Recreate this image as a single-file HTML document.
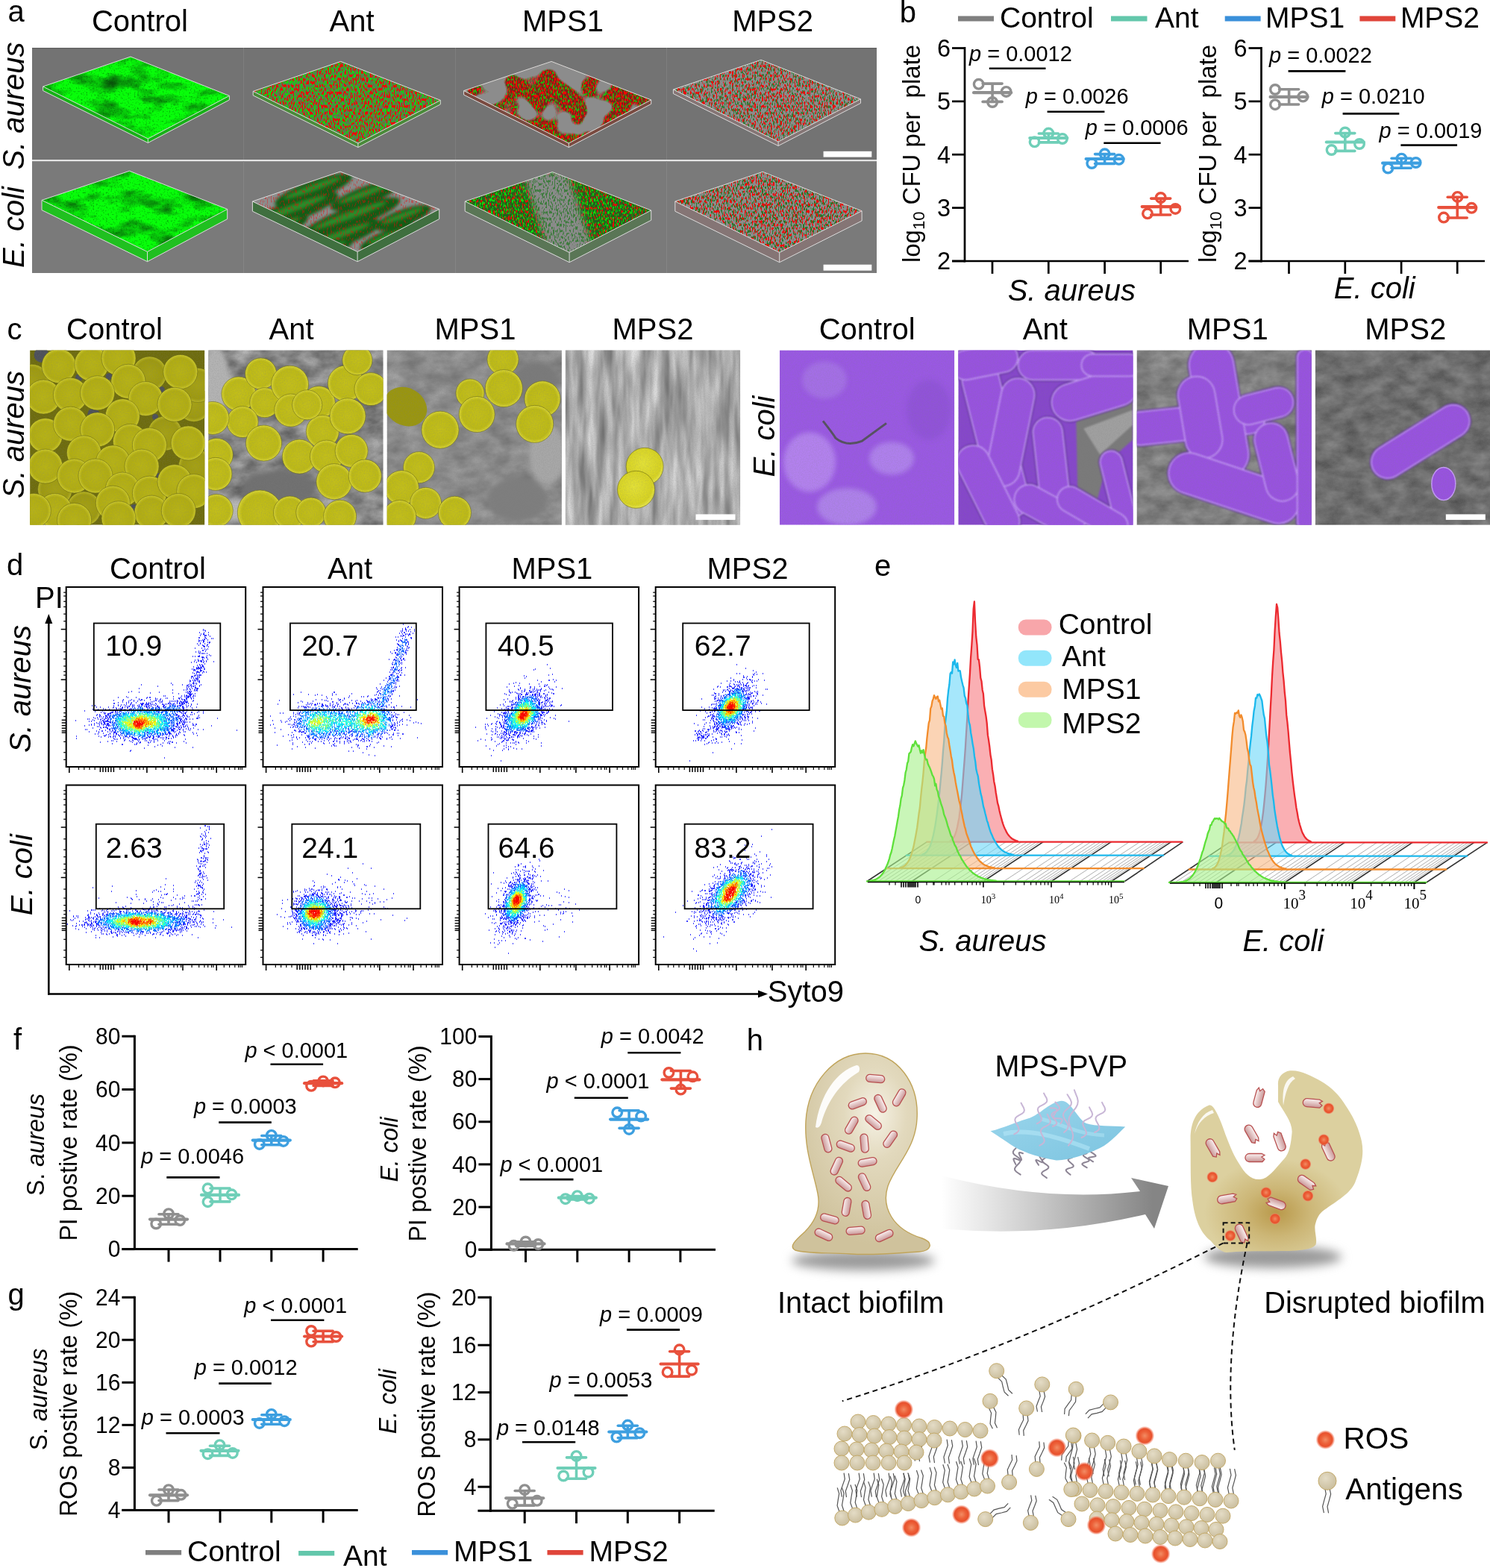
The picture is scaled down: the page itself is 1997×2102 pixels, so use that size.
<!DOCTYPE html><html><head><meta charset="utf-8"><title>Figure</title><style>html,body{margin:0;padding:0;background:#fff;width:1997px;height:2102px;overflow:hidden}</style></head><body><svg width="1997" height="2102" viewBox="0 0 1997 2102" style="display:block;font-family:'Liberation Sans', Arial, sans-serif"><defs>
<filter id="fGreen" color-interpolation-filters="sRGB" filterUnits="userSpaceOnUse" x="40" y="60" width="1140" height="310">
 <feTurbulence type="fractalNoise" baseFrequency="0.025 0.05" numOctaves="5" seed="3"/>
 <feColorMatrix type="matrix" values="0 0 0 0 0.03  1.5 0 0 0 0.17  0 0 0 0 0.04  0 0 0 0 1"/>
</filter>
<filter id="fGreen2" color-interpolation-filters="sRGB" filterUnits="userSpaceOnUse" x="40" y="60" width="1140" height="310">
 <feTurbulence type="fractalNoise" baseFrequency="0.025 0.05" numOctaves="5" seed="11"/>
 <feColorMatrix type="matrix" values="0 0 0 0 0.03  1.5 0 0 0 0.19  0 0 0 0 0.04  0 0 0 0 1"/>
</filter>
<filter id="fRed" color-interpolation-filters="sRGB" filterUnits="userSpaceOnUse" x="40" y="60" width="1140" height="310">
 <feTurbulence type="fractalNoise" baseFrequency="0.6 0.22" numOctaves="1" seed="5"/>
 <feColorMatrix type="matrix" values="0 0 0 0 0.95  0 0 0 0 0.02  0 0 0 0 0.02  14 0 0 0 -7.4"/>
</filter>
<filter id="fRedS" color-interpolation-filters="sRGB" filterUnits="userSpaceOnUse" x="40" y="60" width="1140" height="310">
 <feTurbulence type="fractalNoise" baseFrequency="0.6 0.22" numOctaves="1" seed="8"/>
 <feColorMatrix type="matrix" values="0 0 0 0 0.95  0 0 0 0 0.02  0 0 0 0 0.02  14 0 0 0 -7.75"/>
</filter>
<filter id="fGrnS" color-interpolation-filters="sRGB" filterUnits="userSpaceOnUse" x="40" y="60" width="1140" height="310">
 <feTurbulence type="fractalNoise" baseFrequency="0.6 0.24" numOctaves="1" seed="21"/>
 <feColorMatrix type="matrix" values="0 0 0 0 0.05  0 0 0 0 0.85  0 0 0 0 0.05  14 0 0 0 -7.0"/>
</filter>
<filter id="fGrnSd" color-interpolation-filters="sRGB" filterUnits="userSpaceOnUse" x="40" y="60" width="1140" height="310">
 <feTurbulence type="fractalNoise" baseFrequency="0.6 0.24" numOctaves="1" seed="31"/>
 <feColorMatrix type="matrix" values="0 0 0 0 0.05  0 0 0 0 0.45  0 0 0 0 0.05  14 0 0 0 -7.3"/>
</filter>
<filter id="fHoles" color-interpolation-filters="sRGB" filterUnits="userSpaceOnUse" x="40" y="60" width="1140" height="310">
 <feTurbulence type="fractalNoise" baseFrequency="0.028" numOctaves="2" seed="7"/>
 <feColorMatrix type="matrix" values="0 0 0 0 0.55  0 0 0 0 0.55  0 0 0 0 0.55  14 0 0 0 -6.75"/>
</filter>
<filter id="fGGrain" color-interpolation-filters="sRGB" filterUnits="userSpaceOnUse" x="40" y="60" width="1140" height="310">
 <feTurbulence type="fractalNoise" baseFrequency="0.45" numOctaves="2" seed="17"/>
 <feColorMatrix type="matrix" values="0 0 0 0 0  0 0 0 0 0.3  0 0 0 0 0  1.5 0 0 0 -0.8"/>
</filter>
<filter id="fBlur2" color-interpolation-filters="sRGB"><feGaussianBlur stdDeviation="2"/></filter>
<filter id="fBlur4" color-interpolation-filters="sRGB"><feGaussianBlur stdDeviation="4"/></filter>

<radialGradient id="gCoc" cx="0.5" cy="0.5" r="0.5">
 <stop offset="0" stop-color="#b8b414"/><stop offset="0.8" stop-color="#b2ae10"/><stop offset="0.92" stop-color="#c2be1c"/><stop offset="1" stop-color="#d8d634"/>
</radialGradient>
<radialGradient id="gCocA" cx="0.5" cy="0.5" r="0.5">
 <stop offset="0" stop-color="#c4c018"/><stop offset="0.8" stop-color="#bebb14"/><stop offset="0.92" stop-color="#cfcb24"/><stop offset="1" stop-color="#e0de3c"/>
</radialGradient>
<radialGradient id="gCocD" cx="0.5" cy="0.5" r="0.5">
 <stop offset="0" stop-color="#a6a212"/><stop offset="0.8" stop-color="#9e9a0e"/><stop offset="0.93" stop-color="#b0ac1a"/><stop offset="1" stop-color="#c8c62e"/>
</radialGradient>
<radialGradient id="gCocB" cx="0.45" cy="0.42" r="0.6">
 <stop offset="0" stop-color="#e4e236"/><stop offset="0.8" stop-color="#d8d420"/><stop offset="1" stop-color="#eceb50"/>
</radialGradient>
<filter id="fGrain" color-interpolation-filters="sRGB" filterUnits="userSpaceOnUse" x="0" y="460" width="1997" height="250">
 <feTurbulence type="fractalNoise" baseFrequency="0.7" numOctaves="2" seed="4"/>
 <feColorMatrix type="matrix" values="0 0 0 0 0.5  0 0 0 0 0.5  0 0 0 0 0.5  1.6 0 0 0 -0.6"/>
</filter>
<filter id="fSemBg" color-interpolation-filters="sRGB" filterUnits="userSpaceOnUse" x="0" y="460" width="1997" height="250">
 <feTurbulence type="fractalNoise" baseFrequency="0.035 0.06" numOctaves="4" seed="9"/>
 <feColorMatrix type="matrix" values="0.9 0 0 0 0.08  0.9 0 0 0 0.08  0.9 0 0 0 0.08  0 0 0 0 1"/>
</filter>
<filter id="fFib" color-interpolation-filters="sRGB" filterUnits="userSpaceOnUse" x="0" y="460" width="1997" height="250">
 <feTurbulence type="fractalNoise" baseFrequency="0.07 0.01" numOctaves="3" seed="12"/>
 <feColorMatrix type="matrix" values="0.8 0 0 0 0.28  0.8 0 0 0 0.28  0.8 0 0 0 0.28  0 0 0 0 1"/>
</filter>
<filter id="fSoft" color-interpolation-filters="sRGB" x="-50%" y="-50%" width="200%" height="200%"><feGaussianBlur stdDeviation="1.2"/></filter>
<filter id="fSoft3" color-interpolation-filters="sRGB"><feGaussianBlur stdDeviation="3"/></filter>

<radialGradient id="gBio" cx="0.6" cy="0.3" r="0.65">
 <stop offset="0" stop-color="#f6f2e6"/><stop offset="0.35" stop-color="#e2d9bd"/><stop offset="1" stop-color="#cfc29c"/>
</radialGradient>
<radialGradient id="gBio2" cx="0.5" cy="0.78" r="0.42" gradientTransform="translate(0.5 0.78) scale(1 0.7) translate(-0.5 -0.78)">
 <stop offset="0" stop-color="#b9994a"/><stop offset="0.45" stop-color="#ccb676"/><stop offset="1" stop-color="#dcd09f"/>
</radialGradient>
<linearGradient id="gRod" x1="0" y1="0" x2="0" y2="1">
 <stop offset="0" stop-color="#fbf2f2"/><stop offset="1" stop-color="#c99696"/>
</linearGradient>
<linearGradient id="gArrow" gradientUnits="userSpaceOnUse" x1="1262" y1="0" x2="1545" y2="0">
 <stop offset="0" stop-color="#ffffff"/><stop offset="0.35" stop-color="#d6d6d6"/><stop offset="1" stop-color="#858585"/>
</linearGradient>
<radialGradient id="gROS">
 <stop offset="0" stop-color="#f28c64"/><stop offset="0.45" stop-color="#ec6038"/><stop offset="0.72" stop-color="#e8502c"/><stop offset="0.86" stop-color="#f07050" stop-opacity="0.6"/><stop offset="1" stop-color="#f8a090" stop-opacity="0"/>
</radialGradient>
<radialGradient id="gHead" cx="0.4" cy="0.35" r="0.65">
 <stop offset="0" stop-color="#e4dcc6"/><stop offset="1" stop-color="#cbbf9f"/>
</radialGradient>
<linearGradient id="gSheet" x1="0" y1="0" x2="1" y2="1">
 <stop offset="0" stop-color="#9ad6ec"/><stop offset="0.5" stop-color="#8ccde6"/><stop offset="1" stop-color="#7cc4e0"/>
</linearGradient>
<filter id="fShadow" color-interpolation-filters="sRGB" x="-30%" y="-100%" width="160%" height="300%"><feGaussianBlur stdDeviation="7"/></filter>
</defs><rect width="1997" height="2102" fill="#fff"/><text x="10.5" y="29.4" style="font-size:40px" transform="translate(10.5 29.4) scale(1 1.015) translate(-10.5 -29.4)">a</text><text x="187.4" y="41.6" text-anchor="middle" style="font-size:40px" transform="translate(187.4 41.6) scale(1 1.015) translate(-187.4 -41.6)">Control</text><text x="471.6" y="41.6" text-anchor="middle" style="font-size:40px" transform="translate(471.6 41.6) scale(1 1.015) translate(-471.6 -41.6)">Ant</text><text x="754.5" y="41.6" text-anchor="middle" style="font-size:40px" transform="translate(754.5 41.6) scale(1 1.015) translate(-754.5 -41.6)">MPS1</text><text x="1035.6" y="41.6" text-anchor="middle" style="font-size:40px" transform="translate(1035.6 41.6) scale(1 1.015) translate(-1035.6 -41.6)">MPS2</text><text x="32.0" y="142.0" text-anchor="middle" style="font-size:40px;font-style:italic" transform="rotate(-90 32.0 142.0) translate(32.0 142.0) scale(1 1.015) translate(-32.0 -142.0)">S. aureus</text><text x="32.0" y="304.5" text-anchor="middle" style="font-size:40px;font-style:italic" transform="rotate(-90 32.0 304.5) translate(32.0 304.5) scale(1 1.015) translate(-32.0 -304.5)">E. coli</text><rect x="43.0" y="64.0" width="1132.0" height="150.5" fill="#737373"/><rect x="43.0" y="216.0" width="1132.0" height="150.0" fill="#7a7a7a"/><rect x="43.0" y="64.0" width="1132.0" height="1.5" fill="#646464"/><rect x="43.0" y="214.0" width="1132.0" height="2.2" fill="#e4e4e4"/><rect x="326.0" y="64.0" width="1.0" height="150.0" fill="#7e7e7e"/><rect x="326.0" y="216.0" width="1.0" height="150.0" fill="#858585"/><rect x="610.0" y="64.0" width="1.0" height="150.0" fill="#7e7e7e"/><rect x="610.0" y="216.0" width="1.0" height="150.0" fill="#858585"/><rect x="893.0" y="64.0" width="1.0" height="150.0" fill="#7e7e7e"/><rect x="893.0" y="216.0" width="1.0" height="150.0" fill="#858585"/><clipPath id="clipA1"><polygon points="175.0,76.0 307.4,128.4 198.3,186.0 57.6,116.0" fill="none"/></clipPath><polygon points="57.6,116.0 198.3,186.0 198.3,191.5 57.6,121.5" fill="#18b018"/><polygon points="198.3,186.0 307.4,128.4 307.4,133.9 198.3,191.5" fill="#18b018"/><g clip-path="url(#clipA1)"><rect x="40.0" y="60.0" width="300.0" height="160.0" fill="#0a8a0a"/><rect x="40" y="60" width="1140" height="310" filter="url(#fGreen)"/><rect x="40" y="60" width="1140" height="310" filter="url(#fGGrain)"/></g><polygon points="175.0,76.0 307.4,128.4 198.3,186.0 57.6,116.0" fill="none" stroke="#dcdcdc" stroke-width="1"/><line x1="57.6" y1="116.0" x2="57.6" y2="121.5" stroke="#dcdcdc" stroke-width="1"/><line x1="198.3" y1="186.0" x2="198.3" y2="191.5" stroke="#dcdcdc" stroke-width="1"/><line x1="307.4" y1="128.4" x2="307.4" y2="133.9" stroke="#dcdcdc" stroke-width="1"/><polyline points="57.6,121.5 198.3,191.5 307.4,133.9" fill="none" stroke="#dcdcdc" stroke-width="1"/><clipPath id="clipA2"><polygon points="456.7,82.4 590.3,134.4 479.9,192.0 339.2,122.4" fill="none"/></clipPath><polygon points="339.2,122.4 479.9,192.0 479.9,197.5 339.2,127.9" fill="#4a8a3a"/><polygon points="479.9,192.0 590.3,134.4 590.3,139.9 479.9,197.5" fill="#4a8a3a"/><g clip-path="url(#clipA2)"><rect x="320.0" y="60.0" width="300.0" height="160.0" fill="#5a7a50"/><rect x="40" y="60" width="1140" height="310" filter="url(#fGrnS)"/><rect x="40" y="60" width="1140" height="310" filter="url(#fRed)"/></g><polygon points="456.7,82.4 590.3,134.4 479.9,192.0 339.2,122.4" fill="none" stroke="#dcdcdc" stroke-width="1"/><line x1="339.2" y1="122.4" x2="339.2" y2="127.9" stroke="#dcdcdc" stroke-width="1"/><line x1="479.9" y1="192.0" x2="479.9" y2="197.5" stroke="#dcdcdc" stroke-width="1"/><line x1="590.3" y1="134.4" x2="590.3" y2="139.9" stroke="#dcdcdc" stroke-width="1"/><polyline points="339.2,127.9 479.9,197.5 590.3,139.9" fill="none" stroke="#dcdcdc" stroke-width="1"/><clipPath id="clipA3"><polygon points="739.1,82.4 872.7,133.9 762.3,192.0 621.6,121.6" fill="none"/></clipPath><polygon points="621.6,121.6 762.3,192.0 762.3,197.5 621.6,127.1" fill="#7a4a40"/><polygon points="762.3,192.0 872.7,133.9 872.7,139.4 762.3,197.5" fill="#7a4a40"/><g clip-path="url(#clipA3)"><rect x="600.0" y="60.0" width="300.0" height="160.0" fill="#7a2418"/><rect x="40" y="60" width="1140" height="310" filter="url(#fGrnS)" opacity="0.8"/><rect x="40" y="60" width="1140" height="310" filter="url(#fRed)"/><rect x="40" y="60" width="1140" height="310" filter="url(#fHoles)"/></g><polygon points="739.1,82.4 872.7,133.9 762.3,192.0 621.6,121.6" fill="none" stroke="#dcdcdc" stroke-width="1"/><line x1="621.6" y1="121.6" x2="621.6" y2="127.1" stroke="#dcdcdc" stroke-width="1"/><line x1="762.3" y1="192.0" x2="762.3" y2="197.5" stroke="#dcdcdc" stroke-width="1"/><line x1="872.7" y1="133.9" x2="872.7" y2="139.4" stroke="#dcdcdc" stroke-width="1"/><polyline points="621.6,127.1 762.3,197.5 872.7,139.4" fill="none" stroke="#dcdcdc" stroke-width="1"/><clipPath id="clipA4"><polygon points="1019.9,80.3 1153.5,132.8 1043.1,190.0 902.4,120.0" fill="none"/></clipPath><polygon points="902.4,120.0 1043.1,190.0 1043.1,195.5 902.4,125.5" fill="#857575"/><polygon points="1043.1,190.0 1153.5,132.8 1153.5,138.3 1043.1,195.5" fill="#857575"/><g clip-path="url(#clipA4)"><rect x="880.0" y="60.0" width="300.0" height="160.0" fill="#8c8c8c"/><rect x="40" y="60" width="1140" height="310" filter="url(#fGrnSd)" opacity="0.7"/><rect x="40" y="60" width="1140" height="310" filter="url(#fRedS)"/></g><polygon points="1019.9,80.3 1153.5,132.8 1043.1,190.0 902.4,120.0" fill="none" stroke="#dcdcdc" stroke-width="1"/><line x1="902.4" y1="120.0" x2="902.4" y2="125.5" stroke="#dcdcdc" stroke-width="1"/><line x1="1043.1" y1="190.0" x2="1043.1" y2="195.5" stroke="#dcdcdc" stroke-width="1"/><line x1="1153.5" y1="132.8" x2="1153.5" y2="138.3" stroke="#dcdcdc" stroke-width="1"/><polyline points="902.4,125.5 1043.1,195.5 1153.5,138.3" fill="none" stroke="#dcdcdc" stroke-width="1"/><clipPath id="clipA5"><polygon points="173.5,229.2 304.7,280.4 197.5,337.5 56.0,268.4" fill="none"/></clipPath><polygon points="56.0,268.4 197.5,337.5 197.5,350.7 56.0,281.6" fill="#20c020"/><polygon points="197.5,337.5 304.7,280.4 304.7,293.6 197.5,350.7" fill="#20c020"/><g clip-path="url(#clipA5)"><rect x="40.0" y="210.0" width="300.0" height="160.0" fill="#0a8a0a"/><rect x="40" y="60" width="1140" height="310" filter="url(#fGreen2)"/><rect x="40" y="60" width="1140" height="310" filter="url(#fGGrain)"/></g><polygon points="173.5,229.2 304.7,280.4 197.5,337.5 56.0,268.4" fill="none" stroke="#dcdcdc" stroke-width="1"/><line x1="56.0" y1="268.4" x2="56.0" y2="281.6" stroke="#dcdcdc" stroke-width="1"/><line x1="197.5" y1="337.5" x2="197.5" y2="350.7" stroke="#dcdcdc" stroke-width="1"/><line x1="304.7" y1="280.4" x2="304.7" y2="293.6" stroke="#dcdcdc" stroke-width="1"/><polyline points="56.0,281.6 197.5,350.7 304.7,293.6" fill="none" stroke="#dcdcdc" stroke-width="1"/><clipPath id="clipA6"><polygon points="455.9,230.0 588.7,280.4 479.1,337.5 338.4,270.0" fill="none"/></clipPath><polygon points="338.4,270.0 479.1,337.5 479.1,350.7 338.4,283.2" fill="#3f6f3f"/><polygon points="479.1,337.5 588.7,280.4 588.7,293.6 479.1,350.7" fill="#3f6f3f"/><g clip-path="url(#clipA6)"><rect x="320.0" y="210.0" width="300.0" height="160.0" fill="#8c8c8c"/><g filter="url(#fBlur2)"><ellipse cx="420" cy="255" rx="55" ry="13" fill="#135c15" transform="rotate(-20 420 255)"/><ellipse cx="420" cy="251.8" rx="41.2" ry="4.5" fill="#2a8c2a" transform="rotate(-20 420 255)"/><ellipse cx="490" cy="262" rx="50" ry="12" fill="#135c15" transform="rotate(-20 490 262)"/><ellipse cx="490" cy="259.0" rx="37.5" ry="4.2" fill="#2a8c2a" transform="rotate(-20 490 262)"/><ellipse cx="395" cy="282" rx="62" ry="14" fill="#135c15" transform="rotate(-20 395 282)"/><ellipse cx="395" cy="278.5" rx="46.5" ry="4.9" fill="#2a8c2a" transform="rotate(-20 395 282)"/><ellipse cx="470" cy="292" rx="70" ry="14" fill="#135c15" transform="rotate(-20 470 292)"/><ellipse cx="470" cy="288.5" rx="52.5" ry="4.9" fill="#2a8c2a" transform="rotate(-20 470 292)"/><ellipse cx="540" cy="292" rx="40" ry="11" fill="#135c15" transform="rotate(-20 540 292)"/><ellipse cx="540" cy="289.2" rx="30.0" ry="3.8" fill="#2a8c2a" transform="rotate(-20 540 292)"/><ellipse cx="375" cy="305" rx="40" ry="11" fill="#135c15" transform="rotate(-20 375 305)"/><ellipse cx="375" cy="302.2" rx="30.0" ry="3.8" fill="#2a8c2a" transform="rotate(-20 375 305)"/><ellipse cx="455" cy="318" rx="60" ry="13" fill="#135c15" transform="rotate(-20 455 318)"/><ellipse cx="455" cy="314.8" rx="45.0" ry="4.5" fill="#2a8c2a" transform="rotate(-20 455 318)"/><ellipse cx="525" cy="318" rx="45" ry="11" fill="#135c15" transform="rotate(-20 525 318)"/><ellipse cx="525" cy="315.2" rx="33.8" ry="3.8" fill="#2a8c2a" transform="rotate(-20 525 318)"/><ellipse cx="440" cy="335" rx="35" ry="9" fill="#135c15" transform="rotate(-20 440 335)"/><ellipse cx="440" cy="332.8" rx="26.2" ry="3.1" fill="#2a8c2a" transform="rotate(-20 440 335)"/><ellipse cx="560" cy="310" rx="25" ry="8" fill="#135c15" transform="rotate(-20 560 310)"/><ellipse cx="560" cy="308.0" rx="18.8" ry="2.8" fill="#2a8c2a" transform="rotate(-20 560 310)"/></g><rect x="40" y="60" width="1140" height="310" filter="url(#fRedS)" opacity="0.4"/></g><polygon points="455.9,230.0 588.7,280.4 479.1,337.5 338.4,270.0" fill="none" stroke="#dcdcdc" stroke-width="1"/><line x1="338.4" y1="270.0" x2="338.4" y2="283.2" stroke="#dcdcdc" stroke-width="1"/><line x1="479.1" y1="337.5" x2="479.1" y2="350.7" stroke="#dcdcdc" stroke-width="1"/><line x1="588.7" y1="280.4" x2="588.7" y2="293.6" stroke="#dcdcdc" stroke-width="1"/><polyline points="338.4,283.2 479.1,350.7 588.7,293.6" fill="none" stroke="#dcdcdc" stroke-width="1"/><clipPath id="clipA7"><polygon points="740.4,230.5 872.7,282.0 763.1,338.5 623.2,270.0" fill="none"/></clipPath><polygon points="623.2,270.0 763.1,338.5 763.1,351.7 623.2,283.2" fill="#5a7656"/><polygon points="763.1,338.5 872.7,282.0 872.7,295.2 763.1,351.7" fill="#5a7656"/><g clip-path="url(#clipA7)"><rect x="600.0" y="210.0" width="300.0" height="160.0" fill="#2a5a22"/><rect x="40" y="60" width="1140" height="310" filter="url(#fGrnS)"/><rect x="40" y="60" width="1140" height="310" filter="url(#fRedS)"/><g filter="url(#fBlur4)"><polygon points="700.0,230.0 760.0,230.0 800.0,350.0 740.0,350.0" fill="#8a8a8a"/></g><rect x="40" y="60" width="1140" height="310" filter="url(#fGrnSd)" opacity="0.6"/></g><polygon points="740.4,230.5 872.7,282.0 763.1,338.5 623.2,270.0" fill="none" stroke="#dcdcdc" stroke-width="1"/><line x1="623.2" y1="270.0" x2="623.2" y2="283.2" stroke="#dcdcdc" stroke-width="1"/><line x1="763.1" y1="338.5" x2="763.1" y2="351.7" stroke="#dcdcdc" stroke-width="1"/><line x1="872.7" y1="282.0" x2="872.7" y2="295.2" stroke="#dcdcdc" stroke-width="1"/><polyline points="623.2,283.2 763.1,351.7 872.7,295.2" fill="none" stroke="#dcdcdc" stroke-width="1"/><clipPath id="clipA8"><polygon points="1022.3,230.3 1155.1,282.8 1044.7,338.5 904.8,270.0" fill="none"/></clipPath><polygon points="904.8,270.0 1044.7,338.5 1044.7,351.7 904.8,283.2" fill="#857575"/><polygon points="1044.7,338.5 1155.1,282.8 1155.1,296.0 1044.7,351.7" fill="#857575"/><g clip-path="url(#clipA8)"><rect x="880.0" y="210.0" width="300.0" height="160.0" fill="#8c8c8c"/><rect x="40" y="60" width="1140" height="310" filter="url(#fGrnSd)" opacity="0.8"/><rect x="40" y="60" width="1140" height="310" filter="url(#fRedS)"/></g><polygon points="1022.3,230.3 1155.1,282.8 1044.7,338.5 904.8,270.0" fill="none" stroke="#dcdcdc" stroke-width="1"/><line x1="904.8" y1="270.0" x2="904.8" y2="283.2" stroke="#dcdcdc" stroke-width="1"/><line x1="1044.7" y1="338.5" x2="1044.7" y2="351.7" stroke="#dcdcdc" stroke-width="1"/><line x1="1155.1" y1="282.8" x2="1155.1" y2="296.0" stroke="#dcdcdc" stroke-width="1"/><polyline points="904.8,283.2 1044.7,351.7 1155.1,296.0" fill="none" stroke="#dcdcdc" stroke-width="1"/><rect x="1103.6" y="202.8" width="64.7" height="7.8" fill="#ffffff"/><rect x="1103.6" y="354.7" width="64.7" height="8.0" fill="#ffffff"/><rect x="1284.0" y="21.5" width="48.0" height="7.0" fill="#7f7f7f"/><text x="1340.0" y="37.0" style="font-size:39px" transform="translate(1340.0 37.0) scale(1 1.015) translate(-1340.0 -37.0)">Control</text><rect x="1489.0" y="21.5" width="48.5" height="7.0" fill="#63c7ab"/><text x="1548.0" y="37.0" style="font-size:39px" transform="translate(1548.0 37.0) scale(1 1.015) translate(-1548.0 -37.0)">Ant</text><rect x="1641.7" y="21.5" width="47.9" height="7.0" fill="#3a90da"/><text x="1696.0" y="37.0" style="font-size:39px" transform="translate(1696.0 37.0) scale(1 1.015) translate(-1696.0 -37.0)">MPS1</text><rect x="1822.4" y="21.5" width="47.9" height="7.0" fill="#e0453a"/><text x="1876.9" y="37.0" style="font-size:39px" transform="translate(1876.9 37.0) scale(1 1.015) translate(-1876.9 -37.0)">MPS2</text><text x="1205.7" y="30.2" style="font-size:40px" transform="translate(1205.7 30.2) scale(1 1.015) translate(-1205.7 -30.2)">b</text><line x1="1293.0" y1="63.0" x2="1293.0" y2="351.5" stroke="#000" stroke-width="2.7"/><line x1="1276.0" y1="350.0" x2="1593.0" y2="350.0" stroke="#000" stroke-width="2.7"/><line x1="1276.0" y1="64.5" x2="1293.0" y2="64.5" stroke="#000" stroke-width="2.7"/><text x="1274.0" y="76.0" text-anchor="end" style="font-size:32.5px" transform="translate(1274.0 76.0) scale(1 1.015) translate(-1274.0 -76.0)">6</text><line x1="1276.0" y1="135.9" x2="1293.0" y2="135.9" stroke="#000" stroke-width="2.7"/><text x="1274.0" y="147.4" text-anchor="end" style="font-size:32.5px" transform="translate(1274.0 147.4) scale(1 1.015) translate(-1274.0 -147.4)">5</text><line x1="1276.0" y1="207.2" x2="1293.0" y2="207.2" stroke="#000" stroke-width="2.7"/><text x="1274.0" y="218.8" text-anchor="end" style="font-size:32.5px" transform="translate(1274.0 218.8) scale(1 1.015) translate(-1274.0 -218.8)">4</text><line x1="1276.0" y1="278.6" x2="1293.0" y2="278.6" stroke="#000" stroke-width="2.7"/><text x="1274.0" y="290.2" text-anchor="end" style="font-size:32.5px" transform="translate(1274.0 290.2) scale(1 1.015) translate(-1274.0 -290.2)">3</text><line x1="1276.0" y1="350.0" x2="1293.0" y2="350.0" stroke="#000" stroke-width="2.7"/><text x="1274.0" y="361.5" text-anchor="end" style="font-size:32.5px" transform="translate(1274.0 361.5) scale(1 1.015) translate(-1274.0 -361.5)">2</text><line x1="1330.0" y1="350.0" x2="1330.0" y2="367.0" stroke="#000" stroke-width="2.7"/><line x1="1405.3" y1="350.0" x2="1405.3" y2="367.0" stroke="#000" stroke-width="2.7"/><line x1="1480.6" y1="350.0" x2="1480.6" y2="367.0" stroke="#000" stroke-width="2.7"/><line x1="1555.7" y1="350.0" x2="1555.7" y2="367.0" stroke="#000" stroke-width="2.7"/><line x1="1330.1" y1="112.1" x2="1330.1" y2="136.4" stroke="#8f8f8f" stroke-width="3.6"/><line x1="1317.1" y1="112.1" x2="1343.1" y2="112.1" stroke="#8f8f8f" stroke-width="3.6" stroke-linecap="round"/><line x1="1317.1" y1="136.4" x2="1343.1" y2="136.4" stroke="#8f8f8f" stroke-width="3.6" stroke-linecap="round"/><line x1="1305.1" y1="124.2" x2="1355.1" y2="124.2" stroke="#8f8f8f" stroke-width="4.2" stroke-linecap="round"/><circle cx="1311.7" cy="112.8" r="6.3" fill="none" stroke="#8f8f8f" stroke-width="3.4"/><circle cx="1348.6" cy="122.9" r="6.3" fill="none" stroke="#8f8f8f" stroke-width="3.4"/><circle cx="1330.1" cy="137.0" r="6.3" fill="none" stroke="#8f8f8f" stroke-width="3.4"/><line x1="1405.3" y1="179.0" x2="1405.3" y2="190.9" stroke="#6fcfb8" stroke-width="3.6"/><line x1="1392.3" y1="179.0" x2="1418.3" y2="179.0" stroke="#6fcfb8" stroke-width="3.6" stroke-linecap="round"/><line x1="1392.3" y1="190.9" x2="1418.3" y2="190.9" stroke="#6fcfb8" stroke-width="3.6" stroke-linecap="round"/><line x1="1380.3" y1="185.0" x2="1430.3" y2="185.0" stroke="#6fcfb8" stroke-width="4.2" stroke-linecap="round"/><circle cx="1386.6" cy="190.3" r="6.3" fill="none" stroke="#6fcfb8" stroke-width="3.4"/><circle cx="1405.3" cy="178.6" r="6.3" fill="none" stroke="#6fcfb8" stroke-width="3.4"/><circle cx="1423.9" cy="186.0" r="6.3" fill="none" stroke="#6fcfb8" stroke-width="3.4"/><line x1="1480.6" y1="206.6" x2="1480.6" y2="219.4" stroke="#3d9fe0" stroke-width="3.6"/><line x1="1467.6" y1="206.6" x2="1493.6" y2="206.6" stroke="#3d9fe0" stroke-width="3.6" stroke-linecap="round"/><line x1="1467.6" y1="219.4" x2="1493.6" y2="219.4" stroke="#3d9fe0" stroke-width="3.6" stroke-linecap="round"/><line x1="1455.6" y1="213.0" x2="1505.6" y2="213.0" stroke="#3d9fe0" stroke-width="4.2" stroke-linecap="round"/><circle cx="1463.3" cy="219.0" r="6.3" fill="none" stroke="#3d9fe0" stroke-width="3.4"/><circle cx="1480.6" cy="206.3" r="6.3" fill="none" stroke="#3d9fe0" stroke-width="3.4"/><circle cx="1499.6" cy="213.8" r="6.3" fill="none" stroke="#3d9fe0" stroke-width="3.4"/><line x1="1555.7" y1="266.1" x2="1555.7" y2="288.0" stroke="#e8503c" stroke-width="3.6"/><line x1="1542.7" y1="266.1" x2="1568.7" y2="266.1" stroke="#e8503c" stroke-width="3.6" stroke-linecap="round"/><line x1="1542.7" y1="288.0" x2="1568.7" y2="288.0" stroke="#e8503c" stroke-width="3.6" stroke-linecap="round"/><line x1="1530.7" y1="277.1" x2="1580.7" y2="277.1" stroke="#e8503c" stroke-width="4.2" stroke-linecap="round"/><circle cx="1538.0" cy="286.3" r="6.3" fill="none" stroke="#e8503c" stroke-width="3.4"/><circle cx="1555.7" cy="265.0" r="6.3" fill="none" stroke="#e8503c" stroke-width="3.4"/><circle cx="1575.3" cy="279.9" r="6.3" fill="none" stroke="#e8503c" stroke-width="3.4"/><line x1="1325.8" y1="91.8" x2="1401.5" y2="91.8" stroke="#000" stroke-width="2.6"/><text x="1299.0" y="81.6" style="font-size:29px" transform="translate(1299.0 81.6) scale(1 1.015) translate(-1299.0 -81.6)"><tspan style="font-style:italic">p</tspan> = 0.0012</text><line x1="1403.6" y1="149.8" x2="1480.4" y2="149.8" stroke="#000" stroke-width="2.6"/><text x="1374.8" y="139.0" style="font-size:29px" transform="translate(1374.8 139.0) scale(1 1.015) translate(-1374.8 -139.0)"><tspan style="font-style:italic">p</tspan> = 0.0026</text><line x1="1479.3" y1="191.8" x2="1555.6" y2="191.8" stroke="#000" stroke-width="2.6"/><text x="1454.8" y="181.2" style="font-size:29px" transform="translate(1454.8 181.2) scale(1 1.015) translate(-1454.8 -181.2)"><tspan style="font-style:italic">p</tspan> = 0.0006</text><line x1="1690.5" y1="63.0" x2="1690.5" y2="351.5" stroke="#000" stroke-width="2.7"/><line x1="1673.5" y1="350.0" x2="1990.0" y2="350.0" stroke="#000" stroke-width="2.7"/><line x1="1673.5" y1="64.5" x2="1690.5" y2="64.5" stroke="#000" stroke-width="2.7"/><text x="1671.5" y="76.0" text-anchor="end" style="font-size:32.5px" transform="translate(1671.5 76.0) scale(1 1.015) translate(-1671.5 -76.0)">6</text><line x1="1673.5" y1="135.9" x2="1690.5" y2="135.9" stroke="#000" stroke-width="2.7"/><text x="1671.5" y="147.4" text-anchor="end" style="font-size:32.5px" transform="translate(1671.5 147.4) scale(1 1.015) translate(-1671.5 -147.4)">5</text><line x1="1673.5" y1="207.2" x2="1690.5" y2="207.2" stroke="#000" stroke-width="2.7"/><text x="1671.5" y="218.8" text-anchor="end" style="font-size:32.5px" transform="translate(1671.5 218.8) scale(1 1.015) translate(-1671.5 -218.8)">4</text><line x1="1673.5" y1="278.6" x2="1690.5" y2="278.6" stroke="#000" stroke-width="2.7"/><text x="1671.5" y="290.2" text-anchor="end" style="font-size:32.5px" transform="translate(1671.5 290.2) scale(1 1.015) translate(-1671.5 -290.2)">3</text><line x1="1673.5" y1="350.0" x2="1690.5" y2="350.0" stroke="#000" stroke-width="2.7"/><text x="1671.5" y="361.5" text-anchor="end" style="font-size:32.5px" transform="translate(1671.5 361.5) scale(1 1.015) translate(-1671.5 -361.5)">2</text><line x1="1727.5" y1="350.0" x2="1727.5" y2="367.0" stroke="#000" stroke-width="2.7"/><line x1="1802.8" y1="350.0" x2="1802.8" y2="367.0" stroke="#000" stroke-width="2.7"/><line x1="1878.1" y1="350.0" x2="1878.1" y2="367.0" stroke="#000" stroke-width="2.7"/><line x1="1953.2" y1="350.0" x2="1953.2" y2="367.0" stroke="#000" stroke-width="2.7"/><line x1="1727.6" y1="119.8" x2="1727.6" y2="140.0" stroke="#8f8f8f" stroke-width="3.6"/><line x1="1714.6" y1="119.8" x2="1740.6" y2="119.8" stroke="#8f8f8f" stroke-width="3.6" stroke-linecap="round"/><line x1="1714.6" y1="140.0" x2="1740.6" y2="140.0" stroke="#8f8f8f" stroke-width="3.6" stroke-linecap="round"/><line x1="1702.6" y1="129.9" x2="1752.6" y2="129.9" stroke="#8f8f8f" stroke-width="4.2" stroke-linecap="round"/><circle cx="1709.0" cy="120.0" r="6.3" fill="none" stroke="#8f8f8f" stroke-width="3.4"/><circle cx="1746.3" cy="129.6" r="6.3" fill="none" stroke="#8f8f8f" stroke-width="3.4"/><circle cx="1709.0" cy="140.2" r="6.3" fill="none" stroke="#8f8f8f" stroke-width="3.4"/><line x1="1802.8" y1="178.6" x2="1802.8" y2="202.4" stroke="#6fcfb8" stroke-width="3.6"/><line x1="1789.8" y1="178.6" x2="1815.8" y2="178.6" stroke="#6fcfb8" stroke-width="3.6" stroke-linecap="round"/><line x1="1789.8" y1="202.4" x2="1815.8" y2="202.4" stroke="#6fcfb8" stroke-width="3.6" stroke-linecap="round"/><line x1="1777.8" y1="190.5" x2="1827.8" y2="190.5" stroke="#6fcfb8" stroke-width="4.2" stroke-linecap="round"/><circle cx="1784.6" cy="201.0" r="6.3" fill="none" stroke="#6fcfb8" stroke-width="3.4"/><circle cx="1802.8" cy="177.5" r="6.3" fill="none" stroke="#6fcfb8" stroke-width="3.4"/><circle cx="1822.0" cy="193.0" r="6.3" fill="none" stroke="#6fcfb8" stroke-width="3.4"/><line x1="1878.1" y1="212.3" x2="1878.1" y2="225.2" stroke="#3d9fe0" stroke-width="3.6"/><line x1="1865.1" y1="212.3" x2="1891.1" y2="212.3" stroke="#3d9fe0" stroke-width="3.6" stroke-linecap="round"/><line x1="1865.1" y1="225.2" x2="1891.1" y2="225.2" stroke="#3d9fe0" stroke-width="3.6" stroke-linecap="round"/><line x1="1853.1" y1="218.7" x2="1903.1" y2="218.7" stroke="#3d9fe0" stroke-width="4.2" stroke-linecap="round"/><circle cx="1860.3" cy="225.5" r="6.3" fill="none" stroke="#3d9fe0" stroke-width="3.4"/><circle cx="1878.4" cy="212.7" r="6.3" fill="none" stroke="#3d9fe0" stroke-width="3.4"/><circle cx="1897.6" cy="218.0" r="6.3" fill="none" stroke="#3d9fe0" stroke-width="3.4"/><line x1="1953.2" y1="264.2" x2="1953.2" y2="292.0" stroke="#e8503c" stroke-width="3.6"/><line x1="1940.2" y1="264.2" x2="1966.2" y2="264.2" stroke="#e8503c" stroke-width="3.6" stroke-linecap="round"/><line x1="1940.2" y1="292.0" x2="1966.2" y2="292.0" stroke="#e8503c" stroke-width="3.6" stroke-linecap="round"/><line x1="1928.2" y1="278.1" x2="1978.2" y2="278.1" stroke="#e8503c" stroke-width="4.2" stroke-linecap="round"/><circle cx="1935.0" cy="291.6" r="6.3" fill="none" stroke="#e8503c" stroke-width="3.4"/><circle cx="1953.5" cy="263.9" r="6.3" fill="none" stroke="#e8503c" stroke-width="3.4"/><circle cx="1972.3" cy="278.8" r="6.3" fill="none" stroke="#e8503c" stroke-width="3.4"/><line x1="1726.6" y1="95.4" x2="1803.4" y2="95.4" stroke="#000" stroke-width="2.6"/><text x="1701.0" y="83.7" style="font-size:29px" transform="translate(1701.0 83.7) scale(1 1.015) translate(-1701.0 -83.7)"><tspan style="font-style:italic">p</tspan> = 0.0022</text><line x1="1799.6" y1="152.4" x2="1875.3" y2="152.4" stroke="#000" stroke-width="2.6"/><text x="1771.8" y="139.1" style="font-size:29px" transform="translate(1771.8 139.1) scale(1 1.015) translate(-1771.8 -139.1)"><tspan style="font-style:italic">p</tspan> = 0.0210</text><line x1="1877.4" y1="194.6" x2="1953.0" y2="194.6" stroke="#000" stroke-width="2.6"/><text x="1848.6" y="185.0" style="font-size:29px" transform="translate(1848.6 185.0) scale(1 1.015) translate(-1848.6 -185.0)"><tspan style="font-style:italic">p</tspan> = 0.0019</text><text x="1350.7" y="403.0" style="font-size:40px;font-style:italic" transform="translate(1350.7 403.0) scale(1 1.015) translate(-1350.7 -403.0)">S. aureus</text><text x="1787.8" y="400.3" style="font-size:40px;font-style:italic" transform="translate(1787.8 400.3) scale(1 1.015) translate(-1787.8 -400.3)">E. coli</text><text x="1233" y="206" text-anchor="middle" transform="rotate(-90 1233 206) translate(1233.0 206.0) scale(1 1.015) translate(-1233.0 -206.0)" style="font-size:33px;white-space:pre" xml:space="preserve">log<tspan style="font-size:22px" dy="6">10</tspan><tspan dy="-6"> CFU per  plate</tspan></text><text x="1630.5" y="206" text-anchor="middle" transform="rotate(-90 1630.5 206) translate(1630.5 206.0) scale(1 1.015) translate(-1630.5 -206.0)" style="font-size:33px;white-space:pre" xml:space="preserve">log<tspan style="font-size:22px" dy="6">10</tspan><tspan dy="-6"> CFU per  plate</tspan></text><text x="9.5" y="455.0" style="font-size:40px" transform="translate(9.5 455.0) scale(1 1.015) translate(-9.5 -455.0)">c</text><text x="153.5" y="455.0" text-anchor="middle" style="font-size:40px" transform="translate(153.5 455.0) scale(1 1.015) translate(-153.5 -455.0)">Control</text><text x="390.5" y="455.0" text-anchor="middle" style="font-size:40px" transform="translate(390.5 455.0) scale(1 1.015) translate(-390.5 -455.0)">Ant</text><text x="637.0" y="455.0" text-anchor="middle" style="font-size:40px" transform="translate(637.0 455.0) scale(1 1.015) translate(-637.0 -455.0)">MPS1</text><text x="875.0" y="455.0" text-anchor="middle" style="font-size:40px" transform="translate(875.0 455.0) scale(1 1.015) translate(-875.0 -455.0)">MPS2</text><text x="1162.2" y="455.0" text-anchor="middle" style="font-size:40px" transform="translate(1162.2 455.0) scale(1 1.015) translate(-1162.2 -455.0)">Control</text><text x="1400.8" y="455.0" text-anchor="middle" style="font-size:40px" transform="translate(1400.8 455.0) scale(1 1.015) translate(-1400.8 -455.0)">Ant</text><text x="1645.2" y="455.0" text-anchor="middle" style="font-size:40px" transform="translate(1645.2 455.0) scale(1 1.015) translate(-1645.2 -455.0)">MPS1</text><text x="1883.7" y="455.0" text-anchor="middle" style="font-size:40px" transform="translate(1883.7 455.0) scale(1 1.015) translate(-1883.7 -455.0)">MPS2</text><text x="32.0" y="582.6" text-anchor="middle" style="font-size:40px;font-style:italic" transform="rotate(-90 32.0 582.6) translate(32.0 582.6) scale(1 1.015) translate(-32.0 -582.6)">S. aureus</text><text x="1038.0" y="585.0" text-anchor="middle" style="font-size:40px;font-style:italic" transform="rotate(-90 1038.0 585.0) translate(1038.0 585.0) scale(1 1.015) translate(-1038.0 -585.0)">E. coli</text><clipPath id="clipC0"><rect x="40.1" y="469.4" width="234.3" height="234.3"/></clipPath><clipPath id="clipC1"><rect x="279.3" y="469.4" width="234.3" height="234.3"/></clipPath><clipPath id="clipC2"><rect x="518.6" y="469.4" width="234.3" height="234.3"/></clipPath><clipPath id="clipC3"><rect x="757.8" y="469.4" width="234.3" height="234.3"/></clipPath><clipPath id="clipC4"><rect x="1045" y="469.4" width="234.3" height="234.3"/></clipPath><clipPath id="clipC5"><rect x="1284.3" y="469.4" width="234.3" height="234.3"/></clipPath><clipPath id="clipC6"><rect x="1523.6" y="469.4" width="234.3" height="234.3"/></clipPath><clipPath id="clipC7"><rect x="1762.8" y="469.4" width="234.3" height="234.3"/></clipPath><g clip-path="url(#clipC0)"><rect x="40.1" y="469.4" width="234.3" height="234.3" fill="#6e6c0c"/><circle cx="106.0" cy="506.1" r="5" fill="#4c505a"/><circle cx="146.1" cy="504.8" r="4.5" fill="#4c505a"/><circle cx="125.4" cy="555.2" r="8" fill="#4c505a"/><circle cx="215.9" cy="522.9" r="5" fill="#4c505a"/><circle cx="208.1" cy="559.1" r="4" fill="#4c505a"/><circle cx="117.7" cy="669.0" r="6" fill="#4c505a"/><circle cx="179.7" cy="681.9" r="6" fill="#4c505a"/><circle cx="213.3" cy="638.0" r="4" fill="#4c505a"/><circle cx="257.3" cy="575.9" r="4" fill="#4c505a"/><circle cx="55.6" cy="475.9" r="10" fill="#4c505a"/><circle cx="45.3" cy="614.2" r="5" fill="#4c505a"/><circle cx="45.3" cy="681.4" r="5" fill="#4c505a"/><circle cx="200.4" cy="500.9" r="23" fill="url(#gCocD)" stroke="#6a6808" stroke-width="0.6"/><circle cx="259.8" cy="542.3" r="23" fill="url(#gCocD)" stroke="#6a6808" stroke-width="0.6"/><circle cx="221.1" cy="581.1" r="23" fill="url(#gCocD)" stroke="#6a6808" stroke-width="0.6"/><circle cx="262.4" cy="625.1" r="23" fill="url(#gCocD)" stroke="#6a6808" stroke-width="0.6"/><circle cx="73.7" cy="656.1" r="23" fill="url(#gCocD)" stroke="#6a6808" stroke-width="0.6"/><circle cx="112.5" cy="681.9" r="23" fill="url(#gCocD)" stroke="#6a6808" stroke-width="0.6"/><circle cx="42.7" cy="511.3" r="23" fill="url(#gCocD)" stroke="#6a6808" stroke-width="0.6"/><circle cx="265.0" cy="516.4" r="23" fill="url(#gCocD)" stroke="#6a6808" stroke-width="0.6"/><circle cx="78.9" cy="490.6" r="23" fill="url(#gCoc)" stroke="#6a6808" stroke-width="0.6"/><circle cx="122.8" cy="488.0" r="23" fill="url(#gCoc)" stroke="#6a6808" stroke-width="0.6"/><circle cx="159.0" cy="480.3" r="23" fill="url(#gCoc)" stroke="#6a6808" stroke-width="0.6"/><circle cx="171.9" cy="511.3" r="23" fill="url(#gCoc)" stroke="#6a6808" stroke-width="0.6"/><circle cx="241.8" cy="498.4" r="23" fill="url(#gCoc)" stroke="#6a6808" stroke-width="0.6"/><circle cx="58.2" cy="532.0" r="23" fill="url(#gCoc)" stroke="#6a6808" stroke-width="0.6"/><circle cx="94.4" cy="529.4" r="23" fill="url(#gCoc)" stroke="#6a6808" stroke-width="0.6"/><circle cx="130.6" cy="526.8" r="23" fill="url(#gCoc)" stroke="#6a6808" stroke-width="0.6"/><circle cx="195.2" cy="534.5" r="23" fill="url(#gCoc)" stroke="#6a6808" stroke-width="0.6"/><circle cx="234.0" cy="542.3" r="23" fill="url(#gCoc)" stroke="#6a6808" stroke-width="0.6"/><circle cx="164.2" cy="557.8" r="23" fill="url(#gCoc)" stroke="#6a6808" stroke-width="0.6"/><circle cx="60.8" cy="583.7" r="23" fill="url(#gCoc)" stroke="#6a6808" stroke-width="0.6"/><circle cx="94.4" cy="568.2" r="23" fill="url(#gCoc)" stroke="#6a6808" stroke-width="0.6"/><circle cx="130.6" cy="575.9" r="23" fill="url(#gCoc)" stroke="#6a6808" stroke-width="0.6"/><circle cx="252.1" cy="594.0" r="23" fill="url(#gCoc)" stroke="#6a6808" stroke-width="0.6"/><circle cx="112.5" cy="606.9" r="23" fill="url(#gCoc)" stroke="#6a6808" stroke-width="0.6"/><circle cx="174.5" cy="591.4" r="23" fill="url(#gCoc)" stroke="#6a6808" stroke-width="0.6"/><circle cx="200.4" cy="596.6" r="23" fill="url(#gCoc)" stroke="#6a6808" stroke-width="0.6"/><circle cx="151.3" cy="619.9" r="23" fill="url(#gCoc)" stroke="#6a6808" stroke-width="0.6"/><circle cx="190.0" cy="625.1" r="23" fill="url(#gCoc)" stroke="#6a6808" stroke-width="0.6"/><circle cx="60.8" cy="625.1" r="23" fill="url(#gCoc)" stroke="#6a6808" stroke-width="0.6"/><circle cx="99.6" cy="638.0" r="23" fill="url(#gCoc)" stroke="#6a6808" stroke-width="0.6"/><circle cx="128.0" cy="638.0" r="23" fill="url(#gCoc)" stroke="#6a6808" stroke-width="0.6"/><circle cx="164.2" cy="656.1" r="23" fill="url(#gCoc)" stroke="#6a6808" stroke-width="0.6"/><circle cx="200.4" cy="661.2" r="23" fill="url(#gCoc)" stroke="#6a6808" stroke-width="0.6"/><circle cx="234.0" cy="645.7" r="23" fill="url(#gCoc)" stroke="#6a6808" stroke-width="0.6"/><circle cx="259.8" cy="658.6" r="23" fill="url(#gCoc)" stroke="#6a6808" stroke-width="0.6"/><circle cx="73.7" cy="684.5" r="23" fill="url(#gCoc)" stroke="#6a6808" stroke-width="0.6"/><circle cx="151.3" cy="674.2" r="23" fill="url(#gCoc)" stroke="#6a6808" stroke-width="0.6"/><circle cx="203.1" cy="687.1" r="23" fill="url(#gCoc)" stroke="#6a6808" stroke-width="0.6"/><circle cx="239.3" cy="684.5" r="23" fill="url(#gCoc)" stroke="#6a6808" stroke-width="0.6"/><circle cx="99.6" cy="697.4" r="23" fill="url(#gCoc)" stroke="#6a6808" stroke-width="0.6"/><circle cx="159.0" cy="694.8" r="23" fill="url(#gCoc)" stroke="#6a6808" stroke-width="0.6"/><circle cx="45.3" cy="684.5" r="23" fill="url(#gCoc)" stroke="#6a6808" stroke-width="0.6"/><rect x="40.1" y="469.4" width="234.3" height="234.3" filter="url(#fGrain)" opacity="0.3"/></g><g clip-path="url(#clipC1)"><rect x="279.3" y="469.4" width="234.3" height="234.3" fill="#858585"/><rect x="279.3" y="469.4" width="234.3" height="234.3" filter="url(#fSemBg)" opacity="0.5"/><g filter="url(#fSoft3)"><ellipse cx="289.3" cy="509.4" rx="18" ry="45" fill="#b4b4b4"/><ellipse cx="324.3" cy="684.4" rx="35" ry="15" fill="#b8b8b8"/><ellipse cx="374.3" cy="654.4" rx="50" ry="25" fill="#707070"/></g><circle cx="319.9" cy="528.1" r="23" fill="url(#gCocA)" stroke="#6a6808" stroke-width="0.6"/><circle cx="349.6" cy="500.9" r="21" fill="url(#gCocA)" stroke="#6a6808" stroke-width="0.6"/><circle cx="354.8" cy="539.7" r="20" fill="url(#gCocA)" stroke="#6a6808" stroke-width="0.6"/><circle cx="325.1" cy="565.6" r="21" fill="url(#gCocA)" stroke="#6a6808" stroke-width="0.6"/><circle cx="388.5" cy="515.2" r="25" fill="url(#gCocA)" stroke="#6a6808" stroke-width="0.6"/><circle cx="389.7" cy="550.1" r="22" fill="url(#gCocA)" stroke="#6a6808" stroke-width="0.6"/><circle cx="427.2" cy="539.7" r="22" fill="url(#gCocA)" stroke="#6a6808" stroke-width="0.6"/><circle cx="463.4" cy="513.9" r="24" fill="url(#gCocA)" stroke="#6a6808" stroke-width="0.6"/><circle cx="497.0" cy="521.6" r="22" fill="url(#gCocA)" stroke="#6a6808" stroke-width="0.6"/><circle cx="478.9" cy="482.8" r="20" fill="url(#gCocA)" stroke="#6a6808" stroke-width="0.6"/><circle cx="353.5" cy="594.0" r="24" fill="url(#gCocA)" stroke="#6a6808" stroke-width="0.6"/><circle cx="432.3" cy="578.5" r="22" fill="url(#gCocA)" stroke="#6a6808" stroke-width="0.6"/><circle cx="466.0" cy="557.8" r="24" fill="url(#gCocA)" stroke="#6a6808" stroke-width="0.6"/><circle cx="401.3" cy="612.1" r="23" fill="url(#gCocA)" stroke="#6a6808" stroke-width="0.6"/><circle cx="437.5" cy="612.1" r="22" fill="url(#gCocA)" stroke="#6a6808" stroke-width="0.6"/><circle cx="471.1" cy="604.4" r="22" fill="url(#gCocA)" stroke="#6a6808" stroke-width="0.6"/><circle cx="447.9" cy="645.7" r="24" fill="url(#gCocA)" stroke="#6a6808" stroke-width="0.6"/><circle cx="489.2" cy="638.0" r="22" fill="url(#gCocA)" stroke="#6a6808" stroke-width="0.6"/><circle cx="285.0" cy="560.4" r="22" fill="url(#gCocA)" stroke="#6a6808" stroke-width="0.6"/><circle cx="290.2" cy="609.5" r="22" fill="url(#gCocA)" stroke="#6a6808" stroke-width="0.6"/><circle cx="288.9" cy="635.4" r="22" fill="url(#gCocA)" stroke="#6a6808" stroke-width="0.6"/><circle cx="290.2" cy="684.5" r="22" fill="url(#gCocA)" stroke="#6a6808" stroke-width="0.6"/><circle cx="348.3" cy="687.1" r="30" fill="url(#gCocA)" stroke="#6a6808" stroke-width="0.6"/><circle cx="388.5" cy="687.1" r="22" fill="url(#gCocA)" stroke="#6a6808" stroke-width="0.6"/><circle cx="416.8" cy="687.1" r="20" fill="url(#gCocA)" stroke="#6a6808" stroke-width="0.6"/><circle cx="455.6" cy="692.3" r="22" fill="url(#gCocA)" stroke="#6a6808" stroke-width="0.6"/><circle cx="411.7" cy="542.8" r="20" fill="url(#gCocA)" stroke="#6a6808" stroke-width="0.6"/><rect x="279.3" y="469.4" width="234.3" height="234.3" filter="url(#fGrain)" opacity="0.3"/></g><g clip-path="url(#clipC2)"><rect x="518.6" y="469.4" width="234.3" height="234.3" fill="#8c8c8c"/><rect x="518.6" y="469.4" width="234.3" height="234.3" filter="url(#fSemBg)" opacity="0.25"/><g filter="url(#fSoft3)"><ellipse cx="733.6" cy="609.4" rx="25" ry="40" fill="#a8a8a8"/><ellipse cx="718.6" cy="509.4" rx="30" ry="25" fill="#7a7a7a"/><ellipse cx="693.6" cy="669.4" rx="40" ry="30" fill="#7e7e7e"/></g><ellipse cx="543.4" cy="545.1" rx="30" ry="25" fill="#9a960e" transform="rotate(30 543.4 545.1)"/><circle cx="674.0" cy="481.8" r="21" fill="url(#gCocA)" stroke="#6a6808" stroke-width="0.6"/><circle cx="675.3" cy="520.6" r="25" fill="url(#gCocA)" stroke="#6a6808" stroke-width="0.6"/><circle cx="630.0" cy="527.0" r="19" fill="url(#gCocA)" stroke="#6a6808" stroke-width="0.6"/><circle cx="639.1" cy="555.5" r="24" fill="url(#gCocA)" stroke="#6a6808" stroke-width="0.6"/><circle cx="727.0" cy="534.8" r="24" fill="url(#gCocA)" stroke="#6a6808" stroke-width="0.6"/><circle cx="716.7" cy="568.4" r="25" fill="url(#gCocA)" stroke="#6a6808" stroke-width="0.6"/><circle cx="590.0" cy="576.2" r="25" fill="url(#gCocA)" stroke="#6a6808" stroke-width="0.6"/><circle cx="561.5" cy="626.6" r="21" fill="url(#gCocA)" stroke="#6a6808" stroke-width="0.6"/><circle cx="538.3" cy="653.7" r="23" fill="url(#gCocA)" stroke="#6a6808" stroke-width="0.6"/><circle cx="570.6" cy="674.4" r="21" fill="url(#gCocA)" stroke="#6a6808" stroke-width="0.6"/><circle cx="609.4" cy="687.3" r="22" fill="url(#gCocA)" stroke="#6a6808" stroke-width="0.6"/><circle cx="535.7" cy="692.5" r="22" fill="url(#gCocA)" stroke="#6a6808" stroke-width="0.6"/><rect x="518.6" y="469.4" width="234.3" height="234.3" filter="url(#fGrain)" opacity="0.3"/></g><g clip-path="url(#clipC3)"><rect x="757.8" y="469.4" width="234.3" height="234.3" fill="#a2a2a2"/><rect x="757.8" y="469.4" width="234.3" height="234.3" filter="url(#fFib)" opacity="0.75"/><circle cx="864.1" cy="625.3" r="25" fill="url(#gCocB)" stroke="#6a6808" stroke-width="0.6"/><circle cx="852.5" cy="656.3" r="25" fill="url(#gCocB)" stroke="#6a6808" stroke-width="0.6"/><rect x="757.8" y="469.4" width="234.3" height="234.3" filter="url(#fGrain)" opacity="0.25"/><rect x="932.5" y="689.4" width="53.0" height="7.5" fill="#ffffff"/></g><g clip-path="url(#clipC4)"><rect x="1045.0" y="469.4" width="234.3" height="234.3" fill="#9a58e4"/><g filter="url(#fSoft3)" opacity="0.8"><ellipse cx="1085" cy="619.4" rx="35" ry="40" fill="#b98cf2"/><ellipse cx="1195" cy="614.4" rx="30" ry="22" fill="#b48af0"/><ellipse cx="1135" cy="679.4" rx="40" ry="25" fill="#b38bee"/><ellipse cx="1105" cy="509.4" rx="30" ry="25" fill="#a775e8"/><ellipse cx="1245" cy="549.4" rx="30" ry="40" fill="#8f52d8"/></g><path d="M1103,564.4 Q1115,579.4 1120,587.4 Q1135,599.4 1155,591.4 L1188,567.4" fill="none" stroke="#555060" stroke-width="3"/><rect x="1045" y="469.4" width="234.3" height="234.3" filter="url(#fGrain)" opacity="0.25"/></g><g clip-path="url(#clipC5)"><rect x="1284.3" y="469.4" width="234.3" height="234.3" fill="#8646cc"/><g filter="url(#fSoft)"><polygon points="1442.3,564.4 1518.3,529.4 1518.3,589.4 1484.3,619.4 1469.3,674.4 1444.3,659.4" fill="#7a7a7a"/><polygon points="1452.3,574.4 1518.3,549.4 1518.3,569.4 1474.3,609.4" fill="#a0a0a0"/></g><g filter="url(#fSoft)"><line x1="1314.3" y1="509.4" x2="1354.3" y2="669.4" stroke="#5c2c98" stroke-width="54" stroke-linecap="round"/><line x1="1364.3" y1="529.4" x2="1344.3" y2="629.4" stroke="#5c2c98" stroke-width="49" stroke-linecap="round"/><line x1="1384.3" y1="489.4" x2="1454.3" y2="489.4" stroke="#5c2c98" stroke-width="44" stroke-linecap="round"/><line x1="1434.3" y1="539.4" x2="1499.3" y2="519.4" stroke="#5c2c98" stroke-width="54" stroke-linecap="round"/><line x1="1404.3" y1="579.4" x2="1414.3" y2="669.4" stroke="#5c2c98" stroke-width="44" stroke-linecap="round"/><line x1="1379.3" y1="669.4" x2="1434.3" y2="699.4" stroke="#5c2c98" stroke-width="44" stroke-linecap="round"/><line x1="1304.3" y1="619.4" x2="1344.3" y2="699.4" stroke="#5c2c98" stroke-width="49" stroke-linecap="round"/><line x1="1489.3" y1="619.4" x2="1509.3" y2="699.4" stroke="#5c2c98" stroke-width="34" stroke-linecap="round"/><line x1="1294.3" y1="489.4" x2="1344.3" y2="479.4" stroke="#5c2c98" stroke-width="44" stroke-linecap="round"/><line x1="1464.3" y1="489.4" x2="1514.3" y2="489.4" stroke="#5c2c98" stroke-width="34" stroke-linecap="round"/><line x1="1434.3" y1="669.4" x2="1494.3" y2="704.4" stroke="#5c2c98" stroke-width="39" stroke-linecap="round"/><line x1="1314.3" y1="509.4" x2="1354.3" y2="669.4" stroke="#c49af6" stroke-width="51.5" stroke-linecap="round"/><line x1="1314.3" y1="509.4" x2="1354.3" y2="669.4" stroke="#9852e0" stroke-width="48" stroke-linecap="round"/><line x1="1364.3" y1="529.4" x2="1344.3" y2="629.4" stroke="#c49af6" stroke-width="46.5" stroke-linecap="round"/><line x1="1364.3" y1="529.4" x2="1344.3" y2="629.4" stroke="#9852e0" stroke-width="43" stroke-linecap="round"/><line x1="1384.3" y1="489.4" x2="1454.3" y2="489.4" stroke="#c49af6" stroke-width="41.5" stroke-linecap="round"/><line x1="1384.3" y1="489.4" x2="1454.3" y2="489.4" stroke="#9852e0" stroke-width="38" stroke-linecap="round"/><line x1="1434.3" y1="539.4" x2="1499.3" y2="519.4" stroke="#c49af6" stroke-width="51.5" stroke-linecap="round"/><line x1="1434.3" y1="539.4" x2="1499.3" y2="519.4" stroke="#9852e0" stroke-width="48" stroke-linecap="round"/><line x1="1404.3" y1="579.4" x2="1414.3" y2="669.4" stroke="#c49af6" stroke-width="41.5" stroke-linecap="round"/><line x1="1404.3" y1="579.4" x2="1414.3" y2="669.4" stroke="#9852e0" stroke-width="38" stroke-linecap="round"/><line x1="1379.3" y1="669.4" x2="1434.3" y2="699.4" stroke="#c49af6" stroke-width="41.5" stroke-linecap="round"/><line x1="1379.3" y1="669.4" x2="1434.3" y2="699.4" stroke="#9852e0" stroke-width="38" stroke-linecap="round"/><line x1="1304.3" y1="619.4" x2="1344.3" y2="699.4" stroke="#c49af6" stroke-width="46.5" stroke-linecap="round"/><line x1="1304.3" y1="619.4" x2="1344.3" y2="699.4" stroke="#9852e0" stroke-width="43" stroke-linecap="round"/><line x1="1489.3" y1="619.4" x2="1509.3" y2="699.4" stroke="#c49af6" stroke-width="31.5" stroke-linecap="round"/><line x1="1489.3" y1="619.4" x2="1509.3" y2="699.4" stroke="#9852e0" stroke-width="28" stroke-linecap="round"/><line x1="1294.3" y1="489.4" x2="1344.3" y2="479.4" stroke="#c49af6" stroke-width="41.5" stroke-linecap="round"/><line x1="1294.3" y1="489.4" x2="1344.3" y2="479.4" stroke="#9852e0" stroke-width="38" stroke-linecap="round"/><line x1="1464.3" y1="489.4" x2="1514.3" y2="489.4" stroke="#c49af6" stroke-width="31.5" stroke-linecap="round"/><line x1="1464.3" y1="489.4" x2="1514.3" y2="489.4" stroke="#9852e0" stroke-width="28" stroke-linecap="round"/><line x1="1434.3" y1="669.4" x2="1494.3" y2="704.4" stroke="#c49af6" stroke-width="36.5" stroke-linecap="round"/><line x1="1434.3" y1="669.4" x2="1494.3" y2="704.4" stroke="#9852e0" stroke-width="33" stroke-linecap="round"/></g><rect x="1284.3" y="469.4" width="234.3" height="234.3" filter="url(#fGrain)" opacity="0.25"/></g><g clip-path="url(#clipC6)"><rect x="1523.6" y="469.4" width="234.3" height="234.3" fill="#7c7c7c"/><rect x="1523.6" y="469.4" width="234.3" height="234.3" filter="url(#fSemBg)" opacity="0.3"/><g filter="url(#fSoft)"><line x1="1528.6" y1="574.4" x2="1673.6" y2="559.4" stroke="#5c2c98" stroke-width="49" stroke-linecap="round"/><line x1="1623.6" y1="489.4" x2="1643.6" y2="609.4" stroke="#5c2c98" stroke-width="64" stroke-linecap="round"/><line x1="1603.6" y1="529.4" x2="1613.6" y2="589.4" stroke="#5c2c98" stroke-width="54" stroke-linecap="round"/><line x1="1593.6" y1="634.4" x2="1713.6" y2="674.4" stroke="#5c2c98" stroke-width="59" stroke-linecap="round"/><line x1="1673.6" y1="549.4" x2="1713.6" y2="539.4" stroke="#5c2c98" stroke-width="44" stroke-linecap="round"/><line x1="1703.6" y1="589.4" x2="1718.6" y2="649.4" stroke="#5c2c98" stroke-width="49" stroke-linecap="round"/><line x1="1749.6" y1="479.4" x2="1749.6" y2="699.4" stroke="#5c2c98" stroke-width="26" stroke-linecap="round"/><line x1="1528.6" y1="574.4" x2="1673.6" y2="559.4" stroke="#c49af6" stroke-width="46.5" stroke-linecap="round"/><line x1="1528.6" y1="574.4" x2="1673.6" y2="559.4" stroke="#9852e0" stroke-width="43" stroke-linecap="round"/><line x1="1623.6" y1="489.4" x2="1643.6" y2="609.4" stroke="#c49af6" stroke-width="61.5" stroke-linecap="round"/><line x1="1623.6" y1="489.4" x2="1643.6" y2="609.4" stroke="#9852e0" stroke-width="58" stroke-linecap="round"/><line x1="1603.6" y1="529.4" x2="1613.6" y2="589.4" stroke="#c49af6" stroke-width="51.5" stroke-linecap="round"/><line x1="1603.6" y1="529.4" x2="1613.6" y2="589.4" stroke="#9852e0" stroke-width="48" stroke-linecap="round"/><line x1="1593.6" y1="634.4" x2="1713.6" y2="674.4" stroke="#c49af6" stroke-width="56.5" stroke-linecap="round"/><line x1="1593.6" y1="634.4" x2="1713.6" y2="674.4" stroke="#9852e0" stroke-width="53" stroke-linecap="round"/><line x1="1673.6" y1="549.4" x2="1713.6" y2="539.4" stroke="#c49af6" stroke-width="41.5" stroke-linecap="round"/><line x1="1673.6" y1="549.4" x2="1713.6" y2="539.4" stroke="#9852e0" stroke-width="38" stroke-linecap="round"/><line x1="1703.6" y1="589.4" x2="1718.6" y2="649.4" stroke="#c49af6" stroke-width="46.5" stroke-linecap="round"/><line x1="1703.6" y1="589.4" x2="1718.6" y2="649.4" stroke="#9852e0" stroke-width="43" stroke-linecap="round"/><line x1="1749.6" y1="479.4" x2="1749.6" y2="699.4" stroke="#c49af6" stroke-width="23.5" stroke-linecap="round"/><line x1="1749.6" y1="479.4" x2="1749.6" y2="699.4" stroke="#9852e0" stroke-width="20" stroke-linecap="round"/></g><rect x="1523.6" y="469.4" width="234.3" height="234.3" filter="url(#fGrain)" opacity="0.25"/></g><g clip-path="url(#clipC7)"><rect x="1762.8" y="469.4" width="234.3" height="234.3" fill="#646464"/><rect x="1762.8" y="469.4" width="234.3" height="234.3" filter="url(#fSemBg)" opacity="0.3"/><g filter="url(#fSoft)"><line x1="1859.8" y1="619.4" x2="1947.8" y2="564.4" stroke="#5c2c98" stroke-width="48" stroke-linecap="round"/><line x1="1859.8" y1="619.4" x2="1947.8" y2="564.4" stroke="#c49af6" stroke-width="45.5" stroke-linecap="round"/><line x1="1859.8" y1="619.4" x2="1947.8" y2="564.4" stroke="#9852e0" stroke-width="42" stroke-linecap="round"/></g><ellipse cx="1934.8" cy="648.4" rx="16" ry="22" fill="#9852e0" stroke="#c49af6" stroke-width="1.5"/><rect x="1762.8" y="469.4" width="234.3" height="234.3" filter="url(#fGrain)" opacity="0.25"/><rect x="1937.8" y="689.4" width="53.0" height="7.5" fill="#ffffff"/></g><text x="9.0" y="771.0" style="font-size:40px" transform="translate(9.0 771.0) scale(1 1.015) translate(-9.0 -771.0)">d</text><text x="211.5" y="775.9" text-anchor="middle" style="font-size:40px" transform="translate(211.5 775.9) scale(1 1.015) translate(-211.5 -775.9)">Control</text><text x="469.1" y="775.9" text-anchor="middle" style="font-size:40px" transform="translate(469.1 775.9) scale(1 1.015) translate(-469.1 -775.9)">Ant</text><text x="739.9" y="775.9" text-anchor="middle" style="font-size:40px" transform="translate(739.9 775.9) scale(1 1.015) translate(-739.9 -775.9)">MPS1</text><text x="1002.0" y="775.9" text-anchor="middle" style="font-size:40px" transform="translate(1002.0 775.9) scale(1 1.015) translate(-1002.0 -775.9)">MPS2</text><text x="41.0" y="923.5" text-anchor="middle" style="font-size:40px;font-style:italic" transform="rotate(-90 41.0 923.5) translate(41.0 923.5) scale(1 1.015) translate(-41.0 -923.5)">S. aureus</text><text x="43.0" y="1172.7" text-anchor="middle" style="font-size:40px;font-style:italic" transform="rotate(-90 43.0 1172.7) translate(43.0 1172.7) scale(1 1.015) translate(-43.0 -1172.7)">E. coli</text><text x="47.0" y="815.0" style="font-size:40px" transform="translate(47.0 815.0) scale(1 1.015) translate(-47.0 -815.0)">PI</text><text x="1028.8" y="1342.9" style="font-size:40px" transform="translate(1028.8 1342.9) scale(1 1.015) translate(-1028.8 -1342.9)">Syto9</text><line x1="65.3" y1="834.0" x2="65.3" y2="1333.5" stroke="#000" stroke-width="2.6"/><polygon points="65.3,823.0 60.3,836.0 70.3,836.0" fill="#000"/><line x1="64.0" y1="1332.5" x2="1018.0" y2="1332.5" stroke="#000" stroke-width="2.6"/><polygon points="1029.0,1332.5 1016.0,1327.5 1016.0,1337.5" fill="#000"/><rect x="88.7" y="787" width="240.5" height="241" fill="none" stroke="#000" stroke-width="2"/><line x1="81.7" y1="843.6" x2="88.7" y2="843.6" stroke="#000" stroke-width="1.5"/><line x1="81.7" y1="911.1" x2="88.7" y2="911.1" stroke="#000" stroke-width="1.5"/><line x1="85.2" y1="794.2" x2="88.7" y2="794.2" stroke="#000" stroke-width="1.2"/><line x1="85.2" y1="799.0" x2="88.7" y2="799.0" stroke="#000" stroke-width="1.2"/><line x1="85.2" y1="806.3" x2="88.7" y2="806.3" stroke="#000" stroke-width="1.2"/><line x1="85.2" y1="813.5" x2="88.7" y2="813.5" stroke="#000" stroke-width="1.2"/><line x1="85.2" y1="823.1" x2="88.7" y2="823.1" stroke="#000" stroke-width="1.2"/><line x1="85.2" y1="832.8" x2="88.7" y2="832.8" stroke="#000" stroke-width="1.2"/><line x1="85.2" y1="859.3" x2="88.7" y2="859.3" stroke="#000" stroke-width="1.2"/><line x1="85.2" y1="873.8" x2="88.7" y2="873.8" stroke="#000" stroke-width="1.2"/><line x1="85.2" y1="883.4" x2="88.7" y2="883.4" stroke="#000" stroke-width="1.2"/><line x1="85.2" y1="893.0" x2="88.7" y2="893.0" stroke="#000" stroke-width="1.2"/><line x1="85.2" y1="900.3" x2="88.7" y2="900.3" stroke="#000" stroke-width="1.2"/><line x1="85.2" y1="905.1" x2="88.7" y2="905.1" stroke="#000" stroke-width="1.2"/><line x1="85.2" y1="926.8" x2="88.7" y2="926.8" stroke="#000" stroke-width="1.2"/><line x1="85.2" y1="938.8" x2="88.7" y2="938.8" stroke="#000" stroke-width="1.2"/><line x1="85.2" y1="948.5" x2="88.7" y2="948.5" stroke="#000" stroke-width="1.2"/><line x1="85.2" y1="955.7" x2="88.7" y2="955.7" stroke="#000" stroke-width="1.2"/><line x1="85.2" y1="960.5" x2="88.7" y2="960.5" stroke="#000" stroke-width="1.2"/><line x1="85.2" y1="994.3" x2="88.7" y2="994.3" stroke="#000" stroke-width="1.2"/><line x1="85.2" y1="1008.7" x2="88.7" y2="1008.7" stroke="#000" stroke-width="1.2"/><line x1="85.2" y1="1018.4" x2="88.7" y2="1018.4" stroke="#000" stroke-width="1.2"/><line x1="82.7" y1="965.3" x2="88.7" y2="965.3" stroke="#000" stroke-width="1.4"/><line x1="82.7" y1="969.0" x2="88.7" y2="969.0" stroke="#000" stroke-width="1.4"/><line x1="82.7" y1="972.6" x2="88.7" y2="972.6" stroke="#000" stroke-width="1.4"/><line x1="82.7" y1="976.2" x2="88.7" y2="976.2" stroke="#000" stroke-width="1.4"/><line x1="82.7" y1="979.8" x2="88.7" y2="979.8" stroke="#000" stroke-width="1.4"/><line x1="82.7" y1="982.2" x2="88.7" y2="982.2" stroke="#000" stroke-width="1.4"/><line x1="92.8" y1="1028.0" x2="92.8" y2="1036.0" stroke="#000" stroke-width="1.6"/><line x1="196.9" y1="1028.0" x2="196.9" y2="1036.0" stroke="#000" stroke-width="1.6"/><line x1="245.0" y1="1028.0" x2="245.0" y2="1036.0" stroke="#000" stroke-width="1.6"/><line x1="290.2" y1="1028.0" x2="290.2" y2="1036.0" stroke="#000" stroke-width="1.6"/><line x1="105.5" y1="1028.0" x2="105.5" y2="1032.0" stroke="#000" stroke-width="1.2"/><line x1="112.8" y1="1028.0" x2="112.8" y2="1032.0" stroke="#000" stroke-width="1.2"/><line x1="120.0" y1="1028.0" x2="120.0" y2="1032.0" stroke="#000" stroke-width="1.2"/><line x1="127.2" y1="1028.0" x2="127.2" y2="1032.0" stroke="#000" stroke-width="1.2"/><line x1="160.8" y1="1028.0" x2="160.8" y2="1032.0" stroke="#000" stroke-width="1.2"/><line x1="168.1" y1="1028.0" x2="168.1" y2="1032.0" stroke="#000" stroke-width="1.2"/><line x1="175.3" y1="1028.0" x2="175.3" y2="1032.0" stroke="#000" stroke-width="1.2"/><line x1="182.5" y1="1028.0" x2="182.5" y2="1032.0" stroke="#000" stroke-width="1.2"/><line x1="187.3" y1="1028.0" x2="187.3" y2="1032.0" stroke="#000" stroke-width="1.2"/><line x1="192.1" y1="1028.0" x2="192.1" y2="1032.0" stroke="#000" stroke-width="1.2"/><line x1="208.9" y1="1028.0" x2="208.9" y2="1032.0" stroke="#000" stroke-width="1.2"/><line x1="218.6" y1="1028.0" x2="218.6" y2="1032.0" stroke="#000" stroke-width="1.2"/><line x1="225.8" y1="1028.0" x2="225.8" y2="1032.0" stroke="#000" stroke-width="1.2"/><line x1="233.0" y1="1028.0" x2="233.0" y2="1032.0" stroke="#000" stroke-width="1.2"/><line x1="237.8" y1="1028.0" x2="237.8" y2="1032.0" stroke="#000" stroke-width="1.2"/><line x1="242.6" y1="1028.0" x2="242.6" y2="1032.0" stroke="#000" stroke-width="1.2"/><line x1="257.1" y1="1028.0" x2="257.1" y2="1032.0" stroke="#000" stroke-width="1.2"/><line x1="266.7" y1="1028.0" x2="266.7" y2="1032.0" stroke="#000" stroke-width="1.2"/><line x1="273.9" y1="1028.0" x2="273.9" y2="1032.0" stroke="#000" stroke-width="1.2"/><line x1="278.7" y1="1028.0" x2="278.7" y2="1032.0" stroke="#000" stroke-width="1.2"/><line x1="283.5" y1="1028.0" x2="283.5" y2="1032.0" stroke="#000" stroke-width="1.2"/><line x1="285.9" y1="1028.0" x2="285.9" y2="1032.0" stroke="#000" stroke-width="1.2"/><line x1="300.3" y1="1028.0" x2="300.3" y2="1032.0" stroke="#000" stroke-width="1.2"/><line x1="307.6" y1="1028.0" x2="307.6" y2="1032.0" stroke="#000" stroke-width="1.2"/><line x1="314.8" y1="1028.0" x2="314.8" y2="1032.0" stroke="#000" stroke-width="1.2"/><line x1="319.6" y1="1028.0" x2="319.6" y2="1032.0" stroke="#000" stroke-width="1.2"/><line x1="322.0" y1="1028.0" x2="322.0" y2="1032.0" stroke="#000" stroke-width="1.2"/><line x1="324.4" y1="1028.0" x2="324.4" y2="1032.0" stroke="#000" stroke-width="1.2"/><line x1="134.4" y1="1028.0" x2="134.4" y2="1035.0" stroke="#000" stroke-width="1.5"/><line x1="138.0" y1="1028.0" x2="138.0" y2="1035.0" stroke="#000" stroke-width="1.5"/><line x1="141.6" y1="1028.0" x2="141.6" y2="1035.0" stroke="#000" stroke-width="1.5"/><line x1="145.2" y1="1028.0" x2="145.2" y2="1035.0" stroke="#000" stroke-width="1.5"/><line x1="148.8" y1="1028.0" x2="148.8" y2="1035.0" stroke="#000" stroke-width="1.5"/><line x1="152.4" y1="1028.0" x2="152.4" y2="1035.0" stroke="#000" stroke-width="1.5"/><rect x="352.5" y="787" width="240.5" height="241" fill="none" stroke="#000" stroke-width="2"/><line x1="345.5" y1="843.6" x2="352.5" y2="843.6" stroke="#000" stroke-width="1.5"/><line x1="345.5" y1="911.1" x2="352.5" y2="911.1" stroke="#000" stroke-width="1.5"/><line x1="349.0" y1="794.2" x2="352.5" y2="794.2" stroke="#000" stroke-width="1.2"/><line x1="349.0" y1="799.0" x2="352.5" y2="799.0" stroke="#000" stroke-width="1.2"/><line x1="349.0" y1="806.3" x2="352.5" y2="806.3" stroke="#000" stroke-width="1.2"/><line x1="349.0" y1="813.5" x2="352.5" y2="813.5" stroke="#000" stroke-width="1.2"/><line x1="349.0" y1="823.1" x2="352.5" y2="823.1" stroke="#000" stroke-width="1.2"/><line x1="349.0" y1="832.8" x2="352.5" y2="832.8" stroke="#000" stroke-width="1.2"/><line x1="349.0" y1="859.3" x2="352.5" y2="859.3" stroke="#000" stroke-width="1.2"/><line x1="349.0" y1="873.8" x2="352.5" y2="873.8" stroke="#000" stroke-width="1.2"/><line x1="349.0" y1="883.4" x2="352.5" y2="883.4" stroke="#000" stroke-width="1.2"/><line x1="349.0" y1="893.0" x2="352.5" y2="893.0" stroke="#000" stroke-width="1.2"/><line x1="349.0" y1="900.3" x2="352.5" y2="900.3" stroke="#000" stroke-width="1.2"/><line x1="349.0" y1="905.1" x2="352.5" y2="905.1" stroke="#000" stroke-width="1.2"/><line x1="349.0" y1="926.8" x2="352.5" y2="926.8" stroke="#000" stroke-width="1.2"/><line x1="349.0" y1="938.8" x2="352.5" y2="938.8" stroke="#000" stroke-width="1.2"/><line x1="349.0" y1="948.5" x2="352.5" y2="948.5" stroke="#000" stroke-width="1.2"/><line x1="349.0" y1="955.7" x2="352.5" y2="955.7" stroke="#000" stroke-width="1.2"/><line x1="349.0" y1="960.5" x2="352.5" y2="960.5" stroke="#000" stroke-width="1.2"/><line x1="349.0" y1="994.3" x2="352.5" y2="994.3" stroke="#000" stroke-width="1.2"/><line x1="349.0" y1="1008.7" x2="352.5" y2="1008.7" stroke="#000" stroke-width="1.2"/><line x1="349.0" y1="1018.4" x2="352.5" y2="1018.4" stroke="#000" stroke-width="1.2"/><line x1="346.5" y1="965.3" x2="352.5" y2="965.3" stroke="#000" stroke-width="1.4"/><line x1="346.5" y1="969.0" x2="352.5" y2="969.0" stroke="#000" stroke-width="1.4"/><line x1="346.5" y1="972.6" x2="352.5" y2="972.6" stroke="#000" stroke-width="1.4"/><line x1="346.5" y1="976.2" x2="352.5" y2="976.2" stroke="#000" stroke-width="1.4"/><line x1="346.5" y1="979.8" x2="352.5" y2="979.8" stroke="#000" stroke-width="1.4"/><line x1="346.5" y1="982.2" x2="352.5" y2="982.2" stroke="#000" stroke-width="1.4"/><line x1="356.6" y1="1028.0" x2="356.6" y2="1036.0" stroke="#000" stroke-width="1.6"/><line x1="460.7" y1="1028.0" x2="460.7" y2="1036.0" stroke="#000" stroke-width="1.6"/><line x1="508.8" y1="1028.0" x2="508.8" y2="1036.0" stroke="#000" stroke-width="1.6"/><line x1="554.0" y1="1028.0" x2="554.0" y2="1036.0" stroke="#000" stroke-width="1.6"/><line x1="369.3" y1="1028.0" x2="369.3" y2="1032.0" stroke="#000" stroke-width="1.2"/><line x1="376.6" y1="1028.0" x2="376.6" y2="1032.0" stroke="#000" stroke-width="1.2"/><line x1="383.8" y1="1028.0" x2="383.8" y2="1032.0" stroke="#000" stroke-width="1.2"/><line x1="391.0" y1="1028.0" x2="391.0" y2="1032.0" stroke="#000" stroke-width="1.2"/><line x1="424.6" y1="1028.0" x2="424.6" y2="1032.0" stroke="#000" stroke-width="1.2"/><line x1="431.9" y1="1028.0" x2="431.9" y2="1032.0" stroke="#000" stroke-width="1.2"/><line x1="439.1" y1="1028.0" x2="439.1" y2="1032.0" stroke="#000" stroke-width="1.2"/><line x1="446.3" y1="1028.0" x2="446.3" y2="1032.0" stroke="#000" stroke-width="1.2"/><line x1="451.1" y1="1028.0" x2="451.1" y2="1032.0" stroke="#000" stroke-width="1.2"/><line x1="455.9" y1="1028.0" x2="455.9" y2="1032.0" stroke="#000" stroke-width="1.2"/><line x1="472.8" y1="1028.0" x2="472.8" y2="1032.0" stroke="#000" stroke-width="1.2"/><line x1="482.4" y1="1028.0" x2="482.4" y2="1032.0" stroke="#000" stroke-width="1.2"/><line x1="489.6" y1="1028.0" x2="489.6" y2="1032.0" stroke="#000" stroke-width="1.2"/><line x1="496.8" y1="1028.0" x2="496.8" y2="1032.0" stroke="#000" stroke-width="1.2"/><line x1="501.6" y1="1028.0" x2="501.6" y2="1032.0" stroke="#000" stroke-width="1.2"/><line x1="506.4" y1="1028.0" x2="506.4" y2="1032.0" stroke="#000" stroke-width="1.2"/><line x1="520.9" y1="1028.0" x2="520.9" y2="1032.0" stroke="#000" stroke-width="1.2"/><line x1="530.5" y1="1028.0" x2="530.5" y2="1032.0" stroke="#000" stroke-width="1.2"/><line x1="537.7" y1="1028.0" x2="537.7" y2="1032.0" stroke="#000" stroke-width="1.2"/><line x1="542.5" y1="1028.0" x2="542.5" y2="1032.0" stroke="#000" stroke-width="1.2"/><line x1="547.3" y1="1028.0" x2="547.3" y2="1032.0" stroke="#000" stroke-width="1.2"/><line x1="549.7" y1="1028.0" x2="549.7" y2="1032.0" stroke="#000" stroke-width="1.2"/><line x1="564.1" y1="1028.0" x2="564.1" y2="1032.0" stroke="#000" stroke-width="1.2"/><line x1="571.4" y1="1028.0" x2="571.4" y2="1032.0" stroke="#000" stroke-width="1.2"/><line x1="578.6" y1="1028.0" x2="578.6" y2="1032.0" stroke="#000" stroke-width="1.2"/><line x1="583.4" y1="1028.0" x2="583.4" y2="1032.0" stroke="#000" stroke-width="1.2"/><line x1="585.8" y1="1028.0" x2="585.8" y2="1032.0" stroke="#000" stroke-width="1.2"/><line x1="588.2" y1="1028.0" x2="588.2" y2="1032.0" stroke="#000" stroke-width="1.2"/><line x1="398.2" y1="1028.0" x2="398.2" y2="1035.0" stroke="#000" stroke-width="1.5"/><line x1="401.8" y1="1028.0" x2="401.8" y2="1035.0" stroke="#000" stroke-width="1.5"/><line x1="405.4" y1="1028.0" x2="405.4" y2="1035.0" stroke="#000" stroke-width="1.5"/><line x1="409.0" y1="1028.0" x2="409.0" y2="1035.0" stroke="#000" stroke-width="1.5"/><line x1="412.6" y1="1028.0" x2="412.6" y2="1035.0" stroke="#000" stroke-width="1.5"/><line x1="416.2" y1="1028.0" x2="416.2" y2="1035.0" stroke="#000" stroke-width="1.5"/><rect x="615.6" y="787" width="240.5" height="241" fill="none" stroke="#000" stroke-width="2"/><line x1="608.6" y1="843.6" x2="615.6" y2="843.6" stroke="#000" stroke-width="1.5"/><line x1="608.6" y1="911.1" x2="615.6" y2="911.1" stroke="#000" stroke-width="1.5"/><line x1="612.1" y1="794.2" x2="615.6" y2="794.2" stroke="#000" stroke-width="1.2"/><line x1="612.1" y1="799.0" x2="615.6" y2="799.0" stroke="#000" stroke-width="1.2"/><line x1="612.1" y1="806.3" x2="615.6" y2="806.3" stroke="#000" stroke-width="1.2"/><line x1="612.1" y1="813.5" x2="615.6" y2="813.5" stroke="#000" stroke-width="1.2"/><line x1="612.1" y1="823.1" x2="615.6" y2="823.1" stroke="#000" stroke-width="1.2"/><line x1="612.1" y1="832.8" x2="615.6" y2="832.8" stroke="#000" stroke-width="1.2"/><line x1="612.1" y1="859.3" x2="615.6" y2="859.3" stroke="#000" stroke-width="1.2"/><line x1="612.1" y1="873.8" x2="615.6" y2="873.8" stroke="#000" stroke-width="1.2"/><line x1="612.1" y1="883.4" x2="615.6" y2="883.4" stroke="#000" stroke-width="1.2"/><line x1="612.1" y1="893.0" x2="615.6" y2="893.0" stroke="#000" stroke-width="1.2"/><line x1="612.1" y1="900.3" x2="615.6" y2="900.3" stroke="#000" stroke-width="1.2"/><line x1="612.1" y1="905.1" x2="615.6" y2="905.1" stroke="#000" stroke-width="1.2"/><line x1="612.1" y1="926.8" x2="615.6" y2="926.8" stroke="#000" stroke-width="1.2"/><line x1="612.1" y1="938.8" x2="615.6" y2="938.8" stroke="#000" stroke-width="1.2"/><line x1="612.1" y1="948.5" x2="615.6" y2="948.5" stroke="#000" stroke-width="1.2"/><line x1="612.1" y1="955.7" x2="615.6" y2="955.7" stroke="#000" stroke-width="1.2"/><line x1="612.1" y1="960.5" x2="615.6" y2="960.5" stroke="#000" stroke-width="1.2"/><line x1="612.1" y1="994.3" x2="615.6" y2="994.3" stroke="#000" stroke-width="1.2"/><line x1="612.1" y1="1008.7" x2="615.6" y2="1008.7" stroke="#000" stroke-width="1.2"/><line x1="612.1" y1="1018.4" x2="615.6" y2="1018.4" stroke="#000" stroke-width="1.2"/><line x1="609.6" y1="965.3" x2="615.6" y2="965.3" stroke="#000" stroke-width="1.4"/><line x1="609.6" y1="969.0" x2="615.6" y2="969.0" stroke="#000" stroke-width="1.4"/><line x1="609.6" y1="972.6" x2="615.6" y2="972.6" stroke="#000" stroke-width="1.4"/><line x1="609.6" y1="976.2" x2="615.6" y2="976.2" stroke="#000" stroke-width="1.4"/><line x1="609.6" y1="979.8" x2="615.6" y2="979.8" stroke="#000" stroke-width="1.4"/><line x1="609.6" y1="982.2" x2="615.6" y2="982.2" stroke="#000" stroke-width="1.4"/><line x1="619.7" y1="1028.0" x2="619.7" y2="1036.0" stroke="#000" stroke-width="1.6"/><line x1="723.8" y1="1028.0" x2="723.8" y2="1036.0" stroke="#000" stroke-width="1.6"/><line x1="771.9" y1="1028.0" x2="771.9" y2="1036.0" stroke="#000" stroke-width="1.6"/><line x1="817.1" y1="1028.0" x2="817.1" y2="1036.0" stroke="#000" stroke-width="1.6"/><line x1="632.4" y1="1028.0" x2="632.4" y2="1032.0" stroke="#000" stroke-width="1.2"/><line x1="639.6" y1="1028.0" x2="639.6" y2="1032.0" stroke="#000" stroke-width="1.2"/><line x1="646.9" y1="1028.0" x2="646.9" y2="1032.0" stroke="#000" stroke-width="1.2"/><line x1="654.1" y1="1028.0" x2="654.1" y2="1032.0" stroke="#000" stroke-width="1.2"/><line x1="687.8" y1="1028.0" x2="687.8" y2="1032.0" stroke="#000" stroke-width="1.2"/><line x1="695.0" y1="1028.0" x2="695.0" y2="1032.0" stroke="#000" stroke-width="1.2"/><line x1="702.2" y1="1028.0" x2="702.2" y2="1032.0" stroke="#000" stroke-width="1.2"/><line x1="709.4" y1="1028.0" x2="709.4" y2="1032.0" stroke="#000" stroke-width="1.2"/><line x1="714.2" y1="1028.0" x2="714.2" y2="1032.0" stroke="#000" stroke-width="1.2"/><line x1="719.0" y1="1028.0" x2="719.0" y2="1032.0" stroke="#000" stroke-width="1.2"/><line x1="735.9" y1="1028.0" x2="735.9" y2="1032.0" stroke="#000" stroke-width="1.2"/><line x1="745.5" y1="1028.0" x2="745.5" y2="1032.0" stroke="#000" stroke-width="1.2"/><line x1="752.7" y1="1028.0" x2="752.7" y2="1032.0" stroke="#000" stroke-width="1.2"/><line x1="759.9" y1="1028.0" x2="759.9" y2="1032.0" stroke="#000" stroke-width="1.2"/><line x1="764.7" y1="1028.0" x2="764.7" y2="1032.0" stroke="#000" stroke-width="1.2"/><line x1="769.5" y1="1028.0" x2="769.5" y2="1032.0" stroke="#000" stroke-width="1.2"/><line x1="784.0" y1="1028.0" x2="784.0" y2="1032.0" stroke="#000" stroke-width="1.2"/><line x1="793.6" y1="1028.0" x2="793.6" y2="1032.0" stroke="#000" stroke-width="1.2"/><line x1="800.8" y1="1028.0" x2="800.8" y2="1032.0" stroke="#000" stroke-width="1.2"/><line x1="805.6" y1="1028.0" x2="805.6" y2="1032.0" stroke="#000" stroke-width="1.2"/><line x1="810.4" y1="1028.0" x2="810.4" y2="1032.0" stroke="#000" stroke-width="1.2"/><line x1="812.8" y1="1028.0" x2="812.8" y2="1032.0" stroke="#000" stroke-width="1.2"/><line x1="827.2" y1="1028.0" x2="827.2" y2="1032.0" stroke="#000" stroke-width="1.2"/><line x1="834.5" y1="1028.0" x2="834.5" y2="1032.0" stroke="#000" stroke-width="1.2"/><line x1="841.7" y1="1028.0" x2="841.7" y2="1032.0" stroke="#000" stroke-width="1.2"/><line x1="846.5" y1="1028.0" x2="846.5" y2="1032.0" stroke="#000" stroke-width="1.2"/><line x1="848.9" y1="1028.0" x2="848.9" y2="1032.0" stroke="#000" stroke-width="1.2"/><line x1="851.3" y1="1028.0" x2="851.3" y2="1032.0" stroke="#000" stroke-width="1.2"/><line x1="661.3" y1="1028.0" x2="661.3" y2="1035.0" stroke="#000" stroke-width="1.5"/><line x1="664.9" y1="1028.0" x2="664.9" y2="1035.0" stroke="#000" stroke-width="1.5"/><line x1="668.5" y1="1028.0" x2="668.5" y2="1035.0" stroke="#000" stroke-width="1.5"/><line x1="672.1" y1="1028.0" x2="672.1" y2="1035.0" stroke="#000" stroke-width="1.5"/><line x1="675.7" y1="1028.0" x2="675.7" y2="1035.0" stroke="#000" stroke-width="1.5"/><line x1="679.3" y1="1028.0" x2="679.3" y2="1035.0" stroke="#000" stroke-width="1.5"/><rect x="878.7" y="787" width="240.5" height="241" fill="none" stroke="#000" stroke-width="2"/><line x1="871.7" y1="843.6" x2="878.7" y2="843.6" stroke="#000" stroke-width="1.5"/><line x1="871.7" y1="911.1" x2="878.7" y2="911.1" stroke="#000" stroke-width="1.5"/><line x1="875.2" y1="794.2" x2="878.7" y2="794.2" stroke="#000" stroke-width="1.2"/><line x1="875.2" y1="799.0" x2="878.7" y2="799.0" stroke="#000" stroke-width="1.2"/><line x1="875.2" y1="806.3" x2="878.7" y2="806.3" stroke="#000" stroke-width="1.2"/><line x1="875.2" y1="813.5" x2="878.7" y2="813.5" stroke="#000" stroke-width="1.2"/><line x1="875.2" y1="823.1" x2="878.7" y2="823.1" stroke="#000" stroke-width="1.2"/><line x1="875.2" y1="832.8" x2="878.7" y2="832.8" stroke="#000" stroke-width="1.2"/><line x1="875.2" y1="859.3" x2="878.7" y2="859.3" stroke="#000" stroke-width="1.2"/><line x1="875.2" y1="873.8" x2="878.7" y2="873.8" stroke="#000" stroke-width="1.2"/><line x1="875.2" y1="883.4" x2="878.7" y2="883.4" stroke="#000" stroke-width="1.2"/><line x1="875.2" y1="893.0" x2="878.7" y2="893.0" stroke="#000" stroke-width="1.2"/><line x1="875.2" y1="900.3" x2="878.7" y2="900.3" stroke="#000" stroke-width="1.2"/><line x1="875.2" y1="905.1" x2="878.7" y2="905.1" stroke="#000" stroke-width="1.2"/><line x1="875.2" y1="926.8" x2="878.7" y2="926.8" stroke="#000" stroke-width="1.2"/><line x1="875.2" y1="938.8" x2="878.7" y2="938.8" stroke="#000" stroke-width="1.2"/><line x1="875.2" y1="948.5" x2="878.7" y2="948.5" stroke="#000" stroke-width="1.2"/><line x1="875.2" y1="955.7" x2="878.7" y2="955.7" stroke="#000" stroke-width="1.2"/><line x1="875.2" y1="960.5" x2="878.7" y2="960.5" stroke="#000" stroke-width="1.2"/><line x1="875.2" y1="994.3" x2="878.7" y2="994.3" stroke="#000" stroke-width="1.2"/><line x1="875.2" y1="1008.7" x2="878.7" y2="1008.7" stroke="#000" stroke-width="1.2"/><line x1="875.2" y1="1018.4" x2="878.7" y2="1018.4" stroke="#000" stroke-width="1.2"/><line x1="872.7" y1="965.3" x2="878.7" y2="965.3" stroke="#000" stroke-width="1.4"/><line x1="872.7" y1="969.0" x2="878.7" y2="969.0" stroke="#000" stroke-width="1.4"/><line x1="872.7" y1="972.6" x2="878.7" y2="972.6" stroke="#000" stroke-width="1.4"/><line x1="872.7" y1="976.2" x2="878.7" y2="976.2" stroke="#000" stroke-width="1.4"/><line x1="872.7" y1="979.8" x2="878.7" y2="979.8" stroke="#000" stroke-width="1.4"/><line x1="872.7" y1="982.2" x2="878.7" y2="982.2" stroke="#000" stroke-width="1.4"/><line x1="882.8" y1="1028.0" x2="882.8" y2="1036.0" stroke="#000" stroke-width="1.6"/><line x1="986.9" y1="1028.0" x2="986.9" y2="1036.0" stroke="#000" stroke-width="1.6"/><line x1="1035.0" y1="1028.0" x2="1035.0" y2="1036.0" stroke="#000" stroke-width="1.6"/><line x1="1080.2" y1="1028.0" x2="1080.2" y2="1036.0" stroke="#000" stroke-width="1.6"/><line x1="895.5" y1="1028.0" x2="895.5" y2="1032.0" stroke="#000" stroke-width="1.2"/><line x1="902.8" y1="1028.0" x2="902.8" y2="1032.0" stroke="#000" stroke-width="1.2"/><line x1="910.0" y1="1028.0" x2="910.0" y2="1032.0" stroke="#000" stroke-width="1.2"/><line x1="917.2" y1="1028.0" x2="917.2" y2="1032.0" stroke="#000" stroke-width="1.2"/><line x1="950.9" y1="1028.0" x2="950.9" y2="1032.0" stroke="#000" stroke-width="1.2"/><line x1="958.1" y1="1028.0" x2="958.1" y2="1032.0" stroke="#000" stroke-width="1.2"/><line x1="965.3" y1="1028.0" x2="965.3" y2="1032.0" stroke="#000" stroke-width="1.2"/><line x1="972.5" y1="1028.0" x2="972.5" y2="1032.0" stroke="#000" stroke-width="1.2"/><line x1="977.3" y1="1028.0" x2="977.3" y2="1032.0" stroke="#000" stroke-width="1.2"/><line x1="982.1" y1="1028.0" x2="982.1" y2="1032.0" stroke="#000" stroke-width="1.2"/><line x1="999.0" y1="1028.0" x2="999.0" y2="1032.0" stroke="#000" stroke-width="1.2"/><line x1="1008.6" y1="1028.0" x2="1008.6" y2="1032.0" stroke="#000" stroke-width="1.2"/><line x1="1015.8" y1="1028.0" x2="1015.8" y2="1032.0" stroke="#000" stroke-width="1.2"/><line x1="1023.0" y1="1028.0" x2="1023.0" y2="1032.0" stroke="#000" stroke-width="1.2"/><line x1="1027.8" y1="1028.0" x2="1027.8" y2="1032.0" stroke="#000" stroke-width="1.2"/><line x1="1032.6" y1="1028.0" x2="1032.6" y2="1032.0" stroke="#000" stroke-width="1.2"/><line x1="1047.0" y1="1028.0" x2="1047.0" y2="1032.0" stroke="#000" stroke-width="1.2"/><line x1="1056.7" y1="1028.0" x2="1056.7" y2="1032.0" stroke="#000" stroke-width="1.2"/><line x1="1063.9" y1="1028.0" x2="1063.9" y2="1032.0" stroke="#000" stroke-width="1.2"/><line x1="1068.7" y1="1028.0" x2="1068.7" y2="1032.0" stroke="#000" stroke-width="1.2"/><line x1="1073.5" y1="1028.0" x2="1073.5" y2="1032.0" stroke="#000" stroke-width="1.2"/><line x1="1075.9" y1="1028.0" x2="1075.9" y2="1032.0" stroke="#000" stroke-width="1.2"/><line x1="1090.3" y1="1028.0" x2="1090.3" y2="1032.0" stroke="#000" stroke-width="1.2"/><line x1="1097.6" y1="1028.0" x2="1097.6" y2="1032.0" stroke="#000" stroke-width="1.2"/><line x1="1104.8" y1="1028.0" x2="1104.8" y2="1032.0" stroke="#000" stroke-width="1.2"/><line x1="1109.6" y1="1028.0" x2="1109.6" y2="1032.0" stroke="#000" stroke-width="1.2"/><line x1="1112.0" y1="1028.0" x2="1112.0" y2="1032.0" stroke="#000" stroke-width="1.2"/><line x1="1114.4" y1="1028.0" x2="1114.4" y2="1032.0" stroke="#000" stroke-width="1.2"/><line x1="924.4" y1="1028.0" x2="924.4" y2="1035.0" stroke="#000" stroke-width="1.5"/><line x1="928.0" y1="1028.0" x2="928.0" y2="1035.0" stroke="#000" stroke-width="1.5"/><line x1="931.6" y1="1028.0" x2="931.6" y2="1035.0" stroke="#000" stroke-width="1.5"/><line x1="935.2" y1="1028.0" x2="935.2" y2="1035.0" stroke="#000" stroke-width="1.5"/><line x1="938.8" y1="1028.0" x2="938.8" y2="1035.0" stroke="#000" stroke-width="1.5"/><line x1="942.4" y1="1028.0" x2="942.4" y2="1035.0" stroke="#000" stroke-width="1.5"/><rect x="88.7" y="1052.5" width="240.5" height="240.5" fill="none" stroke="#000" stroke-width="2"/><line x1="81.7" y1="1109.0" x2="88.7" y2="1109.0" stroke="#000" stroke-width="1.5"/><line x1="81.7" y1="1176.4" x2="88.7" y2="1176.4" stroke="#000" stroke-width="1.5"/><line x1="85.2" y1="1059.7" x2="88.7" y2="1059.7" stroke="#000" stroke-width="1.2"/><line x1="85.2" y1="1064.5" x2="88.7" y2="1064.5" stroke="#000" stroke-width="1.2"/><line x1="85.2" y1="1071.7" x2="88.7" y2="1071.7" stroke="#000" stroke-width="1.2"/><line x1="85.2" y1="1079.0" x2="88.7" y2="1079.0" stroke="#000" stroke-width="1.2"/><line x1="85.2" y1="1088.6" x2="88.7" y2="1088.6" stroke="#000" stroke-width="1.2"/><line x1="85.2" y1="1098.2" x2="88.7" y2="1098.2" stroke="#000" stroke-width="1.2"/><line x1="85.2" y1="1124.7" x2="88.7" y2="1124.7" stroke="#000" stroke-width="1.2"/><line x1="85.2" y1="1139.1" x2="88.7" y2="1139.1" stroke="#000" stroke-width="1.2"/><line x1="85.2" y1="1148.7" x2="88.7" y2="1148.7" stroke="#000" stroke-width="1.2"/><line x1="85.2" y1="1158.3" x2="88.7" y2="1158.3" stroke="#000" stroke-width="1.2"/><line x1="85.2" y1="1165.5" x2="88.7" y2="1165.5" stroke="#000" stroke-width="1.2"/><line x1="85.2" y1="1170.3" x2="88.7" y2="1170.3" stroke="#000" stroke-width="1.2"/><line x1="85.2" y1="1192.0" x2="88.7" y2="1192.0" stroke="#000" stroke-width="1.2"/><line x1="85.2" y1="1204.0" x2="88.7" y2="1204.0" stroke="#000" stroke-width="1.2"/><line x1="85.2" y1="1213.6" x2="88.7" y2="1213.6" stroke="#000" stroke-width="1.2"/><line x1="85.2" y1="1220.8" x2="88.7" y2="1220.8" stroke="#000" stroke-width="1.2"/><line x1="85.2" y1="1225.7" x2="88.7" y2="1225.7" stroke="#000" stroke-width="1.2"/><line x1="85.2" y1="1259.3" x2="88.7" y2="1259.3" stroke="#000" stroke-width="1.2"/><line x1="85.2" y1="1273.8" x2="88.7" y2="1273.8" stroke="#000" stroke-width="1.2"/><line x1="85.2" y1="1283.4" x2="88.7" y2="1283.4" stroke="#000" stroke-width="1.2"/><line x1="82.7" y1="1230.5" x2="88.7" y2="1230.5" stroke="#000" stroke-width="1.4"/><line x1="82.7" y1="1234.1" x2="88.7" y2="1234.1" stroke="#000" stroke-width="1.4"/><line x1="82.7" y1="1237.7" x2="88.7" y2="1237.7" stroke="#000" stroke-width="1.4"/><line x1="82.7" y1="1241.3" x2="88.7" y2="1241.3" stroke="#000" stroke-width="1.4"/><line x1="82.7" y1="1244.9" x2="88.7" y2="1244.9" stroke="#000" stroke-width="1.4"/><line x1="82.7" y1="1247.3" x2="88.7" y2="1247.3" stroke="#000" stroke-width="1.4"/><line x1="92.8" y1="1293.0" x2="92.8" y2="1301.0" stroke="#000" stroke-width="1.6"/><line x1="196.9" y1="1293.0" x2="196.9" y2="1301.0" stroke="#000" stroke-width="1.6"/><line x1="245.0" y1="1293.0" x2="245.0" y2="1301.0" stroke="#000" stroke-width="1.6"/><line x1="290.2" y1="1293.0" x2="290.2" y2="1301.0" stroke="#000" stroke-width="1.6"/><line x1="105.5" y1="1293.0" x2="105.5" y2="1297.0" stroke="#000" stroke-width="1.2"/><line x1="112.8" y1="1293.0" x2="112.8" y2="1297.0" stroke="#000" stroke-width="1.2"/><line x1="120.0" y1="1293.0" x2="120.0" y2="1297.0" stroke="#000" stroke-width="1.2"/><line x1="127.2" y1="1293.0" x2="127.2" y2="1297.0" stroke="#000" stroke-width="1.2"/><line x1="160.8" y1="1293.0" x2="160.8" y2="1297.0" stroke="#000" stroke-width="1.2"/><line x1="168.1" y1="1293.0" x2="168.1" y2="1297.0" stroke="#000" stroke-width="1.2"/><line x1="175.3" y1="1293.0" x2="175.3" y2="1297.0" stroke="#000" stroke-width="1.2"/><line x1="182.5" y1="1293.0" x2="182.5" y2="1297.0" stroke="#000" stroke-width="1.2"/><line x1="187.3" y1="1293.0" x2="187.3" y2="1297.0" stroke="#000" stroke-width="1.2"/><line x1="192.1" y1="1293.0" x2="192.1" y2="1297.0" stroke="#000" stroke-width="1.2"/><line x1="208.9" y1="1293.0" x2="208.9" y2="1297.0" stroke="#000" stroke-width="1.2"/><line x1="218.6" y1="1293.0" x2="218.6" y2="1297.0" stroke="#000" stroke-width="1.2"/><line x1="225.8" y1="1293.0" x2="225.8" y2="1297.0" stroke="#000" stroke-width="1.2"/><line x1="233.0" y1="1293.0" x2="233.0" y2="1297.0" stroke="#000" stroke-width="1.2"/><line x1="237.8" y1="1293.0" x2="237.8" y2="1297.0" stroke="#000" stroke-width="1.2"/><line x1="242.6" y1="1293.0" x2="242.6" y2="1297.0" stroke="#000" stroke-width="1.2"/><line x1="257.1" y1="1293.0" x2="257.1" y2="1297.0" stroke="#000" stroke-width="1.2"/><line x1="266.7" y1="1293.0" x2="266.7" y2="1297.0" stroke="#000" stroke-width="1.2"/><line x1="273.9" y1="1293.0" x2="273.9" y2="1297.0" stroke="#000" stroke-width="1.2"/><line x1="278.7" y1="1293.0" x2="278.7" y2="1297.0" stroke="#000" stroke-width="1.2"/><line x1="283.5" y1="1293.0" x2="283.5" y2="1297.0" stroke="#000" stroke-width="1.2"/><line x1="285.9" y1="1293.0" x2="285.9" y2="1297.0" stroke="#000" stroke-width="1.2"/><line x1="300.3" y1="1293.0" x2="300.3" y2="1297.0" stroke="#000" stroke-width="1.2"/><line x1="307.6" y1="1293.0" x2="307.6" y2="1297.0" stroke="#000" stroke-width="1.2"/><line x1="314.8" y1="1293.0" x2="314.8" y2="1297.0" stroke="#000" stroke-width="1.2"/><line x1="319.6" y1="1293.0" x2="319.6" y2="1297.0" stroke="#000" stroke-width="1.2"/><line x1="322.0" y1="1293.0" x2="322.0" y2="1297.0" stroke="#000" stroke-width="1.2"/><line x1="324.4" y1="1293.0" x2="324.4" y2="1297.0" stroke="#000" stroke-width="1.2"/><line x1="134.4" y1="1293.0" x2="134.4" y2="1300.0" stroke="#000" stroke-width="1.5"/><line x1="138.0" y1="1293.0" x2="138.0" y2="1300.0" stroke="#000" stroke-width="1.5"/><line x1="141.6" y1="1293.0" x2="141.6" y2="1300.0" stroke="#000" stroke-width="1.5"/><line x1="145.2" y1="1293.0" x2="145.2" y2="1300.0" stroke="#000" stroke-width="1.5"/><line x1="148.8" y1="1293.0" x2="148.8" y2="1300.0" stroke="#000" stroke-width="1.5"/><line x1="152.4" y1="1293.0" x2="152.4" y2="1300.0" stroke="#000" stroke-width="1.5"/><rect x="352.5" y="1052.5" width="240.5" height="240.5" fill="none" stroke="#000" stroke-width="2"/><line x1="345.5" y1="1109.0" x2="352.5" y2="1109.0" stroke="#000" stroke-width="1.5"/><line x1="345.5" y1="1176.4" x2="352.5" y2="1176.4" stroke="#000" stroke-width="1.5"/><line x1="349.0" y1="1059.7" x2="352.5" y2="1059.7" stroke="#000" stroke-width="1.2"/><line x1="349.0" y1="1064.5" x2="352.5" y2="1064.5" stroke="#000" stroke-width="1.2"/><line x1="349.0" y1="1071.7" x2="352.5" y2="1071.7" stroke="#000" stroke-width="1.2"/><line x1="349.0" y1="1079.0" x2="352.5" y2="1079.0" stroke="#000" stroke-width="1.2"/><line x1="349.0" y1="1088.6" x2="352.5" y2="1088.6" stroke="#000" stroke-width="1.2"/><line x1="349.0" y1="1098.2" x2="352.5" y2="1098.2" stroke="#000" stroke-width="1.2"/><line x1="349.0" y1="1124.7" x2="352.5" y2="1124.7" stroke="#000" stroke-width="1.2"/><line x1="349.0" y1="1139.1" x2="352.5" y2="1139.1" stroke="#000" stroke-width="1.2"/><line x1="349.0" y1="1148.7" x2="352.5" y2="1148.7" stroke="#000" stroke-width="1.2"/><line x1="349.0" y1="1158.3" x2="352.5" y2="1158.3" stroke="#000" stroke-width="1.2"/><line x1="349.0" y1="1165.5" x2="352.5" y2="1165.5" stroke="#000" stroke-width="1.2"/><line x1="349.0" y1="1170.3" x2="352.5" y2="1170.3" stroke="#000" stroke-width="1.2"/><line x1="349.0" y1="1192.0" x2="352.5" y2="1192.0" stroke="#000" stroke-width="1.2"/><line x1="349.0" y1="1204.0" x2="352.5" y2="1204.0" stroke="#000" stroke-width="1.2"/><line x1="349.0" y1="1213.6" x2="352.5" y2="1213.6" stroke="#000" stroke-width="1.2"/><line x1="349.0" y1="1220.8" x2="352.5" y2="1220.8" stroke="#000" stroke-width="1.2"/><line x1="349.0" y1="1225.7" x2="352.5" y2="1225.7" stroke="#000" stroke-width="1.2"/><line x1="349.0" y1="1259.3" x2="352.5" y2="1259.3" stroke="#000" stroke-width="1.2"/><line x1="349.0" y1="1273.8" x2="352.5" y2="1273.8" stroke="#000" stroke-width="1.2"/><line x1="349.0" y1="1283.4" x2="352.5" y2="1283.4" stroke="#000" stroke-width="1.2"/><line x1="346.5" y1="1230.5" x2="352.5" y2="1230.5" stroke="#000" stroke-width="1.4"/><line x1="346.5" y1="1234.1" x2="352.5" y2="1234.1" stroke="#000" stroke-width="1.4"/><line x1="346.5" y1="1237.7" x2="352.5" y2="1237.7" stroke="#000" stroke-width="1.4"/><line x1="346.5" y1="1241.3" x2="352.5" y2="1241.3" stroke="#000" stroke-width="1.4"/><line x1="346.5" y1="1244.9" x2="352.5" y2="1244.9" stroke="#000" stroke-width="1.4"/><line x1="346.5" y1="1247.3" x2="352.5" y2="1247.3" stroke="#000" stroke-width="1.4"/><line x1="356.6" y1="1293.0" x2="356.6" y2="1301.0" stroke="#000" stroke-width="1.6"/><line x1="460.7" y1="1293.0" x2="460.7" y2="1301.0" stroke="#000" stroke-width="1.6"/><line x1="508.8" y1="1293.0" x2="508.8" y2="1301.0" stroke="#000" stroke-width="1.6"/><line x1="554.0" y1="1293.0" x2="554.0" y2="1301.0" stroke="#000" stroke-width="1.6"/><line x1="369.3" y1="1293.0" x2="369.3" y2="1297.0" stroke="#000" stroke-width="1.2"/><line x1="376.6" y1="1293.0" x2="376.6" y2="1297.0" stroke="#000" stroke-width="1.2"/><line x1="383.8" y1="1293.0" x2="383.8" y2="1297.0" stroke="#000" stroke-width="1.2"/><line x1="391.0" y1="1293.0" x2="391.0" y2="1297.0" stroke="#000" stroke-width="1.2"/><line x1="424.6" y1="1293.0" x2="424.6" y2="1297.0" stroke="#000" stroke-width="1.2"/><line x1="431.9" y1="1293.0" x2="431.9" y2="1297.0" stroke="#000" stroke-width="1.2"/><line x1="439.1" y1="1293.0" x2="439.1" y2="1297.0" stroke="#000" stroke-width="1.2"/><line x1="446.3" y1="1293.0" x2="446.3" y2="1297.0" stroke="#000" stroke-width="1.2"/><line x1="451.1" y1="1293.0" x2="451.1" y2="1297.0" stroke="#000" stroke-width="1.2"/><line x1="455.9" y1="1293.0" x2="455.9" y2="1297.0" stroke="#000" stroke-width="1.2"/><line x1="472.8" y1="1293.0" x2="472.8" y2="1297.0" stroke="#000" stroke-width="1.2"/><line x1="482.4" y1="1293.0" x2="482.4" y2="1297.0" stroke="#000" stroke-width="1.2"/><line x1="489.6" y1="1293.0" x2="489.6" y2="1297.0" stroke="#000" stroke-width="1.2"/><line x1="496.8" y1="1293.0" x2="496.8" y2="1297.0" stroke="#000" stroke-width="1.2"/><line x1="501.6" y1="1293.0" x2="501.6" y2="1297.0" stroke="#000" stroke-width="1.2"/><line x1="506.4" y1="1293.0" x2="506.4" y2="1297.0" stroke="#000" stroke-width="1.2"/><line x1="520.9" y1="1293.0" x2="520.9" y2="1297.0" stroke="#000" stroke-width="1.2"/><line x1="530.5" y1="1293.0" x2="530.5" y2="1297.0" stroke="#000" stroke-width="1.2"/><line x1="537.7" y1="1293.0" x2="537.7" y2="1297.0" stroke="#000" stroke-width="1.2"/><line x1="542.5" y1="1293.0" x2="542.5" y2="1297.0" stroke="#000" stroke-width="1.2"/><line x1="547.3" y1="1293.0" x2="547.3" y2="1297.0" stroke="#000" stroke-width="1.2"/><line x1="549.7" y1="1293.0" x2="549.7" y2="1297.0" stroke="#000" stroke-width="1.2"/><line x1="564.1" y1="1293.0" x2="564.1" y2="1297.0" stroke="#000" stroke-width="1.2"/><line x1="571.4" y1="1293.0" x2="571.4" y2="1297.0" stroke="#000" stroke-width="1.2"/><line x1="578.6" y1="1293.0" x2="578.6" y2="1297.0" stroke="#000" stroke-width="1.2"/><line x1="583.4" y1="1293.0" x2="583.4" y2="1297.0" stroke="#000" stroke-width="1.2"/><line x1="585.8" y1="1293.0" x2="585.8" y2="1297.0" stroke="#000" stroke-width="1.2"/><line x1="588.2" y1="1293.0" x2="588.2" y2="1297.0" stroke="#000" stroke-width="1.2"/><line x1="398.2" y1="1293.0" x2="398.2" y2="1300.0" stroke="#000" stroke-width="1.5"/><line x1="401.8" y1="1293.0" x2="401.8" y2="1300.0" stroke="#000" stroke-width="1.5"/><line x1="405.4" y1="1293.0" x2="405.4" y2="1300.0" stroke="#000" stroke-width="1.5"/><line x1="409.0" y1="1293.0" x2="409.0" y2="1300.0" stroke="#000" stroke-width="1.5"/><line x1="412.6" y1="1293.0" x2="412.6" y2="1300.0" stroke="#000" stroke-width="1.5"/><line x1="416.2" y1="1293.0" x2="416.2" y2="1300.0" stroke="#000" stroke-width="1.5"/><rect x="615.6" y="1052.5" width="240.5" height="240.5" fill="none" stroke="#000" stroke-width="2"/><line x1="608.6" y1="1109.0" x2="615.6" y2="1109.0" stroke="#000" stroke-width="1.5"/><line x1="608.6" y1="1176.4" x2="615.6" y2="1176.4" stroke="#000" stroke-width="1.5"/><line x1="612.1" y1="1059.7" x2="615.6" y2="1059.7" stroke="#000" stroke-width="1.2"/><line x1="612.1" y1="1064.5" x2="615.6" y2="1064.5" stroke="#000" stroke-width="1.2"/><line x1="612.1" y1="1071.7" x2="615.6" y2="1071.7" stroke="#000" stroke-width="1.2"/><line x1="612.1" y1="1079.0" x2="615.6" y2="1079.0" stroke="#000" stroke-width="1.2"/><line x1="612.1" y1="1088.6" x2="615.6" y2="1088.6" stroke="#000" stroke-width="1.2"/><line x1="612.1" y1="1098.2" x2="615.6" y2="1098.2" stroke="#000" stroke-width="1.2"/><line x1="612.1" y1="1124.7" x2="615.6" y2="1124.7" stroke="#000" stroke-width="1.2"/><line x1="612.1" y1="1139.1" x2="615.6" y2="1139.1" stroke="#000" stroke-width="1.2"/><line x1="612.1" y1="1148.7" x2="615.6" y2="1148.7" stroke="#000" stroke-width="1.2"/><line x1="612.1" y1="1158.3" x2="615.6" y2="1158.3" stroke="#000" stroke-width="1.2"/><line x1="612.1" y1="1165.5" x2="615.6" y2="1165.5" stroke="#000" stroke-width="1.2"/><line x1="612.1" y1="1170.3" x2="615.6" y2="1170.3" stroke="#000" stroke-width="1.2"/><line x1="612.1" y1="1192.0" x2="615.6" y2="1192.0" stroke="#000" stroke-width="1.2"/><line x1="612.1" y1="1204.0" x2="615.6" y2="1204.0" stroke="#000" stroke-width="1.2"/><line x1="612.1" y1="1213.6" x2="615.6" y2="1213.6" stroke="#000" stroke-width="1.2"/><line x1="612.1" y1="1220.8" x2="615.6" y2="1220.8" stroke="#000" stroke-width="1.2"/><line x1="612.1" y1="1225.7" x2="615.6" y2="1225.7" stroke="#000" stroke-width="1.2"/><line x1="612.1" y1="1259.3" x2="615.6" y2="1259.3" stroke="#000" stroke-width="1.2"/><line x1="612.1" y1="1273.8" x2="615.6" y2="1273.8" stroke="#000" stroke-width="1.2"/><line x1="612.1" y1="1283.4" x2="615.6" y2="1283.4" stroke="#000" stroke-width="1.2"/><line x1="609.6" y1="1230.5" x2="615.6" y2="1230.5" stroke="#000" stroke-width="1.4"/><line x1="609.6" y1="1234.1" x2="615.6" y2="1234.1" stroke="#000" stroke-width="1.4"/><line x1="609.6" y1="1237.7" x2="615.6" y2="1237.7" stroke="#000" stroke-width="1.4"/><line x1="609.6" y1="1241.3" x2="615.6" y2="1241.3" stroke="#000" stroke-width="1.4"/><line x1="609.6" y1="1244.9" x2="615.6" y2="1244.9" stroke="#000" stroke-width="1.4"/><line x1="609.6" y1="1247.3" x2="615.6" y2="1247.3" stroke="#000" stroke-width="1.4"/><line x1="619.7" y1="1293.0" x2="619.7" y2="1301.0" stroke="#000" stroke-width="1.6"/><line x1="723.8" y1="1293.0" x2="723.8" y2="1301.0" stroke="#000" stroke-width="1.6"/><line x1="771.9" y1="1293.0" x2="771.9" y2="1301.0" stroke="#000" stroke-width="1.6"/><line x1="817.1" y1="1293.0" x2="817.1" y2="1301.0" stroke="#000" stroke-width="1.6"/><line x1="632.4" y1="1293.0" x2="632.4" y2="1297.0" stroke="#000" stroke-width="1.2"/><line x1="639.6" y1="1293.0" x2="639.6" y2="1297.0" stroke="#000" stroke-width="1.2"/><line x1="646.9" y1="1293.0" x2="646.9" y2="1297.0" stroke="#000" stroke-width="1.2"/><line x1="654.1" y1="1293.0" x2="654.1" y2="1297.0" stroke="#000" stroke-width="1.2"/><line x1="687.8" y1="1293.0" x2="687.8" y2="1297.0" stroke="#000" stroke-width="1.2"/><line x1="695.0" y1="1293.0" x2="695.0" y2="1297.0" stroke="#000" stroke-width="1.2"/><line x1="702.2" y1="1293.0" x2="702.2" y2="1297.0" stroke="#000" stroke-width="1.2"/><line x1="709.4" y1="1293.0" x2="709.4" y2="1297.0" stroke="#000" stroke-width="1.2"/><line x1="714.2" y1="1293.0" x2="714.2" y2="1297.0" stroke="#000" stroke-width="1.2"/><line x1="719.0" y1="1293.0" x2="719.0" y2="1297.0" stroke="#000" stroke-width="1.2"/><line x1="735.9" y1="1293.0" x2="735.9" y2="1297.0" stroke="#000" stroke-width="1.2"/><line x1="745.5" y1="1293.0" x2="745.5" y2="1297.0" stroke="#000" stroke-width="1.2"/><line x1="752.7" y1="1293.0" x2="752.7" y2="1297.0" stroke="#000" stroke-width="1.2"/><line x1="759.9" y1="1293.0" x2="759.9" y2="1297.0" stroke="#000" stroke-width="1.2"/><line x1="764.7" y1="1293.0" x2="764.7" y2="1297.0" stroke="#000" stroke-width="1.2"/><line x1="769.5" y1="1293.0" x2="769.5" y2="1297.0" stroke="#000" stroke-width="1.2"/><line x1="784.0" y1="1293.0" x2="784.0" y2="1297.0" stroke="#000" stroke-width="1.2"/><line x1="793.6" y1="1293.0" x2="793.6" y2="1297.0" stroke="#000" stroke-width="1.2"/><line x1="800.8" y1="1293.0" x2="800.8" y2="1297.0" stroke="#000" stroke-width="1.2"/><line x1="805.6" y1="1293.0" x2="805.6" y2="1297.0" stroke="#000" stroke-width="1.2"/><line x1="810.4" y1="1293.0" x2="810.4" y2="1297.0" stroke="#000" stroke-width="1.2"/><line x1="812.8" y1="1293.0" x2="812.8" y2="1297.0" stroke="#000" stroke-width="1.2"/><line x1="827.2" y1="1293.0" x2="827.2" y2="1297.0" stroke="#000" stroke-width="1.2"/><line x1="834.5" y1="1293.0" x2="834.5" y2="1297.0" stroke="#000" stroke-width="1.2"/><line x1="841.7" y1="1293.0" x2="841.7" y2="1297.0" stroke="#000" stroke-width="1.2"/><line x1="846.5" y1="1293.0" x2="846.5" y2="1297.0" stroke="#000" stroke-width="1.2"/><line x1="848.9" y1="1293.0" x2="848.9" y2="1297.0" stroke="#000" stroke-width="1.2"/><line x1="851.3" y1="1293.0" x2="851.3" y2="1297.0" stroke="#000" stroke-width="1.2"/><line x1="661.3" y1="1293.0" x2="661.3" y2="1300.0" stroke="#000" stroke-width="1.5"/><line x1="664.9" y1="1293.0" x2="664.9" y2="1300.0" stroke="#000" stroke-width="1.5"/><line x1="668.5" y1="1293.0" x2="668.5" y2="1300.0" stroke="#000" stroke-width="1.5"/><line x1="672.1" y1="1293.0" x2="672.1" y2="1300.0" stroke="#000" stroke-width="1.5"/><line x1="675.7" y1="1293.0" x2="675.7" y2="1300.0" stroke="#000" stroke-width="1.5"/><line x1="679.3" y1="1293.0" x2="679.3" y2="1300.0" stroke="#000" stroke-width="1.5"/><rect x="878.7" y="1052.5" width="240.5" height="240.5" fill="none" stroke="#000" stroke-width="2"/><line x1="871.7" y1="1109.0" x2="878.7" y2="1109.0" stroke="#000" stroke-width="1.5"/><line x1="871.7" y1="1176.4" x2="878.7" y2="1176.4" stroke="#000" stroke-width="1.5"/><line x1="875.2" y1="1059.7" x2="878.7" y2="1059.7" stroke="#000" stroke-width="1.2"/><line x1="875.2" y1="1064.5" x2="878.7" y2="1064.5" stroke="#000" stroke-width="1.2"/><line x1="875.2" y1="1071.7" x2="878.7" y2="1071.7" stroke="#000" stroke-width="1.2"/><line x1="875.2" y1="1079.0" x2="878.7" y2="1079.0" stroke="#000" stroke-width="1.2"/><line x1="875.2" y1="1088.6" x2="878.7" y2="1088.6" stroke="#000" stroke-width="1.2"/><line x1="875.2" y1="1098.2" x2="878.7" y2="1098.2" stroke="#000" stroke-width="1.2"/><line x1="875.2" y1="1124.7" x2="878.7" y2="1124.7" stroke="#000" stroke-width="1.2"/><line x1="875.2" y1="1139.1" x2="878.7" y2="1139.1" stroke="#000" stroke-width="1.2"/><line x1="875.2" y1="1148.7" x2="878.7" y2="1148.7" stroke="#000" stroke-width="1.2"/><line x1="875.2" y1="1158.3" x2="878.7" y2="1158.3" stroke="#000" stroke-width="1.2"/><line x1="875.2" y1="1165.5" x2="878.7" y2="1165.5" stroke="#000" stroke-width="1.2"/><line x1="875.2" y1="1170.3" x2="878.7" y2="1170.3" stroke="#000" stroke-width="1.2"/><line x1="875.2" y1="1192.0" x2="878.7" y2="1192.0" stroke="#000" stroke-width="1.2"/><line x1="875.2" y1="1204.0" x2="878.7" y2="1204.0" stroke="#000" stroke-width="1.2"/><line x1="875.2" y1="1213.6" x2="878.7" y2="1213.6" stroke="#000" stroke-width="1.2"/><line x1="875.2" y1="1220.8" x2="878.7" y2="1220.8" stroke="#000" stroke-width="1.2"/><line x1="875.2" y1="1225.7" x2="878.7" y2="1225.7" stroke="#000" stroke-width="1.2"/><line x1="875.2" y1="1259.3" x2="878.7" y2="1259.3" stroke="#000" stroke-width="1.2"/><line x1="875.2" y1="1273.8" x2="878.7" y2="1273.8" stroke="#000" stroke-width="1.2"/><line x1="875.2" y1="1283.4" x2="878.7" y2="1283.4" stroke="#000" stroke-width="1.2"/><line x1="872.7" y1="1230.5" x2="878.7" y2="1230.5" stroke="#000" stroke-width="1.4"/><line x1="872.7" y1="1234.1" x2="878.7" y2="1234.1" stroke="#000" stroke-width="1.4"/><line x1="872.7" y1="1237.7" x2="878.7" y2="1237.7" stroke="#000" stroke-width="1.4"/><line x1="872.7" y1="1241.3" x2="878.7" y2="1241.3" stroke="#000" stroke-width="1.4"/><line x1="872.7" y1="1244.9" x2="878.7" y2="1244.9" stroke="#000" stroke-width="1.4"/><line x1="872.7" y1="1247.3" x2="878.7" y2="1247.3" stroke="#000" stroke-width="1.4"/><line x1="882.8" y1="1293.0" x2="882.8" y2="1301.0" stroke="#000" stroke-width="1.6"/><line x1="986.9" y1="1293.0" x2="986.9" y2="1301.0" stroke="#000" stroke-width="1.6"/><line x1="1035.0" y1="1293.0" x2="1035.0" y2="1301.0" stroke="#000" stroke-width="1.6"/><line x1="1080.2" y1="1293.0" x2="1080.2" y2="1301.0" stroke="#000" stroke-width="1.6"/><line x1="895.5" y1="1293.0" x2="895.5" y2="1297.0" stroke="#000" stroke-width="1.2"/><line x1="902.8" y1="1293.0" x2="902.8" y2="1297.0" stroke="#000" stroke-width="1.2"/><line x1="910.0" y1="1293.0" x2="910.0" y2="1297.0" stroke="#000" stroke-width="1.2"/><line x1="917.2" y1="1293.0" x2="917.2" y2="1297.0" stroke="#000" stroke-width="1.2"/><line x1="950.9" y1="1293.0" x2="950.9" y2="1297.0" stroke="#000" stroke-width="1.2"/><line x1="958.1" y1="1293.0" x2="958.1" y2="1297.0" stroke="#000" stroke-width="1.2"/><line x1="965.3" y1="1293.0" x2="965.3" y2="1297.0" stroke="#000" stroke-width="1.2"/><line x1="972.5" y1="1293.0" x2="972.5" y2="1297.0" stroke="#000" stroke-width="1.2"/><line x1="977.3" y1="1293.0" x2="977.3" y2="1297.0" stroke="#000" stroke-width="1.2"/><line x1="982.1" y1="1293.0" x2="982.1" y2="1297.0" stroke="#000" stroke-width="1.2"/><line x1="999.0" y1="1293.0" x2="999.0" y2="1297.0" stroke="#000" stroke-width="1.2"/><line x1="1008.6" y1="1293.0" x2="1008.6" y2="1297.0" stroke="#000" stroke-width="1.2"/><line x1="1015.8" y1="1293.0" x2="1015.8" y2="1297.0" stroke="#000" stroke-width="1.2"/><line x1="1023.0" y1="1293.0" x2="1023.0" y2="1297.0" stroke="#000" stroke-width="1.2"/><line x1="1027.8" y1="1293.0" x2="1027.8" y2="1297.0" stroke="#000" stroke-width="1.2"/><line x1="1032.6" y1="1293.0" x2="1032.6" y2="1297.0" stroke="#000" stroke-width="1.2"/><line x1="1047.0" y1="1293.0" x2="1047.0" y2="1297.0" stroke="#000" stroke-width="1.2"/><line x1="1056.7" y1="1293.0" x2="1056.7" y2="1297.0" stroke="#000" stroke-width="1.2"/><line x1="1063.9" y1="1293.0" x2="1063.9" y2="1297.0" stroke="#000" stroke-width="1.2"/><line x1="1068.7" y1="1293.0" x2="1068.7" y2="1297.0" stroke="#000" stroke-width="1.2"/><line x1="1073.5" y1="1293.0" x2="1073.5" y2="1297.0" stroke="#000" stroke-width="1.2"/><line x1="1075.9" y1="1293.0" x2="1075.9" y2="1297.0" stroke="#000" stroke-width="1.2"/><line x1="1090.3" y1="1293.0" x2="1090.3" y2="1297.0" stroke="#000" stroke-width="1.2"/><line x1="1097.6" y1="1293.0" x2="1097.6" y2="1297.0" stroke="#000" stroke-width="1.2"/><line x1="1104.8" y1="1293.0" x2="1104.8" y2="1297.0" stroke="#000" stroke-width="1.2"/><line x1="1109.6" y1="1293.0" x2="1109.6" y2="1297.0" stroke="#000" stroke-width="1.2"/><line x1="1112.0" y1="1293.0" x2="1112.0" y2="1297.0" stroke="#000" stroke-width="1.2"/><line x1="1114.4" y1="1293.0" x2="1114.4" y2="1297.0" stroke="#000" stroke-width="1.2"/><line x1="924.4" y1="1293.0" x2="924.4" y2="1300.0" stroke="#000" stroke-width="1.5"/><line x1="928.0" y1="1293.0" x2="928.0" y2="1300.0" stroke="#000" stroke-width="1.5"/><line x1="931.6" y1="1293.0" x2="931.6" y2="1300.0" stroke="#000" stroke-width="1.5"/><line x1="935.2" y1="1293.0" x2="935.2" y2="1300.0" stroke="#000" stroke-width="1.5"/><line x1="938.8" y1="1293.0" x2="938.8" y2="1300.0" stroke="#000" stroke-width="1.5"/><line x1="942.4" y1="1293.0" x2="942.4" y2="1300.0" stroke="#000" stroke-width="1.5"/><clipPath id="clipD00"><rect x="89.7" y="788" width="238.5" height="239"/></clipPath><clipPath id="clipD01"><rect x="353.5" y="788" width="238.5" height="239"/></clipPath><clipPath id="clipD02"><rect x="616.6" y="788" width="238.5" height="239"/></clipPath><clipPath id="clipD03"><rect x="879.7" y="788" width="238.5" height="239"/></clipPath><clipPath id="clipD10"><rect x="89.7" y="1053.5" width="238.5" height="238.5"/></clipPath><clipPath id="clipD11"><rect x="353.5" y="1053.5" width="238.5" height="238.5"/></clipPath><clipPath id="clipD12"><rect x="616.6" y="1053.5" width="238.5" height="238.5"/></clipPath><clipPath id="clipD13"><rect x="879.7" y="1053.5" width="238.5" height="238.5"/></clipPath><g clip-path="url(#clipD00)"><path d="M272 844h1m-1 1h1m1 0h1m0 1h1m-9 2h1m5 0h1m5 0h1m-11 2h1m2 0h1m0 0h1m-1 1h1m5 0h1m-12 1h1m5 0h1m0 0h1m0 0h1m4 1h1m-8 1h1m-9 1h1m0 0h1m7 0h1m0 1h1m6 0h1m1 0h1m-13 1h1m0 0h1m-9 1h1m4 0h1m6 0h1m-12 1h1m1 0h1m2 0h1m0 0h1m-8 1h1m5 0h1m0 0h1m-2 1h1m5 0h1m1 0h1m0 0h1m-14 1h1m11 0h1m-17 1h1m3 0h1m5 0h1m3 1h1m-13 1h1m4 0h1m5 0h1m-6 1h1m0 0h1m3 0h1m-5 1h1m0 0h1m4 0h1m-19 2h1m8 0h1m3 1h1m3 0h1m-3 1h1m-6 1h1m0 0h1m-7 1h1m8 0h1m-14 1h1m5 0h1m-3 1h1m0 1h1m1 0h1m1 0h1m0 0h1m1 0h1m2 0h1m2 2h1m-14 1h1m9 0h1m4 0h1m-25 1h1m2 0h1m3 0h1m0 0h1m0 0h1m2 1h1m0 0h1m0 0h1m3 0h1m-6 1h1m1 0h1m3 0h1m-13 2h1m5 0h1m6 0h1m-18 1h1m10 0h1m-8 1h1m0 0h1m1 0h1m0 0h1m0 0h1m5 0h1m-17 1h1m8 0h1m0 0h1m2 0h1m2 0h1m9 0h1m-31 1h1m6 0h1m8 0h1m1 2h1m-8 1h1m2 0h1m-7 1h1m3 0h1m2 0h1m-1 1h1m0 0h1m-14 1h1m5 0h1m2 0h1m1 0h1m1 0h1m-10 1h1m1 0h1m0 0h1m2 0h1m3 0h1m-11 1h1m0 0h1m1 0h1m0 0h1m0 0h1m1 0h1m-14 1h1m1 0h1m3 0h1m1 0h1m2 0h1m4 0h1m0 0h1m-15 1h1m0 0h1m6 0h1m-10 1h1m1 0h1m6 0h1m0 0h1m0 0h1m-7 1h1m3 0h1m3 0h1m-10 1h1m0 0h1m0 0h1m0 0h1m6 0h1m2 0h1m-19 1h1m8 0h1m3 0h1m-12 1h1m2 0h1m-2 2h1m1 0h1m1 0h1m0 0h1m0 0h1m0 0h1m-10 1h1m0 0h1m2 0h1m-9 1h1m0 0h1m0 0h1m5 0h1m1 0h1m0 1h1m-12 1h1m2 0h1m2 0h1m1 0h1m0 0h1m-4 1h1m0 0h1m-4 1h1m3 0h1m0 0h1m-12 1h1m3 0h1m1 0h1m1 0h1m-8 1h1m5 0h1m2 0h1m1 0h1m0 0h1m-14 1h1m4 0h1m6 0h1m-8 1h1m7 0h1m-39 1h1m28 0h1m0 0h1m1 0h1m1 0h1m-10 1h1m4 0h1m3 0h1m-75 1h1m41 0h1m12 0h1m7 0h1m3 0h1m12 0h1m-20 1h1m0 0h1m3 0h1m5 0h1m5 0h1m-57 1h1m41 0h1m2 0h1m1 0h1m0 0h1m7 0h1m-18 1h1m1 0h1m3 0h1m4 0h1m-1 1h1m0 0h1m-77 1h1m63 0h1m3 0h1m2 0h1m5 0h1m0 0h1m0 0h1m-15 1h1m2 0h1m6 0h1m2 0h1m-34 1h1m14 0h1m2 0h1m5 0h1m4 0h1m2 0h1m-4 1h1m1 0h1m1 0h1m-89 1h1m74 0h1m1 0h1m0 0h1m1 0h1m-85 1h1m13 0h1m26 0h1m35 0h1m4 0h1m0 0h1m-55 1h1m29 0h1m19 0h1m0 0h1m-14 1h1m13 0h1m0 0h1m0 0h1m1 0h1m3 0h1m-9 1h1m1 0h1m0 0h1m-10 1h1m2 0h1m3 0h1m0 0h1m3 0h1m-41 1h1m1 0h1m21 0h1m5 0h1m0 0h1m1 0h1m1 0h1m0 0h1m3 0h1m1 0h1m-93 1h1m62 0h1m14 0h1m3 0h1m0 0h1m0 0h1m4 0h1m-101 1h1m12 0h1m10 0h1m14 0h1m2 0h1m0 0h1m40 0h1m6 0h1m1 0h1m0 0h1m2 0h1m-60 1h1m11 0h1m13 0h1m1 0h1m14 0h1m0 0h1m8 0h1m0 0h1m5 0h1m2 0h1m-74 1h1m21 0h1m1 0h1m4 0h1m16 0h1m7 0h1m2 0h1m5 0h1m6 0h1m-92 1h1m10 0h1m9 0h1m2 0h1m0 0h1m10 0h1m12 0h1m29 0h1m1 0h1m0 0h1m2 0h1m-99 1h1m11 0h1m9 0h1m4 0h1m8 0h1m4 0h1m14 0h1m0 0h1m4 0h1m2 0h1m19 0h1m9 0h1m0 0h1m10 0h1m-88 1h1m6 0h1m4 0h1m21 0h1m5 0h1m1 0h1m12 0h1m1 0h1m1 0h1m1 0h1m1 0h1m2 0h1m2 0h1m5 0h1m2 0h1m7 0h1m-95 1h1m37 0h1m1 0h1m11 0h1m0 0h1m19 0h1m4 0h1m0 0h1m1 0h1m0 0h1m1 0h1m0 0h1m1 0h1m-94 1h1m10 0h1m2 0h1m3 0h1m5 0h1m13 0h1m2 0h1m14 0h1m12 0h1m9 0h1m2 0h1m3 0h1m1 0h1m2 0h1m0 0h1m-99 1h1m0 0h1m21 0h1m12 0h1m1 0h1m0 0h1m0 0h1m3 0h1m2 0h1m1 0h1m6 0h1m16 0h1m0 0h1m1 0h1m4 0h1m3 0h1m2 0h1m0 0h1m1 0h1m0 0h1m1 0h1m0 0h1m4 0h1m-84 1h1m5 0h1m13 0h1m0 0h1m4 0h1m1 0h1m0 0h1m0 0h1m2 0h1m1 0h1m4 0h1m7 0h1m0 0h1m2 0h1m1 0h1m5 0h1m2 0h1m10 0h1m0 0h1m0 0h1m10 0h1m7 0h1m-107 1h1m3 0h1m3 0h1m7 0h1m2 0h1m1 0h1m6 0h1m2 0h1m0 0h1m0 0h1m2 0h1m1 0h1m5 0h1m3 0h1m12 0h1m7 0h1m6 0h1m6 0h1m1 0h1m5 0h1m6 0h1m-134 1h1m3 0h1m24 0h1m5 0h1m9 0h1m8 0h1m1 0h1m4 0h1m1 0h1m9 0h1m1 0h1m1 0h1m7 0h1m2 0h1m7 0h1m0 0h1m7 0h1m3 0h1m1 0h1m3 0h1m1 0h1m0 0h1m0 0h1m9 0h1m-92 1h1m8 0h1m1 0h1m0 0h1m3 0h1m1 0h1m6 0h1m6 0h1m1 0h1m0 0h1m2 0h1m2 0h1m7 0h1m0 0h1m6 0h1m0 0h1m18 0h1m5 0h1m0 0h1m4 0h1m4 0h1m-127 1h1m4 0h1m10 0h1m6 0h1m11 0h1m2 0h1m9 0h1m7 0h1m10 0h1m0 0h1m6 0h1m7 0h1m0 0h1m5 0h1m1 0h1m23 0h1m4 0h1m12 0h1m-113 1h1m3 0h1m7 0h1m0 0h1m5 0h1m0 0h1m8 0h1m16 0h1m1 0h1m0 0h1m4 0h1m2 0h1m0 0h1m3 0h1m6 0h1m23 0h1m1 0h1m10 0h1m-120 1h1m17 0h1m2 0h1m1 0h1m1 0h1m11 0h1m11 0h1m3 0h1m53 0h1m0 0h1m-123 1h1m6 0h1m9 0h1m4 0h1m9 0h1m4 0h1m0 0h1m4 0h1m5 0h1m0 0h1m1 0h1m14 0h1m58 0h1m7 0h1m-118 1h1m6 0h1m2 0h1m1 0h1m0 0h1m8 0h1m18 0h1m0 0h1m58 0h1m2 0h1m1 0h1m2 0h1m14 0h1m-153 1h1m23 0h1m13 0h1m2 0h1m5 0h1m0 0h1m18 0h1m3 0h1m2 0h1m9 0h1m5 0h1m2 0h1m3 0h1m8 0h1m3 0h1m15 0h1m0 0h1m3 0h1m1 0h1m3 0h1m-124 1h1m27 0h1m1 0h1m4 0h1m42 0h1m3 0h1m3 0h1m7 0h1m0 0h1m0 0h1m16 0h1m0 0h1m3 0h1m20 0h1m5 0h1m-138 1h1m3 0h1m9 0h1m0 0h1m0 0h1m2 0h1m17 0h1m30 0h1m2 0h1m9 0h1m20 0h1m4 0h1m6 0h1m6 0h1m0 0h1m6 0h1m-126 1h1m1 0h1m5 0h1m0 0h1m7 0h1m9 0h1m10 0h1m35 0h1m2 0h1m26 0h1m1 0h1m1 0h1m0 0h1m23 0h1m-133 1h1m3 0h1m0 0h1m0 0h1m1 0h1m12 0h1m7 0h1m2 0h1m62 0h1m9 0h1m2 0h1m11 0h1m-131 1h1m2 0h1m10 0h1m66 0h1m4 0h1m1 0h1m7 0h1m9 0h1m0 0h1m7 0h1m9 0h1m1 0h1m-129 1h1m4 0h1m6 0h1m1 0h1m1 0h1m2 0h1m11 0h1m57 0h1m4 0h1m0 0h1m11 0h1m1 0h1m6 0h1m0 0h1m3 0h1m15 0h1m-134 1h1m7 0h1m0 0h1m3 0h1m13 0h1m54 0h1m6 0h1m16 0h1m0 0h1m3 0h1m2 0h1m2 0h1m-118 1h1m1 0h1m2 0h1m4 0h1m14 0h1m61 0h1m17 0h1m3 0h1m8 0h1m1 0h1m11 0h1m-141 1h1m4 0h1m10 0h1m2 0h1m1 0h1m0 0h1m73 0h1m2 0h1m20 0h1m21 0h1m-141 1h1m9 0h1m3 0h1m0 0h1m84 0h1m12 0h1m0 0h1m6 0h1m0 0h1m13 0h1m0 0h1m0 0h1m25 0h1m-175 1h1m1 0h1m11 0h1m3 0h1m3 0h1m4 0h1m0 0h1m79 0h1m0 0h1m15 0h1m0 0h1m6 0h1m3 0h1m3 0h1m-135 1h1m9 0h1m5 0h1m86 0h1m13 0h1m5 0h1m1 0h1m-149 1h1m24 0h1m10 0h1m0 0h1m4 0h1m0 0h1m9 0h1m1 0h1m84 0h1m0 0h1m1 0h1m1 0h1m-128 1h1m2 0h1m12 0h1m3 0h1m1 0h1m0 0h1m0 0h1m0 0h1m0 0h1m74 0h1m8 0h1m12 0h1m-154 1h1m43 0h1m4 0h1m1 0h1m5 0h1m0 0h1m0 0h1m80 0h1m10 0h1m2 0h1m1 0h1m0 0h1m0 0h1m0 0h1m1 0h1m3 0h1m-126 1h1m5 0h1m3 0h1m0 0h1m7 0h1m4 0h1m73 0h1m1 0h1m10 0h1m0 0h1m-116 1h1m4 0h1m1 0h1m2 0h1m2 0h1m0 0h1m2 0h1m0 0h1m0 0h1m6 0h1m69 0h1m13 0h1m0 0h1m0 0h1m1 0h1m3 0h1m2 0h1m10 0h1m-137 1h1m13 0h1m2 0h1m1 0h1m1 0h1m1 0h1m10 0h1m66 0h1m5 0h1m7 0h1m0 0h1m5 0h1m0 0h1m0 0h1m15 0h1m0 0h1m-145 1h1m2 0h1m3 0h1m6 0h1m4 0h1m4 0h1m0 0h1m1 0h1m8 0h1m68 0h1m7 0h1m4 0h1m12 0h1m7 0h1m0 0h1m-147 1h1m28 0h1m2 0h1m0 0h1m1 0h1m84 0h1m4 0h1m3 0h1m2 0h1m2 0h1m12 0h1m21 0h1m-154 1h1m1 0h1m24 0h1m64 0h1m12 0h1m0 0h1m9 0h1m1 0h1m2 0h1m-118 1h1m3 0h1m0 0h1m1 0h1m0 0h1m82 0h1m11 0h1m1 0h1m0 0h1m2 0h1m2 0h1m-123 1h1m10 0h1m7 0h1m0 0h1m9 0h1m4 0h1m63 0h1m8 0h1m9 0h1m9 0h1m6 0h1m-116 1h1m2 0h1m2 0h1m66 0h1m6 0h1m0 0h1m1 0h1m1 0h1m2 0h1m0 0h1m0 0h1m4 0h1m9 0h1m5 0h1m-142 1h1m1 0h1m16 0h1m12 0h1m0 0h1m13 0h1m3 0h1m45 0h1m2 0h1m1 0h1m8 0h1m3 0h1m0 0h1m0 0h1m8 0h1m0 0h1m3 0h1m6 0h1m12 0h1m6 0h1m-132 1h1m8 0h1m3 0h1m68 0h1m0 0h1m5 0h1m0 0h1m0 0h1m4 0h1m7 0h1m8 0h1m62 0h1m-189 1h1m6 0h1m0 0h1m9 0h1m3 0h1m59 0h1m19 0h1m0 0h1m0 0h1m-115 1h1m12 0h1m11 0h1m4 0h1m3 0h1m0 0h1m66 0h1m13 0h1m4 0h1m5 0h1m1 0h1m-117 1h1m19 0h1m0 0h1m0 0h1m6 0h1m3 0h1m5 0h1m25 0h1m0 0h1m0 0h1m4 0h1m6 0h1m13 0h1m0 0h1m0 0h1m5 0h1m7 0h1m16 0h1m-121 1h1m8 0h1m4 0h1m2 0h1m0 0h1m37 0h1m12 0h1m2 0h1m3 0h1m11 0h1m0 0h1m0 0h1m10 0h1m23 0h1m-137 1h1m3 0h1m15 0h1m8 0h1m13 0h1m0 0h1m15 0h1m14 0h1m7 0h1m10 0h1m0 0h1m1 0h1m2 0h1m1 0h1m6 0h1m2 0h1m19 0h1m-118 1h1m2 0h1m6 0h1m2 0h1m2 0h1m2 0h1m32 0h1m22 0h1m1 0h1m3 0h1m3 0h1m8 0h1m9 0h1m-108 1h1m1 0h1m17 0h1m3 0h1m24 0h1m2 0h1m1 0h1m23 0h1m13 0h1m3 0h1m1 0h1m9 0h1m16 0h1m-163 1h1m29 0h1m7 0h1m6 0h1m4 0h1m1 0h1m5 0h1m7 0h1m0 0h1m3 0h1m0 0h1m23 0h1m2 0h1m3 0h1m3 0h1m3 0h1m12 0h1m4 0h1m-97 1h1m9 0h1m2 0h1m2 0h1m2 0h1m10 0h1m1 0h1m2 0h1m5 0h1m0 0h1m21 0h1m0 0h1m0 0h1m3 0h1m0 0h1m4 0h1m0 0h1m0 0h1m8 0h1m9 0h1m2 0h1m-75 1h1m10 0h1m4 0h1m0 0h1m17 0h1m0 0h1m2 0h1m4 0h1m9 0h1m1 0h1m1 0h1m2 0h1m0 0h1m8 0h1m-131 1h1m49 0h1m8 0h1m3 0h1m12 0h1m0 0h1m0 0h1m0 0h1m0 0h1m8 0h1m1 0h1m1 0h1m8 0h1m0 0h1m19 0h1m0 0h1m2 0h1m-77 1h1m1 0h1m1 0h1m9 0h1m12 0h1m0 0h1m0 0h1m0 0h1m2 0h1m4 0h1m2 0h1m11 0h1m1 0h1m1 0h1m7 0h1m3 0h1m25 0h1m-82 1h1m9 0h1m6 0h1m1 0h1m13 0h1m5 0h1m-58 1h1m1 0h1m14 0h1m6 0h1m4 0h1m15 0h1m1 0h1m5 0h1m8 0h1m8 0h1m-77 1h1m11 0h1m18 0h1m9 0h1m20 0h1m19 0h1m1 0h1m17 0h1m-113 1h1m42 0h1m9 0h1m0 0h1m9 0h1m2 0h1m4 0h1m23 0h1m0 0h1m-49 1h1m3 0h1m11 0h1m18 0h1m5 0h1m1 0h1m9 0h1m12 0h1m-100 1h1m32 0h1m43 0h1m-65 1h1m0 0h1m15 0h1m1 0h1m32 0h1m-18 1h1m12 0h1m5 1h1m-11 1h1m26 1h1m23 0h1m-66 1h1m-19 3h1m-2 1h1m45 9h1" stroke="#0005ff" stroke-width="1.3" fill="none"/><path d="M231 944h1m-1 1h1m-2 1h1m1 0h1m-44 1h1m32 0h1m4 0h1m0 0h1m2 0h1m1 0h1m0 0h1m0 0h1m1 0h1m3 0h1m-55 1h1m0 0h1m1 0h1m35 0h1m0 0h1m1 0h1m1 0h1m1 0h1m-57 1h1m10 0h1m16 0h1m5 0h1m7 0h1m2 0h1m1 0h1m0 0h1m0 0h1m4 0h1m1 0h1m3 0h1m1 0h1m0 0h1m-62 1h1m1 0h1m2 0h1m0 0h1m4 0h1m11 0h1m0 0h1m0 0h1m3 0h1m0 0h1m1 0h1m1 0h1m0 0h1m1 0h1m7 0h1m2 0h1m1 0h1m1 0h1m0 0h1m0 0h1m1 0h1m1 0h1m1 0h1m1 0h1m-64 1h1m9 0h1m4 0h1m3 0h1m0 0h1m3 0h1m1 0h1m0 0h1m2 0h1m0 0h1m1 0h1m0 0h1m0 0h1m0 0h1m6 0h1m0 0h1m0 0h1m0 0h1m0 0h1m0 0h1m1 0h1m4 0h1m2 0h1m-72 1h1m10 0h1m10 0h1m3 0h1m9 0h1m4 0h1m1 0h1m3 0h1m1 0h1m1 0h1m3 0h1m3 0h1m2 0h1m1 0h1m0 0h1m0 0h1m0 0h1m0 0h1m0 0h1m4 0h1m0 0h1m-74 1h1m2 0h1m0 0h1m1 0h1m1 0h1m0 0h1m1 0h1m2 0h1m5 0h1m0 0h1m10 0h1m5 0h1m7 0h1m4 0h1m1 0h1m1 0h1m0 0h1m1 0h1m3 0h1m0 0h1m2 0h1m0 0h1m1 0h1m1 0h1m-79 1h1m18 0h1m4 0h1m3 0h1m1 0h1m1 0h1m1 0h1m0 0h1m3 0h1m1 0h1m9 0h1m0 0h1m4 0h1m10 0h1m2 0h1m1 0h1m0 0h1m2 0h1m-79 1h1m18 0h1m11 0h1m2 0h1m3 0h1m0 0h1m0 0h1m11 0h1m0 0h1m3 0h1m0 0h1m0 0h1m2 0h1m1 0h1m0 0h1m6 0h1m2 0h1m-78 1h1m4 0h1m2 0h1m2 0h1m2 0h1m2 0h1m1 0h1m2 0h1m7 0h1m9 0h1m2 0h1m2 0h1m17 0h1m0 0h1m0 0h1m7 0h1m2 0h1m-81 1h1m5 0h1m5 0h1m0 0h1m8 0h1m29 0h1m3 0h1m5 0h1m5 0h1m0 0h1m3 0h1m2 0h1m1 0h1m-82 1h1m3 0h1m0 0h1m0 0h1m0 0h1m0 0h1m2 0h1m2 0h1m0 0h1m2 0h1m6 0h1m0 0h1m37 0h1m0 0h1m1 0h1m0 0h1m1 0h1m4 0h1m1 0h1m3 0h1m0 0h1m-86 1h1m3 0h1m0 0h1m0 0h1m13 0h1m7 0h1m1 0h1m1 0h1m0 0h1m29 0h1m2 0h1m5 0h1m2 0h1m0 0h1m2 0h1m0 0h1m4 0h1m1 0h1m-89 1h1m0 0h1m1 0h1m0 0h1m0 0h1m0 0h1m2 0h1m4 0h1m0 0h1m2 0h1m5 0h1m50 0h1m2 0h1m2 0h1m0 0h1m1 0h1m-82 1h1m6 0h1m0 0h1m4 0h1m1 0h1m41 0h1m11 0h1m0 0h1m9 0h1m1 0h1m-83 1h1m0 0h1m0 0h1m8 0h1m55 0h1m9 0h1m1 0h1m1 0h1m3 0h1m0 0h1m0 0h1m1 0h1m-92 1h1m3 0h1m1 0h1m0 0h1m2 0h1m61 0h1m1 0h1m1 0h1m7 0h1m0 0h1m1 0h1m0 0h1m0 0h1m1 0h1m-92 1h1m0 0h1m7 0h1m57 0h1m2 0h1m4 0h1m2 0h1m4 0h1m1 0h1m2 0h1m0 0h1m-91 1h1m7 0h1m70 0h1m3 0h1m1 0h1m2 0h1m1 0h1m0 0h1m-91 1h1m2 0h1m2 0h1m0 0h1m0 0h1m62 0h1m3 0h1m4 0h1m0 0h1m0 0h1m1 0h1m0 0h1m2 0h1m-86 1h1m4 0h1m64 0h1m9 0h1m6 0h1m-89 1h1m3 0h1m65 0h1m2 0h1m2 0h1m2 0h1m1 0h1m1 0h1m3 0h1m-88 1h1m0 0h1m2 0h1m1 0h1m68 0h1m1 0h1m2 0h1m1 0h1m-79 1h1m65 0h1m3 0h1m0 0h1m5 0h1m1 0h1m-84 1h1m1 0h1m7 0h1m57 0h1m14 0h1m-84 1h1m0 0h1m0 0h1m0 0h1m5 0h1m56 0h1m3 0h1m8 0h1m1 0h1m-76 1h1m68 0h1m0 0h1m0 0h1m1 0h1m1 0h1m-81 1h1m0 0h1m5 0h1m68 0h1m2 0h1m1 0h1m-79 1h1m2 0h1m63 0h1m2 0h1m5 0h1m-82 1h1m1 0h1m0 0h1m0 0h1m0 0h1m1 0h1m0 0h1m3 0h1m0 0h1m44 0h1m6 0h1m8 0h1m0 0h1m3 0h1m0 0h1m-78 1h1m0 0h1m1 0h1m9 0h1m39 0h1m9 0h1m0 0h1m0 0h1m0 0h1m2 0h1m3 0h1m-73 1h1m1 0h1m2 0h1m2 0h1m1 0h1m5 0h1m0 0h1m26 0h1m0 0h1m6 0h1m6 0h1m2 0h1m0 0h1m3 0h1m2 0h1m-64 1h1m2 0h1m0 0h1m1 0h1m28 0h1m1 0h1m12 0h1m0 0h1m0 0h1m6 0h1m0 0h1m0 0h1m1 0h1m2 0h1m2 0h1m-75 1h1m4 0h1m1 0h1m1 0h1m2 0h1m3 0h1m23 0h1m1 0h1m3 0h1m8 0h1m5 0h1m3 0h1m0 0h1m3 0h1m3 0h1m-73 1h1m0 0h1m6 0h1m8 0h1m1 0h1m23 0h1m2 0h1m0 0h1m0 0h1m0 0h1m0 0h1m1 0h1m0 0h1m15 0h1m0 0h1m-60 1h1m0 0h1m1 0h1m0 0h1m0 0h1m3 0h1m5 0h1m2 0h1m5 0h1m0 0h1m2 0h1m8 0h1m1 0h1m2 0h1m9 0h1m0 0h1m0 0h1m-61 1h1m0 0h1m0 0h1m0 0h1m0 0h1m2 0h1m0 0h1m2 0h1m2 0h1m0 0h1m1 0h1m0 0h1m0 0h1m18 0h1m0 0h1m5 0h1m7 0h1m1 0h1m0 0h1m-56 1h1m6 0h1m1 0h1m1 0h1m0 0h1m4 0h1m5 0h1m0 0h1m5 0h1m0 0h1m3 0h1m4 0h1m3 0h1m0 0h1m5 0h1m3 0h1m0 0h1m1 0h1m-56 1h1m2 0h1m0 0h1m2 0h1m1 0h1m1 0h1m1 0h1m0 0h1m6 0h1m9 0h1m2 0h1m5 0h1m4 0h1m2 0h1m0 0h1m-49 1h1m1 0h1m17 0h1m6 0h1m2 0h1m0 0h1m3 0h1m1 0h1m0 0h1m5 0h1m0 0h1m1 0h1m-47 1h1m11 0h1m5 0h1m0 0h1m3 0h1m0 0h1m0 0h1m-9 1h1m4 0h1m0 0h1m2 0h1m-10 1h1m3 0h1m1 0h1" stroke="#005aff" stroke-width="1.3" fill="none"/><path d="M189 950h1m-3 1h1m2 0h1m-12 1h1m5 0h1m4 0h1m0 0h1m1 0h1m7 0h1m0 0h1m17 0h1m-43 1h1m1 0h1m0 0h1m3 0h1m0 0h1m2 0h1m2 0h1m0 0h1m28 0h1m-47 1h1m3 0h1m4 0h1m10 0h1m3 0h1m2 0h1m2 0h1m0 0h1m-44 1h1m3 0h1m0 0h1m18 0h1m3 0h1m0 0h1m2 0h1m2 0h1m2 0h1m4 0h1m7 0h1m5 0h1m-58 1h1m3 0h1m8 0h1m2 0h1m3 0h1m1 0h1m0 0h1m2 0h1m3 0h1m3 0h1m1 0h1m0 0h1m1 0h1m4 0h1m0 0h1m11 0h1m2 0h1m-61 1h1m0 0h1m1 0h1m0 0h1m0 0h1m1 0h1m3 0h1m0 0h1m1 0h1m0 0h1m6 0h1m10 0h1m0 0h1m5 0h1m0 0h1m1 0h1m2 0h1m0 0h1m10 0h1m3 0h1m-63 1h1m1 0h1m0 0h1m3 0h1m6 0h1m0 0h1m1 0h1m10 0h1m0 0h1m3 0h1m6 0h1m0 0h1m2 0h1m0 0h1m0 0h1m8 0h1m0 0h1m-66 1h1m3 0h1m6 0h1m3 0h1m0 0h1m3 0h1m0 0h1m0 0h1m4 0h1m5 0h1m1 0h1m3 0h1m3 0h1m3 0h1m0 0h1m4 0h1m9 0h1m1 0h1m-63 1h1m2 0h1m1 0h1m6 0h1m5 0h1m0 0h1m11 0h1m10 0h1m5 0h1m4 0h1m1 0h1m11 0h1m-63 1h1m4 0h1m2 0h1m0 0h1m0 0h1m0 0h1m29 0h1m2 0h1m2 0h1m0 0h1m1 0h1m1 0h1m0 0h1m3 0h1m1 0h1m-67 1h1m1 0h1m5 0h1m2 0h1m2 0h1m3 0h1m39 0h1m2 0h1m-63 1h1m3 0h1m1 0h1m4 0h1m0 0h1m0 0h1m33 0h1m4 0h1m6 0h1m1 0h1m1 0h1m0 0h1m1 0h1m2 0h1m-70 1h1m0 0h1m0 0h1m0 0h1m0 0h1m1 0h1m0 0h1m3 0h1m0 0h1m39 0h1m6 0h1m0 0h1m0 0h1m1 0h1m3 0h1m4 0h1m-72 1h1m3 0h1m1 0h1m53 0h1m1 0h1m1 0h1m0 0h1m-67 1h1m1 0h1m1 0h1m54 0h1m2 0h1m3 0h1m0 0h1m2 0h1m0 0h1m-69 1h1m0 0h1m0 0h1m0 0h1m54 0h1m0 0h1m1 0h1m2 0h1m-62 1h1m52 0h1m2 0h1m0 0h1m4 0h1m3 0h1m-72 1h1m1 0h1m1 0h1m52 0h1m0 0h1m1 0h1m3 0h1m0 0h1m0 0h1m0 0h1m-65 1h1m2 0h1m0 0h1m48 0h1m8 0h1m4 0h1m-70 1h1m0 0h1m0 0h1m2 0h1m52 0h1m0 0h1m5 0h1m0 0h1m-69 1h1m9 0h1m54 0h1m2 0h1m0 0h1m-67 1h1m3 0h1m3 0h1m47 0h1m1 0h1m2 0h1m0 0h1m0 0h1m0 0h1m0 0h1m-70 1h1m5 0h1m52 0h1m7 0h1m1 0h1m1 0h1m-71 1h1m47 0h1m8 0h1m0 0h1m0 0h1m0 0h1m1 0h1m0 0h1m0 0h1m1 0h1m3 0h1m-67 1h1m3 0h1m0 0h1m1 0h1m45 0h1m7 0h1m3 0h1m-65 1h1m4 0h1m3 0h1m26 0h1m0 0h1m3 0h1m3 0h1m0 0h1m0 0h1m3 0h1m7 0h1m0 0h1m1 0h1m0 0h1m-64 1h1m7 0h1m0 0h1m0 0h1m2 0h1m26 0h1m0 0h1m0 0h1m0 0h1m6 0h1m5 0h1m0 0h1m-58 1h1m0 0h1m4 0h1m0 0h1m0 0h1m0 0h1m1 0h1m3 0h1m4 0h1m13 0h1m1 0h1m1 0h1m0 0h1m1 0h1m0 0h1m2 0h1m1 0h1m3 0h1m4 0h1m1 0h1m2 0h1m2 0h1m-60 1h1m2 0h1m0 0h1m1 0h1m11 0h1m2 0h1m0 0h1m6 0h1m1 0h1m2 0h1m2 0h1m1 0h1m4 0h1m1 0h1m4 0h1m1 0h1m-53 1h1m2 0h1m2 0h1m0 0h1m0 0h1m5 0h1m5 0h1m3 0h1m3 0h1m5 0h1m3 0h1m-41 1h1m1 0h1m1 0h1m7 0h1m0 0h1m2 0h1m4 0h1m5 0h1m11 0h1m0 0h1m5 0h1m0 0h1m1 0h1m7 0h1m-51 1h1m2 0h1m8 0h1m1 0h1m0 0h1m0 0h1m2 0h1m8 0h1m0 0h1m3 0h1m6 0h1m0 0h1m-37 1h1m10 0h1m5 0h1m2 0h1m14 0h1m-32 1h1m4 0h1m2 0h1m1 0h1m-13 1h1m3 0h1m1 0h1m3 0h1m0 0h1m1 0h1" stroke="#00afff" stroke-width="1.3" fill="none"/><path d="M208 953h1m-24 1h1m8 0h1m7 0h1m2 0h1m-24 1h1m19 0h1m-21 1h1m4 0h1m7 0h1m0 0h1m4 0h1m2 0h1m-43 1h1m9 0h1m1 0h1m1 0h1m1 0h1m9 0h1m2 0h1m4 0h1m0 0h1m14 0h1m0 0h1m-45 1h1m0 0h1m0 0h1m4 0h1m1 0h1m2 0h1m0 0h1m4 0h1m6 0h1m0 0h1m0 0h1m0 0h1m0 0h1m0 0h1m0 0h1m1 0h1m1 0h1m5 0h1m4 0h1m0 0h1m7 0h1m-61 1h1m9 0h1m2 0h1m0 0h1m2 0h1m3 0h1m1 0h1m5 0h1m2 0h1m1 0h1m1 0h1m13 0h1m0 0h1m-51 1h1m1 0h1m0 0h1m1 0h1m1 0h1m0 0h1m0 0h1m3 0h1m2 0h1m0 0h1m5 0h1m5 0h1m2 0h1m0 0h1m3 0h1m0 0h1m0 0h1m0 0h1m4 0h1m0 0h1m0 0h1m0 0h1m3 0h1m-59 1h1m1 0h1m2 0h1m1 0h1m5 0h1m0 0h1m4 0h1m4 0h1m0 0h1m7 0h1m2 0h1m3 0h1m0 0h1m3 0h1m2 0h1m1 0h1m0 0h1m0 0h1m2 0h1m0 0h1m1 0h1m0 0h1m-60 1h1m1 0h1m7 0h1m0 0h1m0 0h1m27 0h1m4 0h1m3 0h1m5 0h1m2 0h1m2 0h1m-61 1h1m1 0h1m2 0h1m1 0h1m0 0h1m4 0h1m1 0h1m1 0h1m32 0h1m1 0h1m0 0h1m1 0h1m-59 1h1m2 0h1m1 0h1m1 0h1m2 0h1m0 0h1m5 0h1m3 0h1m24 0h1m2 0h1m3 0h1m3 0h1m3 0h1m0 0h1m-61 1h1m1 0h1m1 0h1m0 0h1m2 0h1m1 0h1m1 0h1m0 0h1m34 0h1m9 0h1m-53 1h1m0 0h1m0 0h1m0 0h1m6 0h1m26 0h1m5 0h1m2 0h1m0 0h1m1 0h1m0 0h1m1 0h1m-59 1h1m1 0h1m9 0h1m2 0h1m36 0h1m0 0h1m1 0h1m11 0h1m-70 1h1m1 0h1m0 0h1m1 0h1m42 0h1m1 0h1m4 0h1m0 0h1m0 0h1m2 0h1m2 0h1m-60 1h1m0 0h1m0 0h1m0 0h1m6 0h1m36 0h1m1 0h1m0 0h1m0 0h1m4 0h1m2 0h1m0 0h1m0 0h1m1 0h1m-66 1h1m1 0h1m0 0h1m0 0h1m0 0h1m42 0h1m6 0h1m1 0h1m0 0h1m1 0h1m-65 1h1m2 0h1m3 0h1m0 0h1m0 0h1m3 0h1m41 0h1m1 0h1m0 0h1m0 0h1m1 0h1m0 0h1m-60 1h1m0 0h1m1 0h1m0 0h1m2 0h1m0 0h1m1 0h1m0 0h1m30 0h1m2 0h1m0 0h1m2 0h1m1 0h1m0 0h1m1 0h1m0 0h1m4 0h1m2 0h1m1 0h1m-63 1h1m1 0h1m0 0h1m6 0h1m31 0h1m3 0h1m1 0h1m2 0h1m2 0h1m0 0h1m2 0h1m1 0h1m2 0h1m0 0h1m-65 1h1m0 0h1m0 0h1m1 0h1m0 0h1m0 0h1m1 0h1m0 0h1m3 0h1m24 0h1m2 0h1m1 0h1m3 0h1m2 0h1m-50 1h1m3 0h1m0 0h1m0 0h1m0 0h1m2 0h1m20 0h1m0 0h1m1 0h1m4 0h1m2 0h1m1 0h1m5 0h1m0 0h1m1 0h1m1 0h1m-45 1h1m18 0h1m2 0h1m7 0h1m4 0h1m1 0h1m2 0h1m1 0h1m0 0h1m-53 1h1m0 0h1m4 0h1m2 0h1m0 0h1m1 0h1m3 0h1m2 0h1m5 0h1m9 0h1m1 0h1m3 0h1m4 0h1m0 0h1m-43 1h1m0 0h1m1 0h1m2 0h1m0 0h1m1 0h1m2 0h1m10 0h1m0 0h1m1 0h1m4 0h1m7 0h1m-45 1h1m3 0h1m5 0h1m1 0h1m0 0h1m1 0h1m0 0h1m0 0h1m1 0h1m1 0h1m1 0h1m0 0h1m0 0h1m1 0h1m0 0h1m3 0h1m2 0h1m0 0h1m3 0h1m10 0h1m-46 1h1m3 0h1m5 0h1m1 0h1m2 0h1m1 0h1m1 0h1m1 0h1m0 0h1m8 0h1m0 0h1m15 0h1m-45 1h1m5 0h1m0 0h1m2 0h1m2 0h1m0 0h1m2 0h1m8 0h1m0 0h1m3 0h1m5 0h1m-27 1h1m6 0h1m6 0h1m9 0h1m-36 1h1m2 0h1m3 0h1m1 0h1m1 0h1m1 0h1m24 0h1m-45 1h1m23 1h1" stroke="#05fff9" stroke-width="1.3" fill="none"/><path d="M206 952h1m-22 3h1m-4 1h1m13 0h1m-11 1h1m1 0h1m0 0h1m0 0h1m0 0h1m2 0h1m0 0h1m-10 1h1m0 0h1m4 0h1m3 0h1m0 0h1m9 0h1m6 0h1m-32 1h1m1 0h1m2 0h1m1 0h1m2 0h1m5 0h1m1 0h1m0 0h1m9 0h1m-42 1h1m3 0h1m0 0h1m3 0h1m9 0h1m2 0h1m2 0h1m3 0h1m1 0h1m1 0h1m3 0h1m-35 1h1m6 0h1m1 0h1m0 0h1m0 0h1m1 0h1m5 0h1m2 0h1m0 0h1m4 0h1m0 0h1m0 0h1m7 0h1m-48 1h1m0 0h1m0 0h1m2 0h1m6 0h1m1 0h1m0 0h1m1 0h1m1 0h1m1 0h1m7 0h1m1 0h1m2 0h1m1 0h1m0 0h1m0 0h1m2 0h1m0 0h1m3 0h1m-49 1h1m1 0h1m0 0h1m2 0h1m2 0h1m3 0h1m0 0h1m1 0h1m0 0h1m0 0h1m14 0h1m1 0h1m1 0h1m0 0h1m0 0h1m0 0h1m0 0h1m0 0h1m0 0h1m1 0h1m0 0h1m2 0h1m-51 1h1m5 0h1m1 0h1m0 0h1m3 0h1m0 0h1m0 0h1m11 0h1m9 0h1m1 0h1m0 0h1m2 0h1m0 0h1m1 0h1m2 0h1m8 0h1m-65 1h1m8 0h1m6 0h1m2 0h1m3 0h1m17 0h1m8 0h1m1 0h1m4 0h1m4 0h1m2 0h1m-59 1h1m1 0h1m3 0h1m0 0h1m0 0h1m0 0h1m2 0h1m2 0h1m0 0h1m20 0h1m4 0h1m0 0h1m0 0h1m0 0h1m5 0h1m-52 1h1m0 0h1m0 0h1m2 0h1m2 0h1m1 0h1m0 0h1m1 0h1m21 0h1m3 0h1m3 0h1m0 0h1m4 0h1m1 0h1m-55 1h1m0 0h1m4 0h1m0 0h1m2 0h1m0 0h1m0 0h1m2 0h1m0 0h1m33 0h1m0 0h1m2 0h1m-55 1h1m1 0h1m1 0h1m0 0h1m1 0h1m1 0h1m1 0h1m2 0h1m1 0h1m26 0h1m3 0h1m0 0h1m0 0h1m0 0h1m1 0h1m3 0h1m-52 1h1m2 0h1m0 0h1m32 0h1m0 0h1m0 0h1m1 0h1m2 0h1m0 0h1m0 0h1m0 0h1m5 0h1m-61 1h1m4 0h1m0 0h1m0 0h1m2 0h1m3 0h1m2 0h1m21 0h1m6 0h1m4 0h1m0 0h1m0 0h1m-45 1h1m3 0h1m1 0h1m4 0h1m15 0h1m10 0h1m0 0h1m0 0h1m1 0h1m8 0h1m-60 1h1m4 0h1m0 0h1m1 0h1m0 0h1m1 0h1m0 0h1m22 0h1m8 0h1m1 0h1m0 0h1m2 0h1m1 0h1m0 0h1m2 0h1m-49 1h1m1 0h1m4 0h1m0 0h1m0 0h1m15 0h1m2 0h1m2 0h1m2 0h1m1 0h1m0 0h1m5 0h1m-48 1h1m4 0h1m0 0h1m0 0h1m1 0h1m1 0h1m1 0h1m2 0h1m14 0h1m0 0h1m0 0h1m3 0h1m2 0h1m3 0h1m1 0h1m0 0h1m-48 1h1m0 0h1m2 0h1m0 0h1m2 0h1m0 0h1m1 0h1m18 0h1m4 0h1m0 0h1m1 0h1m3 0h1m6 0h1m3 0h1m-48 1h1m3 0h1m1 0h1m1 0h1m2 0h1m1 0h1m2 0h1m1 0h1m0 0h1m0 0h1m3 0h1m0 0h1m14 0h1m7 0h1m-51 1h1m2 0h1m2 0h1m4 0h1m5 0h1m4 0h1m1 0h1m4 0h1m-23 1h1m0 0h1m4 0h1m0 0h1m0 0h1m0 0h1m0 0h1m1 0h1m2 0h1m1 0h1m1 0h1m1 0h1m1 0h1m16 0h1m-34 1h1m0 0h1m3 0h1m4 0h1m-13 1h1m1 0h1m0 0h1m0 0h1m3 0h1m8 0h1m-18 1h1m4 2h1" stroke="#5affa4" stroke-width="1.3" fill="none"/><path d="M196 958h1m-12 1h1m2 0h1m1 0h1m2 0h1m0 0h1m-26 1h1m16 0h1m0 0h1m0 0h1m1 0h1m0 0h1m0 0h1m0 0h1m2 0h1m9 0h1m-25 1h1m1 0h1m1 0h1m0 0h1m0 0h1m0 0h1m1 0h1m1 0h1m1 0h1m0 0h1m2 0h1m0 0h1m0 0h1m-32 1h1m0 0h1m3 0h1m1 0h1m0 0h1m1 0h1m2 0h1m0 0h1m0 0h1m1 0h1m0 0h1m0 0h1m3 0h1m1 0h1m0 0h1m5 0h1m1 0h1m2 0h1m-35 1h1m8 0h1m0 0h1m0 0h1m0 0h1m1 0h1m2 0h1m2 0h1m1 0h1m0 0h1m1 0h1m0 0h1m1 0h1m0 0h1m1 0h1m1 0h1m2 0h1m-41 1h1m8 0h1m1 0h1m1 0h1m1 0h1m1 0h1m9 0h1m5 0h1m5 0h1m2 0h1m-42 1h1m0 0h1m1 0h1m1 0h1m0 0h1m1 0h1m18 0h1m3 0h1m3 0h1m1 0h1m0 0h1m2 0h1m-45 1h1m3 0h1m1 0h1m0 0h1m1 0h1m0 0h1m7 0h1m7 0h1m1 0h1m4 0h1m0 0h1m2 0h1m1 0h1m1 0h1m1 0h1m-52 1h1m3 0h1m7 0h1m0 0h1m0 0h1m0 0h1m23 0h1m0 0h1m1 0h1m1 0h1m1 0h1m1 0h1m0 0h1m-41 1h1m2 0h1m1 0h1m0 0h1m23 0h1m2 0h1m0 0h1m0 0h1m1 0h1m1 0h1m0 0h1m5 0h1m-55 1h1m4 0h1m2 0h1m0 0h1m0 0h1m0 0h1m3 0h1m0 0h1m0 0h1m21 0h1m1 0h1m0 0h1m2 0h1m1 0h1m0 0h1m1 0h1m-44 1h1m0 0h1m0 0h1m0 0h1m2 0h1m0 0h1m1 0h1m18 0h1m2 0h1m0 0h1m0 0h1m0 0h1m2 0h1m1 0h1m0 0h1m3 0h1m1 0h1m-51 1h1m0 0h1m3 0h1m1 0h1m0 0h1m2 0h1m0 0h1m1 0h1m0 0h1m18 0h1m3 0h1m2 0h1m1 0h1m2 0h1m-44 1h1m2 0h1m1 0h1m1 0h1m4 0h1m14 0h1m0 0h1m4 0h1m0 0h1m1 0h1m1 0h1m3 0h1m0 0h1m2 0h1m-43 1h1m0 0h1m0 0h1m3 0h1m0 0h1m0 0h1m0 0h1m14 0h1m2 0h1m0 0h1m5 0h1m0 0h1m1 0h1m1 0h1m3 0h1m-47 1h1m4 0h1m0 0h1m0 0h1m0 0h1m0 0h1m0 0h1m3 0h1m5 0h1m7 0h1m5 0h1m0 0h1m0 0h1m8 0h1m-40 1h1m2 0h1m0 0h1m0 0h1m0 0h1m7 0h1m1 0h1m0 0h1m0 0h1m1 0h1m7 0h1m1 0h1m-42 1h1m9 0h1m4 0h1m0 0h1m1 0h1m0 0h1m5 0h1m3 0h1m0 0h1m0 0h1m11 0h1m-31 1h1m2 0h1m3 0h1m0 0h1m2 0h1m0 0h1m1 0h1m0 0h1m-16 1h1m8 0h1m0 0h1m4 0h1m0 0h1m0 0h1m-18 1h1m1 0h1m7 0h1m0 0h1m-7 1h1m5 0h1m0 1h1" stroke="#afff4f" stroke-width="1.3" fill="none"/><path d="M194 959h1m-6 1h1m-2 1h1m1 0h1m0 0h1m4 0h1m-30 1h1m8 0h1m2 0h1m0 0h1m3 0h1m2 0h1m1 0h1m4 0h1m10 0h1m-22 1h1m0 0h1m0 0h1m0 0h1m0 0h1m0 0h1m0 0h1m1 0h1m1 0h1m0 0h1m0 0h1m0 0h1m1 0h1m-19 1h1m1 0h1m1 0h1m0 0h1m1 0h1m2 0h1m1 0h1m0 0h1m0 0h1m10 0h1m0 0h1m-36 1h1m4 0h1m0 0h1m1 0h1m9 0h1m1 0h1m1 0h1m1 0h1m1 0h1m4 0h1m-25 1h1m1 0h1m3 0h1m2 0h1m0 0h1m0 0h1m2 0h1m0 0h1m0 0h1m7 0h1m0 0h1m-29 1h1m0 0h1m1 0h1m11 0h1m0 0h1m0 0h1m1 0h1m1 0h1m2 0h1m1 0h1m5 0h1m-45 1h1m1 0h1m0 0h1m1 0h1m3 0h1m3 0h1m19 0h1m0 0h1m2 0h1m1 0h1m1 0h1m0 0h1m0 0h1m0 0h1m-41 1h1m1 0h1m0 0h1m0 0h1m19 0h1m1 0h1m0 0h1m0 0h1m0 0h1m1 0h1m0 0h1m0 0h1m4 0h1m1 0h1m-39 1h1m2 0h1m5 0h1m12 0h1m1 0h1m2 0h1m0 0h1m1 0h1m0 0h1m1 0h1m2 0h1m-36 1h1m1 0h1m0 0h1m1 0h1m13 0h1m2 0h1m1 0h1m2 0h1m0 0h1m0 0h1m1 0h1m1 0h1m1 0h1m0 0h1m0 0h1m-37 1h1m0 0h1m0 0h1m0 0h1m0 0h1m1 0h1m9 0h1m3 0h1m0 0h1m0 0h1m0 0h1m6 0h1m-32 1h1m0 0h1m2 0h1m5 0h1m8 0h1m1 0h1m2 0h1m0 0h1m1 0h1m0 0h1m3 0h1m-26 1h1m0 0h1m8 0h1m0 0h1m0 0h1m1 0h1m3 0h1m0 0h1m4 0h1m0 0h1m0 0h1m-30 1h1m1 0h1m1 0h1m3 0h1m1 0h1m3 0h1m4 0h1m-16 1h1m1 0h1m1 0h1m3 0h1m0 0h1m1 0h1m0 0h1m1 0h1m-23 1h1m6 0h1m4 0h1m-3 1h1m2 0h1m2 0h1m-1 1h1" stroke="#fff900" stroke-width="1.3" fill="none"/><path d="M186 962h1m3 0h1m2 0h1m-11 1h1m2 0h1m0 0h1m7 0h1m-14 1h1m1 0h1m2 0h1m1 0h1m1 0h1m1 0h1m0 0h1m2 0h1m-17 1h1m0 0h1m1 0h1m1 0h1m2 0h1m1 0h1m0 0h1m3 0h1m-20 1h1m3 0h1m0 0h1m0 0h1m0 0h1m1 0h1m1 0h1m0 0h1m2 0h1m1 0h1m1 0h1m0 0h1m-19 1h1m0 0h1m0 0h1m0 0h1m0 0h1m0 0h1m0 0h1m2 0h1m1 0h1m2 0h1m0 0h1m1 0h1m0 0h1m1 0h1m7 0h1m-29 1h1m0 0h1m7 0h1m0 0h1m2 0h1m0 0h1m0 0h1m0 0h1m1 0h1m0 0h1m0 0h1m2 0h1m-24 1h1m0 0h1m2 0h1m2 0h1m3 0h1m0 0h1m0 0h1m0 0h1m1 0h1m0 0h1m1 0h1m5 0h1m-30 1h1m2 0h1m2 0h1m1 0h1m2 0h1m1 0h1m1 0h1m2 0h1m2 0h1m1 0h1m0 0h1m1 0h1m-29 1h1m4 0h1m0 0h1m4 0h1m5 0h1m2 0h1m1 0h1m0 0h1m6 0h1m-25 1h1m1 0h1m0 0h1m1 0h1m1 0h1m1 0h1m-11 1h1m0 0h1m1 0h1m1 0h1m4 0h1m0 0h1m0 0h1m4 0h1m-16 1h1m0 0h1m1 0h1m0 0h1m2 0h1m2 0h1m4 0h1m0 0h1m-22 1h1m5 0h1m0 0h1m2 0h1m1 0h1m0 0h1m-7 1h1m0 0h1m0 0h1m0 0h1m0 0h1m0 0h1m0 0h1" stroke="#ffa400" stroke-width="1.3" fill="none"/><path d="M183 963h1m6 0h1m-1 1h1m-9 1h1m3 0h1m0 0h1m0 0h1m4 0h1m0 0h1m-10 1h1m2 0h1m0 0h1m0 0h1m2 0h1m1 0h1m-17 1h1m0 0h1m0 0h1m0 0h1m0 0h1m0 0h1m0 0h1m1 0h1m1 0h1m0 0h1m0 0h1m-12 1h1m0 0h1m0 0h1m0 0h1m0 0h1m2 0h1m1 0h1m2 0h1m2 0h1m-17 1h1m0 0h1m0 0h1m0 0h1m8 0h1m1 0h1m-16 1h1m1 0h1m0 0h1m4 0h1m1 0h1m0 0h1m0 0h1m0 0h1m0 0h1m5 0h1m-19 1h1m0 0h1m1 0h1m0 0h1m0 0h1m0 0h1m0 0h1m1 0h1m0 0h1m4 0h1m0 0h1m1 0h1m2 0h1m-22 1h1m0 0h1m1 0h1m1 0h1m0 0h1m0 0h1m-8 1h1m0 0h1m2 0h1m0 0h1m0 0h1m0 0h1m0 0h1m0 0h1m4 0h1m-14 1h1m1 0h1m1 0h1m0 0h1m0 0h1m2 0h1m-10 1h1m4 0h1m0 0h1m1 0h1m-6 1h1m0 0h1m0 0h1m1 0h1m0 1h1" stroke="#ff4f00" stroke-width="1.3" fill="none"/><path d="M185 964h1m-6 3h1m1 0h1m0 0h1m2 0h1m0 0h1m4 0h1m-14 1h1m0 0h1m2 0h1m0 0h1m2 0h1m1 0h1m-11 1h1m1 0h1m1 0h1m0 0h1m0 0h1m0 0h1m0 0h1m2 0h1m0 0h1m1 0h1m-13 1h1m1 0h1m0 0h1m0 0h1m0 0h1m0 0h1m0 0h1m2 0h1m-13 1h1m1 0h1m1 0h1m0 0h1m0 0h1m1 0h1m0 0h1m0 0h1m0 0h1m0 0h1m-10 1h1m0 0h1m1 0h1m0 0h1m0 0h1m1 0h1m-8 1h1m0 0h1m0 0h1m1 0h1m4 0h1m-10 1h1m1 0h1m1 0h1" stroke="#f90000" stroke-width="1.3" fill="none"/></g><g clip-path="url(#clipD01)"><path d="M540 837h1m6 3h1m-2 1h1m4 0h1m-9 1h1m-5 1h1m3 0h1m-1 1h1m0 0h1m4 0h1m5 0h1m-17 1h1m-3 1h1m1 0h1m4 0h1m2 0h1m7 0h1m-6 1h1m-13 1h1m2 0h1m0 0h1m-8 1h1m17 0h1m-15 1h1m3 0h1m1 0h1m2 0h1m0 0h1m-7 1h1m3 0h1m1 0h1m-13 1h1m2 0h1m0 0h1m5 0h1m-11 1h1m1 0h1m-10 1h1m2 0h1m9 0h1m6 1h1m0 0h1m-13 1h1m11 0h1m-21 2h1m4 0h1m8 0h1m-12 1h1m2 0h1m0 0h1m-5 1h1m11 0h1m-2 1h1m1 0h1m-16 2h1m14 0h1m-15 1h1m0 0h1m12 0h1m-14 1h1m8 0h1m1 1h1m0 1h1m-15 1h1m15 0h1m-4 1h1m1 0h1m-17 2h1m0 0h1m11 0h1m-17 1h1m3 0h1m11 0h1m1 0h1m-4 1h1m-21 1h1m5 1h1m0 0h1m12 0h1m0 0h1m-20 1h1m4 0h1m1 0h1m6 1h1m4 0h1m-14 1h1m0 0h1m7 0h1m-3 2h1m-9 1h1m0 1h1m5 0h1m-2 1h1m3 0h1m0 0h1m-21 1h1m6 0h1m0 0h1m10 0h1m-14 1h1m1 0h1m7 0h1m0 0h1m3 0h1m-13 1h1m4 1h1m-10 1h1m11 0h1m-3 1h1m-12 1h1m12 0h1m-13 1h1m0 3h1m-4 1h1m1 0h1m0 0h1m10 0h1m4 0h1m-7 1h1m-13 1h1m-3 1h1m1 0h1m9 0h1m2 0h1m-6 1h1m0 0h1m2 0h1m-16 2h1m4 0h1m7 0h1m-10 1h1m11 0h1m-8 1h1m1 0h1m-10 1h1m1 0h1m-4 1h1m0 0h1m11 0h1m0 0h1m4 0h1m-11 1h1m-12 1h1m0 0h1m10 0h1m-1 1h1m0 0h1m-18 1h1m4 0h1m-2 1h1m0 1h1m9 0h1m0 0h1m-20 1h1m5 0h1m10 0h1m0 1h1m1 0h1m-16 1h1m10 1h1m-3 1h1m-20 1h1m20 0h1m-14 2h1m11 1h1m5 0h1m-25 1h1m19 0h1m-28 1h1m14 0h1m8 0h1m1 0h1m-21 1h1m-6 1h1m6 0h1m2 1h1m3 0h1m9 0h1m-23 1h1m1 0h1m16 0h1m0 0h1m-22 1h1m12 0h1m5 0h1m1 0h1m-125 1h1m43 0h1m0 0h1m56 0h1m2 1h1m-64 1h1m25 0h1m37 0h1m15 0h1m-133 1h1m19 0h1m11 0h1m24 0h1m53 0h1m9 0h1m10 0h1m-104 1h1m8 0h1m13 0h1m56 0h1m4 0h1m-40 1h1m24 0h1m26 0h1m2 0h1m11 0h1m-99 1h1m46 0h1m2 0h1m4 0h1m29 0h1m-56 1h1m38 0h1m7 0h1m-77 1h1m22 0h1m44 0h1m0 0h1m6 0h1m1 0h1m-73 1h1m8 0h1m7 0h1m35 0h1m4 0h1m0 0h1m16 0h1m3 0h1m-102 1h1m7 0h1m23 0h1m0 0h1m40 0h1m1 0h1m3 0h1m0 0h1m8 0h1m2 0h1m3 0h1m38 0h1m-186 1h1m60 0h1m1 0h1m16 0h1m4 0h1m11 0h1m6 0h1m12 0h1m6 0h1m3 0h1m17 0h1m-118 1h1m15 0h1m19 0h1m36 0h1m6 0h1m8 0h1m19 0h1m1 0h1m-110 1h1m39 0h1m0 0h1m9 0h1m35 0h1m0 0h1m0 0h1m12 0h1m0 0h1m-110 1h1m12 0h1m38 0h1m16 0h1m8 0h1m7 0h1m25 0h1m12 0h1m-109 1h1m1 0h1m6 0h1m2 0h1m13 0h1m8 0h1m10 0h1m9 0h1m4 0h1m0 0h1m1 0h1m15 0h1m1 0h1m-127 1h1m39 0h1m1 0h1m7 0h1m2 0h1m5 0h1m0 0h1m13 0h1m6 0h1m7 0h1m1 0h1m1 0h1m15 0h1m2 0h1m-75 1h1m6 0h1m3 0h1m0 0h1m0 0h1m7 0h1m0 0h1m3 0h1m5 0h1m9 0h1m7 0h1m5 0h1m30 0h1m3 0h1m6 0h1m4 0h1m7 0h1m-171 1h1m80 0h1m0 0h1m2 0h1m1 0h1m3 0h1m2 0h1m3 0h1m25 0h1m25 0h1m15 0h1m13 0h1m-132 1h1m3 0h1m1 0h1m5 0h1m17 0h1m6 0h1m1 0h1m7 0h1m4 0h1m2 0h1m20 0h1m2 0h1m4 0h1m17 0h1m3 0h1m3 0h1m0 0h1m5 0h1m20 0h1m-132 1h1m0 0h1m0 0h1m0 0h1m2 0h1m1 0h1m23 0h1m5 0h1m1 0h1m0 0h1m14 0h1m21 0h1m21 0h1m10 0h1m5 0h1m2 0h1m0 0h1m21 0h1m-152 1h1m10 0h1m8 0h1m37 0h1m0 0h1m4 0h1m2 0h1m7 0h1m12 0h1m7 0h1m-73 1h1m30 0h1m3 0h1m12 0h1m5 0h1m15 0h1m20 0h1m13 0h1m-108 1h1m1 0h1m3 0h1m6 0h1m24 0h1m4 0h1m1 0h1m0 0h1m0 0h1m15 0h1m25 0h1m3 0h1m-100 1h1m12 0h1m1 0h1m29 0h1m18 0h1m43 0h1m3 0h1m4 0h1m-134 1h1m27 0h1m5 0h1m13 0h1m26 0h1m39 0h1m5 0h1m1 0h1m-121 1h1m13 0h1m2 0h1m15 0h1m12 0h1m66 0h1m-176 1h1m52 0h1m75 0h1m5 0h1m48 0h1m3 0h1m12 0h1m-167 1h1m3 0h1m18 0h1m1 0h1m0 0h1m49 0h1m2 0h1m0 0h1m-63 1h1m18 0h1m27 0h1m2 0h1m22 0h1m63 0h1m-135 1h1m2 0h1m1 0h1m113 0h1m3 0h1m5 0h1m6 0h1m1 0h1m-73 1h1m3 0h1m48 0h1m13 0h1m18 0h1m-187 1h1m30 0h1m67 0h1m64 0h1m0 0h1m-139 1h1m6 0h1m70 0h1m59 0h1m2 0h1m-10 1h1m3 0h1m5 0h1m0 0h1m17 0h1m-163 1h1m11 0h1m2 0h1m109 0h1m-128 1h1m3 0h1m7 0h1m120 0h1m19 0h1m-146 1h1m0 0h1m78 0h1m47 0h1m3 0h1m4 0h1m6 0h1m6 0h1m-181 1h1m10 0h1m11 0h1m133 0h1m3 0h1m9 0h1m12 0h1m-166 1h1m12 0h1m5 0h1m135 0h1m-163 1h1m4 0h1m11 0h1m137 0h1m2 0h1m21 0h1m-163 1h1m132 0h1m25 0h1m5 0h1m-154 1h1m121 0h1m2 0h1m31 0h1m-199 1h1m19 0h1m1 0h1m4 0h1m0 0h1m69 0h1m61 0h1m12 0h1m-178 1h1m28 0h1m5 0h1m128 0h1m1 0h1m0 0h1m5 0h1m9 0h1m-151 1h1m16 0h1m110 0h1m1 0h1m0 0h1m5 0h1m-140 1h1m13 0h1m116 0h1m0 0h1m-137 1h1m2 0h1m3 0h1m1 0h1m46 0h1m15 0h1m61 0h1m0 0h1m2 0h1m1 0h1m-162 1h1m161 0h1m-131 1h1m9 0h1m55 0h1m57 0h1m1 0h1m-151 1h1m90 0h1m45 0h1m11 0h1m3 0h1m-136 1h1m0 0h1m5 0h1m46 0h1m9 0h1m4 0h1m37 0h1m20 0h1m5 0h1m0 0h1m3 0h1m-138 1h1m5 0h1m11 0h1m2 0h1m30 0h1m0 0h1m2 0h1m7 0h1m9 0h1m0 0h1m9 0h1m5 0h1m-88 1h1m0 0h1m1 0h1m1 0h1m0 0h1m0 0h1m35 0h1m20 0h1m4 0h1m4 0h1m1 0h1m3 0h1m30 0h1m-164 1h1m19 0h1m22 0h1m12 0h1m23 0h1m9 0h1m3 0h1m4 0h1m9 0h1m29 0h1m27 0h1m1 0h1m-110 1h1m0 0h1m9 0h1m14 0h1m7 0h1m8 0h1m9 0h1m30 0h1m7 0h1m11 0h1m2 0h1m3 0h1m7 0h1m4 0h1m1 0h1m-115 1h1m12 0h1m16 0h1m3 0h1m6 0h1m23 0h1m20 0h1m32 0h1m0 0h1m-155 1h1m6 0h1m10 0h1m65 0h1m1 0h1m20 0h1m11 0h1m1 0h1m2 0h1m10 0h1m4 0h1m0 0h1m-138 1h1m20 0h1m56 0h1m3 0h1m60 0h1m-155 1h1m32 0h1m1 0h1m32 0h1m15 0h1m7 0h1m10 0h1m2 0h1m16 0h1m3 0h1m3 0h1m-118 1h1m3 0h1m14 0h1m1 0h1m25 0h1m19 0h1m4 0h1m12 0h1m2 0h1m20 0h1m9 0h1m11 0h1m-134 1h1m5 0h1m3 0h1m7 0h1m3 0h1m15 0h1m10 0h1m8 0h1m6 0h1m1 0h1m4 0h1m3 0h1m37 0h1m2 0h1m13 0h1m36 0h1m-145 1h1m3 0h1m3 0h1m10 0h1m8 0h1m4 0h1m2 0h1m2 0h1m0 0h1m6 0h1m0 0h1m3 0h1m0 0h1m8 0h1m7 0h1m5 0h1m17 0h1m0 0h1m7 0h1m17 0h1m-139 1h1m15 0h1m6 0h1m0 0h1m5 0h1m2 0h1m6 0h1m2 0h1m13 0h1m9 0h1m9 0h1m1 0h1m0 0h1m0 0h1m6 0h1m0 0h1m5 0h1m4 0h1m11 0h1m7 0h1m6 0h1m-135 1h1m18 0h1m11 0h1m0 0h1m24 0h1m16 0h1m7 0h1m10 0h1m3 0h1m-101 1h1m45 0h1m5 0h1m10 0h1m15 0h1m1 0h1m10 0h1m2 0h1m7 0h1m2 0h1m0 0h1m-84 1h1m2 0h1m2 0h1m7 0h1m3 0h1m15 0h1m0 0h1m3 0h1m3 0h1m5 0h1m3 0h1m3 0h1m16 0h1m1 0h1m9 0h1m-94 1h1m55 0h1m8 0h1m36 0h1m-116 1h1m24 0h1m15 0h1m7 0h1m13 0h1m11 0h1m37 0h1m-92 1h1m19 0h1m13 0h1m12 0h1m-70 1h1m15 0h1m5 0h1m31 0h1m30 0h1m18 0h1m-126 1h1m75 0h1m31 0h1m0 0h1m-37 1h1m3 0h1m1 0h1m44 0h1m18 0h1m-117 1h1m80 0h1m11 0h1m0 0h1m31 0h1m-116 1h1m61 0h1m29 0h1m-80 1h1m58 0h1m-91 1h1m99 0h1m-25 3h1m5 0h1m12 2h1m7 3h1m7 1h1" stroke="#0005ff" stroke-width="1.3" fill="none"/><path d="M542 857h1m1 0h1m-2 1h1m0 0h1m-3 1h1m-5 1h1m0 0h1m2 0h1m-3 1h1m0 0h1m0 0h1m0 0h1m-5 1h1m4 0h1m-2 1h1m0 0h1m-2 1h1m-8 1h1m1 0h1m0 0h1m-5 1h1m4 0h1m-5 1h1m0 0h1m1 1h1m-2 1h1m0 0h1m-7 1h1m1 0h1m0 0h1m2 0h1m1 0h1m-6 1h1m0 0h1m-3 1h1m3 0h1m0 0h1m-7 1h1m3 0h1m0 0h1m0 0h1m0 0h1m-8 1h1m2 0h1m2 0h1m-6 1h1m6 0h1m-6 1h1m-5 1h1m0 0h1m0 0h1m3 0h1m-7 1h1m3 0h1m-5 1h1m2 1h1m-2 1h1m-3 2h1m-3 2h1m0 0h1m1 0h1m-1 1h1m-5 1h1m1 0h1m1 0h1m-1 1h1m-6 1h1m0 0h1m0 0h1m-2 1h1m0 0h1m2 0h1m-7 1h1m0 0h1m1 0h1m3 0h1m-5 2h1m2 0h1m-3 1h1m-3 1h1m1 0h1m-3 1h1m-3 1h1m0 0h1m0 0h1m1 0h1m-4 1h1m0 0h1m0 0h1m-5 1h1m0 0h1m-1 1h1m0 1h1m-5 4h1m-1 1h1m1 0h1m0 0h1m-7 1h1m2 0h1m5 1h1m0 0h1m-10 1h1m1 0h1m4 0h1m1 0h1m-11 1h1m0 0h1m3 0h1m1 0h1m-3 1h1m-4 1h1m1 0h1m0 0h1m1 0h1m-3 1h1m0 0h1m-1 1h1m-6 1h1m0 0h1m0 0h1m0 0h1m-6 1h1m5 0h1m-10 1h1m3 0h1m0 0h1m0 0h1m-6 1h1m0 0h1m-2 1h1m1 0h1m0 0h1m1 0h1m-9 1h1m8 0h1m-6 1h1m0 0h1m2 0h1m-10 1h1m0 0h1m3 0h1m3 0h1m-11 1h1m6 0h1m0 0h1m3 0h1m-13 1h1m2 0h1m0 0h1m-3 1h1m7 0h1m-9 1h1m2 0h1m4 0h1m-5 1h1m0 0h1m1 0h1m-11 1h1m1 0h1m0 0h1m2 0h1m1 0h1m2 0h1m-9 1h1m4 0h1m1 0h1m-14 1h1m3 0h1m-3 1h1m3 0h1m0 0h1m-8 1h1m10 0h1m-9 1h1m2 1h1m1 0h1m-10 1h1m1 0h1m1 0h1m0 0h1m-6 1h1m3 0h1m5 0h1m-7 1h1m4 0h1m-14 1h1m8 0h1m-7 1h1m8 0h1m0 0h1m-24 1h1m1 0h1m2 0h1m4 0h1m6 0h1m5 0h1m-20 1h1m3 0h1m6 0h1m2 0h1m3 0h1m1 0h1m-32 1h1m6 0h1m0 0h1m1 0h1m16 0h1m-30 1h1m2 0h1m3 0h1m6 0h1m0 0h1m3 0h1m0 0h1m6 0h1m1 0h1m-29 1h1m1 0h1m3 0h1m0 0h1m11 0h1m1 0h1m0 0h1m-26 1h1m6 0h1m0 0h1m0 0h1m11 0h1m2 0h1m3 0h1m1 0h1m-28 1h1m9 0h1m3 0h1m6 0h1m4 0h1m3 0h1m-91 1h1m3 0h1m48 0h1m3 0h1m13 0h1m13 0h1m0 0h1m1 0h1m-94 1h1m9 0h1m45 0h1m1 0h1m1 0h1m2 0h1m4 0h1m3 0h1m-71 1h1m53 0h1m0 0h1m2 0h1m15 0h1m3 0h1m3 0h1m1 0h1m-101 1h1m18 0h1m0 0h1m4 0h1m4 0h1m2 0h1m4 0h1m3 0h1m45 0h1m14 0h1m0 0h1m-104 1h1m1 0h1m1 0h1m3 0h1m0 0h1m0 0h1m1 0h1m0 0h1m6 0h1m1 0h1m2 0h1m7 0h1m3 0h1m2 0h1m45 0h1m11 0h1m2 0h1m4 0h1m1 0h1m-99 1h1m1 0h1m2 0h1m2 0h1m5 0h1m2 0h1m7 0h1m1 0h1m0 0h1m0 0h1m9 0h1m7 0h1m10 0h1m1 0h1m2 0h1m2 0h1m8 0h1m10 0h1m0 0h1m-102 1h1m3 0h1m2 0h1m0 0h1m1 0h1m1 0h1m7 0h1m7 0h1m1 0h1m15 0h1m3 0h1m0 0h1m3 0h1m3 0h1m1 0h1m1 0h1m0 0h1m2 0h1m46 0h1m-111 1h1m6 0h1m2 0h1m5 0h1m5 0h1m7 0h1m4 0h1m8 0h1m0 0h1m3 0h1m6 0h1m3 0h1m3 0h1m9 0h1m27 0h1m0 0h1m0 0h1m4 0h1m1 0h1m-119 1h1m7 0h1m0 0h1m0 0h1m0 0h1m1 0h1m7 0h1m3 0h1m0 0h1m15 0h1m3 0h1m5 0h1m3 0h1m5 0h1m0 0h1m1 0h1m14 0h1m30 0h1m0 0h1m5 0h1m0 0h1m-118 1h1m0 0h1m3 0h1m0 0h1m11 0h1m0 0h1m0 0h1m4 0h1m12 0h1m0 0h1m0 0h1m4 0h1m7 0h1m0 0h1m0 0h1m16 0h1m35 0h1m2 0h1m0 0h1m3 0h1m-109 1h1m6 0h1m30 0h1m2 0h1m0 0h1m2 0h1m0 0h1m2 0h1m7 0h1m5 0h1m33 0h1m5 0h1m2 0h1m3 0h1m-113 1h1m2 0h1m1 0h1m0 0h1m9 0h1m48 0h1m46 0h1m-121 1h1m5 0h1m1 0h1m5 0h1m0 0h1m16 0h1m1 0h1m6 0h1m5 0h1m0 0h1m4 0h1m0 0h1m3 0h1m4 0h1m0 0h1m1 0h1m2 0h1m0 0h1m0 0h1m40 0h1m9 0h1m-122 1h1m0 0h1m0 0h1m0 0h1m36 0h1m6 0h1m6 0h1m2 0h1m2 0h1m4 0h1m6 0h1m40 0h1m-111 1h1m2 0h1m1 0h1m30 0h1m25 0h1m0 0h1m4 0h1m40 0h1m8 0h1m-119 1h1m7 0h1m13 0h1m35 0h1m51 0h1m1 0h1m3 0h1m-123 1h1m1 0h1m8 0h1m55 0h1m47 0h1m6 0h1m0 0h1m-123 1h1m0 0h1m1 0h1m12 0h1m50 0h1m0 0h1m1 0h1m0 0h1m47 0h1m0 0h1m1 0h1m-124 1h1m0 0h1m10 0h1m43 0h1m15 0h1m40 0h1m3 0h1m1 0h1m0 0h1m0 0h1m-123 1h1m2 0h1m2 0h1m3 0h1m113 0h1m-122 1h1m38 0h1m13 0h1m15 0h1m7 0h1m43 0h1m-123 1h1m2 0h1m58 0h1m50 0h1m-118 1h1m2 0h1m123 0h1m-127 1h1m0 0h1m0 0h1m0 0h1m0 0h1m0 0h1m43 0h1m62 0h1m-110 1h1m5 0h1m31 0h1m3 0h1m4 0h1m9 0h1m15 0h1m41 0h1m4 0h1m2 0h1m-126 1h1m2 0h1m1 0h1m46 0h1m55 0h1m1 0h1m3 0h1m7 0h1m-124 1h1m6 0h1m3 0h1m4 0h1m36 0h1m16 0h1m0 0h1m0 0h1m45 0h1m4 0h1m-124 1h1m0 0h1m2 0h1m5 0h1m39 0h1m4 0h1m1 0h1m11 0h1m-67 1h1m1 0h1m0 0h1m0 0h1m1 0h1m2 0h1m5 0h1m36 0h1m9 0h1m52 0h1m-106 1h1m2 0h1m33 0h1m0 0h1m1 0h1m12 0h1m6 0h1m-65 1h1m3 0h1m0 0h1m10 0h1m26 0h1m8 0h1m0 0h1m2 0h1m3 0h1m14 0h1m12 0h1m10 0h1m0 0h1m3 0h1m-109 1h1m3 0h1m3 0h1m1 0h1m29 0h1m1 0h1m3 0h1m0 0h1m21 0h1m1 0h1m18 0h1m19 0h1m1 0h1m-108 1h1m20 0h1m15 0h1m12 0h1m28 0h1m2 0h1m21 0h1m0 0h1m4 0h1m0 0h1m-110 1h1m10 0h1m6 0h1m16 0h1m1 0h1m3 0h1m6 0h1m4 0h1m3 0h1m4 0h1m4 0h1m0 0h1m6 0h1m0 0h1m25 0h1m2 0h1m-106 1h1m7 0h1m4 0h1m1 0h1m5 0h1m18 0h1m6 0h1m0 0h1m2 0h1m6 0h1m4 0h1m0 0h1m3 0h1m3 0h1m2 0h1m1 0h1m2 0h1m5 0h1m3 0h1m1 0h1m2 0h1m7 0h1m-95 1h1m24 0h1m2 0h1m2 0h1m15 0h1m0 0h1m0 0h1m6 0h1m1 0h1m12 0h1m3 0h1m0 0h1m7 0h1m-89 1h1m10 0h1m0 0h1m2 0h1m1 0h1m1 0h1m3 0h1m12 0h1m2 0h1m0 0h1m4 0h1m6 0h1m4 0h1m7 0h1m10 0h1m0 0h1m6 0h1m7 0h1m0 0h1m3 0h1m-96 1h1m0 0h1m0 0h1m0 0h1m3 0h1m3 0h1m4 0h1m2 0h1m0 0h1m2 0h1m0 0h1m14 0h1m2 0h1m4 0h1m6 0h1m6 0h1m0 0h1m4 0h1m25 0h1m0 0h1m-98 1h1m1 0h1m0 0h1m1 0h1m4 0h1m3 0h1m0 0h1m11 0h1m0 0h1m2 0h1m0 0h1m2 0h1m0 0h1m3 0h1m1 0h1m5 0h1m0 0h1m15 0h1m3 0h1m2 0h1m1 0h1m7 0h1m3 0h1m-88 1h1m7 0h1m0 0h1m0 0h1m7 0h1m1 0h1m2 0h1m1 0h1m1 0h1m5 0h1m1 0h1m3 0h1m2 0h1m21 0h1m0 0h1m0 0h1m3 0h1m10 0h1m3 0h1m-86 1h1m6 0h1m2 0h1m0 0h1m6 0h1m3 0h1m0 0h1m20 0h1m18 0h1m6 0h1m4 0h1m2 0h1m1 0h1m1 0h1m-77 1h1m5 0h1m2 0h1m0 0h1m0 0h1m0 0h1m1 0h1m5 0h1m49 0h1m3 0h1m0 0h1m5 0h1m-83 1h1m1 0h1m5 0h1m3 0h1m1 0h1m2 0h1m2 0h1m49 0h1m8 0h1m0 0h1" stroke="#005aff" stroke-width="1.3" fill="none"/><path d="M519 921h1m1 0h1m-4 2h1m1 1h1m-2 1h1m-6 1h1m2 0h1m-3 3h1m3 0h1m-6 1h1m0 0h1m-3 2h1m1 2h1m-4 3h1m0 1h1m-2 2h1m0 0h1m-16 2h1m-6 2h1m-9 1h1m15 0h1m1 0h1m10 0h1m-16 1h1m-6 1h1m8 0h1m-19 1h1m3 0h1m0 0h1m0 0h1m6 0h1m3 0h1m1 0h1m-25 1h1m3 0h1m1 0h1m6 0h1m5 0h1m5 0h1m3 0h1m-24 1h1m6 0h1m4 0h1m2 0h1m-18 1h1m1 0h1m4 0h1m0 0h1m3 0h1m1 0h1m0 0h1m1 0h1m-75 1h1m0 0h1m2 0h1m13 0h1m35 0h1m0 0h1m2 0h1m1 0h1m0 0h1m6 0h1m1 0h1m5 0h1m0 0h1m6 0h1m-104 1h1m0 0h1m2 0h1m13 0h1m4 0h1m53 0h1m0 0h1m3 0h1m-84 1h1m8 0h1m10 0h1m9 0h1m2 0h1m0 0h1m37 0h1m2 0h1m1 0h1m0 0h1m4 0h1m12 0h1m3 0h1m1 0h1m-104 1h1m0 0h1m24 0h1m0 0h1m0 0h1m0 0h1m0 0h1m0 0h1m2 0h1m2 0h1m2 0h1m20 0h1m4 0h1m5 0h1m7 0h1m1 0h1m0 0h1m25 0h1m-107 1h1m18 0h1m5 0h1m13 0h1m1 0h1m0 0h1m17 0h1m8 0h1m0 0h1m24 0h1m0 0h1m2 0h1m-97 1h1m0 0h1m2 0h1m1 0h1m2 0h1m1 0h1m4 0h1m1 0h1m1 0h1m1 0h1m0 0h1m2 0h1m1 0h1m1 0h1m2 0h1m0 0h1m6 0h1m2 0h1m21 0h1m0 0h1m32 0h1m2 0h1m-107 1h1m2 0h1m7 0h1m0 0h1m7 0h1m3 0h1m14 0h1m1 0h1m2 0h1m1 0h1m2 0h1m1 0h1m9 0h1m4 0h1m4 0h1m25 0h1m1 0h1m0 0h1m3 0h1m4 0h1m-113 1h1m2 0h1m5 0h1m3 0h1m0 0h1m10 0h1m16 0h1m1 0h1m3 0h1m0 0h1m4 0h1m0 0h1m0 0h1m13 0h1m32 0h1m6 0h1m-102 1h1m4 0h1m2 0h1m20 0h1m0 0h1m1 0h1m13 0h1m0 0h1m8 0h1m0 0h1m1 0h1m2 0h1m38 0h1m-111 1h1m11 0h1m0 0h1m1 0h1m10 0h1m7 0h1m0 0h1m12 0h1m0 0h1m0 0h1m8 0h1m2 0h1m0 0h1m0 0h1m2 0h1m39 0h1m2 0h1m-105 1h1m0 0h1m6 0h1m19 0h1m11 0h1m9 0h1m16 0h1m31 0h1m1 0h1m0 0h1m2 0h1m-109 1h1m8 0h1m24 0h1m7 0h1m2 0h1m2 0h1m3 0h1m2 0h1m6 0h1m42 0h1m0 0h1m4 0h1m-114 1h1m3 0h1m0 0h1m3 0h1m0 0h1m19 0h1m3 0h1m8 0h1m0 0h1m2 0h1m3 0h1m4 0h1m0 0h1m1 0h1m0 0h1m0 0h1m0 0h1m4 0h1m0 0h1m1 0h1m1 0h1m34 0h1m4 0h1m-111 1h1m25 0h1m10 0h1m2 0h1m4 0h1m0 0h1m7 0h1m50 0h1m-108 1h1m0 0h1m1 0h1m24 0h1m7 0h1m6 0h1m2 0h1m1 0h1m3 0h1m5 0h1m4 0h1m41 0h1m-103 1h1m24 0h1m1 0h1m3 0h1m14 0h1m12 0h1m3 0h1m5 0h1m30 0h1m0 0h1m0 0h1m1 0h1m-109 1h1m1 0h1m5 0h1m25 0h1m3 0h1m0 0h1m1 0h1m3 0h1m2 0h1m8 0h1m6 0h1m45 0h1m0 0h1m-111 1h1m36 0h1m3 0h1m0 0h1m0 0h1m3 0h1m9 0h1m6 0h1m44 0h1m1 0h1m-116 1h1m6 0h1m40 0h1m5 0h1m10 0h1m1 0h1m1 0h1m0 0h1m1 0h1m39 0h1m-106 1h1m1 0h1m40 0h1m1 0h1m1 0h1m2 0h1m0 0h1m1 0h1m5 0h1m1 0h1m45 0h1m-111 1h1m3 0h1m20 0h1m7 0h1m4 0h1m5 0h1m2 0h1m0 0h1m2 0h1m0 0h1m10 0h1m3 0h1m2 0h1m2 0h1m23 0h1m11 0h1m1 0h1m-91 1h1m11 0h1m2 0h1m0 0h1m3 0h1m9 0h1m3 0h1m2 0h1m11 0h1m0 0h1m0 0h1m29 0h1m4 0h1m-104 1h1m34 0h1m5 0h1m1 0h1m7 0h1m3 0h1m4 0h1m5 0h1m4 0h1m3 0h1m0 0h1m8 0h1m18 0h1m-100 1h1m13 0h1m8 0h1m18 0h1m4 0h1m7 0h1m2 0h1m2 0h1m0 0h1m2 0h1m18 0h1m13 0h1m2 0h1m-92 1h1m9 0h1m2 0h1m1 0h1m7 0h1m3 0h1m3 0h1m4 0h1m4 0h1m3 0h1m2 0h1m10 0h1m0 0h1m0 0h1m3 0h1m0 0h1m16 0h1m0 0h1m1 0h1m-101 1h1m1 0h1m5 0h1m7 0h1m2 0h1m5 0h1m4 0h1m0 0h1m7 0h1m0 0h1m1 0h1m16 0h1m2 0h1m3 0h1m0 0h1m0 0h1m3 0h1m7 0h1m2 0h1m3 0h1m4 0h1m10 0h1m0 0h1m0 0h1m-105 1h1m1 0h1m4 0h1m0 0h1m5 0h1m1 0h1m9 0h1m13 0h1m2 0h1m1 0h1m4 0h1m9 0h1m2 0h1m1 0h1m10 0h1m1 0h1m8 0h1m1 0h1m1 0h1m1 0h1m1 0h1m1 0h1m-93 1h1m0 0h1m8 0h1m5 0h1m6 0h1m0 0h1m11 0h1m0 0h1m4 0h1m2 0h1m4 0h1m6 0h1m0 0h1m9 0h1m0 0h1m0 0h1m6 0h1m3 0h1m0 0h1m2 0h1m0 0h1m0 0h1m0 0h1m-94 1h1m5 0h1m0 0h1m8 0h1m3 0h1m1 0h1m0 0h1m0 0h1m4 0h1m11 0h1m26 0h1m5 0h1m9 0h1m0 0h1m4 0h1m5 0h1m-96 1h1m9 0h1m1 0h1m4 0h1m4 0h1m1 0h1m1 0h1m13 0h1m1 0h1m3 0h1m0 0h1m13 0h1m7 0h1m13 0h1m3 0h1m-85 1h1m10 0h1m15 0h1m39 0h1m5 0h1m3 0h1m0 0h1m3 0h1m2 0h1m-83 1h1m5 0h1m4 0h1m5 0h1m9 0h1m-30 1h1m1 0h1m0 0h1m0 0h1m14 0h1m55 0h1m2 0h1m1 0h1m-71 1h1m5 0h1m59 0h1m0 0h1m-2 1h1" stroke="#00afff" stroke-width="1.3" fill="none"/><path d="M516 929h1m-2 9h1m-4 5h1m-3 1h1m-25 1h1m4 1h1m7 1h1m-11 1h1m4 0h1m3 0h1m-9 1h1m6 1h1m1 0h1m-4 1h1m0 0h1m9 0h1m-80 1h1m49 0h1m2 0h1m6 0h1m6 0h1m4 0h1m1 0h1m1 0h1m1 0h1m1 0h1m-73 1h1m37 0h1m11 0h1m3 0h1m0 0h1m1 0h1m1 0h1m0 0h1m2 0h1m0 0h1m3 0h1m1 0h1m-92 1h1m56 0h1m12 0h1m3 0h1m5 0h1m3 0h1m0 0h1m0 0h1m1 0h1m3 0h1m-87 1h1m0 0h1m3 0h1m4 0h1m15 0h1m31 0h1m4 0h1m0 0h1m4 0h1m14 0h1m4 0h1m-92 1h1m5 0h1m6 0h1m9 0h1m33 0h1m9 0h1m2 0h1m0 0h1m2 0h1m3 0h1m0 0h1m9 0h1m-88 1h1m7 0h1m5 0h1m14 0h1m0 0h1m25 0h1m8 0h1m3 0h1m15 0h1m0 0h1m0 0h1m1 0h1m-102 1h1m5 0h1m2 0h1m6 0h1m6 0h1m3 0h1m0 0h1m34 0h1m3 0h1m2 0h1m28 0h1m2 0h1m2 0h1m-99 1h1m0 0h1m3 0h1m0 0h1m5 0h1m6 0h1m0 0h1m0 0h1m4 0h1m0 0h1m14 0h1m1 0h1m17 0h1m0 0h1m0 0h1m0 0h1m3 0h1m3 0h1m14 0h1m2 0h1m5 0h1m-85 1h1m1 0h1m0 0h1m3 0h1m1 0h1m1 0h1m9 0h1m7 0h1m19 0h1m5 0h1m26 0h1m0 0h1m4 0h1m-100 1h1m0 0h1m8 0h1m6 0h1m1 0h1m0 0h1m5 0h1m8 0h1m1 0h1m5 0h1m18 0h1m27 0h1m0 0h1m2 0h1m2 0h1m-112 1h1m15 0h1m2 0h1m4 0h1m0 0h1m9 0h1m0 0h1m0 0h1m4 0h1m0 0h1m0 0h1m0 0h1m5 0h1m22 0h1m-66 1h1m1 0h1m14 0h1m5 0h1m4 0h1m0 0h1m0 0h1m5 0h1m2 0h1m3 0h1m4 0h1m0 0h1m9 0h1m5 0h1m-60 1h1m16 0h1m6 0h1m1 0h1m9 0h1m2 0h1m0 0h1m0 0h1m1 0h1m2 0h1m9 0h1m33 0h1m1 0h1m6 0h1m-104 1h1m24 0h1m4 0h1m17 0h1m2 0h1m11 0h1m30 0h1m2 0h1m1 0h1m-109 1h1m7 0h1m4 0h1m5 0h1m11 0h1m3 0h1m3 0h1m13 0h1m3 0h1m0 0h1m4 0h1m3 0h1m1 0h1m5 0h1m31 0h1m1 0h1m-102 1h1m1 0h1m16 0h1m0 0h1m3 0h1m3 0h1m3 0h1m3 0h1m3 0h1m4 0h1m0 0h1m0 0h1m0 0h1m1 0h1m2 0h1m2 0h1m0 0h1m38 0h1m11 0h1m-110 1h1m1 0h1m14 0h1m4 0h1m1 0h1m7 0h1m3 0h1m2 0h1m1 0h1m2 0h1m5 0h1m2 0h1m0 0h1m0 0h1m41 0h1m-97 1h1m19 0h1m5 0h1m2 0h1m0 0h1m1 0h1m10 0h1m5 0h1m1 0h1m4 0h1m1 0h1m1 0h1m1 0h1m4 0h1m25 0h1m0 0h1m-96 1h1m15 0h1m11 0h1m3 0h1m2 0h1m1 0h1m0 0h1m1 0h1m1 0h1m2 0h1m0 0h1m3 0h1m0 0h1m0 0h1m2 0h1m2 0h1m2 0h1m3 0h1m0 0h1m30 0h1m0 0h1m-101 1h1m0 0h1m5 0h1m8 0h1m2 0h1m1 0h1m3 0h1m4 0h1m2 0h1m0 0h1m7 0h1m0 0h1m0 0h1m0 0h1m2 0h1m4 0h1m1 0h1m5 0h1m4 0h1m31 0h1m1 0h1m0 0h1m-107 1h1m13 0h1m7 0h1m4 0h1m1 0h1m2 0h1m3 0h1m0 0h1m1 0h1m5 0h1m1 0h1m0 0h1m1 0h1m11 0h1m0 0h1m5 0h1m0 0h1m0 0h1m3 0h1m0 0h1m0 0h1m2 0h1m7 0h1m17 0h1m-101 1h1m2 0h1m6 0h1m1 0h1m5 0h1m8 0h1m16 0h1m7 0h1m0 0h1m1 0h1m3 0h1m0 0h1m2 0h1m1 0h1m4 0h1m16 0h1m0 0h1m1 0h1m1 0h1m0 0h1m3 0h1m3 0h1m4 0h1m-105 1h1m2 0h1m0 0h1m0 0h1m7 0h1m8 0h1m0 0h1m4 0h1m14 0h1m3 0h1m12 0h1m10 0h1m0 0h1m0 0h1m14 0h1m1 0h1m4 0h1m1 0h1m1 0h1m0 0h1m0 0h1m0 0h1m-100 1h1m1 0h1m1 0h1m1 0h1m0 0h1m0 0h1m1 0h1m5 0h1m3 0h1m0 0h1m1 0h1m1 0h1m1 0h1m6 0h1m2 0h1m6 0h1m0 0h1m1 0h1m10 0h1m8 0h1m6 0h1m1 0h1m6 0h1m0 0h1m0 0h1m8 0h1m-94 1h1m0 0h1m4 0h1m2 0h1m0 0h1m4 0h1m1 0h1m2 0h1m6 0h1m11 0h1m17 0h1m6 0h1m10 0h1m1 0h1m7 0h1m4 0h1m6 0h1m-99 1h1m2 0h1m3 0h1m4 0h1m2 0h1m7 0h1m9 0h1m1 0h1m3 0h1m2 0h1m9 0h1m9 0h1m5 0h1m0 0h1m3 0h1m13 0h1m9 0h1m-97 1h1m7 0h1m0 0h1m2 0h1m1 0h1m2 0h1m0 0h1m2 0h1m43 0h1m13 0h1m-75 1h1m0 0h1m7 0h1m1 0h1m0 0h1m1 0h1m1 0h1m7 0h1m35 0h1m1 0h1m8 0h1m5 0h1m11 0h1m-85 1h1m2 0h1m5 0h1m10 0h1m7 0h1m2 0h1m1 0h1m-35 1h1m0 0h1m0 0h1m9 0h1m13 0h1m24 0h1m4 0h1m3 0h1m6 0h1m0 0h1m0 0h1m2 0h1m-74 1h1m5 0h1m4 0h1m60 0h1m-3 1h1m-52 1h1m7 0h1" stroke="#05fff9" stroke-width="1.3" fill="none"/><path d="M497 949h1m-2 1h1m-9 1h1m11 0h1m-6 2h1m0 0h1m5 0h1m-76 1h1m58 0h1m-58 1h1m59 0h1m4 0h1m5 0h1m3 0h1m-77 1h1m58 0h1m7 0h1m0 0h1m0 0h1m-79 1h1m2 0h1m59 0h1m5 0h1m-66 1h1m4 0h1m50 0h1m1 0h1m1 0h1m2 0h1m1 0h1m0 0h1m13 0h1m-81 1h1m3 0h1m4 0h1m13 0h1m33 0h1m0 0h1m0 0h1m0 0h1m2 0h1m4 0h1m0 0h1m0 0h1m0 0h1m8 0h1m1 0h1m-81 1h1m1 0h1m0 0h1m3 0h1m5 0h1m2 0h1m6 0h1m15 0h1m41 0h1m0 0h1m-87 1h1m3 0h1m2 0h1m0 0h1m0 0h1m0 0h1m26 0h1m23 0h1m2 0h1m5 0h1m13 0h1m-85 1h1m8 0h1m6 0h1m0 0h1m16 0h1m1 0h1m2 0h1m12 0h1m9 0h1m1 0h1m23 0h1m-90 1h1m2 0h1m2 0h1m0 0h1m1 0h1m0 0h1m1 0h1m1 0h1m0 0h1m0 0h1m0 0h1m2 0h1m5 0h1m32 0h1m2 0h1m25 0h1m-88 1h1m3 0h1m2 0h1m11 0h1m18 0h1m18 0h1m0 0h1m28 0h1m-90 1h1m0 0h1m2 0h1m2 0h1m3 0h1m2 0h1m0 0h1m7 0h1m4 0h1m0 0h1m22 0h1m6 0h1m0 0h1m1 0h1m26 0h1m1 0h1m-96 1h1m5 0h1m0 0h1m0 0h1m6 0h1m4 0h1m2 0h1m0 0h1m1 0h1m0 0h1m1 0h1m0 0h1m0 0h1m7 0h1m12 0h1m12 0h1m26 0h1m3 0h1m-98 1h1m2 0h1m0 0h1m3 0h1m1 0h1m0 0h1m4 0h1m1 0h1m1 0h1m0 0h1m0 0h1m1 0h1m2 0h1m0 0h1m3 0h1m2 0h1m5 0h1m5 0h1m1 0h1m10 0h1m1 0h1m0 0h1m2 0h1m0 0h1m0 0h1m23 0h1m-92 1h1m0 0h1m1 0h1m2 0h1m3 0h1m7 0h1m16 0h1m6 0h1m0 0h1m6 0h1m5 0h1m7 0h1m0 0h1m3 0h1m0 0h1m22 0h1m-94 1h1m6 0h1m3 0h1m1 0h1m1 0h1m4 0h1m1 0h1m0 0h1m0 0h1m5 0h1m18 0h1m4 0h1m7 0h1m2 0h1m0 0h1m25 0h1m2 0h1m1 0h1m-96 1h1m11 0h1m4 0h1m39 0h1m7 0h1m3 0h1m3 0h1m4 0h1m5 0h1m-88 1h1m2 0h1m10 0h1m0 0h1m4 0h1m4 0h1m1 0h1m0 0h1m23 0h1m2 0h1m10 0h1m2 0h1m0 0h1m1 0h1m1 0h1m14 0h1m1 0h1m3 0h1m-98 1h1m12 0h1m0 0h1m2 0h1m3 0h1m0 0h1m0 0h1m2 0h1m0 0h1m0 0h1m16 0h1m10 0h1m13 0h1m0 0h1m1 0h1m1 0h1m5 0h1m5 0h1m0 0h1m-84 1h1m0 0h1m0 0h1m0 0h1m3 0h1m10 0h1m0 0h1m1 0h1m0 0h1m3 0h1m27 0h1m2 0h1m0 0h1m2 0h1m4 0h1m0 0h1m0 0h1m8 0h1m0 0h1m6 0h1m1 0h1m5 0h1m1 0h1m-95 1h1m0 0h1m0 0h1m4 0h1m4 0h1m0 0h1m1 0h1m2 0h1m0 0h1m3 0h1m0 0h1m41 0h1m0 0h1m6 0h1m2 0h1m5 0h1m3 0h1m0 0h1m1 0h1m-88 1h1m0 0h1m2 0h1m3 0h1m2 0h1m37 0h1m5 0h1m9 0h1m1 0h1m2 0h1m3 0h1m2 0h1m2 0h1m9 0h1m-99 1h1m5 0h1m1 0h1m0 0h1m0 0h1m13 0h1m0 0h1m35 0h1m16 0h1m7 0h1m1 0h1m1 0h1m-87 1h1m4 0h1m3 0h1m5 0h1m0 0h1m1 0h1m1 0h1m52 0h1m3 0h1m8 0h1m1 0h1m-79 1h1m19 0h1m29 0h1m18 0h1m-58 1h1m39 0h1m17 0h1m-79 1h1m4 0h1m-4 1h1m76 4h1" stroke="#5affa4" stroke-width="1.3" fill="none"/><path d="M495 955h1m0 0h1m2 0h1m5 0h1m-11 1h1m2 0h1m-17 1h1m3 0h1m9 0h1m0 0h1m0 0h1m4 0h1m0 0h1m-22 1h1m2 0h1m0 0h1m1 0h1m6 0h1m3 0h1m2 0h1m0 0h1m-80 1h1m63 0h1m2 0h1m2 0h1m4 0h1m0 0h1m-78 1h1m54 0h1m23 0h1m2 0h1m0 0h1m2 0h1m-83 1h1m4 0h1m50 0h1m1 0h1m0 0h1m0 0h1m3 0h1m19 0h1m-87 1h1m1 0h1m0 0h1m0 0h1m5 0h1m0 0h1m45 0h1m1 0h1m-61 1h1m7 0h1m0 0h1m6 0h1m41 0h1m21 0h1m1 0h1m0 0h1m-93 1h1m4 0h1m0 0h1m5 0h1m0 0h1m22 0h1m30 0h1m21 0h1m0 0h1m-87 1h1m0 0h1m0 0h1m0 0h1m2 0h1m1 0h1m2 0h1m4 0h1m42 0h1m25 0h1m-87 1h1m1 0h1m1 0h1m2 0h1m0 0h1m5 0h1m4 0h1m45 0h1m1 0h1m0 0h1m18 0h1m0 0h1m-93 1h1m0 0h1m1 0h1m1 0h1m0 0h1m0 0h1m2 0h1m0 0h1m0 0h1m0 0h1m53 0h1m0 0h1m2 0h1m19 0h1m-91 1h1m0 0h1m0 0h1m0 0h1m2 0h1m5 0h1m2 0h1m0 0h1m6 0h1m40 0h1m9 0h1m14 0h1m2 0h1m-85 1h1m2 0h1m0 0h1m40 0h1m7 0h1m9 0h1m0 0h1m17 0h1m0 0h1m-87 1h1m6 0h1m49 0h1m6 0h1m2 0h1m1 0h1m3 0h1m9 0h1m-92 1h1m3 0h1m2 0h1m0 0h1m0 0h1m3 0h1m0 0h1m2 0h1m30 0h1m24 0h1m0 0h1m1 0h1m12 0h1m3 0h1m7 0h1m-92 1h1m13 0h1m54 0h1m1 0h1m0 0h1m0 0h1m4 0h1m0 0h1m2 0h1m-91 1h1m5 0h1m4 0h1m10 0h1m49 0h1m3 0h1m0 0h1m2 0h1m1 0h1m7 0h1m-91 1h1m1 0h1m0 0h1m0 0h1m1 0h1m8 0h1m2 0h1m5 0h1m53 0h1m1 0h1m2 0h1m0 0h1m-63 1h1m43 0h1m3 0h1m-51 2h1m-1 1h1m63 0h1" stroke="#afff4f" stroke-width="1.3" fill="none"/><path d="M497 956h1m-3 1h1m0 0h1m1 0h1m0 0h1m1 0h1m-15 1h1m13 0h1m0 0h1m2 0h1m-17 1h1m9 0h1m2 0h1m-17 1h1m1 0h1m0 0h1m4 0h1m1 0h1m5 0h1m0 0h1m1 0h1m-18 1h1m0 0h1m0 0h1m1 0h1m1 0h1m1 0h1m5 0h1m1 0h1m-24 1h1m2 0h1m0 0h1m0 0h1m0 0h1m1 0h1m9 0h1m2 0h1m1 0h1m1 0h1m0 0h1m-69 1h1m43 0h1m3 0h1m3 0h1m11 0h1m-74 1h1m52 0h1m3 0h1m16 0h1m1 0h1m-85 1h1m6 0h1m1 0h1m50 0h1m3 0h1m6 0h1m12 0h1m0 0h1m-82 1h1m0 0h1m55 0h1m1 0h1m0 0h1m0 0h1m0 0h1m1 0h1m15 0h1m-89 1h1m1 0h1m11 0h1m52 0h1m2 0h1m13 0h1m0 0h1m2 0h1m-91 1h1m5 0h1m0 0h1m2 0h1m0 0h1m0 0h1m54 0h1m3 0h1m0 0h1m1 0h1m8 0h1m0 0h1m1 0h1m0 0h1m0 0h1m0 0h1m-89 1h1m1 0h1m5 0h1m1 0h1m1 0h1m0 0h1m57 0h1m4 0h1m1 0h1m5 0h1m0 0h1m3 0h1m1 0h1m-94 1h1m2 0h1m2 0h1m5 0h1m55 0h1m6 0h1m4 0h1m0 0h1m0 0h1m-12 1h1m0 0h1m0 0h1m1 0h1m-70 1h1m1 0h1m64 0h1m6 0h1m1 0h1m0 0h1m6 0h1m-82 1h1m69 0h1m2 0h1m5 0h1m-16 1h1m4 0h1m-3 2h1m15 0h1" stroke="#fff900" stroke-width="1.3" fill="none"/><path d="M496 957h1m-4 1h1m2 0h1m3 0h1m-8 1h1m2 0h1m-2 1h1m5 0h1m3 0h1m-19 1h1m4 0h1m0 0h1m1 0h1m1 0h1m4 0h1m1 0h1m-17 1h1m1 0h1m7 0h1m3 0h1m0 0h1m-17 1h1m16 0h1m0 0h1m-81 1h1m60 0h1m0 0h1m13 0h1m0 0h1m-16 1h1m1 0h1m3 0h1m6 0h1m3 0h1m-19 1h1m0 0h1m2 0h1m0 0h1m2 0h1m5 0h1m0 0h1m-16 1h1m15 0h1m-15 1h1m0 0h1m0 0h1m2 0h1m2 0h1m3 0h1m1 0h1m0 0h1m-15 1h1m0 0h1m0 0h1m3 0h1m3 0h1m0 0h1m5 0h1m0 0h1m-87 1h1m3 0h1m64 0h1m1 0h1m1 0h1m-2 1h1m5 0h1m-10 1h1" stroke="#ffa400" stroke-width="1.3" fill="none"/><path d="M493 959h1m6 0h1m-8 1h1m0 0h1m3 0h1m0 0h1m-7 1h1m2 0h1m-5 1h1m0 0h1m1 0h1m2 0h1m0 0h1m0 0h1m0 0h1m-14 1h1m2 0h1m1 0h1m0 0h1m2 0h1m1 0h1m0 0h1m-14 1h1m2 0h1m0 0h1m0 0h1m-5 1h1m2 0h1m2 0h1m1 0h1m0 0h1m0 0h1m0 0h1m0 0h1m0 0h1m0 0h1m0 0h1m-12 1h1m1 0h1m2 0h1m1 0h1m0 0h1m3 0h1m-13 1h1m4 0h1m4 0h1m0 0h1m1 0h1m-17 1h1m1 0h1m0 0h1m2 0h1m2 0h1m-7 1h1m4 0h1m3 0h1m-9 1h1m-4 1h1" stroke="#ff4f00" stroke-width="1.3" fill="none"/><path d="M500 960h1m-9 2h1m1 0h1m0 0h1m0 0h1m1 0h1m0 0h1m0 0h1m1 0h1m-11 1h1m3 0h1m0 0h1m0 0h1m1 0h1m4 0h1m-14 1h1m2 0h1m1 0h1m0 0h1m0 0h1m-10 1h1m5 0h1m0 0h1m1 0h1m0 0h1m0 0h1m-10 1h1m0 0h1m0 0h1m0 0h1m0 0h1m2 0h1m-5 1h1m-3 1h1m3 0h1m-4 1h1m3 0h1" stroke="#f90000" stroke-width="1.3" fill="none"/></g><g clip-path="url(#clipD02)"><path d="M733 891h1m3 5h1m-21 1h1m-3 1h1m24 6h1m-6 1h1m-34 1h1m2 1h1m-3 2h1m37 2h1m-22 1h1m14 0h1m0 0h1m8 0h1m-21 2h1m17 0h1m-53 1h1m-4 1h1m7 0h1m-15 1h1m26 0h1m12 0h1m7 1h1m2 0h1m-39 1h1m36 0h1m-44 1h1m33 0h1m5 0h1m0 0h1m-52 1h1m30 0h1m0 0h1m4 0h1m18 0h1m9 0h1m-49 1h1m-1 1h1m12 0h1m5 0h1m8 0h1m10 0h1m16 0h1m-60 1h1m8 0h1m10 0h1m1 0h1m2 0h1m5 0h1m12 0h1m1 0h1m-59 1h1m12 0h1m7 0h1m17 0h1m1 0h1m0 0h1m6 0h1m9 0h1m-43 1h1m3 0h1m5 0h1m0 0h1m3 0h1m3 0h1m1 0h1m8 0h1m-48 1h1m19 0h1m9 0h1m3 0h1m3 0h1m3 0h1m-42 1h1m2 0h1m3 0h1m8 0h1m10 0h1m0 0h1m0 0h1m1 0h1m5 0h1m14 0h1m-52 1h1m7 0h1m12 0h1m0 0h1m1 0h1m10 0h1m2 0h1m16 0h1m-64 1h1m16 0h1m1 0h1m1 0h1m19 0h1m5 0h1m4 0h1m0 0h1m11 0h1m0 0h1m-65 1h1m16 0h1m2 0h1m0 0h1m4 0h1m0 0h1m0 0h1m0 0h1m5 0h1m0 0h1m1 0h1m0 0h1m0 0h1m1 0h1m1 0h1m10 0h1m-52 1h1m12 0h1m8 0h1m5 0h1m2 0h1m2 0h1m0 0h1m5 0h1m7 0h1m1 0h1m-40 1h1m2 0h1m19 0h1m2 0h1m1 0h1m2 0h1m5 0h1m-37 1h1m4 0h1m0 0h1m16 0h1m5 0h1m6 0h1m-41 1h1m2 0h1m2 0h1m20 0h1m1 0h1m3 0h1m1 0h1m2 0h1m3 0h1m-40 1h1m0 0h1m16 0h1m0 0h1m0 0h1m15 0h1m5 0h1m0 0h1m-58 1h1m10 0h1m4 0h1m17 0h1m4 0h1m1 0h1m8 0h1m3 0h1m1 0h1m-62 1h1m18 0h1m0 0h1m1 0h1m14 0h1m8 0h1m1 0h1m9 0h1m-47 1h1m14 0h1m3 0h1m2 0h1m6 0h1m2 0h1m0 0h1m2 0h1m7 0h1m0 0h1m0 0h1m1 0h1m-53 1h1m2 0h1m16 0h1m3 0h1m4 0h1m1 0h1m1 0h1m5 0h1m7 0h1m4 0h1m4 0h1m-64 1h1m5 0h1m1 0h1m11 0h1m24 0h1m4 0h1m5 0h1m4 0h1m1 0h1m-54 1h1m2 0h1m0 0h1m30 0h1m0 0h1m1 0h1m0 0h1m3 0h1m5 0h1m-41 1h1m1 0h1m15 0h1m7 0h1m0 0h1m6 0h1m1 0h1m-59 1h1m10 0h1m2 0h1m4 0h1m0 0h1m28 0h1m5 0h1m7 0h1m-68 1h1m15 0h1m0 0h1m30 0h1m0 0h1m2 0h1m0 0h1m2 0h1m4 0h1m7 0h1m12 0h1m-78 1h1m9 0h1m6 0h1m25 0h1m11 0h1m5 0h1m1 0h1m0 0h1m0 0h1m10 0h1m-72 1h1m0 0h1m1 0h1m10 0h1m20 0h1m3 0h1m6 0h1m1 0h1m1 0h1m1 0h1m1 0h1m3 0h1m3 0h1m-65 1h1m7 0h1m3 0h1m29 0h1m4 0h1m2 0h1m-63 1h1m18 0h1m1 0h1m31 0h1m1 0h1m4 0h1m-55 1h1m5 0h1m1 0h1m0 0h1m3 0h1m0 0h1m37 0h1m0 0h1m0 0h1m3 0h1m5 0h1m-61 1h1m3 0h1m1 0h1m7 0h1m37 0h1m1 0h1m2 0h1m6 0h1m-67 1h1m4 0h1m4 0h1m2 0h1m2 0h1m27 0h1m11 0h1m1 0h1m-56 1h1m2 0h1m0 0h1m43 0h1m6 0h1m1 0h1m-73 1h1m62 0h1m1 0h1m7 0h1m-64 1h1m3 0h1m1 0h1m2 0h1m44 0h1m1 0h1m0 0h1m4 0h1m-61 1h1m0 0h1m0 0h1m0 0h1m0 0h1m6 0h1m36 0h1m3 0h1m0 0h1m4 0h1m0 0h1m-67 1h1m7 0h1m9 0h1m37 0h1m-55 1h1m0 0h1m6 0h1m6 0h1m39 0h1m0 0h1m2 0h1m1 0h1m-74 1h1m14 0h1m2 0h1m48 0h1m0 0h1m0 0h1m17 0h1m-76 1h1m3 0h1m2 0h1m6 0h1m2 0h1m37 0h1m4 0h1m-67 1h1m12 0h1m38 0h1m3 0h1m2 0h1m-57 1h1m6 0h1m50 0h1m12 0h1m-86 1h1m15 0h1m15 0h1m36 0h1m1 0h1m2 0h1m15 0h1m-67 1h1m44 0h1m1 0h1m20 0h1m-72 1h1m2 0h1m2 0h1m33 0h1m7 0h1m1 0h1m5 0h1m-53 1h1m0 0h1m0 0h1m45 0h1m6 0h1m-67 1h1m9 0h1m0 0h1m42 0h1m11 0h1m29 0h1m-98 1h1m3 0h1m4 0h1m4 0h1m29 0h1m12 0h1m3 0h1m-58 1h1m0 0h1m5 0h1m10 0h1m28 0h1m2 0h1m5 0h1m1 0h1m-69 1h1m4 0h1m10 0h1m36 0h1m9 0h1m6 0h1m-80 1h1m2 0h1m4 0h1m6 0h1m4 0h1m0 0h1m8 0h1m31 0h1m5 0h1m7 0h1m3 0h1m-56 1h1m42 0h1m2 0h1m-68 1h1m16 0h1m0 0h1m1 0h1m9 0h1m12 0h1m7 0h1m11 0h1m4 0h1m-73 1h1m13 0h1m7 0h1m2 0h1m4 0h1m2 0h1m2 0h1m18 0h1m6 0h1m0 0h1m-77 1h1m28 0h1m4 0h1m2 0h1m5 0h1m1 0h1m7 0h1m21 0h1m2 0h1m1 0h1m1 0h1m10 0h1m-81 1h1m18 0h1m3 0h1m1 0h1m9 0h1m0 0h1m7 0h1m6 0h1m5 0h1m2 0h1m2 0h1m0 0h1m8 0h1m-65 1h1m4 0h1m11 0h1m11 0h1m4 0h1m6 0h1m0 0h1m5 0h1m0 0h1m9 0h1m-68 1h1m12 0h1m12 0h1m0 0h1m5 0h1m3 0h1m15 0h1m4 0h1m4 0h1m-37 1h1m0 0h1m25 0h1m6 0h1m0 0h1m0 0h1m-57 1h1m5 0h1m7 0h1m5 0h1m26 0h1m0 0h1m0 0h1m1 0h1m1 0h1m0 0h1m-53 1h1m5 0h1m8 0h1m0 0h1m4 0h1m2 0h1m1 0h1m2 0h1m0 0h1m0 0h1m5 0h1m6 0h1m3 0h1m0 0h1m1 0h1m1 0h1m1 0h1m-41 1h1m1 0h1m0 0h1m5 0h1m4 0h1m0 0h1m1 0h1m0 0h1m2 0h1m-33 1h1m6 0h1m1 0h1m1 0h1m2 0h1m2 0h1m1 0h1m8 0h1m4 0h1m2 0h1m2 0h1m0 0h1m-53 1h1m10 0h1m11 0h1m2 0h1m0 0h1m1 0h1m7 0h1m1 0h1m4 0h1m5 0h1m8 0h1m-53 1h1m6 0h1m2 0h1m4 0h1m2 0h1m4 0h1m4 0h1m0 0h1m0 0h1m5 0h1m7 0h1m2 0h1m14 0h1m-50 1h1m3 0h1m5 0h1m0 0h1m6 0h1m3 0h1m0 0h1m1 0h1m1 0h1m8 0h1m-31 1h1m14 0h1m0 0h1m4 0h1m15 0h1m-50 1h1m1 0h1m2 0h1m1 0h1m1 0h1m9 0h1m0 0h1m1 0h1m5 0h1m1 0h1m24 0h1m-64 1h1m13 0h1m6 0h1m2 0h1m0 0h1m9 0h1m-24 1h1m1 0h1m2 0h1m1 0h1m3 0h1m19 0h1m13 0h1m-72 1h1m14 0h1m16 0h1m9 0h1m31 0h1m-69 1h1m7 0h1m19 0h1m1 0h1m0 0h1m5 0h1m0 0h1m-49 1h1m33 0h1m0 0h1m3 0h1m25 0h1m-43 1h1m9 0h1m17 0h1m16 0h1m-37 1h1m18 0h1m2 0h1m-17 1h1m5 0h1m2 0h1m1 0h1m5 0h1m9 0h1m19 0h1m-57 1h1m-3 1h1m23 0h1m-14 1h1m-28 1h1m13 0h1m9 0h1m49 0h1m-45 1h1m2 0h1m-7 1h1m9 1h1m-33 1h1m18 0h1m5 0h1m10 0h1m6 0h1m-19 1h1m-21 1h1m11 0h1m-16 7h1m12 7h1" stroke="#0005ff" stroke-width="1.3" fill="none"/><path d="M704 933h1m7 0h1m1 0h1m-13 1h1m1 0h1m1 0h1m1 0h1m1 0h1m1 0h1m2 0h1m-12 1h1m1 0h1m0 0h1m1 0h1m0 0h1m0 0h1m1 0h1m-15 1h1m0 0h1m1 0h1m1 0h1m1 0h1m7 0h1m2 0h1m0 0h1m-20 1h1m1 0h1m0 0h1m0 0h1m2 0h1m1 0h1m3 0h1m2 0h1m0 0h1m1 0h1m-20 1h1m2 0h1m1 0h1m2 0h1m9 0h1m-23 1h1m1 0h1m0 0h1m5 0h1m0 0h1m13 0h1m-25 1h1m3 0h1m4 0h1m3 0h1m1 0h1m2 0h1m3 0h1m-26 1h1m17 0h1m0 0h1m6 0h1m2 0h1m-29 1h1m0 0h1m1 0h1m1 0h1m3 0h1m1 0h1m1 0h1m5 0h1m-19 1h1m4 0h1m14 0h1m1 0h1m0 0h1m3 0h1m-33 1h1m0 0h1m1 0h1m11 0h1m5 0h1m3 0h1m6 0h1m-31 1h1m2 0h1m18 0h1m-20 1h1m1 0h1m1 0h1m19 0h1m0 0h1m0 0h1m-31 1h1m1 0h1m1 0h1m0 0h1m3 0h1m17 0h1m2 0h1m0 0h1m-35 1h1m2 0h1m1 0h1m21 0h1m6 0h1m0 0h1m0 0h1m-35 1h1m22 0h1m0 0h1m3 0h1m2 0h1m1 0h1m-32 1h1m25 0h1m4 0h1m0 0h1m0 0h1m-35 1h1m0 0h1m22 0h1m0 0h1m0 0h1m-31 1h1m4 0h1m24 0h1m5 0h1m0 0h1m-39 1h1m33 0h1m0 0h1m-4 1h1m-31 1h1m31 0h1m-40 1h1m5 0h1m32 0h1m0 0h1m0 0h1m-42 1h1m1 0h1m1 0h1m1 0h1m1 0h1m27 0h1m-40 1h1m1 0h1m35 0h1m0 0h1m0 0h1m0 0h1m0 0h1m0 0h1m-41 1h1m1 0h1m3 0h1m27 0h1m2 0h1m-40 1h1m0 0h1m0 0h1m1 0h1m3 0h1m29 0h1m0 0h1m2 0h1m0 0h1m-45 1h1m0 0h1m0 0h1m36 0h1m0 0h1m0 0h1m0 0h1m0 0h1m0 0h1m-45 1h1m0 0h1m1 0h1m0 0h1m0 0h1m0 0h1m1 0h1m29 0h1m0 0h1m1 0h1m-37 1h1m3 0h1m0 0h1m24 0h1m-33 1h1m0 0h1m1 0h1m28 0h1m2 0h1m0 0h1m-39 1h1m3 0h1m30 0h1m3 0h1m-37 1h1m4 0h1m26 0h1m2 0h1m-32 1h1m26 0h1m1 0h1m0 0h1m1 0h1m0 0h1m-12 1h1m6 0h1m4 0h1m-42 1h1m5 0h1m2 0h1m18 0h1m6 0h1m-37 1h1m0 0h1m0 0h1m5 0h1m0 0h1m19 0h1m1 0h1m4 0h1m0 0h1m-36 1h1m0 0h1m0 0h1m5 0h1m19 0h1m1 0h1m-29 1h1m16 0h1m6 0h1m2 0h1m-28 1h1m4 0h1m0 0h1m0 0h1m0 0h1m0 0h1m11 0h1m2 0h1m0 0h1m-30 1h1m1 0h1m2 0h1m1 0h1m2 0h1m0 0h1m8 0h1m2 0h1m0 0h1m1 0h1m-25 1h1m4 0h1m1 0h1m2 0h1m4 0h1m4 0h1m2 0h1m4 0h1m0 0h1m0 0h1m-27 1h1m2 0h1m3 0h1m3 0h1m2 0h1m0 0h1m0 0h1m0 0h1m2 0h1m2 0h1m-30 1h1m1 0h1m3 0h1m4 0h1m3 0h1m0 0h1m1 0h1m8 0h1m-27 1h1m0 0h1m0 0h1m0 0h1m0 0h1m1 0h1m8 0h1m3 0h1m0 0h1m0 0h1m0 0h1m1 0h1m0 0h1m-18 1h1m5 0h1m0 0h1m0 0h1m0 0h1m0 0h1m0 0h1m1 0h1m2 0h1m1 0h1m-26 1h1m1 0h1m1 0h1m1 0h1m1 0h1m11 0h1m1 0h1m2 0h1" stroke="#005aff" stroke-width="1.3" fill="none"/><path d="M705 936h1m6 0h1m-11 1h1m2 0h1m8 0h1m-13 1h1m1 0h1m0 0h1m0 0h1m2 0h1m-11 1h1m0 0h1m2 0h1m1 0h1m6 0h1m-16 1h1m6 0h1m0 0h1m1 0h1m0 0h1m2 0h1m4 0h1m-22 1h1m3 0h1m1 0h1m2 0h1m0 0h1m0 0h1m3 0h1m1 0h1m-14 1h1m1 0h1m1 0h1m6 0h1m2 0h1m-18 1h1m4 0h1m4 0h1m4 0h1m0 0h1m0 0h1m0 0h1m0 0h1m-23 1h1m0 0h1m4 0h1m1 0h1m0 0h1m0 0h1m3 0h1m2 0h1m0 0h1m2 0h1m-22 1h1m1 0h1m1 0h1m0 0h1m3 0h1m0 0h1m0 0h1m1 0h1m1 0h1m2 0h1m1 0h1m1 0h1m2 0h1m0 0h1m-19 1h1m7 0h1m1 0h1m-18 1h1m0 0h1m0 0h1m13 0h1m3 0h1m0 0h1m-23 1h1m1 0h1m3 0h1m11 0h1m1 0h1m2 0h1m-26 1h1m3 0h1m0 0h1m14 0h1m2 0h1m2 0h1m-28 1h1m0 0h1m0 0h1m1 0h1m17 0h1m0 0h1m0 0h1m2 0h1m-28 1h1m2 0h1m20 0h1m1 0h1m0 0h1m2 0h1m-32 1h1m1 0h1m0 0h1m1 0h1m24 0h1m0 0h1m-36 1h1m2 0h1m2 0h1m18 0h1m3 0h1m3 0h1m2 0h1m-35 1h1m3 0h1m20 0h1m1 0h1m0 0h1m-27 1h1m0 0h1m0 0h1m26 0h1m-33 1h1m3 0h1m21 0h1m0 0h1m1 0h1m1 0h1m-31 1h1m28 0h1m2 0h1m-34 1h1m1 0h1m25 0h1m6 0h1m-39 1h1m2 0h1m0 0h1m0 0h1m0 0h1m21 0h1m1 0h1m1 0h1m1 0h1m0 0h1m-35 1h1m3 0h1m-8 2h1m0 0h1m0 0h1m28 0h1m0 0h1m0 0h1m-31 1h1m1 0h1m0 0h1m1 0h1m23 0h1m0 0h1m-31 1h1m1 0h1m25 0h1m2 0h1m-32 1h1m3 0h1m0 0h1m18 0h1m1 0h1m2 0h1m0 0h1m-33 1h1m1 0h1m2 0h1m0 0h1m1 0h1m14 0h1m8 0h1m-32 1h1m1 0h1m0 0h1m1 0h1m0 0h1m19 0h1m2 0h1m-33 1h1m1 0h1m2 0h1m0 0h1m19 0h1m0 0h1m1 0h1m-28 1h1m2 0h1m0 0h1m4 0h1m0 0h1m1 0h1m2 0h1m2 0h1m0 0h1m4 0h1m0 0h1m2 0h1m-26 1h1m0 0h1m3 0h1m15 0h1m0 0h1m1 0h1m-30 1h1m3 0h1m2 0h1m7 0h1m4 0h1m0 0h1m4 0h1m-25 1h1m1 0h1m1 0h1m1 0h1m1 0h1m0 0h1m0 0h1m2 0h1m0 0h1m3 0h1m2 0h1m-21 1h1m5 0h1m1 0h1m2 0h1m2 0h1m1 0h1m4 0h1m1 0h1m-27 1h1m0 0h1m3 0h1m0 0h1m2 0h1m1 0h1m0 0h1m1 0h1m2 0h1m3 0h1m-19 1h1m4 0h1m2 0h1m2 0h1m1 0h1m1 0h1m3 0h1m-21 1h1m3 0h1m5 0h1m0 0h1m1 0h1m4 0h1m-19 1h1m5 0h1m0 0h1m8 0h1m-14 1h1m6 0h1" stroke="#00afff" stroke-width="1.3" fill="none"/><path d="M704 938h1m6 0h1m-6 1h1m-1 1h1m-8 1h1m4 0h1m0 0h1m2 0h1m2 0h1m-11 1h1m0 0h1m3 0h1m0 0h1m5 0h1m-15 1h1m3 0h1m1 0h1m1 0h1m0 0h1m1 0h1m-13 1h1m0 0h1m2 0h1m2 0h1m0 0h1m0 0h1m0 0h1m-14 1h1m0 0h1m1 0h1m1 0h1m0 0h1m2 0h1m1 0h1m0 0h1m4 0h1m3 0h1m-21 1h1m0 0h1m0 0h1m1 0h1m3 0h1m0 0h1m5 0h1m-17 1h1m1 0h1m0 0h1m2 0h1m1 0h1m1 0h1m0 0h1m1 0h1m0 0h1m0 0h1m0 0h1m0 0h1m-19 1h1m0 0h1m3 0h1m0 0h1m3 0h1m7 0h1m0 0h1m1 0h1m-24 1h1m1 0h1m0 0h1m3 0h1m0 0h1m7 0h1m7 0h1m1 0h1m-25 1h1m2 0h1m1 0h1m4 0h1m7 0h1m1 0h1m0 0h1m0 0h1m-28 1h1m0 0h1m24 0h1m-28 1h1m4 0h1m0 0h1m2 0h1m14 0h1m0 0h1m0 0h1m-25 1h1m3 0h1m15 0h1m1 0h1m1 0h1m3 0h1m-29 1h1m3 0h1m15 0h1m1 0h1m0 0h1m-24 1h1m1 0h1m0 0h1m19 0h1m2 0h1m3 0h1m-34 1h1m3 0h1m0 0h1m19 0h1m2 0h1m-27 1h1m0 0h1m0 0h1m19 0h1m3 0h1m0 0h1m-32 1h1m1 0h1m0 0h1m22 0h1m2 0h1m1 0h1m0 0h1m-31 1h1m1 0h1m22 0h1m0 0h1m0 0h1m0 0h1m-28 1h1m0 0h1m0 0h1m19 0h1m0 0h1m-23 1h1m21 0h1m-28 1h1m2 0h1m3 0h1m16 0h1m5 0h1m-31 1h1m3 0h1m0 0h1m1 0h1m2 0h1m15 0h1m1 0h1m-29 1h1m0 0h1m0 0h1m4 0h1m2 0h1m12 0h1m3 0h1m0 0h1m-30 1h1m1 0h1m2 0h1m0 0h1m0 0h1m18 0h1m-31 1h1m6 0h1m1 0h1m0 0h1m1 0h1m0 0h1m13 0h1m2 0h1m0 0h1m2 0h1m-31 1h1m6 0h1m0 0h1m14 0h1m0 0h1m-21 1h1m1 0h1m0 0h1m0 0h1m0 0h1m0 0h1m0 0h1m1 0h1m0 0h1m6 0h1m0 0h1m1 0h1m-26 1h1m3 0h1m1 0h1m0 0h1m1 0h1m0 0h1m1 0h1m3 0h1m1 0h1m3 0h1m-19 1h1m3 0h1m0 0h1m-5 1h1m5 0h1m1 0h1m0 0h1m2 0h1m0 0h1m5 0h1m-19 1h1m0 0h1m2 0h1m0 0h1m0 0h1m0 0h1m0 0h1m5 0h1m0 0h1m1 0h1m0 0h1m-22 1h1m2 0h1m0 0h1m1 0h1m0 0h1m0 0h1m5 0h1m0 0h1m4 0h1m-21 1h1m2 0h1m1 0h1m1 0h1m0 0h1m5 0h1m4 0h1m0 0h1m-21 1h1m5 0h1m1 0h1m8 0h1m1 0h1m-18 1h1m0 0h1m1 0h1m5 0h1m-9 1h1" stroke="#05fff9" stroke-width="1.3" fill="none"/><path d="M704 943h1m-5 1h1m2 0h1m1 0h1m2 0h1m2 0h1m-13 1h1m2 0h1m5 0h1m-12 1h1m0 0h1m4 0h1m0 0h1m0 0h1m0 0h1m-7 1h1m1 0h1m0 0h1m1 0h1m0 0h1m0 0h1m0 0h1m1 0h1m-15 1h1m5 0h1m0 0h1m0 0h1m0 0h1m0 0h1m2 0h1m-14 1h1m0 0h1m10 0h1m2 0h1m1 0h1m-17 1h1m3 0h1m1 0h1m3 0h1m2 0h1m-19 1h1m2 0h1m0 0h1m0 0h1m0 0h1m1 0h1m8 0h1m2 0h1m-20 1h1m1 0h1m0 0h1m1 0h1m4 0h1m4 0h1m0 0h1m1 0h1m1 0h1m-18 1h1m12 0h1m1 0h1m4 0h1m-25 1h1m0 0h1m16 0h1m0 0h1m0 0h1m0 0h1m0 0h1m-22 1h1m0 0h1m1 0h1m16 0h1m-20 1h1m17 0h1m1 0h1m-25 1h1m0 0h1m1 0h1m16 0h1m3 0h1m-25 1h1m21 0h1m-23 1h1m0 0h1m0 0h1m0 0h1m-8 1h1m2 0h1m0 0h1m0 0h1m0 0h1m1 0h1m15 0h1m0 0h1m-21 1h1m15 0h1m2 0h1m-21 1h1m0 0h1m2 0h1m13 0h1m0 0h1m-22 1h1m1 0h1m2 0h1m14 0h1m1 0h1m0 0h1m-28 1h1m2 0h1m1 0h1m0 0h1m0 0h1m13 0h1m0 0h1m0 0h1m0 0h1m1 0h1m-24 1h1m1 0h1m4 0h1m10 0h1m0 0h1m0 0h1m1 0h1m3 0h1m-26 1h1m4 0h1m0 0h1m1 0h1m1 0h1m5 0h1m0 0h1m-19 1h1m2 0h1m0 0h1m2 0h1m11 0h1m0 0h1m-20 1h1m10 0h1m2 0h1m0 0h1m1 0h1m0 0h1m-20 1h1m3 0h1m1 0h1m1 0h1m1 0h1m0 0h1m2 0h1m0 0h1m1 0h1m1 0h1m0 0h1m-15 1h1m0 0h1m0 0h1m1 0h1m2 0h1m0 0h1m1 0h1m0 0h1m1 0h1m-18 1h1m6 0h1m2 0h1m-15 1h1m11 0h1m0 0h1m0 0h1m-14 1h1m7 0h1m4 0h1m2 0h1m-4 2h1" stroke="#5affa4" stroke-width="1.3" fill="none"/><path d="M704 943h1m-6 1h1m6 0h1m-2 1h1m-6 1h1m3 0h1m0 0h1m2 0h1m-15 1h1m5 0h1m-5 1h1m0 0h1m5 0h1m-8 1h1m2 0h1m3 0h1m1 0h1m0 0h1m1 0h1m0 0h1m-11 1h1m0 0h1m4 0h1m0 0h1m0 0h1m3 0h1m-18 1h1m3 0h1m0 0h1m2 0h1m0 0h1m0 0h1m0 0h1m1 0h1m0 0h1m2 0h1m-14 1h1m1 0h1m0 0h1m3 0h1m1 0h1m2 0h1m0 0h1m-17 1h1m0 0h1m4 0h1m5 0h1m0 0h1m2 0h1m-19 1h1m2 0h1m0 0h1m-4 1h1m0 0h1m11 0h1m0 0h1m1 0h1m0 0h1m2 0h1m-23 1h1m0 0h1m15 0h1m4 0h1m-24 1h1m0 0h1m0 0h1m0 0h1m0 0h1m14 0h1m0 0h1m1 0h1m-24 1h1m1 0h1m1 0h1m-3 1h1m0 0h1m0 0h1m12 0h1m1 0h1m-17 1h1m14 0h1m1 0h1m0 0h1m-25 1h1m4 0h1m0 0h1m13 0h1m0 0h1m-16 1h1m0 0h1m11 0h1m0 0h1m0 0h1m-17 1h1m0 0h1m0 0h1m0 0h1m12 0h1m0 0h1m-18 1h1m11 0h1m0 0h1m0 0h1m0 0h1m2 0h1m-18 1h1m0 0h1m0 0h1m0 0h1m8 0h1m-15 1h1m3 0h1m1 0h1m0 0h1m2 0h1m0 0h1m0 0h1m0 0h1m0 0h1m0 0h1m-16 1h1m0 0h1m0 0h1m1 0h1m0 0h1m0 0h1m1 0h1m0 0h1m2 0h1m4 0h1m-12 1h1m3 0h1m0 0h1m0 0h1m-9 1h1m5 0h1m0 0h1m-9 1h1m1 0h1m0 0h1m2 0h1" stroke="#afff4f" stroke-width="1.3" fill="none"/><path d="M700 948h1m2 0h1m7 0h1m-15 1h1m5 0h1m-7 1h1m2 0h1m2 0h1m0 0h1m-4 1h1m0 0h1m1 0h1m0 0h1m0 0h1m0 0h1m0 0h1m-12 1h1m1 0h1m0 0h1m0 0h1m0 0h1m0 0h1m1 0h1m0 0h1m1 0h1m-13 1h1m0 0h1m2 0h1m1 0h1m2 0h1m0 0h1m1 0h1m-14 1h1m1 0h1m5 0h1m0 0h1m0 0h1m1 0h1m0 0h1m0 0h1m1 0h1m-17 1h1m1 0h1m0 0h1m1 0h1m3 0h1m3 0h1m-14 1h1m1 0h1m0 0h1m8 0h1m0 0h1m3 0h1m-18 1h1m11 0h1m0 0h1m-14 1h1m0 0h1m9 0h1m4 0h1m-20 1h1m2 0h1m0 0h1m5 0h1m1 0h1m0 0h1m0 0h1m0 0h1m0 0h1m0 0h1m-18 1h1m1 0h1m0 0h1m0 0h1m0 0h1m0 0h1m8 0h1m0 0h1m0 0h1m-18 1h1m1 0h1m0 0h1m0 0h1m4 0h1m2 0h1m0 0h1m0 0h1m0 0h1m-18 1h1m1 0h1m0 0h1m0 0h1m7 0h1m1 0h1m0 0h1m0 0h1m-14 1h1m0 0h1m1 0h1m8 0h1m0 0h1m-12 1h1m0 0h1m1 0h1m1 0h1m0 0h1m0 0h1m0 0h1m-9 1h1m0 0h1m1 0h1m1 0h1m3 0h1m1 0h1m-8 1h1m0 0h1m0 0h1m1 0h1m-6 1h1m0 0h1m0 0h1m1 0h1m0 0h1m2 0h1m-15 1h1m2 0h1m6 0h1m0 0h1m-8 1h1" stroke="#fff900" stroke-width="1.3" fill="none"/><path d="M706 948h1m-2 1h1m-2 2h1m0 0h1m0 0h1m-4 1h1m0 0h1m-10 1h1m4 0h1m1 0h1m0 0h1m1 0h1m0 0h1m2 0h1m-13 1h1m0 0h1m1 0h1m3 0h1m0 0h1m0 0h1m0 0h1m0 0h1m1 0h1m-14 1h1m0 0h1m1 0h1m0 0h1m1 0h1m0 0h1m0 0h1m2 0h1m0 0h1m-12 1h1m0 0h1m1 0h1m1 0h1m1 0h1m0 0h1m0 0h1m0 0h1m-12 1h1m0 0h1m0 0h1m1 0h1m3 0h1m0 0h1m0 0h1m0 0h1m-14 1h1m1 0h1m7 0h1m0 0h1m0 0h1m0 0h1m-13 1h1m1 0h1m4 0h1m0 0h1m2 0h1m0 0h1m0 0h1m-12 1h1m6 0h1m2 0h1m-15 1h1m0 0h1m1 0h1m2 0h1m2 0h1m-9 1h1m0 0h1m0 0h1m4 0h1m2 0h1m0 0h1m-12 1h1m2 0h1m1 0h1m-7 1h1m0 0h1m1 0h1m3 0h1m0 0h1m0 0h1m0 0h1m-8 1h1m0 0h1m0 0h1m0 0h1m3 0h1m-8 1h1m0 0h1m0 0h1m-2 1h1m1 0h1m0 0h1m-4 1h1m1 2h1" stroke="#ffa400" stroke-width="1.3" fill="none"/><path d="M699 953h1m0 0h1m2 0h1m0 0h1m1 0h1m-10 1h1m1 0h1m2 0h1m0 0h1m1 0h1m0 0h1m-7 1h1m0 0h1m3 0h1m0 0h1m-8 1h1m1 0h1m1 0h1m1 0h1m0 0h1m-10 1h1m0 0h1m0 0h1m0 0h1m0 0h1m0 0h1m2 0h1m1 0h1m-13 1h1m1 0h1m1 0h1m1 0h1m1 0h1m2 0h1m-10 1h1m4 0h1m1 0h1m0 0h1m0 0h1m-8 1h1m0 0h1m0 0h1m3 0h1m0 0h1m-13 1h1m0 0h1m2 0h1m1 0h1m-7 1h1m2 0h1m0 0h1m1 0h1m2 0h1m0 0h1m-7 1h1m1 0h1m0 0h1m0 0h1m-6 1h1m0 0h1m0 0h1m0 0h1m0 0h1m0 0h1m1 0h1m-7 1h1m2 0h1" stroke="#ff4f00" stroke-width="1.3" fill="none"/><path d="M701 954h1m0 0h1m1 0h1m-4 1h1m3 0h1m-7 1h1m0 0h1m0 0h1m1 0h1m0 0h1m0 0h1m-9 1h1m0 0h1m0 0h1m0 0h1m1 0h1m0 0h1m0 0h1m0 0h1m-8 1h1m1 0h1m0 0h1m0 0h1m0 0h1m2 0h1m-9 1h1m0 0h1m0 0h1m0 0h1m0 0h1m0 0h1m0 0h1m-9 1h1m0 0h1m0 0h1m1 0h1m0 0h1m0 0h1m0 0h1m0 0h1m1 0h1m-10 1h1m0 0h1m0 0h1m1 0h1m-6 1h1m0 0h1m0 0h1m0 0h1m0 0h1m0 0h1m-5 1h1m0 0h1m0 0h1m0 0h1m0 0h1m0 2h1" stroke="#f90000" stroke-width="1.3" fill="none"/></g><g clip-path="url(#clipD03)"><path d="M987 891h1m11 5h1m9 3h1m3 2h1m-27 2h1m3 0h1m19 0h1m10 0h1m-14 1h1m4 0h1m-5 1h1m-15 1h1m4 1h1m6 0h1m-13 1h1m0 0h1m10 0h1m-30 1h1m20 0h1m-18 2h1m11 0h1m5 0h1m2 0h1m0 0h1m10 0h1m-34 1h1m22 0h1m1 0h1m15 0h1m-51 1h1m4 0h1m11 0h1m19 0h1m2 0h1m-30 1h1m2 0h1m2 0h1m15 0h1m-18 1h1m4 0h1m6 0h1m5 0h1m-43 1h1m11 0h1m13 0h1m8 0h1m-19 1h1m12 0h1m3 0h1m-24 1h1m6 0h1m2 0h1m1 0h1m1 0h1m1 0h1m2 0h1m-8 1h1m6 0h1m1 0h1m0 0h1m0 0h1m2 0h1m6 0h1m2 0h1m-52 1h1m14 0h1m0 0h1m0 0h1m5 0h1m2 0h1m1 0h1m5 0h1m3 0h1m1 0h1m5 0h1m-48 1h1m3 0h1m8 0h1m0 0h1m4 0h1m3 0h1m6 0h1m8 0h1m1 0h1m-21 1h1m1 0h1m6 0h1m1 0h1m0 0h1m3 0h1m3 0h1m1 0h1m0 0h1m7 0h1m-37 1h1m3 0h1m0 0h1m0 0h1m3 0h1m0 0h1m5 0h1m1 0h1m3 0h1m1 0h1m-47 1h1m18 0h1m13 0h1m6 0h1m0 0h1m6 0h1m21 0h1m1 0h1m-60 1h1m1 0h1m2 0h1m4 0h1m17 0h1m4 0h1m1 0h1m-36 1h1m6 0h1m2 0h1m1 0h1m13 0h1m1 0h1m1 0h1m0 0h1m1 0h1m-31 1h1m4 0h1m0 0h1m3 0h1m0 0h1m11 0h1m0 0h1m2 0h1m11 0h1m3 0h1m-48 1h1m9 0h1m8 0h1m0 0h1m1 0h1m14 0h1m7 0h1m-57 1h1m19 0h1m6 0h1m2 0h1m2 0h1m9 0h1m6 0h1m0 0h1m6 0h1m-58 1h1m0 0h1m3 0h1m17 0h1m21 0h1m2 0h1m7 0h1m-40 1h1m0 0h1m0 0h1m21 0h1m0 0h1m1 0h1m1 0h1m0 0h1m9 0h1m-62 1h1m1 0h1m6 0h1m6 0h1m20 0h1m1 0h1m28 0h1m-64 1h1m6 0h1m2 0h1m9 0h1m13 0h1m8 0h1m3 0h1m2 0h1m0 0h1m2 0h1m-56 1h1m7 0h1m6 0h1m7 0h1m11 0h1m10 0h1m1 0h1m-50 1h1m34 0h1m8 0h1m0 0h1m0 0h1m-45 1h1m2 0h1m2 0h1m2 0h1m33 0h1m0 0h1m0 0h1m7 0h1m-73 1h1m16 0h1m0 0h1m11 0h1m25 0h1m1 0h1m4 0h1m0 0h1m-42 1h1m2 0h1m35 0h1m-42 1h1m0 0h1m1 0h1m3 0h1m24 0h1m4 0h1m10 0h1m5 0h1m0 0h1m-59 1h1m1 0h1m3 0h1m30 0h1m7 0h1m2 0h1m0 0h1m2 1h1m4 0h1m3 0h1m-57 1h1m42 0h1m6 0h1m-54 1h1m47 0h1m0 0h1m10 0h1m-67 1h1m1 0h1m1 0h1m7 0h1m35 0h1m1 0h1m3 0h1m3 0h1m1 0h1m12 0h1m-75 1h1m6 0h1m5 0h1m28 0h1m3 0h1m0 0h1m-38 1h1m1 0h1m29 0h1m6 0h1m1 0h1m5 0h1m-52 1h1m3 0h1m1 0h1m34 0h1m-61 1h1m9 0h1m16 0h1m32 0h1m2 0h1m2 0h1m1 0h1m-55 1h1m2 0h1m1 0h1m3 0h1m0 0h1m35 0h1m2 0h1m1 0h1m1 0h1m-64 1h1m11 0h1m0 0h1m0 0h1m0 0h1m4 0h1m30 0h1m1 0h1m6 0h1m3 0h1m-59 1h1m44 0h1m0 0h1m-54 1h1m6 0h1m6 0h1m0 0h1m3 0h1m32 0h1m-58 1h1m19 0h1m3 0h1m35 0h1m2 0h1m5 0h1m9 0h1m0 0h1m-74 1h1m8 0h1m2 0h1m33 0h1m8 0h1m1 0h1m4 0h1m4 0h1m-62 1h1m0 0h1m41 0h1m2 0h1m5 0h1m1 0h1m0 0h1m-60 1h1m15 0h1m-8 1h1m44 0h1m2 0h1m2 0h1m-56 1h1m1 0h1m7 0h1m32 0h1m0 0h1m1 0h1m3 0h1m-70 1h1m18 0h1m2 0h1m10 0h1m28 0h1m-47 1h1m0 0h1m4 0h1m0 0h1m0 0h1m5 0h1m22 0h1m11 0h1m2 0h1m-54 1h1m5 0h1m2 0h1m30 0h1m8 0h1m4 0h1m0 0h1m-59 1h1m8 0h1m37 0h1m1 0h1m3 0h1m0 0h1m2 0h1m5 0h1m-56 1h1m1 0h1m0 0h1m6 0h1m30 0h1m20 0h1m-63 1h1m5 0h1m30 0h1m1 0h1m2 0h1m2 0h1m3 0h1m-61 1h1m1 0h1m10 0h1m4 0h1m0 0h1m10 0h1m4 0h1m17 0h1m-44 1h1m3 0h1m25 0h1m6 0h1m7 0h1m1 0h1m3 0h1m-48 1h1m14 0h1m2 0h1m5 0h1m12 0h1m14 0h1m-52 1h1m1 0h1m6 0h1m2 0h1m0 0h1m5 0h1m3 0h1m2 0h1m4 0h1m2 0h1m-46 1h1m4 0h1m8 0h1m13 0h1m7 0h1m4 0h1m4 0h1m15 0h1m-79 1h1m26 0h1m2 0h1m0 0h1m22 0h1m3 0h1m0 0h1m8 0h1m5 0h1m-61 1h1m12 0h1m0 0h1m1 0h1m2 0h1m3 0h1m21 0h1m0 0h1m1 0h1m8 0h1m-67 1h1m26 0h1m3 0h1m26 0h1m3 0h1m-47 1h1m6 0h1m2 0h1m2 0h1m15 0h1m1 0h1m0 0h1m-41 1h1m11 0h1m1 0h1m0 0h1m1 0h1m0 0h1m3 0h1m1 0h1m0 0h1m2 0h1m3 0h1m0 0h1m4 0h1m-30 1h1m4 0h1m5 0h1m4 0h1m0 0h1m0 0h1m0 0h1m7 0h1m0 0h1m3 0h1m2 0h1m-33 1h1m0 0h1m3 0h1m1 0h1m0 0h1m3 0h1m8 0h1m0 0h1m2 0h1m1 0h1m2 0h1m4 0h1m21 0h1m-71 1h1m1 0h1m7 0h1m7 0h1m0 0h1m10 0h1m1 0h1m0 0h1m4 0h1m-33 1h1m0 0h1m0 0h1m8 0h1m1 0h1m0 0h1m10 0h1m2 0h1m0 0h1m0 0h1m11 0h1m2 0h1m-57 1h1m3 0h1m14 0h1m3 0h1m4 0h1m1 0h1m-37 1h1m0 0h1m3 0h1m5 0h1m6 0h1m10 0h1m2 0h1m2 0h1m4 0h1m5 0h1m32 0h1m-76 1h1m2 0h1m0 0h1m7 0h1m8 0h1m1 0h1m9 0h1m2 0h1m1 0h1m0 0h1m11 0h1m-42 1h1m0 0h1m17 0h1m7 0h1m13 0h1m0 0h1m2 0h1m-58 1h1m2 0h1m3 0h1m20 0h1m4 0h1m-33 1h1m2 0h1m0 0h1m9 0h1m1 0h1m3 0h1m12 0h1m2 0h1m0 0h1m4 0h1m-46 1h1m3 0h1m7 0h1m1 0h1m0 0h1m20 0h1m2 0h1m3 0h1m1 0h1m-43 1h1m4 0h1m0 0h1m8 0h1m0 0h1m23 0h1m2 0h1m15 0h1m-53 1h1m0 0h1m0 0h1m4 0h1m22 0h1m-37 1h1m1 0h1m2 0h1m2 0h1m3 0h1m0 0h1m6 0h1m9 0h1m1 0h1m5 0h1m-39 1h1m0 0h1m1 0h1m2 0h1m0 0h1m0 0h1m-10 1h1m1 0h1m3 0h1m4 0h1m0 0h1m12 0h1m-20 1h1m18 0h1m0 0h1m15 0h1m-42 1h1m0 0h1m19 0h1m37 0h1m-66 1h1m2 0h1m6 0h1m4 0h1m8 0h1m6 1h1m16 0h1m-28 1h1m16 0h1m-19 1h1m4 0h1m3 0h1m3 0h1m-16 1h1m36 0h1m8 0h1m-50 1h1m35 6h1m-26 5h1m-32 11h1" stroke="#0005ff" stroke-width="1.3" fill="none"/><path d="M985 924h1m0 0h1m1 0h1m1 0h1m1 0h1m0 0h1m0 0h1m-11 1h1m1 0h1m0 0h1m0 0h1m0 0h1m0 0h1m0 0h1m2 0h1m-11 1h1m1 0h1m0 0h1m2 0h1m1 0h1m-8 1h1m2 0h1m5 0h1m-12 1h1m3 0h1m1 0h1m0 0h1m-14 1h1m0 0h1m1 0h1m0 0h1m1 0h1m0 0h1m0 0h1m6 0h1m2 0h1m0 0h1m-20 1h1m0 0h1m3 0h1m0 0h1m1 0h1m2 0h1m0 0h1m0 0h1m2 0h1m-22 1h1m3 0h1m1 0h1m2 0h1m0 0h1m1 0h1m0 0h1m0 0h1m1 0h1m2 0h1m1 0h1m2 0h1m-24 1h1m0 0h1m2 0h1m0 0h1m9 0h1m4 0h1m2 0h1m0 0h1m0 0h1m-22 1h1m7 0h1m0 0h1m3 0h1m3 0h1m1 0h1m-26 1h1m1 0h1m1 0h1m19 0h1m2 0h1m-29 1h1m0 0h1m1 0h1m3 0h1m11 0h1m1 0h1m2 0h1m2 0h1m0 0h1m-32 1h1m2 0h1m0 0h1m0 0h1m18 0h1m1 0h1m5 0h1m0 0h1m-7 1h1m5 0h1m0 0h1m-28 1h1m23 0h1m1 0h1m-36 1h1m0 0h1m0 0h1m0 0h1m24 0h1m2 0h1m-29 1h1m0 0h1m0 0h1m1 0h1m26 0h1m1 0h1m-37 1h1m1 0h1m30 0h1m2 0h1m-5 1h1m1 0h1m1 0h1m0 0h1m-38 1h1m-2 1h1m27 0h1m3 0h1m1 0h1m-35 1h1m0 0h1m3 0h1m27 0h1m-36 1h1m1 0h1m31 0h1m0 0h1m1 0h1m-34 1h1m28 0h1m0 0h1m0 0h1m0 0h1m-2 1h1m-38 1h1m5 0h1m29 0h1m0 0h1m1 0h1m-40 1h1m2 0h1m0 0h1m1 0h1m26 0h1m2 0h1m1 0h1m0 0h1m-40 1h1m0 0h1m2 0h1m34 0h1m-39 1h1m28 0h1m0 0h1m-31 1h1m5 0h1m27 0h1m-33 1h1m29 0h1m0 0h1m-2 1h1m0 0h1m-34 1h1m28 0h1m2 0h1m-33 1h1m25 0h1m2 0h1m0 0h1m0 0h1m0 0h1m0 0h1m-35 1h1m2 0h1m2 0h1m22 0h1m1 0h1m-29 1h1m0 0h1m18 0h1m3 0h1m0 0h1m2 0h1m-32 1h1m5 0h1m19 0h1m5 0h1m-34 1h1m1 0h1m1 0h1m2 0h1m20 0h1m3 0h1m1 0h1m-29 1h1m2 0h1m7 0h1m7 0h1m0 0h1m1 0h1m0 0h1m-29 1h1m8 0h1m8 0h1m4 0h1m2 0h1m1 0h1m1 0h1m-28 1h1m0 0h1m2 0h1m2 0h1m7 0h1m0 0h1m1 0h1m1 0h1m0 0h1m2 0h1m-22 1h1m2 0h1m3 0h1m0 0h1m1 0h1m0 0h1m0 0h1m0 0h1m3 0h1m0 0h1m0 0h1m2 0h1m-19 1h1m3 0h1m9 0h1m1 0h1m-25 1h1m0 0h1m6 0h1m1 0h1m0 0h1m0 0h1m1 0h1m1 0h1m2 0h1m2 0h1m-23 1h1m0 0h1m0 0h1m4 0h1m6 0h1m0 0h1m2 0h1m0 0h1m2 0h1m0 0h1m-21 1h1m1 0h1m1 0h1m0 0h1m2 0h1m2 0h1m2 0h1m-17 1h1m0 0h1m0 0h1m2 0h1m3 0h1m5 0h1m2 0h1m-19 1h1m5 0h1m0 0h1m4 0h1m1 0h1m-10 1h1m2 0h1m1 0h1m3 0h1m1 0h1m-12 1h1m1 0h1m1 0h1m2 0h1m3 0h1m-8 1h1m2 0h1m-4 1h1m-1 1h1m0 0h1m0 0h1" stroke="#005aff" stroke-width="1.3" fill="none"/><path d="M984 926h1m5 0h1m-6 1h1m2 0h1m3 0h1m-9 2h1m1 0h1m4 0h1m0 0h1m-13 1h1m3 0h1m1 0h1m2 0h1m-6 1h1m6 0h1m-10 1h1m1 0h1m3 0h1m2 0h1m0 0h1m1 0h1m-16 1h1m4 0h1m3 0h1m0 0h1m1 0h1m1 0h1m-22 1h1m6 0h1m0 0h1m5 0h1m9 0h1m-25 1h1m5 0h1m0 0h1m4 0h1m7 0h1m-21 1h1m5 0h1m3 0h1m5 0h1m3 0h1m-23 1h1m16 0h1m4 0h1m1 0h1m-25 1h1m1 0h1m0 0h1m3 0h1m4 0h1m8 0h1m1 0h1m-24 1h1m1 0h1m19 0h1m0 0h1m2 0h1m-26 1h1m1 0h1m19 0h1m1 0h1m-29 1h1m1 0h1m1 0h1m20 0h1m-28 1h1m2 0h1m1 0h1m20 0h1m3 0h1m0 0h1m0 0h1m-30 1h1m1 0h1m22 0h1m2 0h1m-31 1h1m1 0h1m0 0h1m23 0h1m0 0h1m1 0h1m-30 1h1m4 0h1m-6 1h1m0 0h1m21 0h1m0 0h1m3 0h1m-28 1h1m27 0h1m-32 1h1m0 0h1m0 0h1m0 0h1m22 0h1m0 0h1m-28 1h1m3 0h1m22 0h1m0 0h1m1 0h1m-30 1h1m0 0h1m0 0h1m20 0h1m0 0h1m-25 1h1m22 0h1m1 0h1m1 0h1m-29 1h1m0 0h1m29 0h1m-7 1h1m1 0h1m0 0h1m-29 1h1m1 0h1m17 0h1m1 0h1m0 0h1m-25 1h1m1 0h1m0 0h1m23 0h1m1 0h1m-27 1h1m1 0h1m15 0h1m0 0h1m5 0h1m-28 1h1m1 0h1m0 0h1m18 0h1m-25 1h1m1 0h1m23 0h1m-24 1h1m0 0h1m10 0h1m3 0h1m6 0h1m1 0h1m-29 1h1m21 0h1m0 0h1m-25 1h1m2 0h1m2 0h1m0 0h1m6 0h1m6 0h1m5 0h1m-27 1h1m0 0h1m0 0h1m0 0h1m1 0h1m2 0h1m0 0h1m0 0h1m1 0h1m2 0h1m0 0h1m1 0h1m3 0h1m0 0h1m0 0h1m-24 1h1m0 0h1m3 0h1m1 0h1m5 0h1m2 0h1m2 0h1m-20 1h1m2 0h1m1 0h1m0 0h1m0 0h1m0 0h1m0 0h1m1 0h1m4 0h1m2 0h1m-19 1h1m1 0h1m1 0h1m0 0h1m9 0h1m0 0h1m0 0h1m1 0h1m-19 1h1m2 0h1m2 0h1m0 0h1m4 0h1m0 0h1m2 0h1m1 0h1m-18 2h1m0 0h1m1 0h1m0 0h1m0 0h1m2 0h1m-4 1h1m-3 2h1" stroke="#00afff" stroke-width="1.3" fill="none"/><path d="M983 931h1m4 0h1m0 0h1m-8 1h1m0 0h1m8 0h1m-12 1h1m2 0h1m-7 1h1m5 0h1m3 0h1m3 0h1m3 0h1m-19 1h1m0 0h1m1 0h1m2 0h1m0 0h1m2 0h1m0 0h1m0 0h1m-14 1h1m5 0h1m2 0h1m0 0h1m1 0h1m3 0h1m-21 1h1m0 0h1m0 0h1m0 0h1m0 0h1m1 0h1m2 0h1m5 0h1m2 0h1m1 0h1m-20 1h1m0 0h1m3 0h1m3 0h1m2 0h1m1 0h1m0 0h1m6 0h1m-27 1h1m19 0h1m0 0h1m0 0h1m2 0h1m2 0h1m-25 1h1m1 0h1m12 0h1m0 0h1m0 0h1m1 0h1m4 0h1m-30 1h1m7 0h1m11 0h1m3 0h1m1 0h1m-26 1h1m1 0h1m15 0h1m2 0h1m1 0h1m-24 1h1m0 0h1m1 0h1m0 0h1m17 0h1m0 0h1m3 0h1m1 0h1m-12 1h1m2 0h1m0 0h1m0 0h1m0 0h1m0 0h1m-29 1h1m0 0h1m20 0h1m-28 1h1m28 0h1m-23 1h1m22 0h1m-27 1h1m0 0h1m1 0h1m1 0h1m19 0h1m0 0h1m-4 1h1m0 0h1m1 0h1m1 0h1m-28 1h1m2 0h1m21 0h1m0 0h1m-6 1h1m0 0h1m2 0h1m-26 1h1m21 0h1m-23 1h1m1 0h1m1 0h1m13 0h1m1 0h1m1 0h1m0 0h1m-29 1h1m3 0h1m1 0h1m0 0h1m1 0h1m15 0h1m0 0h1m0 0h1m-25 1h1m3 0h1m18 0h1m-24 1h1m1 0h1m0 0h1m3 0h1m13 0h1m4 0h1m-28 1h1m2 0h1m0 0h1m1 0h1m0 0h1m11 0h1m2 0h1m1 0h1m-22 1h1m1 0h1m1 0h1m0 0h1m7 0h1m7 0h1m-22 1h1m1 0h1m0 0h1m0 0h1m2 0h1m0 0h1m3 0h1m1 0h1m1 0h1m0 0h1m6 0h1m-25 1h1m0 0h1m2 0h1m3 0h1m2 0h1m0 0h1m0 0h1m0 0h1m5 0h1m-22 1h1m4 0h1m1 0h1m2 0h1m1 0h1m0 0h1m0 0h1m1 0h1m0 0h1m-17 1h1m1 0h1m0 0h1m6 0h1m2 0h1m0 0h1m-11 1h1m0 0h1m4 0h1m3 0h1m-7 2h1m0 0h1m-6 1h1m5 0h1m1 0h1m3 1h1m-14 1h1m12 0h1" stroke="#05fff9" stroke-width="1.3" fill="none"/><path d="M987 929h1m-3 2h1m0 2h1m-7 1h1m3 0h1m0 0h1m1 0h1m0 0h1m-14 1h1m8 0h1m1 0h1m0 0h1m-7 1h1m1 0h1m0 0h1m2 0h1m2 0h1m-13 1h1m3 0h1m1 0h1m0 0h1m1 0h1m1 0h1m-13 1h1m1 0h1m3 0h1m2 0h1m0 0h1m1 0h1m0 0h1m-16 1h1m0 0h1m0 0h1m4 0h1m3 0h1m0 0h1m2 0h1m0 0h1m-16 1h1m2 0h1m8 0h1m0 0h1m1 0h1m0 0h1m-18 1h1m1 0h1m0 0h1m9 0h1m0 0h1m3 0h1m-22 1h1m0 0h1m0 0h1m14 0h1m0 0h1m0 0h1m-21 1h1m2 0h1m13 0h1m3 0h1m0 0h1m-24 1h1m3 0h1m15 0h1m3 0h1m-25 1h1m1 0h1m16 0h1m0 0h1m0 0h1m-2 1h1m0 0h1m-25 1h1m3 0h1m16 0h1m3 0h1m-23 1h1m1 0h1m15 0h1m0 0h1m0 0h1m1 0h1m0 0h1m-24 1h1m1 0h1m14 0h1m0 0h1m0 0h1m1 0h1m-20 1h1m17 0h1m1 0h1m-24 1h1m0 0h1m1 0h1m16 0h1m1 0h1m0 0h1m-25 1h1m0 0h1m0 0h1m14 0h1m2 0h1m0 0h1m-22 1h1m1 0h1m0 0h1m13 0h1m2 0h1m0 0h1m1 0h1m-24 1h1m0 0h1m14 0h1m-18 1h1m1 0h1m0 0h1m14 0h1m-19 1h1m0 0h1m1 0h1m0 0h1m11 0h1m0 0h1m0 0h1m0 0h1m0 0h1m-22 1h1m2 0h1m1 0h1m0 0h1m10 0h1m2 0h1m-20 1h1m0 0h1m0 0h1m0 0h1m4 0h1m2 0h1m0 0h1m0 0h1m2 0h1m2 0h1m-18 1h1m1 0h1m3 0h1m1 0h1m1 0h1m3 0h1m-14 1h1m0 0h1m0 0h1m0 0h1m0 0h1m2 0h1m2 0h1m-10 1h1m0 0h1m1 0h1m1 0h1m2 1h1m0 0h1m-9 1h1m3 0h1m0 0h1m0 0h1m5 0h1" stroke="#5affa4" stroke-width="1.3" fill="none"/><path d="M980 936h1m1 1h1m1 0h1m0 0h1m0 0h1m0 0h1m0 0h1m2 0h1m-14 1h1m3 0h1m0 0h1m1 0h1m-9 1h1m0 0h1m0 0h1m0 0h1m5 0h1m-13 1h1m1 0h1m0 0h1m1 0h1m4 0h1m1 0h1m0 0h1m0 0h1m0 0h1m1 0h1m-20 1h1m0 0h1m0 0h1m0 0h1m0 0h1m1 0h1m0 0h1m0 0h1m2 0h1m1 0h1m0 0h1m0 0h1m1 0h1m-18 1h1m2 0h1m11 0h1m0 0h1m-14 1h1m0 0h1m0 0h1m3 0h1m4 0h1m1 0h1m-15 1h1m10 0h1m1 0h1m0 0h1m0 0h1m2 0h1m-22 1h1m1 0h1m0 0h1m0 0h1m11 0h1m0 0h1m1 0h1m-17 1h1m10 0h1m2 0h1m2 0h1m-21 1h1m1 0h1m14 0h1m0 0h1m1 0h1m-21 1h1m2 0h1m13 0h1m-20 1h1m0 0h1m0 0h1m0 0h1m12 0h1m0 0h1m0 0h1m1 0h1m-20 1h1m2 0h1m12 0h1m1 0h1m0 0h1m-23 1h1m4 0h1m1 0h1m9 0h1m0 0h1m1 0h1m0 0h1m0 0h1m-20 1h1m0 0h1m14 0h1m0 0h1m-19 1h1m0 0h1m0 0h1m0 0h1m10 0h1m1 0h1m1 0h1m-19 1h1m1 0h1m0 0h1m2 0h1m0 0h1m6 0h1m-17 1h1m3 0h1m6 0h1m1 0h1m1 0h1m1 0h1m1 0h1m-18 1h1m1 0h1m1 0h1m0 0h1m1 0h1m1 0h1m1 0h1m1 0h1m0 0h1m0 0h1m-15 1h1m2 0h1m0 0h1m0 0h1m0 0h1m0 0h1m0 0h1m2 0h1m0 0h1m2 0h1m-15 1h1m1 0h1m0 0h1m0 0h1m0 0h1m0 0h1m1 0h1m0 0h1m0 0h1m0 0h1m0 0h1m-12 1h1m1 0h1m1 0h1m-6 1h1m4 0h1m1 0h1m-2 1h1m1 0h1m-5 3h1" stroke="#afff4f" stroke-width="1.3" fill="none"/><path d="M983 936h1m-5 1h1m-1 1h1m3 0h1m0 0h1m1 0h1m-12 1h1m2 0h1m0 0h1m0 0h1m0 0h1m0 0h1m0 0h1m1 0h1m0 0h1m-7 1h1m1 0h1m0 0h1m5 0h1m-15 1h1m0 0h1m2 0h1m1 0h1m1 0h1m1 0h1m0 0h1m0 0h1m0 0h1m-17 1h1m2 0h1m0 0h1m1 0h1m0 0h1m2 0h1m0 0h1m0 0h1m0 0h1m0 0h1m-11 1h1m0 0h1m1 0h1m2 0h1m0 0h1m3 0h1m-15 1h1m0 0h1m0 0h1m0 0h1m9 0h1m0 0h1m1 0h1m-17 1h1m0 0h1m1 0h1m8 0h1m5 0h1m-21 1h1m0 0h1m0 0h1m2 0h1m2 0h1m3 0h1m1 0h1m0 0h1m-17 1h1m1 0h1m0 0h1m11 0h1m0 0h1m1 0h1m0 0h1m-16 1h1m10 0h1m0 0h1m1 0h1m2 0h1m-22 1h1m1 0h1m0 0h1m11 0h1m0 0h1m-17 1h1m1 0h1m0 0h1m13 0h1m0 0h1m-19 1h1m2 0h1m0 0h1m8 0h1m0 0h1m-14 1h1m0 0h1m0 0h1m0 0h1m0 0h1m0 0h1m2 0h1m1 0h1m0 0h1m3 0h1m-14 1h1m1 0h1m5 0h1m0 0h1m0 0h1m2 0h1m-17 1h1m2 0h1m0 0h1m1 0h1m0 0h1m1 0h1m0 0h1m1 0h1m-10 1h1m0 0h1m0 0h1m0 0h1m2 0h1m-5 1h1m0 0h1m1 0h1m0 0h1m4 0h1m-11 1h1m1 0h1m0 0h1m0 0h1m-7 1h1m1 0h1m4 0h1m-8 1h1m2 0h1m3 0h1m-5 1h1" stroke="#fff900" stroke-width="1.3" fill="none"/><path d="M984 936h1m-5 3h1m0 0h1m0 0h1m0 0h1m0 0h1m-2 1h1m-7 1h1m1 0h1m0 0h1m1 0h1m-8 1h1m1 0h1m0 0h1m1 0h1m0 0h1m0 0h1m0 0h1m-9 1h1m0 0h1m0 0h1m2 0h1m0 0h1m2 0h1m2 0h1m0 0h1m-16 1h1m1 0h1m1 0h1m0 0h1m2 0h1m0 0h1m1 0h1m-10 1h1m0 0h1m1 0h1m0 0h1m2 0h1m0 0h1m0 0h1m0 0h1m2 0h1m-16 1h1m2 0h1m0 0h1m2 0h1m2 0h1m1 0h1m2 0h1m-17 1h1m1 0h1m1 0h1m6 0h1m0 0h1m0 0h1m1 0h1m-13 1h1m0 0h1m7 0h1m1 0h1m1 0h1m-17 1h1m0 0h1m0 0h1m3 0h1m0 0h1m3 0h1m1 0h1m-14 1h1m2 0h1m0 0h1m0 0h1m2 0h1m2 0h1m0 0h1m1 0h1m-14 1h1m0 0h1m1 0h1m0 0h1m2 0h1m0 0h1m1 0h1m0 0h1m1 0h1m-14 1h1m1 0h1m0 0h1m0 0h1m3 0h1m0 0h1m0 0h1m0 0h1m-10 1h1m4 0h1m0 0h1m0 0h1m-10 1h1m0 0h1m0 0h1m1 0h1m0 0h1m1 0h1m3 0h1m-10 1h1m0 0h1m0 0h1m0 0h1m2 0h1m0 0h1m0 0h1m-10 1h1m2 0h1m0 0h1m0 0h1m0 0h1m0 0h1m-10 1h1m0 0h1m0 0h1m1 0h1m-3 1h1m2 0h1m1 1h1" stroke="#ffa400" stroke-width="1.3" fill="none"/><path d="M984 940h1m-4 1h1m4 0h1m-8 1h1m0 0h1m0 0h1m1 0h1m1 0h1m-8 1h1m2 0h1m2 0h1m-8 1h1m0 0h1m0 0h1m1 0h1m0 0h1m0 0h1m0 0h1m-9 1h1m2 0h1m0 0h1m0 0h1m0 0h1m0 0h1m0 0h1m-13 1h1m3 0h1m1 0h1m1 0h1m2 0h1m0 0h1m-11 1h1m1 0h1m0 0h1m1 0h1m0 0h1m1 0h1m1 0h1m1 0h1m-12 1h1m2 0h1m0 0h1m1 0h1m0 0h1m0 0h1m0 0h1m-13 1h1m2 0h1m1 0h1m5 0h1m-8 1h1m1 0h1m0 0h1m0 0h1m0 0h1m0 0h1m0 0h1m0 0h1m-9 1h1m0 0h1m0 0h1m0 0h1m0 0h1m0 0h1m1 0h1m2 0h1m-12 1h1m1 0h1m0 0h1m1 0h1m0 0h1m-9 1h1m0 0h1m0 0h1m0 0h1m0 0h1m0 0h1m0 0h1m0 0h1m-5 1h1m4 0h1m-6 1h1m2 0h1m-2 1h1" stroke="#ff4f00" stroke-width="1.3" fill="none"/><path d="M978 941h1m2 1h1m-4 1h1m2 0h1m-5 1h1m0 0h1m0 0h1m1 0h1m-5 1h1m2 0h1m1 0h1m1 0h1m-10 1h1m2 0h1m0 0h1m0 0h1m0 0h1m0 0h1m-7 1h1m0 0h1m0 0h1m0 0h1m0 0h1m0 0h1m1 0h1m0 0h1m-11 1h1m0 0h1m1 0h1m0 0h1m0 0h1m0 0h1m0 0h1m2 0h1m-11 1h1m1 0h1m0 0h1m1 0h1m0 0h1m0 0h1m-7 1h1m1 0h1m0 0h1m0 0h1m0 0h1m1 0h1m-6 1h1m1 0h1m1 0h1m0 0h1m-7 1h1m1 0h1m-2 1h1m0 0h1m0 3h1" stroke="#f90000" stroke-width="1.3" fill="none"/></g><g clip-path="url(#clipD10)"><path d="M274 1107h1m0 0h1m2 1h1m1 0h1m-1 1h1m-13 1h1m11 1h1m-1 1h1m-5 1h1m-3 2h1m4 1h1m-5 1h1m-6 1h1m4 1h1m-4 1h1m-5 1h1m5 0h1m1 0h1m-8 1h1m5 1h1m-5 1h1m10 0h1m-12 1h1m-2 1h1m5 1h1m2 1h1m-7 1h1m2 1h1m-4 1h1m2 0h1m1 0h1m-11 1h1m4 0h1m0 0h1m-4 1h1m4 0h1m3 0h1m-12 2h1m6 0h1m2 1h1m-14 1h1m3 0h1m0 0h1m0 1h1m0 0h1m1 0h1m0 0h1m0 0h1m-9 2h1m1 0h1m0 0h1m-5 1h1m0 0h1m0 1h1m7 0h1m-12 1h1m11 0h1m-6 1h1m-2 3h1m-1 1h1m-1 1h1m-5 1h1m0 0h1m4 0h1m0 0h1m1 0h1m-7 1h1m-9 1h1m10 0h1m1 0h1m-13 1h1m12 0h1m-10 1h1m4 0h1m0 0h1m-11 1h1m2 0h1m1 0h1m1 0h1m0 0h1m3 1h1m-12 1h1m1 1h1m1 0h1m2 1h1m1 0h1m-13 2h1m4 0h1m2 0h1m1 0h1m-7 1h1m0 0h1m6 1h1m-11 1h1m-1 1h1m0 1h1m1 1h1m-2 1h1m0 0h1m3 1h1m-4 1h1m-3 1h1m0 0h1m0 0h1m3 0h1m-7 1h1m-2 1h1m1 0h1m2 0h1m-7 1h1m10 0h1m-6 1h1m0 0h1m1 0h1m-8 1h1m1 0h1m1 1h1m5 0h1m-56 1h1m49 1h1m-8 1h1m12 0h1m-17 1h1m5 0h1m-8 2h1m5 0h1m2 0h1m-7 1h1m7 1h1m-52 1h1m43 0h1m-34 1h1m32 0h1m0 0h1m0 0h1m0 0h1m2 0h1m-122 1h1m112 0h1m2 0h1m-52 1h1m52 0h1m0 0h1m-146 1h1m145 0h1m0 0h1m-7 1h1m5 0h1m-52 1h1m11 0h1m27 0h1m12 0h1m-65 1h1m-28 1h1m23 0h1m65 0h1m-124 1h1m62 0h1m2 0h1m16 0h1m30 0h1m2 0h1m-63 1h1m66 0h1m-6 1h1m0 0h1m4 0h1m-49 1h1m39 0h1m1 0h1m-85 1h1m37 0h1m1 0h1m0 0h1m39 0h1m1 0h1m4 0h1m4 0h1m-60 1h1m20 0h1m9 1h1m8 0h1m3 0h1m0 0h1m5 0h1m-85 1h1m88 0h1m-103 1h1m44 0h1m16 0h1m11 0h1m20 0h1m-134 1h1m42 0h1m42 0h1m27 0h1m20 0h1m-92 1h1m17 0h1m9 0h1m30 0h1m5 0h1m2 0h1m30 0h1m-99 1h1m8 0h1m7 0h1m17 0h1m52 0h1m3 0h1m0 0h1m-69 1h1m26 0h1m-34 1h1m60 0h1m1 0h1m2 0h1m1 0h1m-60 1h1m7 0h1m-59 1h1m60 0h1m1 0h1m28 0h1m-73 1h1m16 0h1m18 0h1m-1 1h1m28 0h1m-36 1h1m6 0h1m19 0h1m28 0h1m1 0h1m1 0h1m0 0h1m3 0h1m-45 1h1m3 0h1m21 0h1m14 0h1m-100 1h1m41 0h1m26 0h1m20 0h1m-101 1h1m5 0h1m36 0h1m3 0h1m0 0h1m13 0h1m1 0h1m30 0h1m-89 1h1m9 0h1m61 0h1m3 0h1m2 0h1m13 0h1m1 0h1m-128 1h1m13 0h1m11 0h1m5 0h1m0 0h1m8 0h1m0 0h1m13 0h1m0 0h1m8 0h1m0 0h1m1 0h1m6 0h1m4 0h1m6 0h1m3 0h1m35 0h1m-120 1h1m0 0h1m6 0h1m6 0h1m11 0h1m1 0h1m1 0h1m7 0h1m8 0h1m0 0h1m7 0h1m8 0h1m9 0h1m2 0h1m24 0h1m1 0h1m0 0h1m9 0h1m-139 1h1m0 0h1m1 0h1m1 0h1m9 0h1m17 0h1m4 0h1m8 0h1m11 0h1m11 0h1m1 0h1m2 0h1m0 0h1m3 0h1m6 0h1m9 0h1m11 0h1m11 0h1m28 0h1m-181 1h1m23 0h1m18 0h1m2 0h1m2 0h1m6 0h1m1 0h1m1 0h1m17 0h1m5 0h1m4 0h1m1 0h1m3 0h1m14 0h1m1 0h1m1 0h1m1 0h1m1 0h1m10 0h1m8 0h1m21 0h1m12 0h1m-123 1h1m15 0h1m0 0h1m0 0h1m2 0h1m3 0h1m13 0h1m0 0h1m2 0h1m9 0h1m1 0h1m7 0h1m8 0h1m15 0h1m3 0h1m8 0h1m8 0h1m2 0h1m7 0h1m1 0h1m18 0h1m-166 1h1m18 0h1m3 0h1m15 0h1m0 0h1m12 0h1m24 0h1m3 0h1m0 0h1m12 0h1m3 0h1m4 0h1m1 0h1m7 0h1m2 0h1m8 0h1m1 0h1m9 0h1m2 0h1m-132 1h1m5 0h1m9 0h1m2 0h1m0 0h1m2 0h1m22 0h1m7 0h1m32 0h1m0 0h1m3 0h1m0 0h1m2 0h1m7 0h1m7 0h1m4 0h1m2 0h1m1 0h1m-134 1h1m4 0h1m10 0h1m6 0h1m16 0h1m0 0h1m12 0h1m21 0h1m18 0h1m0 0h1m12 0h1m4 0h1m1 0h1m3 0h1m0 0h1m2 0h1m13 0h1m3 0h1m1 0h1m-148 1h1m10 0h1m3 0h1m4 0h1m3 0h1m0 0h1m14 0h1m43 0h1m7 0h1m3 0h1m19 0h1m1 0h1m3 0h1m3 0h1m7 0h1m1 0h1m3 0h1m2 0h1m0 0h1m2 0h1m1 0h1m-179 1h1m27 0h1m11 0h1m0 0h1m6 0h1m6 0h1m74 0h1m11 0h1m4 0h1m10 0h1m1 0h1m0 0h1m17 0h1m0 0h1m-190 1h1m17 0h1m3 0h1m1 0h1m13 0h1m11 0h1m8 0h1m7 0h1m2 0h1m4 0h1m66 0h1m16 0h1m0 0h1m3 0h1m5 0h1m18 0h1m-172 1h1m20 0h1m7 0h1m3 0h1m1 0h1m0 0h1m12 0h1m3 0h1m74 0h1m1 0h1m1 0h1m11 0h1m3 0h1m1 0h1m0 0h1m6 0h1m6 0h1m-160 1h1m9 0h1m3 0h1m0 0h1m2 0h1m2 0h1m5 0h1m2 0h1m10 0h1m81 0h1m20 0h1m0 0h1m0 0h1m8 0h1m8 0h1m-169 1h1m17 0h1m1 0h1m3 0h1m4 0h1m10 0h1m1 0h1m1 0h1m79 0h1m8 0h1m0 0h1m2 0h1m14 0h1m0 0h1m8 0h1m8 0h1m-157 1h1m1 0h1m7 0h1m3 0h1m4 0h1m99 0h1m12 0h1m2 0h1m3 0h1m0 0h1m6 0h1m9 0h1m12 0h1m-192 1h1m3 0h1m15 0h1m4 0h1m8 0h1m11 0h1m91 0h1m0 0h1m15 0h1m4 0h1m2 0h1m2 0h1m0 0h1m37 0h1m-224 1h1m19 0h1m21 0h1m3 0h1m19 0h1m1 0h1m90 0h1m16 0h1m1 0h1m2 0h1m10 0h1m-163 1h1m4 0h1m8 0h1m6 0h1m1 0h1m107 0h1m2 0h1m8 0h1m12 0h1m5 0h1m-154 1h1m6 0h1m2 0h1m1 0h1m0 0h1m9 0h1m97 0h1m1 0h1m1 0h1m12 0h1m1 0h1m2 0h1m0 0h1m0 0h1m6 0h1m2 0h1m1 0h1m-160 1h1m0 0h1m1 0h1m5 0h1m5 0h1m18 0h1m82 0h1m1 0h1m12 0h1m1 0h1m3 0h1m0 0h1m10 0h1m6 0h1m14 0h1m-197 1h1m12 0h1m13 0h1m5 0h1m0 0h1m5 0h1m108 0h1m7 0h1m4 0h1m2 0h1m9 0h1m-175 1h1m22 0h1m3 0h1m0 0h1m1 0h1m1 0h1m6 0h1m0 0h1m11 0h1m102 0h1m0 0h1m0 0h1m0 0h1m2 0h1m8 0h1m8 0h1m-203 1h1m38 0h1m2 0h1m0 0h1m1 0h1m0 0h1m4 0h1m2 0h1m2 0h1m4 0h1m1 0h1m0 0h1m2 0h1m8 0h1m74 0h1m4 0h1m1 0h1m1 0h1m2 0h1m3 0h1m0 0h1m6 0h1m1 0h1m5 0h1m5 0h1m1 0h1m4 0h1m7 0h1m-176 1h1m4 0h1m14 0h1m2 0h1m1 0h1m2 0h1m3 0h1m3 0h1m91 0h1m29 0h1m33 0h1m-189 1h1m8 0h1m12 0h1m5 0h1m112 0h1m4 0h1m1 0h1m11 0h1m1 0h1m2 0h1m7 0h1m-162 1h1m7 0h1m10 0h1m1 0h1m3 0h1m2 0h1m8 0h1m12 0h1m80 0h1m5 0h1m5 0h1m11 0h1m41 0h1m-187 1h1m2 0h1m8 0h1m3 0h1m26 0h1m75 0h1m2 0h1m2 0h1m0 0h1m37 0h1m-188 1h1m13 0h1m10 0h1m3 0h1m4 0h1m9 0h1m0 0h1m8 0h1m2 0h1m7 0h1m2 0h1m6 0h1m34 0h1m11 0h1m6 0h1m2 0h1m0 0h1m0 0h1m5 0h1m2 0h1m5 0h1m1 0h1m-148 1h1m18 0h1m12 0h1m1 0h1m18 0h1m0 0h1m3 0h1m0 0h1m6 0h1m35 0h1m14 0h1m2 0h1m0 0h1m0 0h1m1 0h1m5 0h1m1 0h1m2 0h1m1 0h1m5 0h1m-123 1h1m4 0h1m3 0h1m7 0h1m5 0h1m4 0h1m24 0h1m48 0h1m2 0h1m1 0h1m1 0h1m1 0h1m1 0h1m3 0h1m1 0h1m-110 1h1m3 0h1m17 0h1m1 0h1m4 0h1m53 0h1m5 0h1m6 0h1m3 0h1m4 0h1m8 0h1m-129 1h1m20 0h1m4 0h1m0 0h1m7 0h1m4 0h1m9 0h1m17 0h1m0 0h1m25 0h1m8 0h1m4 0h1m0 0h1m10 0h1m-129 1h1m19 0h1m13 0h1m2 0h1m1 0h1m5 0h1m3 0h1m2 0h1m1 0h1m1 0h1m4 0h1m11 0h1m2 0h1m9 0h1m9 0h1m2 0h1m1 0h1m9 0h1m1 0h1m12 0h1m-93 1h1m0 0h1m4 0h1m16 0h1m5 0h1m5 0h1m3 0h1m7 0h1m1 0h1m2 0h1m21 0h1m0 0h1m0 0h1m-90 1h1m1 0h1m3 0h1m3 0h1m13 0h1m21 0h1m7 0h1m14 0h1m0 0h1m2 0h1m5 0h1m8 0h1m4 0h1m4 0h1m-92 1h1m12 0h1m0 0h1m8 0h1m20 0h1m16 0h1m9 0h1m16 0h1m6 0h1m18 0h1m-130 1h1m27 0h1m6 0h1m15 0h1m14 0h1m23 0h1m8 0h1m8 0h1m7 0h1m-88 1h1m10 0h1m58 0h1m-77 1h1m34 0h1m-59 1h1m4 0h1m74 0h1m56 0h1" stroke="#0005ff" stroke-width="1.3" fill="none"/><path d="M169 1222h1m26 0h1m14 0h1m3 0h1m-50 1h1m2 0h1m0 0h1m1 0h1m11 0h1m2 0h1m1 0h1m2 0h1m1 0h1m0 0h1m19 0h1m-50 1h1m1 0h1m0 0h1m0 0h1m1 0h1m0 0h1m7 0h1m0 0h1m2 0h1m4 0h1m1 0h1m3 0h1m0 0h1m3 0h1m0 0h1m0 0h1m3 0h1m0 0h1m0 0h1m-64 1h1m0 0h1m1 0h1m0 0h1m1 0h1m0 0h1m2 0h1m0 0h1m10 0h1m0 0h1m2 0h1m4 0h1m1 0h1m0 0h1m4 0h1m0 0h1m2 0h1m0 0h1m9 0h1m1 0h1m0 0h1m2 0h1m4 0h1m6 0h1m0 0h1m6 0h1m2 0h1m-83 1h1m2 0h1m0 0h1m4 0h1m2 0h1m0 0h1m10 0h1m1 0h1m0 0h1m6 0h1m3 0h1m4 0h1m2 0h1m0 0h1m8 0h1m3 0h1m0 0h1m1 0h1m0 0h1m2 0h1m1 0h1m0 0h1m8 0h1m1 0h1m0 0h1m-90 1h1m2 0h1m1 0h1m2 0h1m3 0h1m3 0h1m5 0h1m1 0h1m4 0h1m1 0h1m4 0h1m2 0h1m7 0h1m6 0h1m2 0h1m12 0h1m5 0h1m1 0h1m1 0h1m4 0h1m0 0h1m-85 1h1m7 0h1m1 0h1m1 0h1m4 0h1m6 0h1m42 0h1m8 0h1m5 0h1m0 0h1m1 0h1m-87 1h1m1 0h1m3 0h1m8 0h1m10 0h1m41 0h1m15 0h1m1 0h1m5 0h1m0 0h1m-96 1h1m5 0h1m78 0h1m1 0h1m1 0h1m3 0h1m0 0h1m3 0h1m0 0h1m0 0h1m3 0h1m1 0h1m-109 1h1m1 0h1m0 0h1m2 0h1m11 0h1m54 0h1m4 0h1m2 0h1m1 0h1m10 0h1m0 0h1m3 0h1m5 0h1m0 0h1m3 0h1m-118 1h1m3 0h1m0 0h1m4 0h1m3 0h1m0 0h1m5 0h1m75 0h1m3 0h1m1 0h1m2 0h1m0 0h1m0 0h1m1 0h1m0 0h1m0 0h1m1 0h1m0 0h1m0 0h1m-116 1h1m3 0h1m0 0h1m0 0h1m5 0h1m84 0h1m4 0h1m5 0h1m1 0h1m0 0h1m2 0h1m-113 1h1m0 0h1m1 0h1m1 0h1m0 0h1m11 0h1m83 0h1m6 0h1m1 0h1m-113 1h1m0 0h1m9 0h1m0 0h1m2 0h1m1 0h1m79 0h1m0 0h1m6 0h1m3 0h1m2 0h1m-114 1h1m1 0h1m6 0h1m0 0h1m0 0h1m1 0h1m81 0h1m1 0h1m2 0h1m2 0h1m2 0h1m1 0h1m3 0h1m1 0h1m0 0h1m0 0h1m-117 1h1m0 0h1m1 0h1m0 0h1m0 0h1m13 0h1m0 0h1m70 0h1m2 0h1m2 0h1m3 0h1m1 0h1m0 0h1m1 0h1m2 0h1m0 0h1m4 0h1m0 0h1m-118 1h1m0 0h1m0 0h1m2 0h1m0 0h1m2 0h1m1 0h1m1 0h1m80 0h1m0 0h1m6 0h1m3 0h1m3 0h1m0 0h1m0 0h1m-105 1h1m0 0h1m0 0h1m82 0h1m4 0h1m6 0h1m0 0h1m3 0h1m0 0h1m0 0h1m-108 1h1m3 0h1m1 0h1m3 0h1m4 0h1m0 0h1m1 0h1m0 0h1m55 0h1m9 0h1m14 0h1m1 0h1m1 0h1m0 0h1m-104 1h1m1 0h1m2 0h1m1 0h1m3 0h1m64 0h1m2 0h1m4 0h1m0 0h1m0 0h1m4 0h1m5 0h1m2 0h1m0 0h1m0 0h1m-95 1h1m2 0h1m1 0h1m1 0h1m3 0h1m22 0h1m19 0h1m10 0h1m6 0h1m0 0h1m0 0h1m0 0h1m6 0h1m0 0h1m0 0h1m0 0h1m3 0h1m0 0h1m0 0h1m-94 1h1m1 0h1m0 0h1m2 0h1m1 0h1m0 0h1m1 0h1m0 0h1m9 0h1m2 0h1m3 0h1m27 0h1m9 0h1m0 0h1m1 0h1m4 0h1m6 0h1m2 0h1m1 0h1m2 0h1m-92 1h1m3 0h1m5 0h1m3 0h1m1 0h1m5 0h1m4 0h1m33 0h1m1 0h1m2 0h1m3 0h1m1 0h1m2 0h1m0 0h1m0 0h1m8 0h1m0 0h1m3 0h1m1 0h1m1 0h1m-91 1h1m5 0h1m16 0h1m10 0h1m3 0h1m1 0h1m1 0h1m3 0h1m2 0h1m2 0h1m0 0h1m2 0h1m2 0h1m10 0h1m1 0h1m-72 1h1m13 0h1m1 0h1m4 0h1m0 0h1m0 0h1m0 0h1m6 0h1m3 0h1m3 0h1m1 0h1m5 0h1m6 0h1m4 0h1m6 0h1m3 0h1m2 0h1m-58 1h1m9 0h1m1 0h1m0 0h1m5 0h1m2 0h1m1 0h1m10 0h1m0 0h1m4 0h1m0 0h1m1 0h1m2 0h1m0 0h1m-45 1h1m4 0h1m0 0h1m0 0h1m8 0h1m0 0h1m0 0h1m1 0h1m0 0h1m7 0h1m0 0h1m7 0h1m0 0h1m0 0h1m0 0h1m-40 1h1m1 0h1m4 0h1m5 0h1m1 0h1m3 0h1m2 0h1m3 0h1m3 0h1m8 0h1" stroke="#005aff" stroke-width="1.3" fill="none"/><path d="M174 1223h1m3 0h1m23 0h1m-31 1h1m11 0h1m19 0h1m1 0h1m-49 1h1m0 0h1m2 0h1m9 0h1m4 0h1m1 0h1m1 0h1m4 0h1m0 0h1m11 0h1m2 0h1m1 0h1m1 0h1m0 0h1m4 0h1m3 0h1m-51 1h1m2 0h1m5 0h1m1 0h1m0 0h1m0 0h1m3 0h1m0 0h1m0 0h1m1 0h1m0 0h1m1 0h1m4 0h1m7 0h1m3 0h1m-63 1h1m13 0h1m2 0h1m0 0h1m3 0h1m0 0h1m1 0h1m11 0h1m0 0h1m3 0h1m4 0h1m7 0h1m1 0h1m0 0h1m3 0h1m4 0h1m2 0h1m2 0h1m6 0h1m-71 1h1m0 0h1m1 0h1m1 0h1m0 0h1m5 0h1m2 0h1m1 0h1m18 0h1m3 0h1m1 0h1m1 0h1m1 0h1m6 0h1m3 0h1m2 0h1m-71 1h1m2 0h1m4 0h1m1 0h1m5 0h1m0 0h1m1 0h1m2 0h1m3 0h1m0 0h1m4 0h1m14 0h1m2 0h1m3 0h1m7 0h1m2 0h1m4 0h1m3 0h1m0 0h1m0 0h1m4 0h1m2 0h1m1 0h1m-89 1h1m3 0h1m1 0h1m1 0h1m6 0h1m0 0h1m2 0h1m53 0h1m3 0h1m0 0h1m8 0h1m1 0h1m1 0h1m-93 1h1m2 0h1m1 0h1m3 0h1m1 0h1m0 0h1m6 0h1m54 0h1m1 0h1m0 0h1m1 0h1m0 0h1m2 0h1m0 0h1m0 0h1m7 0h1m-93 1h1m1 0h1m5 0h1m2 0h1m9 0h1m5 0h1m49 0h1m0 0h1m1 0h1m0 0h1m0 0h1m0 0h1m0 0h1m-90 1h1m1 0h1m5 0h1m0 0h1m2 0h1m2 0h1m3 0h1m55 0h1m5 0h1m0 0h1m2 0h1m4 0h1m4 0h1m0 0h1m3 0h1m-95 1h1m1 0h1m2 0h1m4 0h1m60 0h1m4 0h1m0 0h1m0 0h1m0 0h1m1 0h1m2 0h1m2 0h1m0 0h1m3 0h1m-99 1h1m3 0h1m2 0h1m0 0h1m1 0h1m0 0h1m0 0h1m63 0h1m1 0h1m0 0h1m1 0h1m3 0h1m2 0h1m10 0h1m3 0h1m-106 1h1m3 0h1m1 0h1m76 0h1m0 0h1m0 0h1m2 0h1m0 0h1m0 0h1m-84 1h1m0 0h1m6 0h1m0 0h1m0 0h1m5 0h1m57 0h1m4 0h1m3 0h1m3 0h1m-88 1h1m1 0h1m4 0h1m0 0h1m0 0h1m0 0h1m5 0h1m60 0h1m3 0h1m0 0h1m0 0h1m1 0h1m7 0h1m-98 1h1m0 0h1m0 0h1m4 0h1m1 0h1m0 0h1m1 0h1m59 0h1m1 0h1m0 0h1m5 0h1m1 0h1m0 0h1m-71 1h1m8 0h1m1 0h1m0 0h1m1 0h1m38 0h1m6 0h1m6 0h1m0 0h1m0 0h1m4 0h1m6 0h1m1 0h1m-95 1h1m4 0h1m3 0h1m0 0h1m0 0h1m11 0h1m6 0h1m34 0h1m5 0h1m1 0h1m0 0h1m1 0h1m7 0h1m1 0h1m8 0h1m-93 1h1m3 0h1m1 0h1m3 0h1m3 0h1m1 0h1m7 0h1m4 0h1m1 0h1m7 0h1m6 0h1m1 0h1m14 0h1m3 0h1m3 0h1m0 0h1m0 0h1m-69 1h1m6 0h1m0 0h1m0 0h1m0 0h1m0 0h1m3 0h1m4 0h1m1 0h1m2 0h1m22 0h1m8 0h1m1 0h1m0 0h1m0 0h1m0 0h1m0 0h1m4 0h1m0 0h1m-71 1h1m1 0h1m9 0h1m2 0h1m1 0h1m1 0h1m2 0h1m24 0h1m5 0h1m2 0h1m7 0h1m1 0h1m0 0h1m1 0h1m-62 1h1m2 0h1m1 0h1m1 0h1m2 0h1m6 0h1m5 0h1m3 0h1m0 0h1m5 0h1m1 0h1m5 0h1m1 0h1m7 0h1m2 0h1m-51 1h1m0 0h1m20 0h1m6 0h1m2 0h1m4 0h1m6 0h1m7 0h1m-20 1h1m1 0h1m0 0h1" stroke="#00afff" stroke-width="1.3" fill="none"/><path d="M200 1224h1m-27 1h1m0 0h1m0 0h1m2 0h1m5 0h1m12 0h1m5 0h1m10 0h1m-48 1h1m3 0h1m0 0h1m4 0h1m4 0h1m0 0h1m12 0h1m4 0h1m-57 1h1m17 0h1m0 0h1m4 0h1m4 0h1m7 0h1m2 0h1m3 0h1m4 0h1m2 0h1m0 0h1m15 0h1m1 0h1m-59 1h1m2 0h1m4 0h1m1 0h1m2 0h1m0 0h1m0 0h1m11 0h1m0 0h1m0 0h1m1 0h1m3 0h1m4 0h1m3 0h1m3 0h1m3 0h1m2 0h1m0 0h1m2 0h1m-54 1h1m3 0h1m0 0h1m4 0h1m0 0h1m3 0h1m11 0h1m1 0h1m1 0h1m0 0h1m1 0h1m0 0h1m1 0h1m0 0h1m0 0h1m1 0h1m1 0h1m0 0h1m1 0h1m0 0h1m0 0h1m0 0h1m1 0h1m5 0h1m-78 1h1m8 0h1m9 0h1m5 0h1m3 0h1m19 0h1m2 0h1m5 0h1m9 0h1m0 0h1m1 0h1m2 0h1m-67 1h1m1 0h1m2 0h1m0 0h1m1 0h1m2 0h1m0 0h1m0 0h1m24 0h1m19 0h1m2 0h1m2 0h1m3 0h1m4 0h1m-71 1h1m0 0h1m1 0h1m2 0h1m0 0h1m4 0h1m39 0h1m1 0h1m2 0h1m0 0h1m2 0h1m6 0h1m-77 1h1m0 0h1m1 0h1m1 0h1m0 0h1m2 0h1m0 0h1m2 0h1m1 0h1m0 0h1m5 0h1m47 0h1m4 0h1m3 0h1m2 0h1m-86 1h1m4 0h1m3 0h1m1 0h1m0 0h1m0 0h1m2 0h1m5 0h1m48 0h1m0 0h1m0 0h1m0 0h1m0 0h1m1 0h1m0 0h1m13 0h1m-100 1h1m4 0h1m0 0h1m2 0h1m0 0h1m0 0h1m0 0h1m0 0h1m2 0h1m1 0h1m4 0h1m54 0h1m2 0h1m1 0h1m1 0h1m1 0h1m5 0h1m-87 1h1m1 0h1m2 0h1m0 0h1m0 0h1m3 0h1m53 0h1m2 0h1m0 0h1m5 0h1m2 0h1m0 0h1m0 0h1m3 0h1m-84 1h1m1 0h1m3 0h1m2 0h1m10 0h1m44 0h1m0 0h1m0 0h1m3 0h1m0 0h1m0 0h1m0 0h1m-71 1h1m1 0h1m3 0h1m0 0h1m2 0h1m3 0h1m6 0h1m39 0h1m3 0h1m2 0h1m0 0h1m0 0h1m0 0h1m-73 1h1m7 0h1m1 0h1m3 0h1m4 0h1m39 0h1m0 0h1m4 0h1m3 0h1m0 0h1m1 0h1m0 0h1m1 0h1m3 0h1m-77 1h1m1 0h1m1 0h1m0 0h1m1 0h1m1 0h1m0 0h1m0 0h1m1 0h1m0 0h1m4 0h1m37 0h1m0 0h1m0 0h1m0 0h1m2 0h1m1 0h1m0 0h1m0 0h1m0 0h1m2 0h1m-73 1h1m0 0h1m3 0h1m1 0h1m0 0h1m0 0h1m2 0h1m2 0h1m2 0h1m0 0h1m33 0h1m2 0h1m0 0h1m1 0h1m0 0h1m12 0h1m-71 1h1m0 0h1m0 0h1m9 0h1m1 0h1m0 0h1m0 0h1m4 0h1m0 0h1m14 0h1m1 0h1m1 0h1m2 0h1m0 0h1m0 0h1m0 0h1m3 0h1m0 0h1m1 0h1m2 0h1m1 0h1m4 0h1m-65 1h1m6 0h1m7 0h1m1 0h1m4 0h1m1 0h1m5 0h1m4 0h1m1 0h1m1 0h1m2 0h1m1 0h1m0 0h1m0 0h1m0 0h1m5 0h1m1 0h1m1 0h1m6 0h1m-66 1h1m14 0h1m9 0h1m7 0h1m0 0h1m4 0h1m5 0h1m0 0h1m3 0h1m2 0h1m12 0h1m-39 1h1m0 0h1m23 0h1m-51 1h1m17 0h1m6 0h1m6 0h1m-19 1h1m14 0h1" stroke="#05fff9" stroke-width="1.3" fill="none"/><path d="M199 1226h1m-21 1h1m4 0h1m7 0h1m2 0h1m0 0h1m2 0h1m7 0h1m6 0h1m-50 1h1m10 0h1m2 0h1m0 0h1m2 0h1m0 0h1m0 0h1m0 0h1m1 0h1m0 0h1m3 0h1m2 0h1m1 0h1m1 0h1m7 0h1m-48 1h1m6 0h1m10 0h1m3 0h1m2 0h1m0 0h1m6 0h1m4 0h1m1 0h1m7 0h1m2 0h1m6 0h1m-67 1h1m4 0h1m5 0h1m0 0h1m0 0h1m2 0h1m1 0h1m2 0h1m0 0h1m8 0h1m7 0h1m7 0h1m0 0h1m1 0h1m1 0h1m3 0h1m3 0h1m2 0h1m-59 1h1m2 0h1m0 0h1m0 0h1m2 0h1m0 0h1m2 0h1m0 0h1m0 0h1m4 0h1m9 0h1m2 0h1m0 0h1m0 0h1m7 0h1m1 0h1m0 0h1m0 0h1m0 0h1m0 0h1m1 0h1m0 0h1m0 0h1m0 0h1m0 0h1m0 0h1m13 0h1m-76 1h1m7 0h1m0 0h1m0 0h1m2 0h1m2 0h1m6 0h1m14 0h1m10 0h1m4 0h1m1 0h1m1 0h1m0 0h1m3 0h1m0 0h1m1 0h1m-68 1h1m4 0h1m2 0h1m0 0h1m1 0h1m0 0h1m5 0h1m4 0h1m25 0h1m4 0h1m3 0h1m1 0h1m0 0h1m1 0h1m2 0h1m0 0h1m0 0h1m1 0h1m-72 1h1m2 0h1m0 0h1m1 0h1m1 0h1m2 0h1m0 0h1m3 0h1m0 0h1m0 0h1m1 0h1m29 0h1m5 0h1m2 0h1m1 0h1m2 0h1m0 0h1m1 0h1m1 0h1m-66 1h1m3 0h1m0 0h1m1 0h1m46 0h1m0 0h1m3 0h1m0 0h1m0 0h1m5 0h1m-71 1h1m0 0h1m0 0h1m0 0h1m1 0h1m5 0h1m3 0h1m1 0h1m38 0h1m0 0h1m3 0h1m0 0h1m5 0h1m0 0h1m2 0h1m-69 1h1m2 0h1m1 0h1m0 0h1m0 0h1m0 0h1m4 0h1m34 0h1m4 0h1m1 0h1m0 0h1m-63 1h1m0 0h1m2 0h1m0 0h1m0 0h1m2 0h1m1 0h1m4 0h1m0 0h1m2 0h1m21 0h1m11 0h1m1 0h1m5 0h1m0 0h1m5 0h1m-61 1h1m0 0h1m1 0h1m0 0h1m0 0h1m2 0h1m2 0h1m3 0h1m28 0h1m1 0h1m1 0h1m2 0h1m3 0h1m7 0h1m-65 1h1m0 0h1m0 0h1m0 0h1m2 0h1m3 0h1m2 0h1m1 0h1m0 0h1m0 0h1m3 0h1m2 0h1m5 0h1m3 0h1m0 0h1m1 0h1m1 0h1m2 0h1m2 0h1m1 0h1m0 0h1m0 0h1m1 0h1m11 0h1m-61 1h1m0 0h1m6 0h1m8 0h1m1 0h1m13 0h1m2 0h1m0 0h1m3 0h1m1 0h1m1 0h1m13 0h1m1 0h1m-56 1h1m4 0h1m1 0h1m3 0h1m2 0h1m0 0h1m4 0h1m3 0h1m2 0h1m2 0h1m0 0h1m0 0h1m0 0h1m3 0h1m1 0h1m2 0h1m-52 1h1m18 0h1m2 0h1m0 0h1m2 0h1m0 0h1m1 0h1m2 0h1m1 0h1m2 0h1m1 0h1m2 0h1m-23 1h1m0 0h1m4 0h1m0 0h1m1 0h1m0 0h1m0 0h1m7 0h1m1 0h1m0 0h1m1 0h1m0 0h1m-6 2h1" stroke="#5affa4" stroke-width="1.3" fill="none"/><path d="M182 1227h1m3 0h1m22 0h1m4 0h1m-37 1h1m0 0h1m11 0h1m-20 1h1m2 0h1m4 0h1m2 0h1m2 0h1m0 0h1m4 0h1m5 0h1m-33 1h1m3 0h1m1 0h1m0 0h1m4 0h1m2 0h1m0 0h1m3 0h1m3 0h1m0 0h1m0 0h1m0 0h1m0 0h1m1 0h1m0 0h1m3 0h1m0 0h1m1 0h1m0 0h1m0 0h1m-43 1h1m3 0h1m0 0h1m2 0h1m8 0h1m4 0h1m0 0h1m0 0h1m0 0h1m0 0h1m0 0h1m0 0h1m0 0h1m0 0h1m3 0h1m1 0h1m0 0h1m0 0h1m0 0h1m2 0h1m-45 1h1m2 0h1m0 0h1m1 0h1m1 0h1m1 0h1m0 0h1m1 0h1m1 0h1m0 0h1m0 0h1m0 0h1m8 0h1m0 0h1m0 0h1m3 0h1m1 0h1m5 0h1m1 0h1m1 0h1m1 0h1m4 0h1m0 0h1m-62 1h1m2 0h1m0 0h1m5 0h1m2 0h1m2 0h1m0 0h1m0 0h1m14 0h1m2 0h1m0 0h1m0 0h1m1 0h1m2 0h1m1 0h1m0 0h1m4 0h1m3 0h1m0 0h1m1 0h1m-51 1h1m1 0h1m6 0h1m21 0h1m2 0h1m1 0h1m1 0h1m1 0h1m1 0h1m0 0h1m8 0h1m1 0h1m-62 1h1m1 0h1m1 0h1m0 0h1m0 0h1m0 0h1m1 0h1m0 0h1m0 0h1m2 0h1m39 0h1m2 0h1m-57 1h1m0 0h1m0 0h1m0 0h1m0 0h1m1 0h1m2 0h1m1 0h1m0 0h1m0 0h1m0 0h1m34 0h1m0 0h1m1 0h1m4 0h1m4 0h1m-67 1h1m4 0h1m0 0h1m3 0h1m0 0h1m0 0h1m0 0h1m2 0h1m4 0h1m22 0h1m3 0h1m2 0h1m0 0h1m0 0h1m0 0h1m0 0h1m0 0h1m-51 1h1m3 0h1m0 0h1m1 0h1m2 0h1m2 0h1m0 0h1m19 0h1m9 0h1m2 0h1m1 0h1m0 0h1m1 0h1m0 0h1m6 0h1m-64 1h1m0 0h1m6 0h1m1 0h1m0 0h1m1 0h1m0 0h1m0 0h1m0 0h1m7 0h1m24 0h1m1 0h1m1 0h1m5 0h1m2 0h1m-59 1h1m4 0h1m2 0h1m5 0h1m1 0h1m3 0h1m0 0h1m3 0h1m2 0h1m4 0h1m1 0h1m1 0h1m1 0h1m2 0h1m0 0h1m6 0h1m-34 1h1m0 0h1m1 0h1m1 0h1m5 0h1m0 0h1m2 0h1m0 0h1m0 0h1m0 0h1m0 0h1m0 0h1m1 0h1m2 0h1m6 0h1m-47 1h1m11 0h1m0 0h1m2 0h1m7 0h1m1 0h1m1 0h1m1 0h1m11 0h1m2 0h1m-25 1h1m8 0h1m-9 1h1m2 0h1m7 0h1" stroke="#afff4f" stroke-width="1.3" fill="none"/><path d="M178 1229h1m26 0h1m-38 1h1m7 0h1m1 0h1m0 0h1m0 0h1m1 0h1m0 0h1m0 0h1m1 0h1m1 0h1m9 0h1m3 0h1m3 0h1m-40 1h1m3 0h1m6 0h1m0 0h1m0 0h1m3 0h1m0 0h1m0 0h1m1 0h1m1 0h1m3 0h1m-36 1h1m2 0h1m11 0h1m1 0h1m0 0h1m0 0h1m0 0h1m0 0h1m1 0h1m0 0h1m1 0h1m0 0h1m4 0h1m0 0h1m0 0h1m0 0h1m3 0h1m1 0h1m0 0h1m5 0h1m1 0h1m-53 1h1m5 0h1m0 0h1m0 0h1m4 0h1m1 0h1m1 0h1m8 0h1m1 0h1m2 0h1m0 0h1m0 0h1m3 0h1m0 0h1m0 0h1m0 0h1m1 0h1m2 0h1m3 0h1m0 0h1m-45 1h1m1 0h1m0 0h1m3 0h1m0 0h1m0 0h1m0 0h1m0 0h1m1 0h1m10 0h1m0 0h1m1 0h1m2 0h1m0 0h1m1 0h1m1 0h1m0 0h1m9 0h1m-54 1h1m0 0h1m2 0h1m1 0h1m0 0h1m2 0h1m0 0h1m0 0h1m3 0h1m1 0h1m15 0h1m6 0h1m0 0h1m4 0h1m1 0h1m0 0h1m-49 1h1m1 0h1m1 0h1m2 0h1m6 0h1m0 0h1m0 0h1m11 0h1m1 0h1m1 0h1m1 0h1m0 0h1m3 0h1m0 0h1m1 0h1m1 0h1m1 0h1m0 0h1m0 0h1m-43 1h1m4 0h1m0 0h1m1 0h1m2 0h1m12 0h1m0 0h1m3 0h1m2 0h1m1 0h1m0 0h1m5 0h1m0 0h1m0 0h1m-35 1h1m0 0h1m0 0h1m10 0h1m2 0h1m1 0h1m0 0h1m3 0h1m0 0h1m0 0h1m0 0h1m0 0h1m1 0h1m2 0h1m0 0h1m4 0h1m-50 1h1m10 0h1m0 0h1m0 0h1m0 0h1m0 0h1m0 0h1m11 0h1m0 0h1m0 0h1m8 0h1m2 0h1m1 0h1m1 0h1m-37 1h1m0 0h1m1 0h1m1 0h1m0 0h1m1 0h1m0 0h1m1 0h1m0 0h1m2 0h1m0 0h1m0 0h1m0 0h1m1 0h1m4 0h1m-19 1h1m0 0h1m2 0h1m1 0h1m0 0h1m0 0h1m0 0h1m0 0h1m0 0h1m8 0h1m0 0h1m6 0h1m-33 1h1m0 0h1m2 0h1m0 0h1m6 0h1m1 0h1m7 0h1" stroke="#fff900" stroke-width="1.3" fill="none"/><path d="M178 1230h1m3 0h1m1 0h1m2 0h1m1 0h1m-11 1h1m1 0h1m0 0h1m1 0h1m4 0h1m-16 1h1m3 0h1m0 0h1m1 0h1m1 0h1m0 0h1m0 0h1m4 0h1m0 0h1m0 0h1m1 0h1m1 0h1m1 0h1m0 0h1m5 0h1m-39 1h1m4 0h1m0 0h1m5 0h1m1 0h1m0 0h1m1 0h1m4 0h1m1 0h1m1 0h1m0 0h1m6 0h1m-36 1h1m6 0h1m2 0h1m3 0h1m0 0h1m1 0h1m6 0h1m0 0h1m0 0h1m0 0h1m4 0h1m0 0h1m0 0h1m0 0h1m1 0h1m-40 1h1m0 0h1m0 0h1m6 0h1m0 0h1m0 0h1m0 0h1m8 0h1m0 0h1m2 0h1m0 0h1m5 0h1m3 0h1m1 0h1m0 0h1m0 0h1m0 0h1m-35 1h1m0 0h1m0 0h1m0 0h1m1 0h1m7 0h1m3 0h1m2 0h1m1 0h1m1 0h1m0 0h1m0 0h1m0 0h1m0 0h1m1 0h1m0 0h1m0 0h1m0 0h1m1 0h1m1 0h1m-41 1h1m2 0h1m0 0h1m1 0h1m3 0h1m6 0h1m4 0h1m0 0h1m0 0h1m1 0h1m0 0h1m0 0h1m2 0h1m2 0h1m1 0h1m-26 1h1m1 0h1m2 0h1m0 0h1m0 0h1m1 0h1m0 0h1m0 0h1m0 0h1m0 0h1m1 0h1m0 0h1m0 0h1m0 0h1m2 0h1m0 0h1m0 0h1m2 0h1m-36 1h1m3 0h1m1 0h1m0 0h1m0 0h1m0 0h1m1 0h1m1 0h1m2 0h1m3 0h1m0 0h1m1 0h1m1 0h1m1 0h1m0 0h1m3 0h1m-23 1h1m0 0h1m0 0h1m1 0h1m1 0h1m2 0h1m6 0h1m0 0h1m-23 1h1m0 0h1m2 0h1m3 0h1m1 0h1m0 0h1m0 0h1m5 0h1m-12 1h1m3 0h1" stroke="#ffa400" stroke-width="1.3" fill="none"/><path d="M181 1230h1m1 0h1m2 0h1m-2 1h1m-14 1h1m2 0h1m0 0h1m0 0h1m2 0h1m1 0h1m0 0h1m5 0h1m11 0h1m-30 1h1m2 0h1m1 0h1m0 0h1m1 0h1m1 0h1m0 0h1m0 0h1m2 0h1m0 0h1m6 0h1m3 0h1m0 0h1m0 0h1m0 0h1m-31 1h1m0 0h1m1 0h1m0 0h1m0 0h1m0 0h1m2 0h1m1 0h1m0 0h1m2 0h1m11 0h1m4 0h1m-32 1h1m3 0h1m2 0h1m1 0h1m0 0h1m0 0h1m0 0h1m0 0h1m0 0h1m0 0h1m0 0h1m3 0h1m4 0h1m0 0h1m0 0h1m0 0h1m0 0h1m1 0h1m-31 1h1m0 0h1m0 0h1m1 0h1m1 0h1m5 0h1m1 0h1m0 0h1m2 0h1m0 0h1m1 0h1m2 0h1m2 0h1m-25 1h1m0 0h1m0 0h1m0 0h1m0 0h1m0 0h1m1 0h1m0 0h1m1 0h1m5 0h1m5 0h1m1 0h1m-30 1h1m2 0h1m0 0h1m2 0h1m1 0h1m0 0h1m1 0h1m0 0h1m0 0h1m0 0h1m0 0h1m1 0h1m0 0h1m2 0h1m1 0h1m0 0h1m2 0h1m0 0h1m-25 1h1m1 0h1m1 0h1m1 0h1m2 0h1m2 0h1m11 0h1m-21 1h1m1 0h1m-1 1h1" stroke="#ff4f00" stroke-width="1.3" fill="none"/><path d="M176 1232h1m3 0h1m-7 1h1m4 0h1m5 0h1m-8 1h1m1 0h1m0 0h1m0 0h1m-8 1h1m0 0h1m0 0h1m0 0h1m0 0h1m0 0h1m0 0h1m2 0h1m0 0h1m0 0h1m1 0h1m13 0h1m-31 1h1m2 0h1m1 0h1m0 0h1m0 0h1m0 0h1m0 0h1m0 0h1m0 0h1m0 0h1m0 0h1m6 0h1m4 0h1m4 0h1m-26 1h1m0 0h1m2 0h1m1 0h1m0 0h1m1 0h1m14 0h1m-26 1h1m1 0h1m1 0h1m1 0h1m0 0h1m2 0h1m-10 1h1m3 0h1m0 0h1m0 0h1m0 0h1m-2 1h1" stroke="#f90000" stroke-width="1.3" fill="none"/></g><g clip-path="url(#clipD11)"><path d="M486 1158h1m-21 6h1m30 0h1m-26 6h1m-35 2h1m5 2h1m11 2h1m21 2h1m-26 1h1m0 0h1m-1 1h1m7 0h1m-44 1h1m45 0h1m6 1h1m-52 1h1m27 0h1m11 0h1m-17 2h1m28 0h1m13 1h1m-68 1h1m53 0h1m14 0h1m-71 1h1m12 0h1m68 0h1m-73 1h1m4 0h1m16 0h1m3 0h1m-24 1h1m18 0h1m-39 1h1m-7 1h1m8 0h1m0 0h1m12 0h1m5 0h1m0 0h1m19 0h1m25 0h1m29 0h1m-105 1h1m4 0h1m4 0h1m5 0h1m1 0h1m9 0h1m-41 1h1m9 0h1m6 0h1m8 0h1m2 0h1m3 0h1m-39 1h1m2 0h1m20 0h1m4 0h1m26 0h1m41 0h1m-99 1h1m8 0h1m6 0h1m2 0h1m23 0h1m1 0h1m1 0h1m3 0h1m24 0h1m-50 1h1m1 0h1m2 0h1m4 0h1m0 0h1m25 0h1m-40 1h1m2 0h1m3 0h1m5 0h1m0 0h1m5 0h1m8 0h1m7 0h1m29 0h1m14 0h1m26 0h1m-121 1h1m7 0h1m2 0h1m0 0h1m0 0h1m2 0h1m1 0h1m8 0h1m3 0h1m2 0h1m1 0h1m45 0h1m5 0h1m-86 1h1m8 0h1m0 0h1m3 0h1m0 0h1m3 0h1m2 0h1m27 0h1m0 0h1m-63 1h1m1 0h1m6 0h1m0 0h1m0 0h1m3 0h1m11 0h1m17 0h1m3 0h1m-42 1h1m0 0h1m2 0h1m0 0h1m0 0h1m12 0h1m0 0h1m2 0h1m0 0h1m0 0h1m1 0h1m1 0h1m3 0h1m9 0h1m3 0h1m0 0h1m12 0h1m-66 1h1m5 0h1m7 0h1m6 0h1m3 0h1m10 0h1m7 0h1m1 0h1m5 0h1m8 0h1m0 0h1m-70 1h1m7 0h1m0 0h1m3 0h1m14 0h1m12 0h1m2 0h1m8 0h1m4 0h1m0 0h1m16 0h1m2 0h1m18 0h1m3 0h1m26 0h1m-134 1h1m4 0h1m0 0h1m2 0h1m2 0h1m5 0h1m7 0h1m0 0h1m4 0h1m13 0h1m7 0h1m5 0h1m32 0h1m20 0h1m-122 1h1m18 0h1m1 0h1m22 0h1m15 0h1m0 0h1m9 0h1m61 0h1m-141 1h1m24 0h1m8 0h1m5 0h1m5 0h1m2 0h1m1 0h1m6 0h1m0 0h1m2 0h1m6 0h1m4 0h1m2 0h1m0 0h1m0 0h1m40 0h1m-105 1h1m1 0h1m0 0h1m2 0h1m1 0h1m3 0h1m8 0h1m23 0h1m1 0h1m3 0h1m1 0h1m14 0h1m8 0h1m9 0h1m9 0h1m-91 1h1m15 0h1m11 0h1m20 0h1m2 0h1m8 0h1m2 0h1m43 0h1m4 0h1m-115 1h1m41 0h1m3 0h1m2 0h1m13 0h1m0 0h1m30 0h1m6 0h1m-125 1h1m14 0h1m9 0h1m40 0h1m3 0h1m9 0h1m43 0h1m-109 1h1m1 0h1m0 0h1m1 0h1m3 0h1m8 0h1m30 0h1m7 0h1m2 0h1m15 0h1m13 0h1m14 0h1m-107 1h1m4 0h1m46 0h1m2 0h1m2 0h1m3 0h1m5 0h1m-55 1h1m31 0h1m1 0h1m5 0h1m0 0h1m3 0h1m2 0h1m0 0h1m0 0h1m1 0h1m1 0h1m1 0h1m2 0h1m3 0h1m-67 1h1m33 0h1m6 0h1m3 0h1m0 0h1m0 0h1m7 0h1m7 0h1m-79 1h1m0 0h1m0 0h1m5 0h1m49 0h1m2 0h1m9 0h1m2 0h1m30 0h1m19 0h1m-125 1h1m9 0h1m5 0h1m34 0h1m9 0h1m4 0h1m0 0h1m6 0h1m2 0h1m3 0h1m-95 1h1m22 0h1m0 0h1m0 0h1m2 0h1m42 0h1m2 0h1m0 0h1m6 0h1m1 0h1m54 0h1m2 0h1m-124 1h1m44 0h1m5 0h1m8 0h1m6 0h1m33 0h1m-107 1h1m3 0h1m1 0h1m5 0h1m1 0h1m41 0h1m0 0h1m0 0h1m0 0h1m2 0h1m2 0h1m8 0h1m10 0h1m16 0h1m-98 1h1m0 0h1m1 0h1m4 0h1m35 0h1m7 0h1m3 0h1m5 0h1m18 0h1m6 0h1m1 0h1m-105 1h1m8 0h1m5 0h1m0 0h1m3 0h1m38 0h1m0 0h1m0 0h1m5 0h1m1 0h1m11 0h1m0 0h1m6 0h1m4 0h1m6 0h1m-92 1h1m5 0h1m49 0h1m6 0h1m4 0h1m0 0h1m6 0h1m-77 1h1m1 0h1m8 0h1m44 0h1m0 0h1m0 0h1m5 0h1m7 0h1m9 0h1m8 0h1m-92 1h1m3 0h1m8 0h1m34 0h1m6 0h1m0 0h1m0 0h1m2 0h1m2 0h1m1 0h1m0 0h1m10 0h1m25 0h1m5 0h1m-131 1h1m20 0h1m3 0h1m0 0h1m49 0h1m2 0h1m2 0h1m3 0h1m1 0h1m4 0h1m0 0h1m11 0h1m3 0h1m-88 1h1m2 0h1m50 0h1m0 0h1m0 0h1m2 0h1m0 0h1m2 0h1m1 0h1m66 0h1m-137 1h1m1 0h1m4 0h1m0 0h1m39 0h1m18 0h1m0 0h1m-83 1h1m10 0h1m1 0h1m6 0h1m8 0h1m44 0h1m6 0h1m-77 1h1m11 0h1m2 0h1m47 0h1m4 0h1m7 0h1m11 0h1m1 0h1m-78 1h1m0 0h1m1 0h1m47 0h1m0 0h1m3 0h1m4 0h1m0 0h1m15 0h1m4 0h1m67 0h1m-151 1h1m1 0h1m41 0h1m9 0h1m0 0h1m0 0h1m1 0h1m3 0h1m22 0h1m-46 1h1m8 0h1m4 0h1m2 0h1m0 0h1m15 0h1m40 0h1m-115 1h1m1 0h1m0 0h1m35 0h1m11 0h1m3 0h1m0 0h1m1 0h1m0 0h1m0 0h1m2 0h1m82 0h1m-144 1h1m7 0h1m5 0h1m16 0h1m3 0h1m10 0h1m0 0h1m0 0h1m0 0h1m1 0h1m8 0h1m2 0h1m28 0h1m-101 1h1m5 0h1m0 0h1m1 0h1m6 0h1m22 0h1m4 0h1m10 0h1m0 0h1m0 0h1m3 0h1m1 0h1m0 0h1m-71 1h1m2 0h1m44 0h1m15 0h1m3 0h1m17 0h1m14 0h1m-77 1h1m31 0h1m0 0h1m1 0h1m1 0h1m3 0h1m1 0h1m7 0h1m-77 1h1m3 0h1m7 0h1m4 0h1m8 0h1m4 0h1m2 0h1m22 0h1m1 0h1m5 0h1m4 0h1m3 0h1m0 0h1m10 0h1m-70 1h1m0 0h1m5 0h1m2 0h1m18 0h1m9 0h1m0 0h1m0 0h1m1 0h1m11 0h1m9 0h1m-65 1h1m9 0h1m1 0h1m7 0h1m6 0h1m8 0h1m2 0h1m4 0h1m0 0h1m1 0h1m9 0h1m16 0h1m-99 1h1m20 0h1m1 0h1m16 0h1m19 0h1m1 0h1m1 0h1m-40 1h1m13 0h1m1 0h1m4 0h1m8 0h1m6 0h1m11 0h1m6 0h1m-60 1h1m4 0h1m0 0h1m11 0h1m0 0h1m3 0h1m0 0h1m1 0h1m8 0h1m0 0h1m1 0h1m3 0h1m17 0h1m2 0h1m-80 1h1m10 0h1m6 0h1m0 0h1m2 0h1m0 0h1m1 0h1m0 0h1m20 0h1m2 0h1m5 0h1m1 0h1m1 0h1m2 0h1m7 0h1m8 0h1m13 0h1m-80 1h1m3 0h1m3 0h1m23 0h1m1 0h1m1 0h1m2 0h1m9 0h1m10 0h1m-59 1h1m10 0h1m0 0h1m1 0h1m19 0h1m3 0h1m13 0h1m2 0h1m-57 1h1m1 0h1m11 0h1m0 0h1m8 0h1m11 0h1m1 0h1m0 0h1m-41 1h1m8 0h1m1 0h1m2 0h1m4 0h1m1 0h1m5 0h1m5 0h1m0 0h1m7 0h1m11 0h1m0 0h1m34 0h1m-93 1h1m2 0h1m6 0h1m6 0h1m4 0h1m1 0h1m3 0h1m2 0h1m3 0h1m7 0h1m-31 1h1m6 0h1m5 0h1m1 0h1m11 0h1m3 0h1m24 0h1m-64 1h1m17 0h1m1 0h1m2 0h1m20 0h1m11 0h1m-39 1h1m10 0h1m20 0h1m-49 1h1m11 0h1m0 0h1m3 0h1m9 0h1m2 0h1m-15 3h1m-18 2h1m21 0h1m4 0h1m64 0h1m-65 1h1m8 0h1m-23 5h1m31 0h1" stroke="#0005ff" stroke-width="1.3" fill="none"/><path d="M417 1200h1m-2 1h1m1 0h1m5 0h1m-5 1h1m1 0h1m1 0h1m-13 1h1m0 0h1m3 0h1m9 0h1m1 0h1m-17 1h1m2 0h1m0 0h1m3 0h1m2 0h1m0 0h1m7 0h1m-27 1h1m5 0h1m2 0h1m2 0h1m8 0h1m1 0h1m0 0h1m-22 1h1m0 0h1m9 0h1m7 0h1m2 0h1m2 0h1m-26 1h1m1 0h1m0 0h1m0 0h1m1 0h1m3 0h1m0 0h1m1 0h1m8 0h1m0 0h1m1 0h1m0 0h1m-31 1h1m2 0h1m1 0h1m4 0h1m5 0h1m4 0h1m2 0h1m0 0h1m0 0h1m2 0h1m0 0h1m1 0h1m-35 1h1m0 0h1m3 0h1m12 0h1m3 0h1m5 0h1m0 0h1m2 0h1m1 0h1m-34 1h1m3 0h1m0 0h1m2 0h1m2 0h1m5 0h1m0 0h1m1 0h1m11 0h1m0 0h1m-34 1h1m2 0h1m2 0h1m22 0h1m3 0h1m1 0h1m-35 1h1m1 0h1m11 0h1m7 0h1m5 0h1m3 0h1m-34 1h1m1 0h1m0 0h1m1 0h1m1 0h1m2 0h1m0 0h1m3 0h1m7 0h1m0 0h1m6 0h1m2 0h1m2 0h1m-41 1h1m0 0h1m5 0h1m0 0h1m29 0h1m-39 1h1m4 0h1m24 0h1m3 0h1m-35 1h1m39 0h1m3 0h1m-44 1h1m2 0h1m1 0h1m34 0h1m-45 1h1m5 0h1m2 0h1m31 0h1m0 0h1m1 0h1m-38 1h1m1 0h1m28 0h1m4 0h1m2 0h1m0 0h1m-48 1h1m0 0h1m3 0h1m33 0h1m4 0h1m0 0h1m0 0h1m0 0h1m-47 1h1m0 0h1m35 0h1m1 0h1m-41 1h1m3 0h1m2 0h1m34 0h1m3 0h1m-6 1h1m2 0h1m-45 1h1m1 0h1m0 0h1m1 0h1m0 0h1m33 0h1m3 0h1m0 0h1m1 0h1m-47 1h1m0 0h1m1 0h1m38 0h1m2 0h1m-47 1h1m0 0h1m40 0h1m0 0h1m-5 1h1m1 0h1m4 0h1m0 0h1m-43 1h1m0 0h1m36 0h1m0 0h1m-44 1h1m0 0h1m5 0h1m28 0h1m0 0h1m1 0h1m2 0h1m-40 1h1m30 0h1m0 0h1m-36 1h1m0 0h1m1 0h1m3 0h1m27 0h1m1 0h1m1 0h1m1 0h1m0 0h1m-44 1h1m1 0h1m0 0h1m0 0h1m2 0h1m1 0h1m4 0h1m21 0h1m1 0h1m4 0h1m-3 1h1m1 0h1m-41 1h1m5 0h1m28 0h1m0 0h1m1 0h1m1 0h1m-41 1h1m0 0h1m0 0h1m1 0h1m1 0h1m1 0h1m19 0h1m4 0h1m2 0h1m0 0h1m0 0h1m0 0h1m0 0h1m-38 1h1m0 0h1m3 0h1m7 0h1m8 0h1m2 0h1m6 0h1m2 0h1m0 0h1m-27 1h1m19 0h1m5 0h1m-38 1h1m0 0h1m0 0h1m0 0h1m10 0h1m8 0h1m1 0h1m1 0h1m1 0h1m1 0h1m0 0h1m2 0h1m-32 1h1m4 0h1m6 0h1m5 0h1m13 0h1m-35 1h1m0 0h1m0 0h1m2 0h1m0 0h1m1 0h1m12 0h1m1 0h1m2 0h1m1 0h1m1 0h1m-29 1h1m1 0h1m0 0h1m2 0h1m4 0h1m1 0h1m1 0h1m1 0h1m1 0h1m8 0h1m0 0h1m-30 1h1m1 0h1m3 0h1m5 0h1m2 0h1m0 0h1m3 0h1m0 0h1m3 0h1m3 0h1m-29 1h1m5 0h1m0 0h1m3 0h1m1 0h1m0 0h1m1 0h1m1 0h1m1 0h1m1 0h1m2 0h1m1 0h1m1 0h1m-28 1h1m2 0h1m3 0h1m0 0h1m4 0h1m3 0h1m0 0h1m0 0h1m-20 1h1m3 0h1m1 0h1m1 0h1m2 0h1m0 0h1m2 0h1m0 0h1m2 0h1m0 0h1m0 0h1m-13 1h1m1 0h1m3 0h1m0 0h1m0 0h1m1 0h1m-3 1h1m2 0h1" stroke="#005aff" stroke-width="1.3" fill="none"/><path d="M421 1204h1m-1 1h1m2 0h1m0 0h1m5 0h1m-18 1h1m11 0h1m2 0h1m-17 1h1m2 0h1m4 0h1m5 0h1m1 0h1m-16 1h1m1 0h1m0 0h1m4 0h1m1 0h1m0 0h1m2 0h1m0 0h1m6 0h1m-28 1h1m4 0h1m0 0h1m1 0h1m0 0h1m1 0h1m2 0h1m1 0h1m-15 1h1m1 0h1m2 0h1m0 0h1m2 0h1m0 0h1m2 0h1m0 0h1m5 0h1m1 0h1m0 0h1m-23 1h1m3 0h1m1 0h1m1 0h1m4 0h1m2 0h1m3 0h1m1 0h1m1 0h1m0 0h1m-30 1h1m4 0h1m0 0h1m1 0h1m0 0h1m4 0h1m0 0h1m2 0h1m1 0h1m0 0h1m0 0h1m3 0h1m-27 1h1m1 0h1m2 0h1m7 0h1m10 0h1m2 0h1m0 0h1m3 0h1m-34 1h1m3 0h1m3 0h1m16 0h1m1 0h1m0 0h1m-27 1h1m0 0h1m24 0h1m5 0h1m-36 1h1m1 0h1m28 0h1m0 0h1m1 0h1m-33 1h1m27 0h1m1 0h1m0 0h1m-39 1h1m0 0h1m4 0h1m1 0h1m16 0h1m6 0h1m3 0h1m0 0h1m0 0h1m2 0h1m-37 1h1m0 0h1m26 0h1m2 0h1m-4 1h1m2 0h1m2 0h1m-4 1h1m-34 1h1m1 0h1m28 0h1m1 0h1m0 0h1m-4 1h1m1 0h1m-36 1h1m1 0h1m2 0h1m0 0h1m24 0h1m0 0h1m2 0h1m1 1h1m1 0h1m-40 1h1m3 0h1m0 0h1m2 0h1m20 0h1m6 0h1m0 0h1m-34 1h1m0 0h1m1 0h1m28 0h1m-37 1h1m1 0h1m1 0h1m0 0h1m0 0h1m27 0h1m2 0h1m-38 1h1m3 0h1m1 0h1m2 0h1m25 0h1m-31 1h1m24 0h1m0 0h1m-28 1h1m0 0h1m1 0h1m3 0h1m19 0h1m1 0h1m1 1h1m1 0h1m1 0h1m-37 1h1m3 0h1m5 0h1m17 0h1m-27 1h1m5 0h1m8 0h1m1 0h1m6 0h1m0 0h1m0 0h1m-28 1h1m0 0h1m13 0h1m4 0h1m2 0h1m4 0h1m-28 1h1m2 0h1m1 0h1m1 0h1m2 0h1m0 0h1m7 0h1m2 0h1m1 0h1m2 0h1m-26 1h1m2 0h1m2 0h1m2 0h1m-2 1h1m0 0h1m0 0h1m1 0h1m8 0h1m0 0h1m-22 1h1m3 0h1m1 0h1m7 0h1m0 0h1m2 0h1m3 0h1m-22 1h1m2 0h1m4 0h1m10 0h1m1 0h1m-18 1h1m11 0h1m0 0h1m-15 1h1m0 0h1m2 0h1m0 0h1m-3 1h1m9 0h1m-4 1h1m-2 1h1m2 0h1" stroke="#00afff" stroke-width="1.3" fill="none"/><path d="M420 1207h1m2 0h1m1 0h1m3 0h1m0 1h1m-8 1h1m-9 1h1m1 0h1m1 0h1m0 0h1m3 0h1m3 0h1m-17 1h1m3 0h1m0 0h1m0 0h1m2 0h1m5 0h1m2 0h1m-18 1h1m1 0h1m0 0h1m0 0h1m1 0h1m5 0h1m2 0h1m1 0h1m0 0h1m0 0h1m0 0h1m-25 1h1m13 0h1m1 0h1m2 0h1m1 0h1m1 0h1m0 0h1m2 0h1m-29 1h1m1 0h1m1 0h1m0 0h1m0 0h1m0 0h1m3 0h1m4 0h1m3 0h1m3 0h1m1 0h1m0 0h1m-27 1h1m2 0h1m0 0h1m0 0h1m1 0h1m8 0h1m15 0h1m-32 1h1m3 0h1m19 0h1m0 0h1m-28 1h1m0 0h1m1 0h1m21 0h1m0 0h1m1 0h1m-28 1h1m0 0h1m21 0h1m0 0h1m-28 1h1m0 0h1m24 0h1m0 0h1m0 0h1m2 0h1m-31 1h1m0 0h1m0 0h1m24 0h1m0 0h1m0 0h1m4 0h1m-37 1h1m31 0h1m-31 1h1m1 0h1m27 0h1m1 0h1m-35 1h1m0 0h1m3 0h1m27 0h1m0 0h1m-33 1h1m0 0h1m30 0h1m-36 1h1m0 0h1m2 0h1m22 0h1m-24 1h1m0 0h1m0 0h1m21 0h1m1 0h1m1 0h1m-32 1h1m0 0h1m0 0h1m27 0h1m4 0h1m-30 1h1m20 0h1m1 0h1m3 0h1m-33 1h1m1 0h1m0 0h1m1 0h1m20 0h1m0 0h1m1 0h1m-30 1h1m0 0h1m0 0h1m0 0h1m0 0h1m0 0h1m18 0h1m2 0h1m0 0h1m0 0h1m2 0h1m-33 1h1m1 0h1m0 0h1m0 0h1m13 0h1m8 0h1m1 0h1m1 0h1m0 0h1m-27 1h1m17 0h1m2 0h1m0 0h1m0 0h1m-30 1h1m2 0h1m2 0h1m5 0h1m6 0h1m4 0h1m0 0h1m0 0h1m0 0h1m-25 1h1m0 0h1m1 0h1m0 0h1m0 0h1m1 0h1m3 0h1m5 0h1m1 0h1m-22 1h1m1 0h1m4 0h1m0 0h1m5 0h1m1 0h1m0 0h1m3 0h1m0 0h1m-15 1h1m0 0h1m1 0h1m0 0h1m3 0h1m0 0h1m1 0h1m-14 1h1m0 0h1m3 0h1m0 0h1m2 0h1m0 0h1m-8 1h1m1 0h1m1 0h1m1 0h1m-8 1h1m1 0h1m2 0h1m2 0h1m0 0h1m0 0h1m2 0h1m-16 1h1m2 0h1m5 0h1m0 0h1m0 0h1m4 0h1m-8 1h1m0 2h1" stroke="#05fff9" stroke-width="1.3" fill="none"/><path d="M415 1208h1m2 3h1m1 0h1m0 0h1m3 0h1m1 0h1m0 0h1m-12 1h1m0 0h1m5 0h1m1 0h1m3 0h1m-15 1h1m2 0h1m2 0h1m2 0h1m0 0h1m2 0h1m3 0h1m-17 1h1m1 0h1m0 0h1m0 0h1m4 0h1m2 0h1m-20 1h1m2 0h1m3 0h1m0 0h1m1 0h1m1 0h1m0 0h1m0 0h1m2 0h1m0 0h1m3 0h1m-22 1h1m1 0h1m0 0h1m0 0h1m2 0h1m2 0h1m1 0h1m1 0h1m0 0h1m1 0h1m2 0h1m0 0h1m0 0h1m0 0h1m-18 1h1m0 0h1m1 0h1m1 0h1m6 0h1m1 0h1m3 0h1m-27 1h1m0 0h1m0 0h1m0 0h1m1 0h1m2 0h1m9 0h1m2 0h1m0 0h1m0 0h1m0 0h1m-26 1h1m3 0h1m0 0h1m15 0h1m1 0h1m0 0h1m1 0h1m-25 1h1m0 0h1m3 0h1m17 0h1m0 0h1m0 0h1m-26 1h1m20 0h1m1 0h1m0 0h1m0 0h1m1 0h1m-28 1h1m0 0h1m-3 1h1m1 0h1m2 0h1m16 0h1m0 0h1m0 0h1m-23 1h1m18 0h1m1 0h1m0 0h1m-25 1h1m23 0h1m2 0h1m-27 1h1m0 0h1m23 0h1m-27 1h1m25 0h1m-27 1h1m19 0h1m2 0h1m1 0h1m-25 1h1m0 0h1m1 0h1m15 0h1m0 0h1m-4 1h1m0 0h1m3 0h1m0 0h1m0 0h1m-23 1h1m0 0h1m13 0h1m-17 1h1m2 0h1m1 0h1m0 0h1m6 0h1m2 0h1m0 0h1m-15 1h1m2 0h1m2 0h1m1 0h1m1 0h1m2 0h1m2 0h1m-18 1h1m1 0h1m0 0h1m2 0h1m0 0h1m1 0h1m0 0h1m1 0h1m0 0h1m2 0h1m-18 1h1m2 0h1m0 0h1m0 0h1m0 0h1m3 0h1m0 0h1m0 0h1m1 0h1m0 0h1m1 0h1m-11 1h1m0 0h1m0 0h1m1 0h1m0 0h1m0 0h1m-10 1h1m7 0h1m0 0h1m-10 1h1m-1 2h1" stroke="#5affa4" stroke-width="1.3" fill="none"/><path d="M423 1211h1m-4 1h1m-7 1h1m3 0h1m-3 1h1m2 0h1m1 0h1m0 0h1m-4 1h1m0 0h1m2 0h1m1 0h1m2 0h1m2 0h1m2 0h1m-21 1h1m1 0h1m1 0h1m0 0h1m1 0h1m2 0h1m2 0h1m0 0h1m0 0h1m0 0h1m0 0h1m1 0h1m0 0h1m-20 1h1m2 0h1m1 0h1m2 0h1m0 0h1m2 0h1m0 0h1m0 0h1m0 0h1m1 0h1m-20 1h1m0 0h1m1 0h1m2 0h1m3 0h1m4 0h1m0 0h1m2 0h1m1 0h1m-27 1h1m4 0h1m15 0h1m2 0h1m2 0h1m-27 1h1m0 0h1m1 0h1m0 0h1m-5 1h1m0 0h1m0 0h1m21 0h1m0 0h1m-26 1h1m0 0h1m1 0h1m17 0h1m1 0h1m1 0h1m-24 1h1m1 0h1m15 0h1m0 0h1m2 0h1m-25 1h1m1 0h1m0 0h1m0 0h1m15 0h1m-19 1h1m1 0h1m18 0h1m1 0h1m-25 1h1m1 0h1m16 0h1m0 0h1m1 0h1m-24 1h1m3 0h1m15 0h1m2 0h1m-25 1h1m3 0h1m0 0h1m15 0h1m0 0h1m0 0h1m-21 1h1m1 0h1m4 0h1m9 0h1m0 0h1m0 0h1m2 0h1m-25 1h1m2 0h1m3 0h1m3 0h1m5 0h1m1 0h1m3 0h1m0 0h1m-21 1h1m2 0h1m1 0h1m4 0h1m1 0h1m1 0h1m0 0h1m-16 1h1m0 0h1m1 0h1m0 0h1m2 0h1m0 0h1m0 0h1m0 0h1m4 0h1m-14 1h1m1 0h1m2 0h1m1 0h1m1 0h1m0 0h1m2 0h1m-5 1h1m0 0h1m-5 1h1m1 0h1m1 0h1m0 0h1" stroke="#afff4f" stroke-width="1.3" fill="none"/><path d="M416 1213h1m4 1h1m1 1h1m4 0h1m-10 1h1m4 0h1m2 0h1m0 0h1m-10 1h1m0 0h1m0 0h1m0 0h1m5 0h1m-17 1h1m8 0h1m1 0h1m0 0h1m2 0h1m1 0h1m0 0h1m0 0h1m-20 1h1m0 0h1m0 0h1m2 0h1m1 0h1m6 0h1m0 0h1m3 0h1m-17 1h1m3 0h1m6 0h1m1 0h1m0 0h1m0 0h1m0 0h1m1 0h1m-23 1h1m0 0h1m13 0h1m0 0h1m1 0h1m-19 1h1m1 0h1m15 0h1m1 0h1m0 0h1m-22 1h1m0 0h1m0 0h1m0 0h1m1 0h1m13 0h1m0 0h1m-19 1h1m13 0h1m2 0h1m2 0h1m-25 1h1m16 0h1m0 0h1m0 0h1m0 0h1m0 0h1m-20 1h1m1 0h1m0 0h1m10 0h1m2 0h1m1 0h1m0 0h1m-20 1h1m16 0h1m-20 1h1m1 0h1m0 0h1m0 0h1m2 0h1m3 0h1m0 0h1m1 0h1m3 0h1m0 0h1m-18 1h1m5 0h1m3 0h1m2 0h1m1 0h1m1 0h1m0 0h1m-18 1h1m0 0h1m1 0h1m0 0h1m0 0h1m1 0h1m0 0h1m0 0h1m3 0h1m0 0h1m0 0h1m-15 1h1m1 0h1m2 0h1m0 0h1m0 0h1m0 0h1m1 0h1m1 0h1m-16 1h1m2 0h1m1 0h1m0 0h1m0 0h1m0 0h1m0 0h1m1 0h1m0 0h1m3 0h1m-11 1h1m4 0h1m0 0h1m1 0h1m2 0h1m-8 1h1" stroke="#fff900" stroke-width="1.3" fill="none"/><path d="M420 1216h1m2 0h1m1 0h1m-9 1h1m6 0h1m-13 1h1m1 0h1m0 0h1m0 0h1m0 0h1m0 0h1m0 0h1m0 0h1m0 0h1m2 0h1m0 0h1m2 0h1m-14 1h1m0 0h1m0 0h1m0 0h1m1 0h1m0 0h1m0 0h1m0 0h1m0 0h1m1 0h1m1 0h1m0 0h1m0 0h1m-17 1h1m3 0h1m0 0h1m0 0h1m0 0h1m4 0h1m0 0h1m3 0h1m-21 1h1m2 0h1m1 0h1m2 0h1m5 0h1m0 0h1m1 0h1m1 0h1m-20 1h1m1 0h1m0 0h1m0 0h1m0 0h1m0 0h1m1 0h1m2 0h1m1 0h1m2 0h1m3 0h1m-17 1h1m0 0h1m2 0h1m7 0h1m0 0h1m0 0h1m0 0h1m0 0h1m-20 1h1m1 0h1m0 0h1m0 0h1m11 0h1m1 0h1m0 0h1m-22 1h1m1 0h1m0 0h1m1 0h1m1 0h1m2 0h1m1 0h1m0 0h1m0 0h1m2 0h1m2 0h1m1 0h1m-20 1h1m0 0h1m0 0h1m0 0h1m6 0h1m3 0h1m1 0h1m0 0h1m-16 1h1m1 0h1m0 0h1m0 0h1m1 0h1m1 0h1m3 0h1m0 0h1m-15 1h1m0 0h1m0 0h1m0 0h1m0 0h1m1 0h1m1 0h1m1 0h1m0 0h1m0 0h1m1 0h1m0 0h1m-16 1h1m0 0h1m0 0h1m0 0h1m1 0h1m0 0h1m1 0h1m1 0h1m2 0h1m-14 1h1m5 0h1m3 0h1m2 0h1m-8 2h1m0 0h1m0 0h1m1 0h1" stroke="#ffa400" stroke-width="1.3" fill="none"/><path d="M417 1219h1m3 0h1m1 0h1m2 0h1m1 0h1m-15 1h1m1 0h1m1 0h1m0 0h1m0 0h1m0 0h1m1 0h1m0 0h1m0 0h1m0 0h1m1 0h1m-14 1h1m0 0h1m0 0h1m1 0h1m0 0h1m0 0h1m0 0h1m0 0h1m2 0h1m0 0h1m0 0h1m2 0h1m-18 1h1m1 0h1m0 0h1m0 0h1m0 0h1m1 0h1m1 0h1m0 0h1m0 0h1m1 0h1m-17 1h1m3 0h1m0 0h1m0 0h1m0 0h1m1 0h1m1 0h1m2 0h1m0 0h1m1 0h1m-15 1h1m0 0h1m0 0h1m0 0h1m1 0h1m4 0h1m0 0h1m0 0h1m0 0h1m0 0h1m0 0h1m-18 1h1m0 0h1m0 0h1m0 0h1m3 0h1m0 0h1m1 0h1m1 0h1m1 0h1m0 0h1m-14 1h1m0 0h1m1 0h1m1 0h1m1 0h1m0 0h1m0 0h1m0 0h1m0 0h1m1 0h1m0 0h1m-13 1h1m0 0h1m3 0h1m1 0h1m0 0h1m0 0h1m1 0h1m-11 1h1m0 0h1m1 0h1m2 0h1m0 0h1m0 0h1m0 0h1m1 0h1m-13 1h1m1 0h1m0 0h1m0 0h1m1 0h1m3 0h1m-7 1h1m3 0h1m0 0h1m-9 2h1" stroke="#ff4f00" stroke-width="1.3" fill="none"/><path d="M426 1218h1m-6 1h1m-4 1h1m2 0h1m1 0h1m-10 1h1m1 0h1m0 0h1m1 0h1m0 0h1m0 0h1m0 0h1m0 0h1m0 0h1m0 0h1m0 0h1m0 0h1m-14 1h1m0 0h1m1 0h1m0 0h1m0 0h1m0 0h1m0 0h1m0 0h1m0 0h1m2 0h1m0 0h1m-12 1h1m0 0h1m1 0h1m2 0h1m1 0h1m1 0h1m-10 1h1m2 0h1m1 0h1m0 0h1m0 0h1m0 0h1m0 0h1m0 0h1m0 0h1m-15 1h1m3 0h1m0 0h1m1 0h1m0 0h1m0 0h1m0 0h1m-6 1h1m0 0h1m1 0h1m3 0h1m-8 1h1m0 0h1m0 0h1m1 0h1m1 0h1m1 0h1m-13 1h1m2 0h1m2 0h1m0 0h1m0 0h1m-2 1h1m-4 1h1m0 0h1m0 0h1" stroke="#f90000" stroke-width="1.3" fill="none"/></g><g clip-path="url(#clipD12)"><path d="M722 1152h1m0 2h1m-14 2h1m-13 2h1m-5 1h1m0 1h1m-2 1h1m9 0h1m8 0h1m8 0h1m-33 1h1m10 0h1m1 0h1m0 1h1m9 0h1m2 2h1m-27 1h1m2 0h1m5 0h1m12 0h1m-12 1h1m25 0h1m-32 1h1m6 0h1m1 0h1m1 0h1m0 0h1m6 0h1m-26 1h1m25 0h1m-57 1h1m26 0h1m3 0h1m9 0h1m-18 1h1m22 0h1m-19 1h1m2 0h1m2 0h1m11 0h1m-7 1h1m0 0h1m6 0h1m3 0h1m5 0h1m-27 1h1m0 0h1m1 0h1m15 0h1m2 0h1m-26 1h1m3 0h1m11 0h1m6 0h1m3 0h1m5 0h1m-38 1h1m18 0h1m3 0h1m-32 1h1m7 0h1m8 0h1m0 0h1m5 0h1m4 0h1m0 0h1m0 0h1m3 0h1m-19 1h1m4 0h1m2 0h1m6 0h1m1 0h1m-23 1h1m1 0h1m0 0h1m1 0h1m5 0h1m0 0h1m0 0h1m8 0h1m-26 1h1m4 0h1m1 0h1m2 0h1m7 0h1m1 0h1m-32 1h1m15 0h1m1 0h1m6 0h1m0 0h1m1 0h1m1 0h1m17 0h1m8 0h1m-51 1h1m10 0h1m0 0h1m6 0h1m1 0h1m8 0h1m-44 1h1m6 0h1m4 0h1m0 0h1m4 0h1m0 0h1m1 0h1m13 0h1m0 0h1m8 0h1m-42 1h1m6 0h1m3 0h1m21 0h1m-51 1h1m28 0h1m12 0h1m0 0h1m5 0h1m0 0h1m0 0h1m2 0h1m1 0h1m-34 1h1m3 0h1m2 0h1m0 0h1m0 0h1m6 0h1m0 0h1m-17 1h1m1 0h1m16 0h1m10 0h1m-32 1h1m0 0h1m1 0h1m0 0h1m1 0h1m6 0h1m2 0h1m6 0h1m6 0h1m3 0h1m-33 1h1m2 0h1m5 0h1m1 0h1m10 0h1m2 0h1m2 0h1m1 0h1m-37 1h1m7 0h1m3 0h1m0 0h1m21 0h1m4 0h1m2 0h1m-54 1h1m5 0h1m35 0h1m0 0h1m-31 1h1m1 0h1m26 0h1m0 0h1m3 0h1m1 0h1m39 0h1m-67 1h1m18 0h1m1 0h1m1 0h1m4 0h1m-48 1h1m32 0h1m7 0h1m1 0h1m47 0h1m-87 1h1m0 0h1m0 0h1m26 0h1m3 0h1m1 0h1m0 0h1m-36 1h1m5 0h1m25 0h1m10 0h1m25 0h1m-82 1h1m16 0h1m26 0h1m39 0h1m-75 1h1m3 1h1m41 0h1m0 0h1m-49 1h1m0 0h1m2 0h1m29 0h1m0 0h1m0 0h1m6 0h1m1 0h1m-38 1h1m21 0h1m6 0h1m2 0h1m9 0h1m3 0h1m23 0h1m-94 1h1m49 0h1m3 0h1m2 0h1m40 0h1m4 1h1m-86 1h1m0 0h1m4 0h1m28 0h1m0 0h1m0 0h1m21 0h1m-28 1h1m0 0h1m3 0h1m-47 1h1m7 0h1m3 0h1m29 0h1m-34 1h1m31 0h1m0 0h1m7 0h1m1 0h1m-56 1h1m12 0h1m33 0h1m6 0h1m-52 1h1m5 0h1m0 0h1m33 0h1m3 0h1m41 0h1m-81 1h1m32 0h1m3 0h1m49 0h1m-60 1h1m2 1h1m2 0h1m1 0h1m59 0h1m-104 1h1m2 0h1m2 0h1m34 0h1m5 0h1m16 0h1m16 0h1m1 0h1m-85 1h1m1 0h1m4 0h1m0 0h1m7 0h1m20 0h1m1 0h1m20 0h1m7 0h1m3 0h1m-67 1h1m0 0h1m0 0h1m2 0h1m23 0h1m2 0h1m19 0h1m-69 1h1m7 0h1m4 0h1m7 0h1m27 0h1m1 0h1m21 0h1m-62 1h1m0 0h1m4 0h1m39 0h1m42 0h1m-92 1h1m9 0h1m28 0h1m0 0h1m1 0h1m4 0h1m7 0h1m21 0h1m18 0h1m-102 1h1m1 0h1m3 0h1m3 0h1m2 0h1m1 0h1m32 0h1m37 0h1m-74 1h1m0 0h1m2 0h1m19 0h1m2 0h1m3 0h1m1 0h1m25 0h1m13 0h1m27 0h1m-116 1h1m1 0h1m0 0h1m4 0h1m1 0h1m0 0h1m2 0h1m0 0h1m2 0h1m2 0h1m16 0h1m1 0h1m4 0h1m-42 1h1m3 0h1m5 0h1m24 0h1m16 0h1m3 0h1m33 0h1m2 0h1m-95 1h1m4 0h1m1 0h1m3 0h1m27 0h1m10 0h1m36 0h1m-81 1h1m36 0h1m46 0h1m10 0h1m-117 1h1m22 0h1m0 0h1m22 0h1m12 0h1m40 0h1m2 0h1m-90 1h1m16 0h1m8 0h1m2 0h1m6 0h1m5 0h1m37 0h1m-81 1h1m8 0h1m0 0h1m4 0h1m13 0h1m3 0h1m2 0h1m1 0h1m1 0h1m17 0h1m5 0h1m-73 1h1m2 0h1m11 0h1m5 0h1m0 0h1m0 0h1m0 0h1m1 0h1m10 0h1m5 0h1m2 0h1m6 0h1m5 0h1m50 0h1m-96 1h1m7 0h1m12 0h1m5 0h1m1 0h1m5 0h1m-54 1h1m15 0h1m2 0h1m2 0h1m1 0h1m2 0h1m0 0h1m2 0h1m2 0h1m2 0h1m4 0h1m0 0h1m4 0h1m1 0h1m1 0h1m2 0h1m6 0h1m-46 1h1m0 0h1m3 0h1m9 0h1m5 0h1m5 0h1m2 0h1m4 0h1m0 0h1m-48 1h1m1 0h1m7 0h1m3 0h1m0 0h1m1 0h1m0 0h1m2 0h1m17 0h1m-22 1h1m20 0h1m0 0h1m1 0h1m48 0h1m-82 1h1m12 0h1m3 0h1m5 0h1m0 0h1m5 0h1m2 0h1m-23 1h1m2 0h1m0 0h1m7 0h1m7 0h1m2 0h1m17 0h1m-48 1h1m1 0h1m1 0h1m1 0h1m1 0h1m6 0h1m1 0h1m23 0h1m50 0h1m-109 1h1m4 0h1m8 0h1m10 0h1m0 0h1m0 0h1m2 0h1m3 0h1m0 0h1m2 0h1m-36 1h1m7 0h1m0 0h1m0 0h1m3 0h1m4 0h1m3 0h1m2 0h1m0 0h1m2 0h1m-22 1h1m5 0h1m0 0h1m2 0h1m1 0h1m4 0h1m2 0h1m4 0h1m44 0h1m-65 1h1m0 0h1m11 0h1m0 0h1m9 0h1m-33 1h1m5 0h1m9 0h1m1 0h1m12 0h1m27 0h1m-63 1h1m7 0h1m5 0h1m3 0h1m0 0h1m7 0h1m36 0h1m-55 1h1m3 0h1m1 0h1m7 0h1m-23 1h1m5 0h1m4 0h1m0 0h1m19 0h1m-38 1h1m4 0h1m9 0h1m3 0h1m1 0h1m-16 1h1m5 0h1m57 0h1m-79 1h1m24 0h1m4 0h1m0 0h1m1 0h1m3 0h1m37 0h1m-66 1h1m2 0h1m7 0h1m6 0h1m1 0h1m12 0h1m-35 1h1m8 0h1m8 0h1m0 0h1m3 0h1m3 0h1m64 0h1m-88 1h1m4 0h1m8 0h1m2 0h1m-7 1h1m5 0h1m-14 1h1m3 0h1m8 0h1m3 0h1m-28 1h1m33 0h1m-16 1h1m6 0h1m-18 1h1m10 1h1m65 0h1m-75 1h1m18 0h1m-5 1h1m12 0h1m0 0h1m-43 1h1m29 0h1m17 1h1m-43 1h1m3 0h1m4 0h1m49 1h1m-71 2h1m4 0h1m6 0h1m17 1h1m-21 1h1m-5 4h1m17 8h1" stroke="#0005ff" stroke-width="1.3" fill="none"/><path d="M701 1182h1m-6 1h1m2 0h1m1 0h1m1 0h1m-8 1h1m3 0h1m-11 1h1m1 0h1m5 0h1m1 0h1m-10 1h1m1 0h1m0 0h1m0 0h1m5 0h1m0 0h1m0 0h1m-10 1h1m4 0h1m1 0h1m1 0h1m1 0h1m0 0h1m-17 1h1m5 0h1m3 0h1m1 0h1m0 0h1m2 0h1m-18 1h1m7 0h1m3 0h1m0 0h1m0 0h1m1 0h1m-16 1h1m1 0h1m4 0h1m2 0h1m6 0h1m-22 1h1m0 0h1m0 0h1m0 0h1m1 0h1m7 0h1m1 0h1m3 0h1m1 0h1m-21 1h1m3 0h1m1 0h1m2 0h1m4 0h1m0 0h1m2 0h1m1 0h1m-24 1h1m0 0h1m1 0h1m1 0h1m18 0h1m-21 1h1m0 0h1m15 0h1m0 0h1m-23 1h1m0 0h1m16 0h1m4 0h1m-24 1h1m21 0h1m-22 1h1m1 0h1m16 0h1m1 0h1m-21 1h1m0 0h1m16 0h1m0 0h1m0 0h1m0 0h1m0 0h1m-28 1h1m1 0h1m22 0h1m-29 1h1m1 0h1m3 0h1m20 0h1m2 0h1m-2 1h1m-30 1h1m0 0h1m-1 1h1m2 0h1m0 1h1m21 0h1m-28 1h1m1 1h1m-4 1h1m26 0h1m3 0h1m-6 1h1m-27 1h1m0 0h1m27 0h1m-30 1h1m1 0h1m25 0h1m2 0h1m-34 1h1m1 0h1m23 0h1m1 0h1m-25 1h1m0 0h1m21 0h1m0 0h1m0 0h1m2 0h1m-32 1h1m1 0h1m25 0h1m-3 1h1m0 0h1m-28 1h1m3 0h1m19 0h1m-22 1h1m20 1h1m3 0h1m-26 1h1m19 0h1m1 0h1m1 0h1m0 0h1m-28 1h1m2 0h1m17 0h1m4 0h1m0 0h1m-28 1h1m1 0h1m20 0h1m2 0h1m1 0h1m-30 1h1m0 0h1m1 0h1m21 0h1m1 0h1m-28 1h1m0 0h1m2 0h1m0 0h1m-2 1h1m1 0h1m0 0h1m10 0h1m2 0h1m0 0h1m-22 1h1m7 0h1m11 0h1m-21 1h1m0 0h1m1 0h1m1 0h1m10 0h1m4 0h1m1 0h1m-25 1h1m0 0h1m0 0h1m1 0h1m1 0h1m8 0h1m1 0h1m-19 1h1m4 0h1m0 0h1m0 0h1m2 0h1m11 0h1m-18 1h1m0 0h1m6 0h1m0 0h1m0 0h1m2 0h1m1 0h1m-12 1h1m1 0h1m5 0h1m0 0h1m1 0h1m1 0h1m-19 1h1m7 0h1m0 0h1m3 0h1m1 0h1m-16 1h1m0 0h1m2 0h1m2 0h1m1 0h1m0 0h1m0 0h1m0 0h1m0 0h1m-12 1h1m6 0h1m0 0h1m0 0h1m0 0h1m-9 1h1m1 0h1m0 0h1m1 0h1m0 0h1m2 0h1m-11 1h1m2 0h1m0 0h1m0 0h1m1 0h1m-2 1h1m1 0h1m-3 1h1" stroke="#005aff" stroke-width="1.3" fill="none"/><path d="M696 1185h1m1 0h1m-1 1h1m1 0h1m-3 1h1m1 0h1m1 0h1m-7 1h1m1 0h1m-4 1h1m5 0h1m0 0h1m-10 1h1m0 0h1m3 0h1m0 0h1m0 0h1m1 0h1m-12 1h1m3 0h1m1 0h1m0 0h1m0 0h1m0 0h1m0 0h1m0 0h1m2 0h1m-19 1h1m2 0h1m2 0h1m0 0h1m1 0h1m0 0h1m0 0h1m3 0h1m2 0h1m-19 1h1m4 0h1m1 0h1m2 0h1m2 0h1m2 0h1m-18 1h1m5 0h1m2 0h1m0 0h1m1 0h1m0 0h1m0 0h1m4 0h1m-16 1h1m-5 1h1m0 0h1m1 0h1m-6 1h1m0 0h1m1 0h1m0 0h1m12 0h1m-17 1h1m1 0h1m1 0h1m10 0h1m1 0h1m-18 1h1m1 0h1m0 0h1m12 0h1m2 0h1m-21 1h1m21 0h1m-6 1h1m3 0h1m-3 1h1m0 0h1m0 0h1m-25 1h1m2 0h1m17 0h1m0 0h1m1 0h1m-24 1h1m2 0h1m-5 1h1m20 0h1m0 0h1m0 0h1m-23 1h1m18 0h1m0 0h1m2 0h1m-26 1h1m2 0h1m20 0h1m0 0h1m-5 1h1m-20 1h1m22 0h1m-27 1h1m23 0h1m-26 1h1m1 0h1m1 0h1m19 0h1m-23 1h1m17 0h1m0 0h1m2 0h1m-22 1h1m0 0h1m21 0h1m-26 1h1m21 0h1m-25 1h1m0 0h1m1 0h1m18 0h1m1 0h1m-3 1h1m3 0h1m-27 1h1m20 0h1m0 0h1m0 0h1m0 0h1m0 0h1m-25 1h1m2 0h1m3 0h1m15 0h1m-27 1h1m23 0h1m1 0h1m-21 1h1m2 0h1m0 0h1m10 0h1m1 0h1m1 0h1m0 0h1m-23 1h1m2 0h1m18 0h1m0 0h1m-23 1h1m2 0h1m0 0h1m1 0h1m9 0h1m-17 1h1m2 0h1m6 0h1m0 0h1m2 0h1m-16 1h1m0 0h1m0 0h1m3 0h1m0 0h1m1 0h1m10 0h1m-21 1h1m3 0h1m2 0h1m1 0h1m1 0h1m0 0h1m-6 1h1m0 0h1m1 0h1m7 0h1m-11 1h1m1 0h1m-9 1h1m3 0h1m0 0h1m3 0h1m4 0h1m-13 1h1m1 0h1m6 0h1m-9 1h1m0 0h1m0 0h1m-3 1h1m8 0h1" stroke="#00afff" stroke-width="1.3" fill="none"/><path d="M698 1185h1m-8 3h1m3 0h1m3 0h1m2 0h1m-7 1h1m2 1h1m1 0h1m-9 1h1m9 0h1m-10 1h1m3 0h1m1 0h1m3 0h1m-12 1h1m3 0h1m2 0h1m-4 1h1m0 0h1m0 0h1m0 0h1m-18 1h1m2 0h1m3 0h1m1 0h1m0 0h1m0 0h1m2 0h1m0 0h1m2 0h1m0 0h1m-14 1h1m2 0h1m3 0h1m1 0h1m0 0h1m0 0h1m0 0h1m-15 1h1m2 0h1m1 0h1m1 0h1m0 0h1m3 0h1m-13 1h1m1 0h1m6 0h1m4 0h1m1 0h1m-16 1h1m10 0h1m2 0h1m1 0h1m-20 1h1m12 0h1m2 0h1m0 0h1m-19 1h1m16 0h1m-19 1h1m0 0h1m17 0h1m0 0h1m-23 1h1m3 0h1m15 0h1m2 0h1m-20 1h1m15 0h1m0 0h1m0 0h1m1 0h1m-24 1h1m18 0h1m-23 1h1m4 0h1m16 0h1m0 0h1m0 0h1m0 0h1m-23 2h1m2 0h1m15 0h1m-19 1h1m-3 1h1m0 0h1m15 0h1m1 0h1m-19 1h1m2 0h1m15 0h1m-24 1h1m0 0h1m0 0h1m1 0h1m15 0h1m1 0h1m4 0h1m-26 1h1m1 0h1m1 0h1m13 0h1m-18 1h1m1 0h1m-3 1h1m0 0h1m0 0h1m12 0h1m0 0h1m0 0h1m-15 1h1m14 0h1m-17 1h1m0 0h1m11 0h1m2 0h1m0 0h1m-20 1h1m2 0h1m0 0h1m4 0h1m7 0h1m-19 1h1m0 0h1m1 0h1m10 0h1m0 0h1m0 0h1m0 0h1m0 0h1m1 0h1m-19 1h1m2 0h1m7 0h1m0 0h1m0 0h1m1 0h1m0 0h1m0 0h1m-18 1h1m1 0h1m1 0h1m10 0h1m-13 1h1m1 0h1m1 0h1m0 0h1m0 0h1m-13 1h1m2 0h1m3 0h1m1 0h1m2 0h1m0 0h1m0 0h1m0 0h1m-15 1h1m2 0h1m0 0h1m4 0h1m1 0h1m1 0h1m0 0h1m-14 1h1m4 0h1m0 0h1m1 0h1m1 0h1m-2 1h1m2 0h1m2 0h1m-15 1h1m2 0h1m0 0h1m0 0h1m1 0h1m1 0h1m-13 1h1m3 0h1m3 0h1m2 0h1m-3 1h1m1 0h1m-6 1h1m0 2h1" stroke="#05fff9" stroke-width="1.3" fill="none"/><path d="M696 1192h1m2 0h1m2 1h1m-7 1h1m1 0h1m-9 1h1m3 0h1m3 0h1m0 0h1m-10 1h1m0 0h1m0 0h1m0 0h1m1 0h1m0 0h1m0 0h1m0 0h1m-9 1h1m0 0h1m-1 1h1m0 0h1m3 0h1m0 0h1m0 0h1m0 0h1m3 0h1m-15 1h1m0 0h1m1 0h1m0 0h1m1 0h1m0 0h1m0 0h1m1 0h1m0 0h1m0 0h1m-2 1h1m0 0h1m0 0h1m-16 1h1m10 0h1m0 0h1m0 0h1m1 0h1m-17 1h1m-4 1h1m0 0h1m2 0h1m-4 1h1m1 0h1m0 0h1m0 0h1m12 0h1m0 0h1m0 0h1m-22 1h1m1 0h1m0 0h1m15 0h1m0 0h1m-19 1h1m16 0h1m0 0h1m0 0h1m-21 1h1m0 0h1m0 0h1m16 0h1m-21 1h1m1 0h1m13 0h1m0 0h1m0 0h1m2 0h1m-22 1h1m0 0h1m15 0h1m1 0h1m-20 1h1m2 0h1m14 0h1m0 0h1m-20 1h1m1 0h1m0 0h1m12 0h1m0 0h1m3 0h1m-22 1h1m1 0h1m0 0h1m16 0h1m-19 1h1m0 0h1m0 0h1m9 0h1m-12 1h1m-2 1h1m0 0h1m9 0h1m1 0h1m-19 1h1m1 0h1m2 0h1m5 0h1m6 0h1m-8 1h1m0 0h1m3 0h1m-11 1h1m0 0h1m1 0h1m0 0h1m3 0h1m0 0h1m0 0h1m0 0h1m1 0h1m-16 1h1m3 0h1m1 0h1m2 0h1m1 0h1m2 0h1m-12 1h1m3 0h1m2 0h1m0 0h1m-9 1h1m5 0h1m0 0h1m1 0h1m1 0h1m-12 1h1m0 0h1m0 0h1m0 0h1m2 0h1m0 0h1m0 0h1m-8 1h1m1 0h1m1 0h1m0 0h1m1 0h1m0 0h1m-11 1h1m0 0h1m2 0h1m0 0h1m-3 1h1m0 0h1m-3 2h1" stroke="#5affa4" stroke-width="1.3" fill="none"/><path d="M692 1195h1m-2 1h1m2 0h1m-3 1h1m0 0h1m1 0h1m-6 1h1m0 0h1m1 0h1m1 0h1m1 0h1m-8 1h1m1 0h1m0 0h1m3 0h1m0 0h1m0 0h1m-11 1h1m7 0h1m1 0h1m0 0h1m-15 1h1m0 0h1m2 0h1m5 0h1m1 0h1m0 0h1m0 0h1m-14 1h1m8 0h1m2 0h1m-15 1h1m0 0h1m1 0h1m-1 1h1m9 0h1m3 0h1m-19 1h1m14 0h1m-15 1h1m1 0h1m9 0h1m1 0h1m1 0h1m0 0h1m0 0h1m-20 1h1m1 0h1m0 0h1m11 0h1m0 0h1m-14 1h1m10 0h1m0 0h1m-12 1h1m10 0h1m-17 1h1m1 0h1m-3 1h1m1 0h1m10 0h1m-13 1h1m2 0h1m9 0h1m2 0h1m-17 1h1m11 0h1m0 0h1m-14 1h1m3 0h1m4 0h1m0 0h1m2 0h1m-14 1h1m0 0h1m0 0h1m1 0h1m4 0h1m-10 1h1m2 0h1m0 0h1m5 0h1m0 0h1m1 0h1m-14 1h1m3 0h1m1 0h1m1 0h1m4 0h1m-13 1h1m3 0h1m0 0h1m3 0h1m0 0h1m-9 1h1m0 0h1m0 0h1m1 0h1m0 0h1m0 0h1m0 0h1m-7 1h1m1 0h1m0 0h1m0 0h1m-6 1h1m0 0h1m1 0h1m0 0h1m0 0h1m-6 1h1m0 0h1m0 0h1m0 0h1m2 0h1m-7 1h1m1 0h1m0 0h1m-7 1h1m6 0h1" stroke="#afff4f" stroke-width="1.3" fill="none"/><path d="M699 1195h1m-9 2h1m0 0h1m1 0h1m0 0h1m1 0h1m-6 1h1m0 0h1m0 0h1m0 0h1m2 0h1m-10 1h1m1 0h1m0 0h1m1 0h1m1 0h1m2 0h1m-12 1h1m0 0h1m1 0h1m1 0h1m2 0h1m1 0h1m-11 1h1m1 0h1m2 0h1m0 0h1m2 0h1m0 0h1m-12 1h1m6 0h1m0 0h1m1 0h1m-9 1h1m6 0h1m0 0h1m1 0h1m0 0h1m-13 1h1m4 0h1m2 0h1m2 0h1m-14 1h1m0 0h1m0 0h1m8 0h1m0 0h1m0 0h1m0 0h1m-2 1h1m0 0h1m-15 1h1m11 0h1m-13 1h1m8 0h1m2 0h1m0 0h1m-13 1h1m1 0h1m8 0h1m0 0h1m0 0h1m-13 1h1m8 0h1m0 0h1m-13 1h1m0 0h1m0 0h1m7 0h1m1 0h1m-15 1h1m1 0h1m1 0h1m2 0h1m2 0h1m0 0h1m0 0h1m-11 1h1m0 0h1m0 0h1m1 0h1m3 0h1m0 0h1m2 0h1m-16 1h1m2 0h1m5 0h1m1 0h1m2 0h1m0 0h1m-11 1h1m0 0h1m1 0h1m0 0h1m0 0h1m-8 1h1m0 0h1m0 0h1m0 0h1m0 0h1m0 0h1m0 0h1m2 0h1m0 0h1m-9 1h1m0 0h1m0 0h1m0 0h1m3 0h1m-9 1h1m1 0h1m1 0h1m0 0h1m0 0h1m-6 1h1m0 0h1m1 0h1m0 0h1m2 0h1m-8 1h1m1 1h1m1 0h1m-3 2h1" stroke="#fff900" stroke-width="1.3" fill="none"/><path d="M695 1198h1m-1 1h1m1 0h1m-6 1h1m4 0h1m-8 1h1m0 0h1m0 0h1m0 0h1m1 0h1m0 0h1m0 0h1m0 0h1m-10 1h1m4 0h1m1 0h1m0 0h1m0 0h1m-11 1h1m0 0h1m0 0h1m1 0h1m2 0h1m0 0h1m0 0h1m0 0h1m-13 1h1m1 0h1m0 0h1m0 0h1m1 0h1m4 0h1m-11 1h1m0 0h1m0 0h1m6 0h1m0 0h1m0 0h1m-11 1h1m0 0h1m0 0h1m6 0h1m-12 1h1m0 0h1m0 0h1m0 0h1m0 0h1m6 0h1m-13 1h1m0 0h1m0 0h1m0 0h1m3 0h1m3 0h1m1 0h1m1 0h1m-15 1h1m0 0h1m0 0h1m0 0h1m3 0h1m1 0h1m0 0h1m1 0h1m-13 1h1m6 0h1m1 0h1m0 0h1m1 0h1m-13 1h1m0 0h1m0 0h1m0 0h1m1 0h1m0 0h1m0 0h1m0 0h1m0 0h1m0 0h1m-10 1h1m1 0h1m0 0h1m0 0h1m0 0h1m0 0h1m0 0h1m0 0h1m-9 1h1m0 0h1m1 0h1m0 0h1m0 0h1m0 0h1m-9 1h1m1 0h1m0 0h1m0 0h1m0 0h1m0 0h1m0 0h1m1 0h1m0 0h1m-7 1h1m2 0h1m0 0h1m-8 1h1m0 0h1m1 0h1m5 0h1m-6 1h1m2 0h1m-9 2h1" stroke="#ffa400" stroke-width="1.3" fill="none"/><path d="M691 1200h1m0 0h1m0 0h1m1 0h1m0 0h1m-6 1h1m0 0h1m0 0h1m0 0h1m-4 1h1m1 0h1m2 0h1m1 0h1m-8 1h1m1 0h1m0 0h1m0 0h1m-7 1h1m0 0h1m0 0h1m1 0h1m0 0h1m3 0h1m-10 1h1m0 0h1m1 0h1m0 0h1m1 0h1m1 0h1m0 0h1m-10 1h1m1 0h1m0 0h1m1 0h1m2 0h1m0 0h1m-12 1h1m0 0h1m1 0h1m0 0h1m0 0h1m2 0h1m0 0h1m0 0h1m-7 1h1m2 0h1m0 0h1m1 0h1m-11 1h1m2 0h1m0 0h1m0 0h1m1 0h1m0 0h1m0 0h1m0 0h1m-9 1h1m0 0h1m0 0h1m2 0h1m-7 1h1m1 0h1m0 0h1m0 0h1m0 0h1m1 0h1m-8 1h1m0 0h1m0 0h1m0 0h1m0 0h1m0 0h1m-5 1h1m1 0h1m-2 1h1m-2 1h1m2 0h1m-2 2h1" stroke="#ff4f00" stroke-width="1.3" fill="none"/><path d="M692 1202h1m0 0h1m0 0h1m-5 1h1m0 0h1m0 0h1m1 0h1m0 0h1m1 0h1m-7 1h1m0 0h1m0 0h1m0 0h1m0 0h1m-8 1h1m0 0h1m1 0h1m0 0h1m0 0h1m0 0h1m0 0h1m-5 1h1m0 0h1m0 0h1m0 0h1m0 0h1m-8 1h1m0 0h1m0 0h1m1 0h1m0 0h1m0 0h1m-6 1h1m1 0h1m0 0h1m0 0h1m0 0h1m-7 1h1m0 0h1m0 0h1m0 0h1m0 0h1m0 0h1m-3 1h1m0 0h1m1 0h1m0 0h1m-8 1h1m0 0h1m4 0h1m-2 1h1" stroke="#f90000" stroke-width="1.3" fill="none"/></g><g clip-path="url(#clipD13)"><path d="M1034 1112h1m-15 9h1m-13 11h1m-11 1h1m8 2h1m-10 5h1m19 2h1m-8 3h1m15 1h1m-15 1h1m13 1h1m-46 1h1m20 0h1m2 0h1m-23 1h1m0 0h1m14 0h1m-18 1h1m7 1h1m0 0h1m8 0h1m1 0h1m10 0h1m15 0h1m-54 2h1m33 0h1m-34 1h1m34 0h1m2 0h1m10 0h1m-34 1h1m14 0h1m-31 1h1m1 0h1m3 0h1m7 0h1m15 0h1m1 0h1m-28 1h1m4 0h1m3 0h1m17 0h1m8 0h1m11 0h1m-68 1h1m19 0h1m1 0h1m15 0h1m13 0h1m-31 1h1m10 0h1m1 0h1m30 0h1m-40 1h1m10 0h1m3 0h1m0 0h1m5 0h1m-54 1h1m10 0h1m17 0h1m0 0h1m9 0h1m4 0h1m10 0h1m16 0h1m-79 1h1m18 0h1m5 0h1m3 0h1m7 0h1m6 0h1m16 0h1m-44 1h1m16 0h1m4 0h1m5 0h1m0 0h1m24 0h1m1 0h1m-51 1h1m9 0h1m8 0h1m1 0h1m2 0h1m2 0h1m2 0h1m11 0h1m-60 1h1m12 0h1m1 0h1m0 0h1m1 0h1m0 0h1m3 0h1m2 0h1m8 0h1m17 0h1m-42 1h1m1 0h1m2 0h1m2 0h1m26 0h1m16 0h1m-61 1h1m10 0h1m2 0h1m3 0h1m0 0h1m3 0h1m5 0h1m0 0h1m2 0h1m3 0h1m9 0h1m-38 1h1m18 0h1m1 0h1m2 0h1m6 0h1m0 0h1m1 0h1m4 0h1m-39 1h1m24 0h1m6 0h1m11 0h1m-58 1h1m5 0h1m6 0h1m4 0h1m19 0h1m2 0h1m10 0h1m-40 1h1m26 0h1m0 0h1m9 0h1m-60 1h1m12 0h1m6 0h1m0 0h1m13 0h1m11 0h1m1 0h1m2 0h1m5 0h1m16 0h1m-62 1h1m1 0h1m14 0h1m7 0h1m7 0h1m3 0h1m0 0h1m-55 1h1m5 0h1m3 0h1m5 0h1m2 0h1m17 0h1m5 0h1m0 0h1m9 0h1m5 0h1m-45 1h1m12 0h1m1 0h1m3 0h1m14 0h1m5 0h1m3 0h1m2 0h1m-60 1h1m5 0h1m5 0h1m3 0h1m5 0h1m15 0h1m7 0h1m14 0h1m7 0h1m-67 1h1m1 0h1m5 0h1m35 0h1m2 0h1m9 0h1m-50 1h1m6 0h1m28 0h1m17 0h1m-16 1h1m1 0h1m-41 1h1m27 0h1m8 0h1m6 0h1m-58 1h1m4 0h1m49 0h1m-44 1h1m39 0h1m-56 1h1m6 0h1m6 0h1m37 0h1m7 0h1m-66 1h1m8 0h1m5 0h1m41 0h1m8 0h1m-73 1h1m12 0h1m10 0h1m38 0h1m0 0h1m-52 1h1m43 0h1m5 0h1m0 0h1m2 0h1m8 0h1m-70 1h1m4 0h1m0 0h1m40 0h1m7 0h1m0 0h1m0 0h1m1 0h1m13 0h1m-61 1h1m46 0h1m8 0h1m-69 1h1m4 0h1m43 0h1m7 0h1m-57 1h1m0 0h1m0 0h1m0 0h1m0 0h1m51 0h1m-60 1h1m12 0h1m40 0h1m1 0h1m4 0h1m0 0h1m-72 1h1m12 0h1m5 0h1m43 0h1m3 0h1m3 0h1m-73 1h1m3 0h1m0 0h1m4 0h1m1 0h1m0 0h1m54 0h1m1 0h1m-84 1h1m10 0h1m11 0h1m0 0h1m51 0h1m2 0h1m12 0h1m-61 1h1m38 0h1m16 0h1m6 0h1m2 0h1m-72 1h1m5 0h1m0 0h1m35 0h1m9 0h1m2 0h1m-66 1h1m1 0h1m3 0h1m1 0h1m50 0h1m-52 1h1m3 0h1m45 0h1m1 0h1m-71 1h1m0 0h1m17 0h1m4 0h1m39 0h1m1 0h1m8 0h1m-72 1h1m14 0h1m2 0h1m1 0h1m35 0h1m3 0h1m3 0h1m10 0h1m3 0h1m-67 1h1m39 0h1m10 0h1m-63 1h1m4 0h1m3 0h1m0 0h1m2 0h1m44 0h1m5 0h1m27 0h1m-96 1h1m10 0h1m-15 1h1m10 0h1m8 0h1m3 0h1m29 0h1m0 0h1m9 0h1m-60 1h1m1 0h1m1 0h1m5 0h1m57 0h1m-80 1h1m17 0h1m0 0h1m0 0h1m5 0h1m39 0h1m0 0h1m9 0h1m4 0h1m-92 1h1m69 0h1m5 0h1m2 0h1m5 0h1m0 0h1m4 0h1m-75 1h1m48 0h1m7 0h1m2 0h1m16 0h1m-83 1h1m2 0h1m11 0h1m7 0h1m6 0h1m22 0h1m0 0h1m9 0h1m5 0h1m14 0h1m-87 1h1m10 0h1m3 0h1m1 0h1m45 0h1m3 0h1m5 0h1m-60 1h1m0 0h1m6 0h1m30 0h1m3 0h1m0 0h1m-45 1h1m0 0h1m44 0h1m6 0h1m-85 1h1m26 0h1m0 0h1m2 0h1m34 0h1m0 0h1m1 0h1m4 0h1m3 0h1m6 0h1m-63 1h1m3 0h1m0 0h1m45 0h1m-48 1h1m1 0h1m14 0h1m29 0h1m-59 1h1m11 0h1m3 0h1m12 0h1m22 0h1m4 0h1m5 0h1m-57 1h1m20 0h1m1 0h1m30 0h1m-50 1h1m5 0h1m0 0h1m0 0h1m29 0h1m0 0h1m12 0h1m4 0h1m-67 1h1m8 0h1m5 0h1m0 0h1m18 0h1m5 0h1m4 0h1m3 0h1m0 0h1m9 0h1m17 0h1m-75 1h1m2 0h1m2 0h1m1 0h1m1 0h1m0 0h1m39 0h1m-64 1h1m2 0h1m6 0h1m3 0h1m9 0h1m2 0h1m9 0h1m0 0h1m8 0h1m3 0h1m11 0h1m-86 1h1m26 0h1m4 0h1m1 0h1m4 0h1m5 0h1m1 0h1m33 0h1m24 0h1m-82 1h1m17 0h1m2 0h1m23 0h1m0 0h1m0 0h1m6 0h1m3 0h1m-45 1h1m10 0h1m20 0h1m2 0h1m1 0h1m8 0h1m18 0h1m-70 1h1m5 0h1m8 0h1m24 0h1m15 0h1m6 0h1m-66 1h1m11 0h1m4 0h1m4 0h1m6 0h1m-42 1h1m3 0h1m8 0h1m1 0h1m1 0h1m1 0h1m5 0h1m4 0h1m11 0h1m11 0h1m1 0h1m-49 1h1m4 0h1m13 0h1m0 0h1m12 0h1m1 0h1m15 0h1m19 0h1m-76 1h1m11 0h1m6 0h1m0 0h1m4 0h1m0 0h1m0 0h1m1 0h1m0 0h1m2 0h1m1 0h1m1 0h1m3 0h1m3 0h1m0 0h1m1 0h1m3 0h1m-42 1h1m2 0h1m1 0h1m0 0h1m1 0h1m4 0h1m13 0h1m7 0h1m12 0h1m-67 1h1m13 0h1m8 0h1m2 0h1m6 0h1m2 0h1m0 0h1m3 0h1m0 0h1m4 0h1m-32 1h1m13 0h1m6 0h1m1 0h1m2 0h1m1 0h1m1 0h1m11 0h1m0 0h1m-49 1h1m2 0h1m0 0h1m18 0h1m5 0h1m3 0h1m5 0h1m-54 1h1m0 0h1m8 0h1m9 0h1m5 0h1m0 0h1m1 0h1m11 0h1m14 0h1m-36 1h1m2 0h1m7 0h1m2 0h1m6 0h1m7 0h1m12 0h1m0 0h1m-39 1h1m2 0h1m12 0h1m4 0h1m2 0h1m-42 1h1m15 0h1m20 0h1m-31 1h1m1 0h1m10 0h1m7 0h1m9 0h1m7 0h1m-30 1h1m5 0h1m1 0h1m21 0h1m-44 1h1m5 0h1m18 0h1m-27 1h1m15 0h1m2 0h1m10 0h1m2 1h1m-33 1h1m12 0h1m21 0h1m4 0h1m-16 1h1m0 0h1m3 0h1m-2 1h1m-25 1h1m6 0h1m2 1h1m2 0h1m8 0h1m-8 1h1m19 0h1m-22 1h1m-13 1h1m6 0h1m17 0h1m-27 1h1m13 0h1m13 0h1m-43 1h1m11 1h1m32 0h1m-82 2h1m53 0h1m7 0h1m-21 1h1m31 1h1m-35 1h1m31 5h1m-11 1h1m-23 7h1m3 3h1" stroke="#0005ff" stroke-width="1.3" fill="none"/><path d="M993 1167h1m0 0h1m-3 1h1m2 0h1m-7 1h1m0 0h1m1 1h1m0 0h1m2 0h1m2 0h1m-8 1h1m0 0h1m2 0h1m0 0h1m0 0h1m-18 1h1m1 0h1m5 0h1m3 0h1m5 0h1m0 0h1m-20 1h1m2 0h1m0 0h1m7 0h1m4 0h1m-19 1h1m1 0h1m7 0h1m6 0h1m1 0h1m0 0h1m0 0h1m-25 1h1m5 0h1m2 0h1m1 0h1m10 0h1m3 0h1m-27 1h1m0 0h1m0 0h1m9 0h1m2 0h1m-10 1h1m11 0h1m5 0h1m-30 1h1m2 0h1m2 0h1m0 0h1m17 0h1m5 0h1m-24 1h1m17 0h1m1 0h1m0 0h1m-30 1h1m0 0h1m0 0h1m6 0h1m21 0h1m0 0h1m-36 1h1m32 0h1m0 0h1m0 0h1m0 0h1m0 0h1m-42 1h1m0 0h1m1 0h1m8 0h1m23 0h1m2 0h1m-32 1h1m26 0h1m1 0h1m-35 1h1m4 0h1m23 0h1m4 0h1m1 0h1m-44 1h1m0 0h1m4 0h1m29 0h1m7 0h1m-44 1h1m3 0h1m0 0h1m2 0h1m31 0h1m1 0h1m1 0h1m-45 1h1m3 0h1m1 0h1m27 0h1m1 0h1m1 0h1m1 0h1m0 0h1m-38 1h1m-4 1h1m1 0h1m3 0h1m27 0h1m-38 1h1m0 0h1m0 0h1m0 0h1m0 0h1m33 0h1m0 0h1m1 0h1m0 0h1m-42 1h1m34 0h1m3 0h1m2 0h1m-45 1h1m35 0h1m7 0h1m-39 1h1m29 0h1m7 0h1m-46 1h1m4 0h1m31 0h1m0 0h1m0 0h1m1 0h1m-39 1h1m32 0h1m0 0h1m2 0h1m0 0h1m0 0h1m-4 1h1m0 0h1m2 0h1m-42 1h1m35 0h1m-40 1h1m1 0h1m34 0h1m6 0h1m-47 1h1m4 0h1m32 0h1m2 0h1m1 0h1m-7 1h1m0 0h1m4 0h1m-1 1h1m-43 1h1m6 0h1m-10 1h1m5 0h1m31 0h1m-35 1h1m1 0h1m32 0h1m0 0h1m-41 1h1m5 0h1m29 0h1m4 0h1m-43 1h1m2 0h1m0 0h1m27 0h1m3 0h1m6 0h1m-44 1h1m1 0h1m3 0h1m25 0h1m8 0h1m0 0h1m-44 1h1m1 0h1m1 0h1m1 0h1m28 0h1m1 0h1m3 0h1m-38 1h1m1 0h1m1 0h1m31 0h1m0 0h1m-44 1h1m1 0h1m0 0h1m4 0h1m2 0h1m22 0h1m0 0h1m4 0h1m2 0h1m-41 1h1m2 0h1m4 0h1m1 0h1m28 0h1m-13 1h1m4 0h1m1 0h1m6 0h1m-46 1h1m3 0h1m7 0h1m20 0h1m0 0h1m0 0h1m1 0h1m1 0h1m-40 1h1m0 0h1m2 0h1m3 0h1m4 0h1m13 0h1m7 0h1m0 0h1m-33 1h1m0 0h1m2 0h1m1 0h1m3 0h1m0 0h1m15 0h1m1 0h1m1 0h1m0 0h1m1 0h1m0 0h1m-40 1h1m0 0h1m1 0h1m1 0h1m1 0h1m5 0h1m8 0h1m2 0h1m0 0h1m5 0h1m3 0h1m0 0h1m-34 1h1m0 0h1m1 0h1m5 0h1m15 0h1m6 0h1m-34 1h1m0 0h1m4 0h1m1 0h1m8 0h1m4 0h1m5 0h1m-27 1h1m5 0h1m18 0h1m1 0h1m-22 1h1m7 0h1m1 0h1m6 0h1m0 0h1m-23 1h1m7 0h1m4 0h1m0 0h1m0 0h1m2 0h1m4 0h1m-22 1h1m1 0h1m0 0h1m1 0h1m1 0h1m3 0h1m2 0h1m-16 1h1m0 0h1m8 0h1m-8 1h1m4 0h1m1 0h1m1 0h1m4 0h1m-19 1h1m0 0h1m1 0h1m1 0h1m1 0h1m3 0h1m1 0h1m0 0h1m-12 1h1m3 0h1m3 0h1m-4 1h1m0 0h1m0 0h1m-4 1h1m2 0h1" stroke="#005aff" stroke-width="1.3" fill="none"/><path d="M996 1172h1m-8 1h1m0 1h1m4 0h1m-13 1h1m1 0h1m6 0h1m0 0h1m0 0h1m-10 1h1m1 0h1m0 0h1m4 0h1m5 0h1m-20 1h1m5 0h1m1 0h1m0 0h1m1 0h1m3 0h1m-10 1h1m5 0h1m1 0h1m1 0h1m3 0h1m-22 1h1m5 0h1m1 0h1m12 0h1m-28 1h1m1 0h1m0 0h1m1 0h1m20 0h1m-26 1h1m3 0h1m0 0h1m0 0h1m1 0h1m11 0h1m4 0h1m-31 1h1m2 0h1m20 0h1m1 0h1m0 0h1m0 0h1m-26 1h1m1 0h1m3 0h1m14 0h1m3 0h1m0 0h1m-27 1h1m0 0h1m2 0h1m17 0h1m1 0h1m0 0h1m0 0h1m-31 1h1m1 0h1m24 0h1m-27 1h1m0 0h1m1 0h1m23 0h1m1 0h1m-7 1h1m3 0h1m1 0h1m-33 1h1m2 0h1m1 0h1m22 0h1m4 0h1m1 0h1m-34 2h1m0 0h1m24 0h1m-33 1h1m31 0h1m3 0h1m-36 1h1m5 0h1m26 0h1m2 0h1m0 0h1m-39 1h1m0 0h1m0 0h1m2 0h1m33 0h1m-36 1h1m25 0h1m3 0h1m-36 1h1m0 0h1m3 0h1m27 0h1m1 0h1m-37 1h1m3 0h1m28 0h1m0 0h1m0 0h1m-32 1h1m1 0h1m-3 1h1m0 1h1m24 0h1m1 0h1m0 0h1m0 0h1m0 0h1m-35 1h1m0 0h1m0 0h1m0 0h1m25 0h1m-31 1h1m5 0h1m29 0h1m-40 1h1m1 0h1m-1 1h1m31 0h1m-28 1h1m22 0h1m2 0h1m-4 1h1m4 0h1m-37 1h1m0 0h1m26 0h1m0 0h1m5 0h1m0 0h1m-37 1h1m2 0h1m0 0h1m4 0h1m-12 1h1m1 0h1m2 0h1m26 0h1m1 0h1m-34 1h1m6 0h1m2 0h1m15 0h1m-19 1h1m0 0h1m-6 1h1m22 0h1m-20 1h1m2 0h1m10 0h1m0 0h1m0 0h1m3 0h1m-20 1h1m0 0h1m1 0h1m4 0h1m0 0h1m3 0h1m5 0h1m-18 1h1m10 0h1m5 0h1m-26 1h1m2 0h1m3 0h1m1 0h1m2 0h1m1 0h1m0 0h1m0 0h1m1 0h1m2 0h1m-21 1h1m2 0h1m10 0h1m0 0h1m1 0h1m-19 1h1m6 0h1m4 0h1m3 0h1m1 0h1m-13 1h1m8 0h1m4 0h1m-14 1h1m0 0h1m1 0h1m0 0h1m2 0h1m0 0h1m1 0h1m-16 1h1m3 0h1m6 0h1m-7 1h1m-5 1h1m0 0h1m0 0h1m2 0h1m1 0h1m-7 1h1m5 0h1" stroke="#00afff" stroke-width="1.3" fill="none"/><path d="M983 1175h1m6 0h1m3 1h1m-8 1h1m2 0h1m0 0h1m1 0h1m-12 1h1m3 0h1m1 0h1m1 0h1m1 0h1m0 0h1m1 0h1m-12 1h1m0 0h1m1 0h1m1 0h1m0 0h1m2 0h1m1 0h1m-18 1h1m8 0h1m-9 1h1m13 0h1m2 0h1m-20 1h1m0 0h1m2 0h1m0 0h1m9 0h1m0 0h1m0 0h1m-26 1h1m3 0h1m0 0h1m0 0h1m0 0h1m19 0h1m-26 1h1m2 0h1m0 0h1m4 0h1m14 0h1m1 0h1m-22 1h1m16 0h1m0 0h1m-24 1h1m1 0h1m16 0h1m2 0h1m2 0h1m4 0h1m-30 1h1m0 0h1m18 0h1m0 0h1m-27 1h1m25 0h1m-23 1h1m1 0h1m-7 2h1m0 0h1m1 0h1m0 0h1m19 0h1m0 0h1m0 0h1m-32 1h1m3 0h1m26 0h1m0 0h1m-28 1h1m24 0h1m-30 1h1m3 0h1m1 0h1m21 0h1m0 0h1m-29 1h1m1 0h1m26 0h1m-29 1h1m0 0h1m25 0h1m1 0h1m3 0h1m-37 1h1m0 0h1m-4 1h1m32 0h1m-30 1h1m0 0h1m0 0h1m1 0h1m19 0h1m-33 1h1m9 0h1m24 0h1m-30 1h1m5 0h1m18 0h1m0 0h1m0 0h1m-30 1h1m0 0h1m0 0h1m0 0h1m0 0h1m0 0h1m21 0h1m1 0h1m-30 1h1m2 0h1m0 0h1m0 0h1m-6 1h1m2 0h1m27 0h1m-29 1h1m0 0h1m19 0h1m1 0h1m2 0h1m-28 1h1m24 0h1m-28 1h1m0 0h1m7 0h1m12 0h1m-24 1h1m0 0h1m1 0h1m-4 1h1m2 0h1m0 0h1m1 0h1m0 0h1m10 0h1m-12 1h1m11 0h1m1 0h1m0 0h1m6 0h1m-30 1h1m6 0h1m12 0h1m4 0h1m-22 1h1m1 0h1m6 0h1m2 0h1m2 0h1m1 0h1m-22 1h1m5 0h1m1 0h1m5 0h1m0 0h1m-10 1h1m1 0h1m0 0h1m6 0h1m2 0h1m-12 1h1m1 0h1m7 0h1m-17 1h1m3 0h1m8 0h1m0 0h1m-13 1h1m2 0h1m0 0h1m0 0h1m-5 1h1m2 0h1m4 0h1m-10 1h1m2 0h1m1 0h1m0 0h1m0 0h1m0 0h1m-11 2h1m6 0h1" stroke="#05fff9" stroke-width="1.3" fill="none"/><path d="M986 1175h1m3 2h1m1 0h1m-9 2h1m5 0h1m-8 1h1m0 0h1m0 0h1m3 0h1m0 0h1m0 0h1m-12 1h1m1 0h1m3 0h1m3 0h1m0 0h1m1 0h1m5 0h1m-27 1h1m1 0h1m2 0h1m0 0h1m2 0h1m0 0h1m1 0h1m1 0h1m0 0h1m1 0h1m0 0h1m2 0h1m0 0h1m-17 1h1m0 0h1m1 0h1m3 0h1m5 0h1m2 0h1m-11 1h1m1 0h1m3 0h1m1 0h1m2 0h1m-21 1h1m16 0h1m-23 1h1m0 0h1m1 0h1m0 0h1m16 0h1m2 0h1m-23 1h1m1 0h1m11 0h1m1 0h1m1 0h1m-21 1h1m15 0h1m0 0h1m1 0h1m0 0h1m-22 1h1m0 0h1m1 0h1m-5 1h1m0 0h1m2 0h1m15 0h1m0 0h1m0 0h1m-2 1h1m-24 1h1m1 0h1m1 0h1m19 0h1m2 0h1m-28 1h1m0 0h1m0 0h1m18 0h1m2 0h1m-28 1h1m4 0h1m0 0h1m-6 1h1m3 0h1m18 0h1m0 0h1m0 0h1m-24 1h1m20 0h1m1 0h1m-25 1h1m0 0h1m22 0h1m-27 1h1m22 0h1m1 0h1m-4 1h1m0 0h1m1 0h1m0 0h1m-27 1h1m0 0h1m21 0h1m0 0h1m-27 1h1m1 0h1m3 0h1m-8 1h1m2 0h1m0 0h1m0 0h1m1 0h1m16 0h1m0 0h1m-24 1h1m2 0h1m17 0h1m0 0h1m-21 1h1m16 0h1m5 0h1m-27 1h1m0 0h1m4 0h1m13 0h1m2 0h1m-20 1h1m14 0h1m0 0h1m-20 1h1m2 0h1m14 0h1m-19 1h1m0 0h1m2 0h1m10 0h1m-9 1h1m3 0h1m3 0h1m1 0h1m-16 1h1m4 0h1m1 0h1m4 0h1m4 0h1m-19 1h1m4 0h1m3 0h1m3 0h1m1 0h1m-14 1h1m2 0h1m6 0h1m-9 1h1m2 0h1m0 0h1m0 0h1m-16 1h1m5 0h1m0 0h1m2 0h1m3 0h1m-9 1h1m0 0h1m3 0h1m2 0h1m0 0h1m-3 1h1m1 0h1m-6 1h1m-5 1h1m6 0h1m-3 1h1" stroke="#5affa4" stroke-width="1.3" fill="none"/><path d="M985 1177h1m-1 2h1m-2 1h1m0 0h1m0 0h1m0 0h1m0 0h1m2 0h1m-8 1h1m3 0h1m0 0h1m1 0h1m-9 1h1m4 0h1m1 0h1m2 0h1m-15 1h1m3 0h1m4 0h1m2 0h1m0 0h1m0 0h1m-15 1h1m1 0h1m0 0h1m2 0h1m2 0h1m0 0h1m-14 1h1m0 0h1m1 0h1m1 0h1m2 0h1m3 0h1m1 0h1m0 0h1m0 0h1m-18 1h1m4 0h1m0 0h1m7 0h1m-17 1h1m1 0h1m0 0h1m0 0h1m11 0h1m0 0h1m-21 1h1m17 0h1m0 0h1m1 0h1m-20 1h1m4 0h1m13 0h1m-20 1h1m1 0h1m14 0h1m0 0h1m-20 1h1m1 0h1m13 0h1m0 0h1m0 0h1m-20 1h1m0 0h1m0 0h1m0 0h1m19 0h1m-23 1h1m17 0h1m1 0h1m-23 1h1m19 0h1m-22 1h1m0 0h1m0 0h1m0 0h1m0 0h1m14 0h1m0 0h1m0 0h1m3 0h1m-7 1h1m3 0h1m-22 1h1m14 0h1m0 0h1m-16 1h1m-5 1h1m3 0h1m-6 1h1m20 0h1m-23 1h1m21 0h1m-23 1h1m1 0h1m0 0h1m12 0h1m1 0h1m1 0h1m-18 1h1m13 0h1m0 0h1m1 0h1m0 0h1m-20 1h1m13 0h1m0 0h1m-21 1h1m1 0h1m3 0h1m2 0h1m8 0h1m0 0h1m-18 1h1m2 0h1m5 0h1m0 0h1m10 0h1m-17 1h1m0 0h1m6 0h1m0 0h1m0 0h1m-14 1h1m1 0h1m0 0h1m3 0h1m3 0h1m3 0h1m-16 1h1m0 0h1m2 0h1m0 0h1m5 0h1m1 0h1m1 0h1m-11 1h1m2 0h1m-8 1h1m0 0h1m2 0h1m3 0h1m1 0h1m-8 1h1m2 0h1m0 0h1m-2 1h1m0 0h1" stroke="#afff4f" stroke-width="1.3" fill="none"/><path d="M986 1179h1m3 1h1m-9 2h1m0 0h1m0 0h1m2 0h1m0 0h1m-8 1h1m0 0h1m3 0h1m2 0h1m-8 1h1m2 0h1m0 0h1m1 0h1m0 0h1m-12 1h1m6 0h1m1 0h1m-11 1h1m1 0h1m0 0h1m0 0h1m2 0h1m0 0h1m2 0h1m-14 1h1m1 0h1m0 0h1m0 0h1m1 0h1m1 0h1m7 0h1m-13 1h1m5 0h1m1 0h1m-10 1h1m7 0h1m2 0h1m-16 1h1m0 0h1m1 0h1m13 0h1m-19 1h1m13 0h1m1 0h1m-19 1h1m1 0h1m1 0h1m0 0h1m0 0h1m-4 1h1m13 0h1m0 0h1m-21 1h1m3 0h1m0 0h1m9 0h1m0 0h1m2 0h1m-19 1h1m2 0h1m12 0h1m3 0h1m-22 1h1m15 0h1m0 0h1m-18 1h1m0 0h1m0 0h1m15 0h1m0 0h1m-20 1h1m3 0h1m13 0h1m-19 1h1m1 0h1m11 0h1m0 0h1m0 0h1m0 0h1m-18 1h1m10 0h1m2 0h1m0 0h1m0 0h1m0 0h1m0 0h1m-17 1h1m12 0h1m1 0h1m-19 1h1m0 0h1m0 0h1m8 0h1m1 0h1m0 0h1m0 0h1m-10 1h1m8 0h1m-16 1h1m0 0h1m0 0h1m10 0h1m2 0h1m-14 1h1m7 0h1m0 0h1m1 0h1m-15 1h1m0 0h1m0 0h1m2 0h1m3 0h1m0 0h1m0 0h1m0 0h1m2 0h1m-15 1h1m1 0h1m0 0h1m0 0h1m1 0h1m0 0h1m1 0h1m0 0h1m1 0h1m-15 1h1m0 0h1m0 0h1m0 0h1m1 0h1m1 0h1m1 0h1m0 0h1m0 0h1m-13 1h1m1 0h1m1 0h1m1 0h1m4 0h1m-7 1h1m3 0h1m-8 1h1m2 0h1" stroke="#fff900" stroke-width="1.3" fill="none"/><path d="M984 1183h1m2 0h1m-2 1h1m-7 1h1m3 0h1m0 0h1m-5 1h1m0 0h1m0 0h1m0 0h1m0 0h1m0 0h1m1 0h1m-13 1h1m0 0h1m1 0h1m1 0h1m1 0h1m0 0h1m0 0h1m-7 1h1m1 0h1m1 0h1m0 0h1m1 0h1m1 0h1m-15 1h1m2 0h1m0 0h1m0 0h1m0 0h1m0 0h1m5 0h1m-16 1h1m3 0h1m0 0h1m9 0h1m-15 1h1m3 0h1m6 0h1m0 0h1m-16 1h1m1 0h1m2 0h1m8 0h1m0 0h1m1 0h1m-15 1h1m0 0h1m6 0h1m0 0h1m0 0h1m-12 1h1m0 0h1m2 0h1m8 0h1m-14 1h1m2 0h1m0 0h1m7 0h1m0 0h1m-14 1h1m0 0h1m0 0h1m0 0h1m6 0h1m-7 1h1m7 0h1m1 0h1m-17 1h1m2 0h1m4 0h1m3 0h1m0 0h1m0 0h1m-13 1h1m0 0h1m0 0h1m2 0h1m2 0h1m1 0h1m0 0h1m-14 1h1m0 0h1m1 0h1m0 0h1m1 0h1m0 0h1m3 0h1m4 0h1m-18 1h1m0 0h1m0 0h1m4 0h1m4 0h1m0 0h1m0 0h1m-14 1h1m3 0h1m0 0h1m0 0h1m4 0h1m0 0h1m-13 1h1m0 0h1m1 0h1m0 0h1m0 0h1m2 0h1m2 0h1m-14 1h1m1 0h1m1 0h1m1 0h1m5 0h1m0 0h1m-12 1h1m1 0h1m0 0h1m0 0h1m1 0h1m2 0h1m0 0h1m-13 1h1m2 0h1m4 0h1m1 0h1m1 0h1m-12 1h1m1 0h1m1 0h1m2 0h1m1 0h1m0 0h1m-10 1h1m3 0h1m0 0h1m1 0h1m0 0h1m-11 1h1m5 0h1" stroke="#ffa400" stroke-width="1.3" fill="none"/><path d="M986 1184h1m0 0h1m-6 1h1m5 1h1m-7 1h1m3 0h1m-7 1h1m1 0h1m0 0h1m-4 1h1m1 0h1m0 0h1m0 0h1m0 0h1m0 0h1m-12 1h1m2 0h1m1 0h1m0 0h1m0 0h1m0 0h1m1 0h1m0 0h1m-11 1h1m0 0h1m3 0h1m0 0h1m2 0h1m-11 1h1m0 0h1m1 0h1m0 0h1m0 0h1m1 0h1m1 0h1m0 0h1m-13 1h1m0 0h1m0 0h1m2 0h1m2 0h1m1 0h1m0 0h1m-13 1h1m0 0h1m1 0h1m2 0h1m2 0h1m-10 1h1m3 0h1m1 0h1m0 0h1m2 0h1m1 0h1m0 0h1m-9 1h1m0 0h1m4 0h1m0 0h1m0 0h1m0 0h1m-13 1h1m2 0h1m3 0h1m1 0h1m-12 1h1m0 0h1m0 0h1m4 0h1m2 0h1m0 0h1m-11 1h1m0 0h1m0 0h1m0 0h1m0 0h1m0 0h1m2 0h1m0 0h1m2 0h1m-12 1h1m1 0h1m0 0h1m5 0h1m-13 1h1m3 0h1m0 0h1m5 0h1m-11 1h1m1 0h1m1 0h1m1 0h1m0 0h1m-10 1h1m1 0h1m0 0h1m7 0h1m-11 1h1m0 0h1m1 0h1m3 0h1m2 0h1m-8 1h1m0 0h1m1 0h1m-8 1h1m0 0h1m3 0h1m1 0h1m0 0h1m-10 1h1m3 0h1m2 0h1m1 1h1m-6 1h1" stroke="#ff4f00" stroke-width="1.3" fill="none"/><path d="M986 1186h1m-7 3h1m-2 1h1m1 0h1m0 0h1m0 0h1m0 0h1m-6 1h1m1 0h1m0 0h1m0 0h1m1 0h1m-9 1h1m0 0h1m2 0h1m0 0h1m0 0h1m1 0h1m-9 1h1m1 0h1m0 0h1m0 0h1m0 0h1m0 0h1m-9 1h1m2 0h1m1 0h1m0 0h1m3 0h1m-9 1h1m0 0h1m0 0h1m0 0h1m2 0h1m-11 1h1m0 0h1m1 0h1m0 0h1m0 0h1m0 0h1m0 0h1m1 0h1m0 0h1m-7 1h1m1 0h1m0 0h1m1 0h1m-9 1h1m1 0h1m1 0h1m0 0h1m1 0h1m0 0h1m-10 1h1m0 0h1m0 0h1m1 0h1m0 0h1m3 0h1m-10 1h1m0 0h1m0 0h1m2 0h1m1 0h1m0 0h1m0 0h1m-10 1h1m1 0h1m1 0h1m0 0h1m0 0h1m-9 1h1m3 0h1m3 0h1m1 0h1m-9 1h1m0 0h1m0 0h1m0 0h1m-3 1h1m0 0h1m0 0h1m1 0h1m-8 1h1m0 0h1m2 0h1m-2 1h1m1 0h1m1 0h1m-7 1h1m0 0h1m0 0h1" stroke="#f90000" stroke-width="1.3" fill="none"/></g><rect x="125.8" y="835.5" width="169.5" height="116.6" fill="none" stroke="#000" stroke-width="1.8"/><rect x="388.9" y="835.5" width="168.9" height="116.6" fill="none" stroke="#000" stroke-width="1.8"/><rect x="651.4" y="835.5" width="169.6" height="116.6" fill="none" stroke="#000" stroke-width="1.8"/><rect x="915.2" y="835.5" width="169.5" height="116.6" fill="none" stroke="#000" stroke-width="1.8"/><rect x="128.8" y="1104.7" width="171.4" height="113.6" fill="none" stroke="#000" stroke-width="1.8"/><rect x="391.3" y="1104.7" width="172.0" height="113.6" fill="none" stroke="#000" stroke-width="1.8"/><rect x="654.5" y="1104.7" width="171.9" height="113.6" fill="none" stroke="#000" stroke-width="1.8"/><rect x="917.6" y="1104.7" width="172.0" height="113.6" fill="none" stroke="#000" stroke-width="1.8"/><text x="141.3" y="879.2" style="font-size:39px" transform="translate(141.3 879.2) scale(1 1.015) translate(-141.3 -879.2)">10.9</text><text x="404.4" y="879.2" style="font-size:39px" transform="translate(404.4 879.2) scale(1 1.015) translate(-404.4 -879.2)">20.7</text><text x="666.9" y="879.2" style="font-size:39px" transform="translate(666.9 879.2) scale(1 1.015) translate(-666.9 -879.2)">40.5</text><text x="930.7" y="879.2" style="font-size:39px" transform="translate(930.7 879.2) scale(1 1.015) translate(-930.7 -879.2)">62.7</text><text x="141.8" y="1149.6" style="font-size:39px" transform="translate(141.8 1149.6) scale(1 1.015) translate(-141.8 -1149.6)">2.63</text><text x="404.3" y="1149.6" style="font-size:39px" transform="translate(404.3 1149.6) scale(1 1.015) translate(-404.3 -1149.6)">24.1</text><text x="667.5" y="1149.6" style="font-size:39px" transform="translate(667.5 1149.6) scale(1 1.015) translate(-667.5 -1149.6)">64.6</text><text x="930.6" y="1149.6" style="font-size:39px" transform="translate(930.6 1149.6) scale(1 1.015) translate(-930.6 -1149.6)">83.2</text><text x="1172.0" y="772.0" style="font-size:40px" transform="translate(1172.0 772.0) scale(1 1.015) translate(-1172.0 -772.0)">e</text><polygon points="1162.0,1181.5 1507.4,1181.5 1585.4,1128.7 1242.3,1128.7" fill="#ffffff"/><line x1="1250.9" y1="1181.5" x2="1331.2" y2="1128.7" stroke="#9a9a9a" stroke-width="0.8"/><line x1="1267.8" y1="1181.5" x2="1348.1" y2="1128.7" stroke="#9a9a9a" stroke-width="0.8"/><line x1="1279.7" y1="1181.5" x2="1360.0" y2="1128.7" stroke="#9a9a9a" stroke-width="0.8"/><line x1="1289.0" y1="1181.5" x2="1369.3" y2="1128.7" stroke="#9a9a9a" stroke-width="0.8"/><line x1="1296.6" y1="1181.5" x2="1376.9" y2="1128.7" stroke="#9a9a9a" stroke-width="0.8"/><line x1="1303.0" y1="1181.5" x2="1383.3" y2="1128.7" stroke="#9a9a9a" stroke-width="0.8"/><line x1="1308.6" y1="1181.5" x2="1388.9" y2="1128.7" stroke="#9a9a9a" stroke-width="0.8"/><line x1="1313.5" y1="1181.5" x2="1393.8" y2="1128.7" stroke="#9a9a9a" stroke-width="0.8"/><line x1="1345.3" y1="1181.5" x2="1425.6" y2="1128.7" stroke="#9a9a9a" stroke-width="0.8"/><line x1="1361.4" y1="1181.5" x2="1441.7" y2="1128.7" stroke="#9a9a9a" stroke-width="0.8"/><line x1="1372.7" y1="1181.5" x2="1453.0" y2="1128.7" stroke="#9a9a9a" stroke-width="0.8"/><line x1="1381.6" y1="1181.5" x2="1461.9" y2="1128.7" stroke="#9a9a9a" stroke-width="0.8"/><line x1="1388.8" y1="1181.5" x2="1469.1" y2="1128.7" stroke="#9a9a9a" stroke-width="0.8"/><line x1="1394.9" y1="1181.5" x2="1475.2" y2="1128.7" stroke="#9a9a9a" stroke-width="0.8"/><line x1="1400.2" y1="1181.5" x2="1480.5" y2="1128.7" stroke="#9a9a9a" stroke-width="0.8"/><line x1="1404.8" y1="1181.5" x2="1485.1" y2="1128.7" stroke="#9a9a9a" stroke-width="0.8"/><line x1="1433.2" y1="1181.5" x2="1513.5" y2="1128.7" stroke="#9a9a9a" stroke-width="0.8"/><line x1="1447.4" y1="1181.5" x2="1527.7" y2="1128.7" stroke="#9a9a9a" stroke-width="0.8"/><line x1="1457.4" y1="1181.5" x2="1537.7" y2="1128.7" stroke="#9a9a9a" stroke-width="0.8"/><line x1="1465.2" y1="1181.5" x2="1545.5" y2="1128.7" stroke="#9a9a9a" stroke-width="0.8"/><line x1="1471.6" y1="1181.5" x2="1551.9" y2="1128.7" stroke="#9a9a9a" stroke-width="0.8"/><line x1="1476.9" y1="1181.5" x2="1557.2" y2="1128.7" stroke="#9a9a9a" stroke-width="0.8"/><line x1="1481.6" y1="1181.5" x2="1561.9" y2="1128.7" stroke="#9a9a9a" stroke-width="0.8"/><line x1="1485.7" y1="1181.5" x2="1566.0" y2="1128.7" stroke="#9a9a9a" stroke-width="0.8"/><line x1="1169.5" y1="1181.5" x2="1249.8" y2="1128.7" stroke="#9a9a9a" stroke-width="0.8"/><line x1="1177.0" y1="1181.5" x2="1257.3" y2="1128.7" stroke="#9a9a9a" stroke-width="0.8"/><line x1="1184.5" y1="1181.5" x2="1264.8" y2="1128.7" stroke="#9a9a9a" stroke-width="0.8"/><line x1="1192.0" y1="1181.5" x2="1272.3" y2="1128.7" stroke="#9a9a9a" stroke-width="0.8"/><line x1="1199.5" y1="1181.5" x2="1279.8" y2="1128.7" stroke="#9a9a9a" stroke-width="0.8"/><line x1="1207.0" y1="1181.5" x2="1287.3" y2="1128.7" stroke="#9a9a9a" stroke-width="0.8"/><line x1="1214.5" y1="1181.5" x2="1294.8" y2="1128.7" stroke="#9a9a9a" stroke-width="0.8"/><line x1="1222.0" y1="1181.5" x2="1302.3" y2="1128.7" stroke="#333" stroke-width="1.6"/><line x1="1317.9" y1="1181.5" x2="1398.2" y2="1128.7" stroke="#333" stroke-width="1.6"/><line x1="1409.0" y1="1181.5" x2="1489.3" y2="1128.7" stroke="#333" stroke-width="1.6"/><line x1="1489.4" y1="1181.5" x2="1569.7" y2="1128.7" stroke="#333" stroke-width="1.6"/><line x1="1162.0" y1="1181.5" x2="1242.3" y2="1128.7" stroke="#333" stroke-width="1.6"/><line x1="1507.4" y1="1181.5" x2="1585.4" y2="1128.7" stroke="#333" stroke-width="1.6"/><path d="M1242.3,1128.7 L1242.3,1128.7 L1243.5,1128.7 L1244.7,1128.7 L1245.9,1128.7 L1247.1,1128.7 L1248.3,1128.7 L1249.5,1128.7 L1250.7,1128.7 L1251.9,1128.7 L1253.1,1128.7 L1254.3,1128.7 L1255.5,1128.7 L1256.7,1128.7 L1257.9,1128.7 L1259.1,1128.7 L1260.3,1128.7 L1261.5,1128.7 L1262.7,1128.7 L1263.9,1128.7 L1265.1,1128.7 L1266.3,1128.7 L1267.5,1128.7 L1268.7,1128.7 L1269.9,1128.7 L1271.1,1128.7 L1272.3,1128.7 L1273.5,1127.2 L1274.7,1126.5 L1275.9,1125.6 L1277.1,1124.2 L1278.3,1122.6 L1279.5,1120.3 L1280.7,1117.1 L1281.9,1113.3 L1283.1,1108.5 L1284.3,1102.2 L1285.5,1096.2 L1286.7,1085.7 L1287.9,1076.4 L1289.1,1065.1 L1290.3,1049.9 L1291.5,1034.1 L1292.7,1018.9 L1293.9,1002.2 L1295.1,981.8 L1296.3,962.7 L1297.5,939.9 L1298.7,921.7 L1299.9,903.6 L1301.1,881.5 L1302.3,865.5 L1303.5,846.6 L1304.7,816.3 L1305.9,806.5 L1307.1,834.2 L1308.3,854.0 L1309.5,864.5 L1310.7,884.0 L1311.9,884.3 L1313.1,894.1 L1314.3,908.8 L1315.5,913.2 L1316.7,924.9 L1317.9,930.1 L1319.1,946.1 L1320.3,953.3 L1321.5,960.0 L1322.7,969.3 L1323.9,985.4 L1325.1,992.4 L1326.3,1001.0 L1327.5,1012.1 L1328.7,1018.6 L1329.9,1031.2 L1331.1,1038.2 L1332.3,1047.9 L1333.5,1053.5 L1334.7,1062.2 L1335.9,1069.4 L1337.1,1076.7 L1338.3,1080.6 L1339.5,1086.7 L1340.7,1091.8 L1341.9,1096.2 L1343.1,1100.6 L1344.3,1104.6 L1345.5,1107.9 L1346.7,1110.8 L1347.9,1113.0 L1349.1,1115.7 L1350.3,1117.6 L1351.5,1119.3 L1352.7,1120.7 L1353.9,1122.0 L1355.1,1123.2 L1356.3,1124.2 L1357.5,1124.9 L1358.7,1125.5 L1359.9,1126.1 L1361.1,1126.6 L1362.3,1127.0 L1363.5,1127.3 L1364.7,1128.7 L1365.9,1128.7 L1367.1,1128.7 L1368.3,1128.7 L1369.5,1128.7 L1370.7,1128.7 L1371.9,1128.7 L1373.1,1128.7 L1374.3,1128.7 L1375.5,1128.7 L1376.7,1128.7 L1377.9,1128.7 L1379.1,1128.7 L1380.3,1128.7 L1381.5,1128.7 L1382.7,1128.7 L1383.9,1128.7 L1385.1,1128.7 L1386.3,1128.7 L1387.5,1128.7 L1388.7,1128.7 L1389.9,1128.7 L1391.1,1128.7 L1392.3,1128.7 L1393.5,1128.7 L1394.7,1128.7 L1395.9,1128.7 L1397.1,1128.7 L1398.3,1128.7 L1399.5,1128.7 L1400.7,1128.7 L1401.9,1128.7 L1403.1,1128.7 L1404.3,1128.7 L1405.5,1128.7 L1406.7,1128.7 L1407.9,1128.7 L1409.1,1128.7 L1410.3,1128.7 L1411.5,1128.7 L1412.7,1128.7 L1413.9,1128.7 L1415.1,1128.7 L1416.3,1128.7 L1417.5,1128.7 L1418.7,1128.7 L1419.9,1128.7 L1421.1,1128.7 L1422.3,1128.7 L1423.5,1128.7 L1424.7,1128.7 L1425.9,1128.7 L1427.1,1128.7 L1428.3,1128.7 L1429.5,1128.7 L1430.7,1128.7 L1431.9,1128.7 L1433.1,1128.7 L1434.3,1128.7 L1435.5,1128.7 L1436.7,1128.7 L1437.9,1128.7 L1439.1,1128.7 L1440.3,1128.7 L1441.5,1128.7 L1442.7,1128.7 L1443.9,1128.7 L1445.1,1128.7 L1446.3,1128.7 L1447.5,1128.7 L1448.7,1128.7 L1449.9,1128.7 L1451.1,1128.7 L1452.3,1128.7 L1453.5,1128.7 L1454.7,1128.7 L1455.9,1128.7 L1457.1,1128.7 L1458.3,1128.7 L1459.5,1128.7 L1460.7,1128.7 L1461.9,1128.7 L1463.1,1128.7 L1464.3,1128.7 L1465.5,1128.7 L1466.7,1128.7 L1467.9,1128.7 L1469.1,1128.7 L1470.3,1128.7 L1471.5,1128.7 L1472.7,1128.7 L1473.9,1128.7 L1475.1,1128.7 L1476.3,1128.7 L1477.5,1128.7 L1478.7,1128.7 L1479.9,1128.7 L1481.1,1128.7 L1482.3,1128.7 L1483.5,1128.7 L1484.7,1128.7 L1485.9,1128.7 L1487.1,1128.7 L1488.3,1128.7 L1489.5,1128.7 L1490.7,1128.7 L1491.9,1128.7 L1493.1,1128.7 L1494.3,1128.7 L1495.5,1128.7 L1496.7,1128.7 L1497.9,1128.7 L1499.1,1128.7 L1500.3,1128.7 L1501.5,1128.7 L1502.7,1128.7 L1503.9,1128.7 L1505.1,1128.7 L1506.3,1128.7 L1507.5,1128.7 L1508.7,1128.7 L1509.9,1128.7 L1511.1,1128.7 L1512.3,1128.7 L1513.5,1128.7 L1514.7,1128.7 L1515.9,1128.7 L1517.1,1128.7 L1518.3,1128.7 L1519.5,1128.7 L1520.7,1128.7 L1521.9,1128.7 L1523.1,1128.7 L1524.3,1128.7 L1525.5,1128.7 L1526.7,1128.7 L1527.9,1128.7 L1529.1,1128.7 L1530.3,1128.7 L1531.5,1128.7 L1532.7,1128.7 L1533.9,1128.7 L1535.1,1128.7 L1536.3,1128.7 L1537.5,1128.7 L1538.7,1128.7 L1539.9,1128.7 L1541.1,1128.7 L1542.3,1128.7 L1543.5,1128.7 L1544.7,1128.7 L1545.9,1128.7 L1547.1,1128.7 L1548.3,1128.7 L1549.5,1128.7 L1550.7,1128.7 L1551.9,1128.7 L1553.1,1128.7 L1554.3,1128.7 L1555.5,1128.7 L1556.7,1128.7 L1557.9,1128.7 L1559.1,1128.7 L1560.3,1128.7 L1561.5,1128.7 L1562.7,1128.7 L1563.9,1128.7 L1565.1,1128.7 L1566.3,1128.7 L1567.5,1128.7 L1568.7,1128.7 L1569.9,1128.7 L1571.1,1128.7 L1572.3,1128.7 L1573.5,1128.7 L1574.7,1128.7 L1575.9,1128.7 L1577.1,1128.7 L1578.3,1128.7 L1579.5,1128.7 L1580.7,1128.7 L1581.9,1128.7 L1583.1,1128.7 L1584.3,1128.7 L1584.3,1128.7 Z" fill="#f77e84" fill-opacity="0.62" stroke="#ec2a30" stroke-width="2.3" stroke-linejoin="round"/><path d="M1214.8,1146.7 L1214.8,1146.7 L1216.0,1146.7 L1217.2,1146.7 L1218.4,1146.7 L1219.6,1146.7 L1220.8,1146.7 L1222.0,1146.7 L1223.2,1146.7 L1224.4,1146.7 L1225.6,1146.7 L1226.8,1146.7 L1228.0,1146.7 L1229.2,1146.7 L1230.4,1146.7 L1231.6,1146.7 L1232.8,1146.7 L1234.0,1146.7 L1235.2,1146.7 L1236.4,1145.3 L1237.6,1144.9 L1238.8,1144.3 L1240.0,1143.5 L1241.2,1142.5 L1242.4,1141.2 L1243.6,1139.5 L1244.8,1137.7 L1246.0,1135.5 L1247.2,1132.7 L1248.4,1129.0 L1249.6,1124.7 L1250.8,1120.0 L1252.0,1114.2 L1253.2,1108.1 L1254.4,1100.3 L1255.6,1092.3 L1256.8,1082.9 L1258.0,1073.4 L1259.2,1062.6 L1260.4,1049.4 L1261.6,1037.3 L1262.8,1023.7 L1264.0,1007.1 L1265.2,994.0 L1266.4,973.5 L1267.6,963.1 L1268.8,952.9 L1270.0,936.4 L1271.2,925.4 L1272.4,917.5 L1273.6,903.2 L1274.8,901.2 L1276.0,902.7 L1277.2,887.5 L1278.4,890.6 L1279.6,884.4 L1280.8,891.9 L1282.0,895.0 L1283.2,888.9 L1284.4,899.6 L1285.6,899.1 L1286.8,899.4 L1288.0,907.8 L1289.2,913.3 L1290.4,918.3 L1291.6,922.2 L1292.8,932.7 L1294.0,935.7 L1295.2,942.8 L1296.4,945.9 L1297.6,959.5 L1298.8,968.3 L1300.0,972.4 L1301.2,982.5 L1302.4,989.0 L1303.6,997.1 L1304.8,1003.2 L1306.0,1013.9 L1307.2,1020.6 L1308.4,1031.6 L1309.6,1036.5 L1310.8,1040.5 L1312.0,1050.1 L1313.2,1056.7 L1314.4,1063.6 L1315.6,1068.0 L1316.8,1074.3 L1318.0,1081.1 L1319.2,1085.0 L1320.4,1090.3 L1321.6,1094.8 L1322.8,1100.1 L1324.0,1103.0 L1325.2,1107.7 L1326.4,1111.5 L1327.6,1115.1 L1328.8,1118.1 L1330.0,1120.6 L1331.2,1123.6 L1332.4,1125.7 L1333.6,1128.1 L1334.8,1130.0 L1336.0,1131.9 L1337.2,1133.7 L1338.4,1135.5 L1339.6,1136.6 L1340.8,1137.7 L1342.0,1138.9 L1343.2,1139.8 L1344.4,1140.8 L1345.6,1141.5 L1346.8,1142.3 L1348.0,1142.7 L1349.2,1143.3 L1350.4,1143.8 L1351.6,1144.2 L1352.8,1144.6 L1354.0,1144.8 L1355.2,1145.1 L1356.4,1145.4 L1357.6,1145.6 L1358.8,1146.7 L1360.0,1146.7 L1361.2,1146.7 L1362.4,1146.7 L1363.6,1146.7 L1364.8,1146.7 L1366.0,1146.7 L1367.2,1146.7 L1368.4,1146.7 L1369.6,1146.7 L1370.8,1146.7 L1372.0,1146.7 L1373.2,1146.7 L1374.4,1146.7 L1375.6,1146.7 L1376.8,1146.7 L1378.0,1146.7 L1379.2,1146.7 L1380.4,1146.7 L1381.6,1146.7 L1382.8,1146.7 L1384.0,1146.7 L1385.2,1146.7 L1386.4,1146.7 L1387.6,1146.7 L1388.8,1146.7 L1390.0,1146.7 L1391.2,1146.7 L1392.4,1146.7 L1393.6,1146.7 L1394.8,1146.7 L1396.0,1146.7 L1397.2,1146.7 L1398.4,1146.7 L1399.6,1146.7 L1400.8,1146.7 L1402.0,1146.7 L1403.2,1146.7 L1404.4,1146.7 L1405.6,1146.7 L1406.8,1146.7 L1408.0,1146.7 L1409.2,1146.7 L1410.4,1146.7 L1411.6,1146.7 L1412.8,1146.7 L1414.0,1146.7 L1415.2,1146.7 L1416.4,1146.7 L1417.6,1146.7 L1418.8,1146.7 L1420.0,1146.7 L1421.2,1146.7 L1422.4,1146.7 L1423.6,1146.7 L1424.8,1146.7 L1426.0,1146.7 L1427.2,1146.7 L1428.4,1146.7 L1429.6,1146.7 L1430.8,1146.7 L1432.0,1146.7 L1433.2,1146.7 L1434.4,1146.7 L1435.6,1146.7 L1436.8,1146.7 L1438.0,1146.7 L1439.2,1146.7 L1440.4,1146.7 L1441.6,1146.7 L1442.8,1146.7 L1444.0,1146.7 L1445.2,1146.7 L1446.4,1146.7 L1447.6,1146.7 L1448.8,1146.7 L1450.0,1146.7 L1451.2,1146.7 L1452.4,1146.7 L1453.6,1146.7 L1454.8,1146.7 L1456.0,1146.7 L1457.2,1146.7 L1458.4,1146.7 L1459.6,1146.7 L1460.8,1146.7 L1462.0,1146.7 L1463.2,1146.7 L1464.4,1146.7 L1465.6,1146.7 L1466.8,1146.7 L1468.0,1146.7 L1469.2,1146.7 L1470.4,1146.7 L1471.6,1146.7 L1472.8,1146.7 L1474.0,1146.7 L1475.2,1146.7 L1476.4,1146.7 L1477.6,1146.7 L1478.8,1146.7 L1480.0,1146.7 L1481.2,1146.7 L1482.4,1146.7 L1483.6,1146.7 L1484.8,1146.7 L1486.0,1146.7 L1487.2,1146.7 L1488.4,1146.7 L1489.6,1146.7 L1490.8,1146.7 L1492.0,1146.7 L1493.2,1146.7 L1494.4,1146.7 L1495.6,1146.7 L1496.8,1146.7 L1498.0,1146.7 L1499.2,1146.7 L1500.4,1146.7 L1501.6,1146.7 L1502.8,1146.7 L1504.0,1146.7 L1505.2,1146.7 L1506.4,1146.7 L1507.6,1146.7 L1508.8,1146.7 L1510.0,1146.7 L1511.2,1146.7 L1512.4,1146.7 L1513.6,1146.7 L1514.8,1146.7 L1516.0,1146.7 L1517.2,1146.7 L1518.4,1146.7 L1519.6,1146.7 L1520.8,1146.7 L1522.0,1146.7 L1523.2,1146.7 L1524.4,1146.7 L1525.6,1146.7 L1526.8,1146.7 L1528.0,1146.7 L1529.2,1146.7 L1530.4,1146.7 L1531.6,1146.7 L1532.8,1146.7 L1534.0,1146.7 L1535.2,1146.7 L1536.4,1146.7 L1537.6,1146.7 L1538.8,1146.7 L1540.0,1146.7 L1541.2,1146.7 L1542.4,1146.7 L1543.6,1146.7 L1544.8,1146.7 L1546.0,1146.7 L1547.2,1146.7 L1548.4,1146.7 L1549.6,1146.7 L1550.8,1146.7 L1552.0,1146.7 L1553.2,1146.7 L1554.4,1146.7 L1555.6,1146.7 L1556.8,1146.7 L1558.0,1146.7 L1559.2,1146.7 L1559.2,1146.7 Z" fill="#70d8f8" fill-opacity="0.62" stroke="#1cb8ec" stroke-width="2.3" stroke-linejoin="round"/><path d="M1187.2,1164.2 L1187.2,1164.2 L1188.4,1164.2 L1189.6,1164.2 L1190.8,1164.2 L1192.0,1164.2 L1193.2,1164.2 L1194.4,1164.2 L1195.6,1164.2 L1196.8,1164.2 L1198.0,1164.2 L1199.2,1164.2 L1200.4,1164.2 L1201.6,1164.2 L1202.8,1164.2 L1204.0,1164.2 L1205.2,1164.2 L1206.4,1163.3 L1207.6,1162.9 L1208.8,1162.5 L1210.0,1162.0 L1211.2,1161.4 L1212.4,1160.7 L1213.6,1159.6 L1214.8,1158.4 L1216.0,1156.9 L1217.2,1155.0 L1218.4,1153.0 L1219.6,1150.5 L1220.8,1147.5 L1222.0,1143.8 L1223.2,1139.4 L1224.4,1135.1 L1225.6,1128.9 L1226.8,1123.1 L1228.0,1116.4 L1229.2,1109.5 L1230.4,1100.1 L1231.6,1090.5 L1232.8,1083.0 L1234.0,1069.5 L1235.2,1057.8 L1236.4,1047.9 L1237.6,1035.9 L1238.8,1020.6 L1240.0,1010.5 L1241.2,1002.8 L1242.4,989.7 L1243.6,979.2 L1244.8,969.2 L1246.0,965.6 L1247.2,949.9 L1248.4,946.9 L1249.6,939.7 L1250.8,936.9 L1252.0,932.1 L1253.2,935.0 L1254.4,936.9 L1255.6,934.3 L1256.8,933.5 L1258.0,940.4 L1259.2,938.6 L1260.4,944.7 L1261.6,950.5 L1262.8,949.4 L1264.0,959.9 L1265.2,960.5 L1266.4,969.5 L1267.6,973.0 L1268.8,982.7 L1270.0,988.1 L1271.2,990.6 L1272.4,999.0 L1273.6,1006.1 L1274.8,1013.9 L1276.0,1019.3 L1277.2,1029.3 L1278.4,1035.7 L1279.6,1041.1 L1280.8,1048.9 L1282.0,1055.4 L1283.2,1061.2 L1284.4,1067.7 L1285.6,1074.0 L1286.8,1078.2 L1288.0,1084.8 L1289.2,1090.3 L1290.4,1096.8 L1291.6,1102.3 L1292.8,1107.8 L1294.0,1111.7 L1295.2,1117.1 L1296.4,1120.3 L1297.6,1123.5 L1298.8,1126.8 L1300.0,1130.6 L1301.2,1134.4 L1302.4,1136.9 L1303.6,1139.9 L1304.8,1142.0 L1306.0,1144.5 L1307.2,1146.4 L1308.4,1148.0 L1309.6,1150.1 L1310.8,1151.4 L1312.0,1153.2 L1313.2,1154.5 L1314.4,1155.5 L1315.6,1156.5 L1316.8,1157.7 L1318.0,1158.5 L1319.2,1159.3 L1320.4,1159.9 L1321.6,1160.4 L1322.8,1160.9 L1324.0,1161.4 L1325.2,1161.8 L1326.4,1162.1 L1327.6,1162.4 L1328.8,1162.7 L1330.0,1162.9 L1331.2,1163.1 L1332.4,1163.2 L1333.6,1164.2 L1334.8,1164.2 L1336.0,1164.2 L1337.2,1164.2 L1338.4,1164.2 L1339.6,1164.2 L1340.8,1164.2 L1342.0,1164.2 L1343.2,1164.2 L1344.4,1164.2 L1345.6,1164.2 L1346.8,1164.2 L1348.0,1164.2 L1349.2,1164.2 L1350.4,1164.2 L1351.6,1164.2 L1352.8,1164.2 L1354.0,1164.2 L1355.2,1164.2 L1356.4,1164.2 L1357.6,1164.2 L1358.8,1164.2 L1360.0,1164.2 L1361.2,1164.2 L1362.4,1164.2 L1363.6,1164.2 L1364.8,1164.2 L1366.0,1164.2 L1367.2,1164.2 L1368.4,1164.2 L1369.6,1164.2 L1370.8,1164.2 L1372.0,1164.2 L1373.2,1164.2 L1374.4,1164.2 L1375.6,1164.2 L1376.8,1164.2 L1378.0,1164.2 L1379.2,1164.2 L1380.4,1164.2 L1381.6,1164.2 L1382.8,1164.2 L1384.0,1164.2 L1385.2,1164.2 L1386.4,1164.2 L1387.6,1164.2 L1388.8,1164.2 L1390.0,1164.2 L1391.2,1164.2 L1392.4,1164.2 L1393.6,1164.2 L1394.8,1164.2 L1396.0,1164.2 L1397.2,1164.2 L1398.4,1164.2 L1399.6,1164.2 L1400.8,1164.2 L1402.0,1164.2 L1403.2,1164.2 L1404.4,1164.2 L1405.6,1164.2 L1406.8,1164.2 L1408.0,1164.2 L1409.2,1164.2 L1410.4,1164.2 L1411.6,1164.2 L1412.8,1164.2 L1414.0,1164.2 L1415.2,1164.2 L1416.4,1164.2 L1417.6,1164.2 L1418.8,1164.2 L1420.0,1164.2 L1421.2,1164.2 L1422.4,1164.2 L1423.6,1164.2 L1424.8,1164.2 L1426.0,1164.2 L1427.2,1164.2 L1428.4,1164.2 L1429.6,1164.2 L1430.8,1164.2 L1432.0,1164.2 L1433.2,1164.2 L1434.4,1164.2 L1435.6,1164.2 L1436.8,1164.2 L1438.0,1164.2 L1439.2,1164.2 L1440.4,1164.2 L1441.6,1164.2 L1442.8,1164.2 L1444.0,1164.2 L1445.2,1164.2 L1446.4,1164.2 L1447.6,1164.2 L1448.8,1164.2 L1450.0,1164.2 L1451.2,1164.2 L1452.4,1164.2 L1453.6,1164.2 L1454.8,1164.2 L1456.0,1164.2 L1457.2,1164.2 L1458.4,1164.2 L1459.6,1164.2 L1460.8,1164.2 L1462.0,1164.2 L1463.2,1164.2 L1464.4,1164.2 L1465.6,1164.2 L1466.8,1164.2 L1468.0,1164.2 L1469.2,1164.2 L1470.4,1164.2 L1471.6,1164.2 L1472.8,1164.2 L1474.0,1164.2 L1475.2,1164.2 L1476.4,1164.2 L1477.6,1164.2 L1478.8,1164.2 L1480.0,1164.2 L1481.2,1164.2 L1482.4,1164.2 L1483.6,1164.2 L1484.8,1164.2 L1486.0,1164.2 L1487.2,1164.2 L1488.4,1164.2 L1489.6,1164.2 L1490.8,1164.2 L1492.0,1164.2 L1493.2,1164.2 L1494.4,1164.2 L1495.6,1164.2 L1496.8,1164.2 L1498.0,1164.2 L1499.2,1164.2 L1500.4,1164.2 L1501.6,1164.2 L1502.8,1164.2 L1504.0,1164.2 L1505.2,1164.2 L1506.4,1164.2 L1507.6,1164.2 L1508.8,1164.2 L1510.0,1164.2 L1511.2,1164.2 L1512.4,1164.2 L1513.6,1164.2 L1514.8,1164.2 L1516.0,1164.2 L1517.2,1164.2 L1518.4,1164.2 L1519.6,1164.2 L1520.8,1164.2 L1522.0,1164.2 L1523.2,1164.2 L1524.4,1164.2 L1525.6,1164.2 L1526.8,1164.2 L1528.0,1164.2 L1529.2,1164.2 L1530.4,1164.2 L1531.6,1164.2 L1532.8,1164.2 L1532.8,1164.2 Z" fill="#f9ba88" fill-opacity="0.62" stroke="#f28c2c" stroke-width="2.3" stroke-linejoin="round"/><path d="M1162.0,1181.5 L1162.0,1181.5 L1163.2,1181.5 L1164.4,1181.5 L1165.6,1181.5 L1166.8,1180.7 L1168.0,1180.5 L1169.2,1180.2 L1170.4,1179.9 L1171.6,1179.6 L1172.8,1179.2 L1174.0,1178.7 L1175.2,1178.0 L1176.4,1177.4 L1177.6,1176.5 L1178.8,1175.7 L1180.0,1174.5 L1181.2,1173.3 L1182.4,1171.6 L1183.6,1170.1 L1184.8,1168.2 L1186.0,1166.1 L1187.2,1163.2 L1188.4,1160.8 L1189.6,1158.0 L1190.8,1154.7 L1192.0,1151.1 L1193.2,1146.0 L1194.4,1143.0 L1195.6,1137.9 L1196.8,1131.9 L1198.0,1126.0 L1199.2,1121.0 L1200.4,1114.1 L1201.6,1107.6 L1202.8,1100.6 L1204.0,1094.5 L1205.2,1085.5 L1206.4,1079.8 L1207.6,1070.6 L1208.8,1066.7 L1210.0,1056.4 L1211.2,1052.5 L1212.4,1046.0 L1213.6,1035.8 L1214.8,1031.7 L1216.0,1023.3 L1217.2,1020.7 L1218.4,1010.3 L1219.6,1009.1 L1220.8,1007.8 L1222.0,1002.0 L1223.2,998.2 L1224.4,1000.3 L1225.6,996.8 L1226.8,993.4 L1228.0,996.3 L1229.2,998.7 L1230.4,1000.7 L1231.6,999.2 L1232.8,1005.0 L1234.0,1009.7 L1235.2,1006.3 L1236.4,1009.0 L1237.6,1005.2 L1238.8,1010.9 L1240.0,1015.6 L1241.2,1018.6 L1242.4,1018.2 L1243.6,1023.8 L1244.8,1026.4 L1246.0,1028.8 L1247.2,1031.9 L1248.4,1035.4 L1249.6,1039.1 L1250.8,1040.8 L1252.0,1044.1 L1253.2,1053.3 L1254.4,1050.7 L1255.6,1058.5 L1256.8,1060.9 L1258.0,1067.7 L1259.2,1070.3 L1260.4,1074.5 L1261.6,1078.7 L1262.8,1081.8 L1264.0,1086.1 L1265.2,1091.9 L1266.4,1094.8 L1267.6,1097.8 L1268.8,1101.6 L1270.0,1106.3 L1271.2,1109.8 L1272.4,1113.3 L1273.6,1117.4 L1274.8,1120.9 L1276.0,1122.1 L1277.2,1126.6 L1278.4,1129.4 L1279.6,1132.8 L1280.8,1134.5 L1282.0,1137.1 L1283.2,1140.7 L1284.4,1142.9 L1285.6,1145.9 L1286.8,1147.1 L1288.0,1149.7 L1289.2,1152.4 L1290.4,1153.7 L1291.6,1155.9 L1292.8,1157.7 L1294.0,1159.4 L1295.2,1161.3 L1296.4,1162.7 L1297.6,1163.9 L1298.8,1165.4 L1300.0,1166.8 L1301.2,1167.5 L1302.4,1168.9 L1303.6,1170.0 L1304.8,1171.0 L1306.0,1171.7 L1307.2,1172.5 L1308.4,1173.3 L1309.6,1174.0 L1310.8,1174.9 L1312.0,1175.4 L1313.2,1175.9 L1314.4,1176.4 L1315.6,1176.9 L1316.8,1177.4 L1318.0,1177.6 L1319.2,1178.1 L1320.4,1178.4 L1321.6,1178.7 L1322.8,1179.0 L1324.0,1179.3 L1325.2,1179.6 L1326.4,1179.7 L1327.6,1179.9 L1328.8,1180.1 L1330.0,1180.2 L1331.2,1180.4 L1332.4,1180.5 L1333.6,1180.6 L1334.8,1180.7 L1336.0,1181.5 L1337.2,1181.5 L1338.4,1181.5 L1339.6,1181.5 L1340.8,1181.5 L1342.0,1181.5 L1343.2,1181.5 L1344.4,1181.5 L1345.6,1181.5 L1346.8,1181.5 L1348.0,1181.5 L1349.2,1181.5 L1350.4,1181.5 L1351.6,1181.5 L1352.8,1181.5 L1354.0,1181.5 L1355.2,1181.5 L1356.4,1181.5 L1357.6,1181.5 L1358.8,1181.5 L1360.0,1181.5 L1361.2,1181.5 L1362.4,1181.5 L1363.6,1181.5 L1364.8,1181.5 L1366.0,1181.5 L1367.2,1181.5 L1368.4,1181.5 L1369.6,1181.5 L1370.8,1181.5 L1372.0,1181.5 L1373.2,1181.5 L1374.4,1181.5 L1375.6,1181.5 L1376.8,1181.5 L1378.0,1181.5 L1379.2,1181.5 L1380.4,1181.5 L1381.6,1181.5 L1382.8,1181.5 L1384.0,1181.5 L1385.2,1181.5 L1386.4,1181.5 L1387.6,1181.5 L1388.8,1181.5 L1390.0,1181.5 L1391.2,1181.5 L1392.4,1181.5 L1393.6,1181.5 L1394.8,1181.5 L1396.0,1181.5 L1397.2,1181.5 L1398.4,1181.5 L1399.6,1181.5 L1400.8,1181.5 L1402.0,1181.5 L1403.2,1181.5 L1404.4,1181.5 L1405.6,1181.5 L1406.8,1181.5 L1408.0,1181.5 L1409.2,1181.5 L1410.4,1181.5 L1411.6,1181.5 L1412.8,1181.5 L1414.0,1181.5 L1415.2,1181.5 L1416.4,1181.5 L1417.6,1181.5 L1418.8,1181.5 L1420.0,1181.5 L1421.2,1181.5 L1422.4,1181.5 L1423.6,1181.5 L1424.8,1181.5 L1426.0,1181.5 L1427.2,1181.5 L1428.4,1181.5 L1429.6,1181.5 L1430.8,1181.5 L1432.0,1181.5 L1433.2,1181.5 L1434.4,1181.5 L1435.6,1181.5 L1436.8,1181.5 L1438.0,1181.5 L1439.2,1181.5 L1440.4,1181.5 L1441.6,1181.5 L1442.8,1181.5 L1444.0,1181.5 L1445.2,1181.5 L1446.4,1181.5 L1447.6,1181.5 L1448.8,1181.5 L1450.0,1181.5 L1451.2,1181.5 L1452.4,1181.5 L1453.6,1181.5 L1454.8,1181.5 L1456.0,1181.5 L1457.2,1181.5 L1458.4,1181.5 L1459.6,1181.5 L1460.8,1181.5 L1462.0,1181.5 L1463.2,1181.5 L1464.4,1181.5 L1465.6,1181.5 L1466.8,1181.5 L1468.0,1181.5 L1469.2,1181.5 L1470.4,1181.5 L1471.6,1181.5 L1472.8,1181.5 L1474.0,1181.5 L1475.2,1181.5 L1476.4,1181.5 L1477.6,1181.5 L1478.8,1181.5 L1480.0,1181.5 L1481.2,1181.5 L1482.4,1181.5 L1483.6,1181.5 L1484.8,1181.5 L1486.0,1181.5 L1487.2,1181.5 L1488.4,1181.5 L1489.6,1181.5 L1490.8,1181.5 L1492.0,1181.5 L1493.2,1181.5 L1494.4,1181.5 L1495.6,1181.5 L1496.8,1181.5 L1498.0,1181.5 L1499.2,1181.5 L1500.4,1181.5 L1501.6,1181.5 L1502.8,1181.5 L1504.0,1181.5 L1505.2,1181.5 L1506.4,1181.5 L1506.4,1181.5 Z" fill="#a8f08c" fill-opacity="0.62" stroke="#5ee03a" stroke-width="2.3" stroke-linejoin="round"/><line x1="1163.0" y1="1182.5" x2="1507.0" y2="1182.5" stroke="#000" stroke-width="1.5"/><line x1="1250.9" y1="1182.5" x2="1250.9" y2="1186.5" stroke="#000" stroke-width="1.2"/><line x1="1267.8" y1="1182.5" x2="1267.8" y2="1186.5" stroke="#000" stroke-width="1.2"/><line x1="1279.7" y1="1182.5" x2="1279.7" y2="1186.5" stroke="#000" stroke-width="1.2"/><line x1="1289.0" y1="1182.5" x2="1289.0" y2="1186.5" stroke="#000" stroke-width="1.2"/><line x1="1296.6" y1="1182.5" x2="1296.6" y2="1186.5" stroke="#000" stroke-width="1.2"/><line x1="1303.0" y1="1182.5" x2="1303.0" y2="1186.5" stroke="#000" stroke-width="1.2"/><line x1="1308.6" y1="1182.5" x2="1308.6" y2="1186.5" stroke="#000" stroke-width="1.2"/><line x1="1313.5" y1="1182.5" x2="1313.5" y2="1186.5" stroke="#000" stroke-width="1.2"/><line x1="1345.3" y1="1182.5" x2="1345.3" y2="1186.5" stroke="#000" stroke-width="1.2"/><line x1="1361.4" y1="1182.5" x2="1361.4" y2="1186.5" stroke="#000" stroke-width="1.2"/><line x1="1372.7" y1="1182.5" x2="1372.7" y2="1186.5" stroke="#000" stroke-width="1.2"/><line x1="1381.6" y1="1182.5" x2="1381.6" y2="1186.5" stroke="#000" stroke-width="1.2"/><line x1="1388.8" y1="1182.5" x2="1388.8" y2="1186.5" stroke="#000" stroke-width="1.2"/><line x1="1394.9" y1="1182.5" x2="1394.9" y2="1186.5" stroke="#000" stroke-width="1.2"/><line x1="1400.2" y1="1182.5" x2="1400.2" y2="1186.5" stroke="#000" stroke-width="1.2"/><line x1="1404.8" y1="1182.5" x2="1404.8" y2="1186.5" stroke="#000" stroke-width="1.2"/><line x1="1433.2" y1="1182.5" x2="1433.2" y2="1186.5" stroke="#000" stroke-width="1.2"/><line x1="1447.4" y1="1182.5" x2="1447.4" y2="1186.5" stroke="#000" stroke-width="1.2"/><line x1="1457.4" y1="1182.5" x2="1457.4" y2="1186.5" stroke="#000" stroke-width="1.2"/><line x1="1465.2" y1="1182.5" x2="1465.2" y2="1186.5" stroke="#000" stroke-width="1.2"/><line x1="1471.6" y1="1182.5" x2="1471.6" y2="1186.5" stroke="#000" stroke-width="1.2"/><line x1="1476.9" y1="1182.5" x2="1476.9" y2="1186.5" stroke="#000" stroke-width="1.2"/><line x1="1481.6" y1="1182.5" x2="1481.6" y2="1186.5" stroke="#000" stroke-width="1.2"/><line x1="1485.7" y1="1182.5" x2="1485.7" y2="1186.5" stroke="#000" stroke-width="1.2"/><line x1="1317.9" y1="1182.5" x2="1317.9" y2="1189.5" stroke="#000" stroke-width="1.6"/><line x1="1409.0" y1="1182.5" x2="1409.0" y2="1189.5" stroke="#000" stroke-width="1.6"/><line x1="1489.4" y1="1182.5" x2="1489.4" y2="1189.5" stroke="#000" stroke-width="1.6"/><line x1="1208.0" y1="1182.5" x2="1208.0" y2="1189.5" stroke="#000" stroke-width="1.6"/><line x1="1211.0" y1="1182.5" x2="1211.0" y2="1189.5" stroke="#000" stroke-width="1.6"/><line x1="1214.0" y1="1182.5" x2="1214.0" y2="1189.5" stroke="#000" stroke-width="1.6"/><line x1="1217.0" y1="1182.5" x2="1217.0" y2="1189.5" stroke="#000" stroke-width="1.6"/><line x1="1219.0" y1="1182.5" x2="1219.0" y2="1189.5" stroke="#000" stroke-width="1.6"/><line x1="1221.0" y1="1182.5" x2="1221.0" y2="1189.5" stroke="#000" stroke-width="1.6"/><line x1="1223.0" y1="1182.5" x2="1223.0" y2="1189.5" stroke="#000" stroke-width="1.6"/><line x1="1225.0" y1="1182.5" x2="1225.0" y2="1189.5" stroke="#000" stroke-width="1.6"/><line x1="1227.0" y1="1182.5" x2="1227.0" y2="1189.5" stroke="#000" stroke-width="1.6"/><line x1="1230.0" y1="1182.5" x2="1230.0" y2="1189.5" stroke="#000" stroke-width="1.6"/><line x1="1192.0" y1="1182.5" x2="1192.0" y2="1186.5" stroke="#000" stroke-width="1.2"/><line x1="1200.0" y1="1182.5" x2="1200.0" y2="1186.5" stroke="#000" stroke-width="1.2"/><line x1="1242.0" y1="1182.5" x2="1242.0" y2="1186.5" stroke="#000" stroke-width="1.2"/><line x1="1252.0" y1="1182.5" x2="1252.0" y2="1186.5" stroke="#000" stroke-width="1.2"/><line x1="1262.0" y1="1182.5" x2="1262.0" y2="1186.5" stroke="#000" stroke-width="1.2"/><line x1="1272.0" y1="1182.5" x2="1272.0" y2="1186.5" stroke="#000" stroke-width="1.2"/><text x="1230.5" y="1211.0" text-anchor="middle" style="font-size:14px" transform="translate(1230.5 1211.0) scale(1 1.015) translate(-1230.5 -1211.0)">0</text><text x="1314.7" y="1211" style="font-size:14px;font-family:'Liberation Serif', 'Times New Roman', serif">10<tspan dy="-6" style="font-size:11px">3</tspan></text><text x="1406" y="1211" style="font-size:14px;font-family:'Liberation Serif', 'Times New Roman', serif">10<tspan dy="-6" style="font-size:11px">4</tspan></text><text x="1486" y="1211" style="font-size:14px;font-family:'Liberation Serif', 'Times New Roman', serif">10<tspan dy="-6" style="font-size:11px">5</tspan></text><polygon points="1567.0,1183.0 1911.7,1183.0 1993.3,1129.4 1647.4,1129.4" fill="#ffffff"/><line x1="1657.7" y1="1183.0" x2="1738.1" y2="1129.4" stroke="#9a9a9a" stroke-width="0.8"/><line x1="1673.8" y1="1183.0" x2="1754.2" y2="1129.4" stroke="#9a9a9a" stroke-width="0.8"/><line x1="1685.3" y1="1183.0" x2="1765.7" y2="1129.4" stroke="#9a9a9a" stroke-width="0.8"/><line x1="1694.2" y1="1183.0" x2="1774.6" y2="1129.4" stroke="#9a9a9a" stroke-width="0.8"/><line x1="1701.5" y1="1183.0" x2="1781.9" y2="1129.4" stroke="#9a9a9a" stroke-width="0.8"/><line x1="1707.7" y1="1183.0" x2="1788.1" y2="1129.4" stroke="#9a9a9a" stroke-width="0.8"/><line x1="1713.0" y1="1183.0" x2="1793.4" y2="1129.4" stroke="#9a9a9a" stroke-width="0.8"/><line x1="1717.7" y1="1183.0" x2="1798.1" y2="1129.4" stroke="#9a9a9a" stroke-width="0.8"/><line x1="1749.2" y1="1183.0" x2="1829.6" y2="1129.4" stroke="#9a9a9a" stroke-width="0.8"/><line x1="1765.2" y1="1183.0" x2="1845.6" y2="1129.4" stroke="#9a9a9a" stroke-width="0.8"/><line x1="1776.6" y1="1183.0" x2="1857.0" y2="1129.4" stroke="#9a9a9a" stroke-width="0.8"/><line x1="1785.4" y1="1183.0" x2="1865.8" y2="1129.4" stroke="#9a9a9a" stroke-width="0.8"/><line x1="1792.6" y1="1183.0" x2="1873.0" y2="1129.4" stroke="#9a9a9a" stroke-width="0.8"/><line x1="1798.6" y1="1183.0" x2="1879.0" y2="1129.4" stroke="#9a9a9a" stroke-width="0.8"/><line x1="1803.9" y1="1183.0" x2="1884.3" y2="1129.4" stroke="#9a9a9a" stroke-width="0.8"/><line x1="1808.5" y1="1183.0" x2="1888.9" y2="1129.4" stroke="#9a9a9a" stroke-width="0.8"/><line x1="1837.6" y1="1183.0" x2="1918.0" y2="1129.4" stroke="#9a9a9a" stroke-width="0.8"/><line x1="1852.2" y1="1183.0" x2="1932.6" y2="1129.4" stroke="#9a9a9a" stroke-width="0.8"/><line x1="1862.5" y1="1183.0" x2="1942.9" y2="1129.4" stroke="#9a9a9a" stroke-width="0.8"/><line x1="1870.5" y1="1183.0" x2="1950.9" y2="1129.4" stroke="#9a9a9a" stroke-width="0.8"/><line x1="1877.1" y1="1183.0" x2="1957.5" y2="1129.4" stroke="#9a9a9a" stroke-width="0.8"/><line x1="1882.6" y1="1183.0" x2="1963.0" y2="1129.4" stroke="#9a9a9a" stroke-width="0.8"/><line x1="1887.4" y1="1183.0" x2="1967.8" y2="1129.4" stroke="#9a9a9a" stroke-width="0.8"/><line x1="1891.6" y1="1183.0" x2="1972.0" y2="1129.4" stroke="#9a9a9a" stroke-width="0.8"/><line x1="1574.9" y1="1183.0" x2="1655.3" y2="1129.4" stroke="#9a9a9a" stroke-width="0.8"/><line x1="1582.8" y1="1183.0" x2="1663.2" y2="1129.4" stroke="#9a9a9a" stroke-width="0.8"/><line x1="1590.6" y1="1183.0" x2="1671.0" y2="1129.4" stroke="#9a9a9a" stroke-width="0.8"/><line x1="1598.5" y1="1183.0" x2="1678.9" y2="1129.4" stroke="#9a9a9a" stroke-width="0.8"/><line x1="1606.4" y1="1183.0" x2="1686.8" y2="1129.4" stroke="#9a9a9a" stroke-width="0.8"/><line x1="1614.2" y1="1183.0" x2="1694.7" y2="1129.4" stroke="#9a9a9a" stroke-width="0.8"/><line x1="1622.1" y1="1183.0" x2="1702.5" y2="1129.4" stroke="#9a9a9a" stroke-width="0.8"/><line x1="1630.0" y1="1183.0" x2="1710.4" y2="1129.4" stroke="#333" stroke-width="1.6"/><line x1="1721.9" y1="1183.0" x2="1802.3" y2="1129.4" stroke="#333" stroke-width="1.6"/><line x1="1812.7" y1="1183.0" x2="1893.1" y2="1129.4" stroke="#333" stroke-width="1.6"/><line x1="1895.4" y1="1183.0" x2="1975.8" y2="1129.4" stroke="#333" stroke-width="1.6"/><line x1="1567.0" y1="1183.0" x2="1647.4" y2="1129.4" stroke="#333" stroke-width="1.6"/><line x1="1911.7" y1="1183.0" x2="1993.3" y2="1129.4" stroke="#333" stroke-width="1.6"/><path d="M1647.4,1129.4 L1647.4,1129.4 L1648.6,1129.4 L1649.8,1129.4 L1651.0,1129.4 L1652.2,1129.4 L1653.4,1129.4 L1654.6,1129.4 L1655.8,1129.4 L1657.0,1129.4 L1658.2,1129.4 L1659.4,1129.4 L1660.6,1129.4 L1661.8,1129.4 L1663.0,1129.4 L1664.2,1129.4 L1665.4,1129.4 L1666.6,1129.4 L1667.8,1129.4 L1669.0,1129.4 L1670.2,1129.4 L1671.4,1129.4 L1672.6,1129.4 L1673.8,1129.4 L1675.0,1129.4 L1676.2,1129.4 L1677.4,1129.4 L1678.6,1129.4 L1679.8,1129.4 L1681.0,1127.8 L1682.2,1127.0 L1683.4,1126.0 L1684.6,1124.4 L1685.8,1122.5 L1687.0,1119.7 L1688.2,1116.0 L1689.4,1111.4 L1690.6,1105.1 L1691.8,1097.9 L1693.0,1089.1 L1694.2,1077.9 L1695.4,1065.6 L1696.6,1052.0 L1697.8,1035.4 L1699.0,1016.9 L1700.2,997.0 L1701.4,975.3 L1702.6,952.3 L1703.8,931.4 L1705.0,906.8 L1706.2,887.1 L1707.4,871.3 L1708.6,845.5 L1709.8,826.5 L1711.0,810.0 L1712.2,814.5 L1713.4,830.7 L1714.6,849.0 L1715.8,859.9 L1717.0,874.6 L1718.2,886.2 L1719.4,901.7 L1720.6,912.8 L1721.8,928.1 L1723.0,939.4 L1724.2,958.4 L1725.4,968.2 L1726.6,980.5 L1727.8,995.4 L1729.0,1009.6 L1730.2,1021.5 L1731.4,1035.2 L1732.6,1046.4 L1733.8,1056.4 L1735.0,1065.8 L1736.2,1073.8 L1737.4,1082.9 L1738.6,1089.0 L1739.8,1096.3 L1741.0,1101.5 L1742.2,1106.0 L1743.4,1109.8 L1744.6,1113.7 L1745.8,1116.8 L1747.0,1118.9 L1748.2,1121.1 L1749.4,1122.9 L1750.6,1124.2 L1751.8,1125.3 L1753.0,1126.2 L1754.2,1126.9 L1755.4,1127.5 L1756.6,1127.9 L1757.8,1129.4 L1759.0,1129.4 L1760.2,1129.4 L1761.4,1129.4 L1762.6,1129.4 L1763.8,1129.4 L1765.0,1129.4 L1766.2,1129.4 L1767.4,1129.4 L1768.6,1129.4 L1769.8,1129.4 L1771.0,1129.4 L1772.2,1129.4 L1773.4,1129.4 L1774.6,1129.4 L1775.8,1129.4 L1777.0,1129.4 L1778.2,1129.4 L1779.4,1129.4 L1780.6,1129.4 L1781.8,1129.4 L1783.0,1129.4 L1784.2,1129.4 L1785.4,1129.4 L1786.6,1129.4 L1787.8,1129.4 L1789.0,1129.4 L1790.2,1129.4 L1791.4,1129.4 L1792.6,1129.4 L1793.8,1129.4 L1795.0,1129.4 L1796.2,1129.4 L1797.4,1129.4 L1798.6,1129.4 L1799.8,1129.4 L1801.0,1129.4 L1802.2,1129.4 L1803.4,1129.4 L1804.6,1129.4 L1805.8,1129.4 L1807.0,1129.4 L1808.2,1129.4 L1809.4,1129.4 L1810.6,1129.4 L1811.8,1129.4 L1813.0,1129.4 L1814.2,1129.4 L1815.4,1129.4 L1816.6,1129.4 L1817.8,1129.4 L1819.0,1129.4 L1820.2,1129.4 L1821.4,1129.4 L1822.6,1129.4 L1823.8,1129.4 L1825.0,1129.4 L1826.2,1129.4 L1827.4,1129.4 L1828.6,1129.4 L1829.8,1129.4 L1831.0,1129.4 L1832.2,1129.4 L1833.4,1129.4 L1834.6,1129.4 L1835.8,1129.4 L1837.0,1129.4 L1838.2,1129.4 L1839.4,1129.4 L1840.6,1129.4 L1841.8,1129.4 L1843.0,1129.4 L1844.2,1129.4 L1845.4,1129.4 L1846.6,1129.4 L1847.8,1129.4 L1849.0,1129.4 L1850.2,1129.4 L1851.4,1129.4 L1852.6,1129.4 L1853.8,1129.4 L1855.0,1129.4 L1856.2,1129.4 L1857.4,1129.4 L1858.6,1129.4 L1859.8,1129.4 L1861.0,1129.4 L1862.2,1129.4 L1863.4,1129.4 L1864.6,1129.4 L1865.8,1129.4 L1867.0,1129.4 L1868.2,1129.4 L1869.4,1129.4 L1870.6,1129.4 L1871.8,1129.4 L1873.0,1129.4 L1874.2,1129.4 L1875.4,1129.4 L1876.6,1129.4 L1877.8,1129.4 L1879.0,1129.4 L1880.2,1129.4 L1881.4,1129.4 L1882.6,1129.4 L1883.8,1129.4 L1885.0,1129.4 L1886.2,1129.4 L1887.4,1129.4 L1888.6,1129.4 L1889.8,1129.4 L1891.0,1129.4 L1892.2,1129.4 L1893.4,1129.4 L1894.6,1129.4 L1895.8,1129.4 L1897.0,1129.4 L1898.2,1129.4 L1899.4,1129.4 L1900.6,1129.4 L1901.8,1129.4 L1903.0,1129.4 L1904.2,1129.4 L1905.4,1129.4 L1906.6,1129.4 L1907.8,1129.4 L1909.0,1129.4 L1910.2,1129.4 L1911.4,1129.4 L1912.6,1129.4 L1913.8,1129.4 L1915.0,1129.4 L1916.2,1129.4 L1917.4,1129.4 L1918.6,1129.4 L1919.8,1129.4 L1921.0,1129.4 L1922.2,1129.4 L1923.4,1129.4 L1924.6,1129.4 L1925.8,1129.4 L1927.0,1129.4 L1928.2,1129.4 L1929.4,1129.4 L1930.6,1129.4 L1931.8,1129.4 L1933.0,1129.4 L1934.2,1129.4 L1935.4,1129.4 L1936.6,1129.4 L1937.8,1129.4 L1939.0,1129.4 L1940.2,1129.4 L1941.4,1129.4 L1942.6,1129.4 L1943.8,1129.4 L1945.0,1129.4 L1946.2,1129.4 L1947.4,1129.4 L1948.6,1129.4 L1949.8,1129.4 L1951.0,1129.4 L1952.2,1129.4 L1953.4,1129.4 L1954.6,1129.4 L1955.8,1129.4 L1957.0,1129.4 L1958.2,1129.4 L1959.4,1129.4 L1960.6,1129.4 L1961.8,1129.4 L1963.0,1129.4 L1964.2,1129.4 L1965.4,1129.4 L1966.6,1129.4 L1967.8,1129.4 L1969.0,1129.4 L1970.2,1129.4 L1971.4,1129.4 L1972.6,1129.4 L1973.8,1129.4 L1975.0,1129.4 L1976.2,1129.4 L1977.4,1129.4 L1978.6,1129.4 L1979.8,1129.4 L1981.0,1129.4 L1982.2,1129.4 L1983.4,1129.4 L1984.6,1129.4 L1985.8,1129.4 L1987.0,1129.4 L1988.2,1129.4 L1989.4,1129.4 L1990.6,1129.4 L1991.8,1129.4 L1993.0,1129.4 L1993.0,1129.4 Z" fill="#f77e84" fill-opacity="0.62" stroke="#ec2a30" stroke-width="2.3" stroke-linejoin="round"/><path d="M1620.6,1147.6 L1620.6,1147.6 L1621.8,1147.6 L1623.0,1147.6 L1624.2,1147.6 L1625.4,1147.6 L1626.6,1147.6 L1627.8,1147.6 L1629.0,1147.6 L1630.2,1147.6 L1631.4,1147.6 L1632.6,1147.6 L1633.8,1147.6 L1635.0,1147.6 L1636.2,1147.6 L1637.4,1147.6 L1638.6,1147.6 L1639.8,1147.6 L1641.0,1147.6 L1642.2,1147.6 L1643.4,1147.6 L1644.6,1146.5 L1645.8,1146.2 L1647.0,1145.7 L1648.2,1145.1 L1649.4,1144.3 L1650.6,1143.3 L1651.8,1142.0 L1653.0,1140.4 L1654.2,1138.6 L1655.4,1136.3 L1656.6,1133.7 L1657.8,1130.1 L1659.0,1126.3 L1660.2,1122.3 L1661.4,1117.0 L1662.6,1110.5 L1663.8,1103.9 L1665.0,1094.7 L1666.2,1087.2 L1667.4,1078.8 L1668.6,1068.3 L1669.8,1055.4 L1671.0,1047.0 L1672.2,1033.0 L1673.4,1021.3 L1674.6,1007.4 L1675.8,996.9 L1677.0,986.9 L1678.2,973.9 L1679.4,964.4 L1680.6,953.0 L1681.8,947.3 L1683.0,935.6 L1684.2,935.7 L1685.4,931.0 L1686.6,932.3 L1687.8,930.5 L1689.0,932.8 L1690.2,936.1 L1691.4,939.5 L1692.6,949.6 L1693.8,958.3 L1695.0,963.0 L1696.2,976.0 L1697.4,987.5 L1698.6,995.4 L1699.8,1007.8 L1701.0,1024.8 L1702.2,1032.9 L1703.4,1042.8 L1704.6,1053.8 L1705.8,1065.8 L1707.0,1073.8 L1708.2,1084.9 L1709.4,1092.9 L1710.6,1100.4 L1711.8,1107.4 L1713.0,1113.3 L1714.2,1118.7 L1715.4,1123.9 L1716.6,1127.6 L1717.8,1131.6 L1719.0,1134.6 L1720.2,1136.8 L1721.4,1139.1 L1722.6,1140.8 L1723.8,1142.3 L1725.0,1143.5 L1726.2,1144.4 L1727.4,1145.1 L1728.6,1145.7 L1729.8,1146.2 L1731.0,1146.5 L1732.2,1147.6 L1733.4,1147.6 L1734.6,1147.6 L1735.8,1147.6 L1737.0,1147.6 L1738.2,1147.6 L1739.4,1147.6 L1740.6,1147.6 L1741.8,1147.6 L1743.0,1147.6 L1744.2,1147.6 L1745.4,1147.6 L1746.6,1147.6 L1747.8,1147.6 L1749.0,1147.6 L1750.2,1147.6 L1751.4,1147.6 L1752.6,1147.6 L1753.8,1147.6 L1755.0,1147.6 L1756.2,1147.6 L1757.4,1147.6 L1758.6,1147.6 L1759.8,1147.6 L1761.0,1147.6 L1762.2,1147.6 L1763.4,1147.6 L1764.6,1147.6 L1765.8,1147.6 L1767.0,1147.6 L1768.2,1147.6 L1769.4,1147.6 L1770.6,1147.6 L1771.8,1147.6 L1773.0,1147.6 L1774.2,1147.6 L1775.4,1147.6 L1776.6,1147.6 L1777.8,1147.6 L1779.0,1147.6 L1780.2,1147.6 L1781.4,1147.6 L1782.6,1147.6 L1783.8,1147.6 L1785.0,1147.6 L1786.2,1147.6 L1787.4,1147.6 L1788.6,1147.6 L1789.8,1147.6 L1791.0,1147.6 L1792.2,1147.6 L1793.4,1147.6 L1794.6,1147.6 L1795.8,1147.6 L1797.0,1147.6 L1798.2,1147.6 L1799.4,1147.6 L1800.6,1147.6 L1801.8,1147.6 L1803.0,1147.6 L1804.2,1147.6 L1805.4,1147.6 L1806.6,1147.6 L1807.8,1147.6 L1809.0,1147.6 L1810.2,1147.6 L1811.4,1147.6 L1812.6,1147.6 L1813.8,1147.6 L1815.0,1147.6 L1816.2,1147.6 L1817.4,1147.6 L1818.6,1147.6 L1819.8,1147.6 L1821.0,1147.6 L1822.2,1147.6 L1823.4,1147.6 L1824.6,1147.6 L1825.8,1147.6 L1827.0,1147.6 L1828.2,1147.6 L1829.4,1147.6 L1830.6,1147.6 L1831.8,1147.6 L1833.0,1147.6 L1834.2,1147.6 L1835.4,1147.6 L1836.6,1147.6 L1837.8,1147.6 L1839.0,1147.6 L1840.2,1147.6 L1841.4,1147.6 L1842.6,1147.6 L1843.8,1147.6 L1845.0,1147.6 L1846.2,1147.6 L1847.4,1147.6 L1848.6,1147.6 L1849.8,1147.6 L1851.0,1147.6 L1852.2,1147.6 L1853.4,1147.6 L1854.6,1147.6 L1855.8,1147.6 L1857.0,1147.6 L1858.2,1147.6 L1859.4,1147.6 L1860.6,1147.6 L1861.8,1147.6 L1863.0,1147.6 L1864.2,1147.6 L1865.4,1147.6 L1866.6,1147.6 L1867.8,1147.6 L1869.0,1147.6 L1870.2,1147.6 L1871.4,1147.6 L1872.6,1147.6 L1873.8,1147.6 L1875.0,1147.6 L1876.2,1147.6 L1877.4,1147.6 L1878.6,1147.6 L1879.8,1147.6 L1881.0,1147.6 L1882.2,1147.6 L1883.4,1147.6 L1884.6,1147.6 L1885.8,1147.6 L1887.0,1147.6 L1888.2,1147.6 L1889.4,1147.6 L1890.6,1147.6 L1891.8,1147.6 L1893.0,1147.6 L1894.2,1147.6 L1895.4,1147.6 L1896.6,1147.6 L1897.8,1147.6 L1899.0,1147.6 L1900.2,1147.6 L1901.4,1147.6 L1902.6,1147.6 L1903.8,1147.6 L1905.0,1147.6 L1906.2,1147.6 L1907.4,1147.6 L1908.6,1147.6 L1909.8,1147.6 L1911.0,1147.6 L1912.2,1147.6 L1913.4,1147.6 L1914.6,1147.6 L1915.8,1147.6 L1917.0,1147.6 L1918.2,1147.6 L1919.4,1147.6 L1920.6,1147.6 L1921.8,1147.6 L1923.0,1147.6 L1924.2,1147.6 L1925.4,1147.6 L1926.6,1147.6 L1927.8,1147.6 L1929.0,1147.6 L1930.2,1147.6 L1931.4,1147.6 L1932.6,1147.6 L1933.8,1147.6 L1935.0,1147.6 L1936.2,1147.6 L1937.4,1147.6 L1938.6,1147.6 L1939.8,1147.6 L1941.0,1147.6 L1942.2,1147.6 L1943.4,1147.6 L1944.6,1147.6 L1945.8,1147.6 L1947.0,1147.6 L1948.2,1147.6 L1949.4,1147.6 L1950.6,1147.6 L1951.8,1147.6 L1953.0,1147.6 L1954.2,1147.6 L1955.4,1147.6 L1956.6,1147.6 L1957.8,1147.6 L1959.0,1147.6 L1960.2,1147.6 L1961.4,1147.6 L1962.6,1147.6 L1963.8,1147.6 L1965.0,1147.6 L1966.2,1147.6 L1966.2,1147.6 Z" fill="#70d8f8" fill-opacity="0.62" stroke="#1cb8ec" stroke-width="2.3" stroke-linejoin="round"/><path d="M1593.8,1165.5 L1593.8,1165.5 L1595.0,1165.5 L1596.2,1165.5 L1597.4,1165.5 L1598.6,1165.5 L1599.8,1165.5 L1601.0,1165.5 L1602.2,1165.5 L1603.4,1165.5 L1604.6,1165.5 L1605.8,1165.5 L1607.0,1165.5 L1608.2,1165.5 L1609.4,1165.5 L1610.6,1165.5 L1611.8,1165.5 L1613.0,1165.5 L1614.2,1165.5 L1615.4,1165.5 L1616.6,1165.5 L1617.8,1165.5 L1619.0,1165.5 L1620.2,1165.5 L1621.4,1165.5 L1622.6,1165.5 L1623.8,1165.5 L1625.0,1164.4 L1626.2,1163.9 L1627.4,1163.2 L1628.6,1162.3 L1629.8,1160.9 L1631.0,1159.1 L1632.2,1157.0 L1633.4,1153.8 L1634.6,1149.8 L1635.8,1145.2 L1637.0,1139.2 L1638.2,1132.6 L1639.4,1123.4 L1640.6,1114.9 L1641.8,1102.0 L1643.0,1091.5 L1644.2,1078.3 L1645.4,1064.2 L1646.6,1048.5 L1647.8,1033.2 L1649.0,1018.3 L1650.2,1003.0 L1651.4,987.2 L1652.6,974.6 L1653.8,967.4 L1655.0,956.0 L1656.2,956.8 L1657.4,955.1 L1658.6,955.7 L1659.8,952.4 L1661.0,959.6 L1662.2,961.8 L1663.4,958.4 L1664.6,961.4 L1665.8,966.9 L1667.0,978.6 L1668.2,980.9 L1669.4,985.3 L1670.6,993.4 L1671.8,1003.8 L1673.0,1008.4 L1674.2,1018.3 L1675.4,1024.9 L1676.6,1027.0 L1677.8,1037.2 L1679.0,1048.1 L1680.2,1055.7 L1681.4,1060.6 L1682.6,1069.3 L1683.8,1075.2 L1685.0,1083.4 L1686.2,1089.6 L1687.4,1095.6 L1688.6,1102.7 L1689.8,1109.0 L1691.0,1113.9 L1692.2,1118.6 L1693.4,1123.1 L1694.6,1127.4 L1695.8,1131.5 L1697.0,1135.0 L1698.2,1138.9 L1699.4,1141.4 L1700.6,1144.1 L1701.8,1147.1 L1703.0,1149.5 L1704.2,1151.3 L1705.4,1153.3 L1706.6,1155.0 L1707.8,1156.5 L1709.0,1157.8 L1710.2,1159.0 L1711.4,1159.8 L1712.6,1160.6 L1713.8,1161.5 L1715.0,1162.1 L1716.2,1162.6 L1717.4,1163.1 L1718.6,1163.5 L1719.8,1163.8 L1721.0,1164.2 L1722.2,1164.4 L1723.4,1164.6 L1724.6,1165.5 L1725.8,1165.5 L1727.0,1165.5 L1728.2,1165.5 L1729.4,1165.5 L1730.6,1165.5 L1731.8,1165.5 L1733.0,1165.5 L1734.2,1165.5 L1735.4,1165.5 L1736.6,1165.5 L1737.8,1165.5 L1739.0,1165.5 L1740.2,1165.5 L1741.4,1165.5 L1742.6,1165.5 L1743.8,1165.5 L1745.0,1165.5 L1746.2,1165.5 L1747.4,1165.5 L1748.6,1165.5 L1749.8,1165.5 L1751.0,1165.5 L1752.2,1165.5 L1753.4,1165.5 L1754.6,1165.5 L1755.8,1165.5 L1757.0,1165.5 L1758.2,1165.5 L1759.4,1165.5 L1760.6,1165.5 L1761.8,1165.5 L1763.0,1165.5 L1764.2,1165.5 L1765.4,1165.5 L1766.6,1165.5 L1767.8,1165.5 L1769.0,1165.5 L1770.2,1165.5 L1771.4,1165.5 L1772.6,1165.5 L1773.8,1165.5 L1775.0,1165.5 L1776.2,1165.5 L1777.4,1165.5 L1778.6,1165.5 L1779.8,1165.5 L1781.0,1165.5 L1782.2,1165.5 L1783.4,1165.5 L1784.6,1165.5 L1785.8,1165.5 L1787.0,1165.5 L1788.2,1165.5 L1789.4,1165.5 L1790.6,1165.5 L1791.8,1165.5 L1793.0,1165.5 L1794.2,1165.5 L1795.4,1165.5 L1796.6,1165.5 L1797.8,1165.5 L1799.0,1165.5 L1800.2,1165.5 L1801.4,1165.5 L1802.6,1165.5 L1803.8,1165.5 L1805.0,1165.5 L1806.2,1165.5 L1807.4,1165.5 L1808.6,1165.5 L1809.8,1165.5 L1811.0,1165.5 L1812.2,1165.5 L1813.4,1165.5 L1814.6,1165.5 L1815.8,1165.5 L1817.0,1165.5 L1818.2,1165.5 L1819.4,1165.5 L1820.6,1165.5 L1821.8,1165.5 L1823.0,1165.5 L1824.2,1165.5 L1825.4,1165.5 L1826.6,1165.5 L1827.8,1165.5 L1829.0,1165.5 L1830.2,1165.5 L1831.4,1165.5 L1832.6,1165.5 L1833.8,1165.5 L1835.0,1165.5 L1836.2,1165.5 L1837.4,1165.5 L1838.6,1165.5 L1839.8,1165.5 L1841.0,1165.5 L1842.2,1165.5 L1843.4,1165.5 L1844.6,1165.5 L1845.8,1165.5 L1847.0,1165.5 L1848.2,1165.5 L1849.4,1165.5 L1850.6,1165.5 L1851.8,1165.5 L1853.0,1165.5 L1854.2,1165.5 L1855.4,1165.5 L1856.6,1165.5 L1857.8,1165.5 L1859.0,1165.5 L1860.2,1165.5 L1861.4,1165.5 L1862.6,1165.5 L1863.8,1165.5 L1865.0,1165.5 L1866.2,1165.5 L1867.4,1165.5 L1868.6,1165.5 L1869.8,1165.5 L1871.0,1165.5 L1872.2,1165.5 L1873.4,1165.5 L1874.6,1165.5 L1875.8,1165.5 L1877.0,1165.5 L1878.2,1165.5 L1879.4,1165.5 L1880.6,1165.5 L1881.8,1165.5 L1883.0,1165.5 L1884.2,1165.5 L1885.4,1165.5 L1886.6,1165.5 L1887.8,1165.5 L1889.0,1165.5 L1890.2,1165.5 L1891.4,1165.5 L1892.6,1165.5 L1893.8,1165.5 L1895.0,1165.5 L1896.2,1165.5 L1897.4,1165.5 L1898.6,1165.5 L1899.8,1165.5 L1901.0,1165.5 L1902.2,1165.5 L1903.4,1165.5 L1904.6,1165.5 L1905.8,1165.5 L1907.0,1165.5 L1908.2,1165.5 L1909.4,1165.5 L1910.6,1165.5 L1911.8,1165.5 L1913.0,1165.5 L1914.2,1165.5 L1915.4,1165.5 L1916.6,1165.5 L1917.8,1165.5 L1919.0,1165.5 L1920.2,1165.5 L1921.4,1165.5 L1922.6,1165.5 L1923.8,1165.5 L1925.0,1165.5 L1926.2,1165.5 L1927.4,1165.5 L1928.6,1165.5 L1929.8,1165.5 L1931.0,1165.5 L1932.2,1165.5 L1933.4,1165.5 L1934.6,1165.5 L1935.8,1165.5 L1937.0,1165.5 L1938.2,1165.5 L1938.2,1165.5 Z" fill="#f9ba88" fill-opacity="0.62" stroke="#f28c2c" stroke-width="2.3" stroke-linejoin="round"/><path d="M1567.0,1183.0 L1567.0,1183.0 L1568.2,1183.0 L1569.4,1183.0 L1570.6,1183.0 L1571.8,1183.0 L1573.0,1183.0 L1574.2,1183.0 L1575.4,1183.0 L1576.6,1183.0 L1577.8,1183.0 L1579.0,1183.0 L1580.2,1182.6 L1581.4,1182.5 L1582.6,1182.4 L1583.8,1182.2 L1585.0,1182.1 L1586.2,1181.8 L1587.4,1181.5 L1588.6,1181.1 L1589.8,1180.6 L1591.0,1180.0 L1592.2,1179.3 L1593.4,1178.5 L1594.6,1177.7 L1595.8,1176.5 L1597.0,1175.3 L1598.2,1173.8 L1599.4,1172.1 L1600.6,1170.3 L1601.8,1168.2 L1603.0,1165.9 L1604.2,1163.5 L1605.4,1160.5 L1606.6,1157.4 L1607.8,1153.8 L1609.0,1150.6 L1610.2,1146.7 L1611.4,1142.4 L1612.6,1139.6 L1613.8,1135.1 L1615.0,1130.5 L1616.2,1126.6 L1617.4,1123.2 L1618.6,1117.7 L1619.8,1114.7 L1621.0,1112.0 L1622.2,1106.1 L1623.4,1106.1 L1624.6,1102.3 L1625.8,1100.9 L1627.0,1098.5 L1628.2,1097.0 L1629.4,1097.8 L1630.6,1097.1 L1631.8,1097.2 L1633.0,1098.5 L1634.2,1096.7 L1635.4,1098.3 L1636.6,1099.6 L1637.8,1100.9 L1639.0,1101.6 L1640.2,1102.3 L1641.4,1104.2 L1642.6,1104.1 L1643.8,1109.1 L1645.0,1110.4 L1646.2,1110.4 L1647.4,1113.6 L1648.6,1114.0 L1649.8,1116.5 L1651.0,1117.6 L1652.2,1119.8 L1653.4,1121.3 L1654.6,1123.8 L1655.8,1125.9 L1657.0,1128.6 L1658.2,1130.5 L1659.4,1133.1 L1660.6,1136.0 L1661.8,1138.5 L1663.0,1140.7 L1664.2,1141.9 L1665.4,1145.4 L1666.6,1146.3 L1667.8,1148.7 L1669.0,1150.1 L1670.2,1152.2 L1671.4,1154.4 L1672.6,1155.9 L1673.8,1158.4 L1675.0,1159.3 L1676.2,1160.8 L1677.4,1162.9 L1678.6,1163.7 L1679.8,1165.3 L1681.0,1166.6 L1682.2,1168.1 L1683.4,1168.9 L1684.6,1170.1 L1685.8,1171.2 L1687.0,1172.3 L1688.2,1173.0 L1689.4,1173.8 L1690.6,1174.7 L1691.8,1175.4 L1693.0,1176.2 L1694.2,1176.8 L1695.4,1177.3 L1696.6,1177.9 L1697.8,1178.3 L1699.0,1178.8 L1700.2,1179.3 L1701.4,1179.6 L1702.6,1180.1 L1703.8,1180.3 L1705.0,1180.6 L1706.2,1180.9 L1707.4,1181.1 L1708.6,1181.3 L1709.8,1181.5 L1711.0,1181.7 L1712.2,1181.8 L1713.4,1182.0 L1714.6,1182.1 L1715.8,1182.2 L1717.0,1182.3 L1718.2,1182.4 L1719.4,1182.5 L1720.6,1182.5 L1721.8,1182.6 L1723.0,1182.7 L1724.2,1183.0 L1725.4,1183.0 L1726.6,1183.0 L1727.8,1183.0 L1729.0,1183.0 L1730.2,1183.0 L1731.4,1183.0 L1732.6,1183.0 L1733.8,1183.0 L1735.0,1183.0 L1736.2,1183.0 L1737.4,1183.0 L1738.6,1183.0 L1739.8,1183.0 L1741.0,1183.0 L1742.2,1183.0 L1743.4,1183.0 L1744.6,1183.0 L1745.8,1183.0 L1747.0,1183.0 L1748.2,1183.0 L1749.4,1183.0 L1750.6,1183.0 L1751.8,1183.0 L1753.0,1183.0 L1754.2,1183.0 L1755.4,1183.0 L1756.6,1183.0 L1757.8,1183.0 L1759.0,1183.0 L1760.2,1183.0 L1761.4,1183.0 L1762.6,1183.0 L1763.8,1183.0 L1765.0,1183.0 L1766.2,1183.0 L1767.4,1183.0 L1768.6,1183.0 L1769.8,1183.0 L1771.0,1183.0 L1772.2,1183.0 L1773.4,1183.0 L1774.6,1183.0 L1775.8,1183.0 L1777.0,1183.0 L1778.2,1183.0 L1779.4,1183.0 L1780.6,1183.0 L1781.8,1183.0 L1783.0,1183.0 L1784.2,1183.0 L1785.4,1183.0 L1786.6,1183.0 L1787.8,1183.0 L1789.0,1183.0 L1790.2,1183.0 L1791.4,1183.0 L1792.6,1183.0 L1793.8,1183.0 L1795.0,1183.0 L1796.2,1183.0 L1797.4,1183.0 L1798.6,1183.0 L1799.8,1183.0 L1801.0,1183.0 L1802.2,1183.0 L1803.4,1183.0 L1804.6,1183.0 L1805.8,1183.0 L1807.0,1183.0 L1808.2,1183.0 L1809.4,1183.0 L1810.6,1183.0 L1811.8,1183.0 L1813.0,1183.0 L1814.2,1183.0 L1815.4,1183.0 L1816.6,1183.0 L1817.8,1183.0 L1819.0,1183.0 L1820.2,1183.0 L1821.4,1183.0 L1822.6,1183.0 L1823.8,1183.0 L1825.0,1183.0 L1826.2,1183.0 L1827.4,1183.0 L1828.6,1183.0 L1829.8,1183.0 L1831.0,1183.0 L1832.2,1183.0 L1833.4,1183.0 L1834.6,1183.0 L1835.8,1183.0 L1837.0,1183.0 L1838.2,1183.0 L1839.4,1183.0 L1840.6,1183.0 L1841.8,1183.0 L1843.0,1183.0 L1844.2,1183.0 L1845.4,1183.0 L1846.6,1183.0 L1847.8,1183.0 L1849.0,1183.0 L1850.2,1183.0 L1851.4,1183.0 L1852.6,1183.0 L1853.8,1183.0 L1855.0,1183.0 L1856.2,1183.0 L1857.4,1183.0 L1858.6,1183.0 L1859.8,1183.0 L1861.0,1183.0 L1862.2,1183.0 L1863.4,1183.0 L1864.6,1183.0 L1865.8,1183.0 L1867.0,1183.0 L1868.2,1183.0 L1869.4,1183.0 L1870.6,1183.0 L1871.8,1183.0 L1873.0,1183.0 L1874.2,1183.0 L1875.4,1183.0 L1876.6,1183.0 L1877.8,1183.0 L1879.0,1183.0 L1880.2,1183.0 L1881.4,1183.0 L1882.6,1183.0 L1883.8,1183.0 L1885.0,1183.0 L1886.2,1183.0 L1887.4,1183.0 L1888.6,1183.0 L1889.8,1183.0 L1891.0,1183.0 L1892.2,1183.0 L1893.4,1183.0 L1894.6,1183.0 L1895.8,1183.0 L1897.0,1183.0 L1898.2,1183.0 L1899.4,1183.0 L1900.6,1183.0 L1901.8,1183.0 L1903.0,1183.0 L1904.2,1183.0 L1905.4,1183.0 L1906.6,1183.0 L1907.8,1183.0 L1909.0,1183.0 L1910.2,1183.0 L1911.4,1183.0 L1911.4,1183.0 Z" fill="#a8f08c" fill-opacity="0.62" stroke="#5ee03a" stroke-width="2.3" stroke-linejoin="round"/><line x1="1568.0" y1="1184.0" x2="1911.0" y2="1184.0" stroke="#000" stroke-width="1.5"/><line x1="1657.7" y1="1184.0" x2="1657.7" y2="1188.0" stroke="#000" stroke-width="1.2"/><line x1="1673.8" y1="1184.0" x2="1673.8" y2="1188.0" stroke="#000" stroke-width="1.2"/><line x1="1685.3" y1="1184.0" x2="1685.3" y2="1188.0" stroke="#000" stroke-width="1.2"/><line x1="1694.2" y1="1184.0" x2="1694.2" y2="1188.0" stroke="#000" stroke-width="1.2"/><line x1="1701.5" y1="1184.0" x2="1701.5" y2="1188.0" stroke="#000" stroke-width="1.2"/><line x1="1707.7" y1="1184.0" x2="1707.7" y2="1188.0" stroke="#000" stroke-width="1.2"/><line x1="1713.0" y1="1184.0" x2="1713.0" y2="1188.0" stroke="#000" stroke-width="1.2"/><line x1="1717.7" y1="1184.0" x2="1717.7" y2="1188.0" stroke="#000" stroke-width="1.2"/><line x1="1749.2" y1="1184.0" x2="1749.2" y2="1188.0" stroke="#000" stroke-width="1.2"/><line x1="1765.2" y1="1184.0" x2="1765.2" y2="1188.0" stroke="#000" stroke-width="1.2"/><line x1="1776.6" y1="1184.0" x2="1776.6" y2="1188.0" stroke="#000" stroke-width="1.2"/><line x1="1785.4" y1="1184.0" x2="1785.4" y2="1188.0" stroke="#000" stroke-width="1.2"/><line x1="1792.6" y1="1184.0" x2="1792.6" y2="1188.0" stroke="#000" stroke-width="1.2"/><line x1="1798.6" y1="1184.0" x2="1798.6" y2="1188.0" stroke="#000" stroke-width="1.2"/><line x1="1803.9" y1="1184.0" x2="1803.9" y2="1188.0" stroke="#000" stroke-width="1.2"/><line x1="1808.5" y1="1184.0" x2="1808.5" y2="1188.0" stroke="#000" stroke-width="1.2"/><line x1="1837.6" y1="1184.0" x2="1837.6" y2="1188.0" stroke="#000" stroke-width="1.2"/><line x1="1852.2" y1="1184.0" x2="1852.2" y2="1188.0" stroke="#000" stroke-width="1.2"/><line x1="1862.5" y1="1184.0" x2="1862.5" y2="1188.0" stroke="#000" stroke-width="1.2"/><line x1="1870.5" y1="1184.0" x2="1870.5" y2="1188.0" stroke="#000" stroke-width="1.2"/><line x1="1877.1" y1="1184.0" x2="1877.1" y2="1188.0" stroke="#000" stroke-width="1.2"/><line x1="1882.6" y1="1184.0" x2="1882.6" y2="1188.0" stroke="#000" stroke-width="1.2"/><line x1="1887.4" y1="1184.0" x2="1887.4" y2="1188.0" stroke="#000" stroke-width="1.2"/><line x1="1891.6" y1="1184.0" x2="1891.6" y2="1188.0" stroke="#000" stroke-width="1.2"/><line x1="1721.9" y1="1184.0" x2="1721.9" y2="1192.0" stroke="#000" stroke-width="2"/><line x1="1812.7" y1="1184.0" x2="1812.7" y2="1192.0" stroke="#000" stroke-width="2"/><line x1="1895.4" y1="1184.0" x2="1895.4" y2="1192.0" stroke="#000" stroke-width="2"/><line x1="1616.0" y1="1184.0" x2="1616.0" y2="1191.0" stroke="#000" stroke-width="1.6"/><line x1="1619.0" y1="1184.0" x2="1619.0" y2="1191.0" stroke="#000" stroke-width="1.6"/><line x1="1622.0" y1="1184.0" x2="1622.0" y2="1191.0" stroke="#000" stroke-width="1.6"/><line x1="1625.0" y1="1184.0" x2="1625.0" y2="1191.0" stroke="#000" stroke-width="1.6"/><line x1="1627.0" y1="1184.0" x2="1627.0" y2="1191.0" stroke="#000" stroke-width="1.6"/><line x1="1629.0" y1="1184.0" x2="1629.0" y2="1191.0" stroke="#000" stroke-width="1.6"/><line x1="1631.0" y1="1184.0" x2="1631.0" y2="1191.0" stroke="#000" stroke-width="1.6"/><line x1="1633.0" y1="1184.0" x2="1633.0" y2="1191.0" stroke="#000" stroke-width="1.6"/><line x1="1635.0" y1="1184.0" x2="1635.0" y2="1191.0" stroke="#000" stroke-width="1.6"/><line x1="1638.0" y1="1184.0" x2="1638.0" y2="1191.0" stroke="#000" stroke-width="1.6"/><line x1="1600.0" y1="1184.0" x2="1600.0" y2="1188.0" stroke="#000" stroke-width="1.2"/><line x1="1608.0" y1="1184.0" x2="1608.0" y2="1188.0" stroke="#000" stroke-width="1.2"/><line x1="1650.0" y1="1184.0" x2="1650.0" y2="1188.0" stroke="#000" stroke-width="1.2"/><line x1="1660.0" y1="1184.0" x2="1660.0" y2="1188.0" stroke="#000" stroke-width="1.2"/><line x1="1670.0" y1="1184.0" x2="1670.0" y2="1188.0" stroke="#000" stroke-width="1.2"/><line x1="1680.0" y1="1184.0" x2="1680.0" y2="1188.0" stroke="#000" stroke-width="1.2"/><text x="1633.4" y="1218.0" text-anchor="middle" style="font-size:21px" transform="translate(1633.4 1218.0) scale(1 1.015) translate(-1633.4 -1218.0)">0</text><text x="1719.6" y="1218" style="font-size:21px;font-family:'Liberation Serif', 'Times New Roman', serif">10<tspan dy="-12" style="font-size:19px">3</tspan></text><text x="1809.2" y="1218" style="font-size:21px;font-family:'Liberation Serif', 'Times New Roman', serif">10<tspan dy="-12" style="font-size:19px">4</tspan></text><text x="1881.5" y="1218" style="font-size:21px;font-family:'Liberation Serif', 'Times New Roman', serif">10<tspan dy="-12" style="font-size:19px">5</tspan></text><rect x="1364.8" y="830.5" width="44.7" height="21" rx="10" fill="#f8a6aa"/><text x="1418.7" y="850.2" style="font-size:39px" transform="translate(1418.7 850.2) scale(1 1.015) translate(-1418.7 -850.2)">Control</text><rect x="1364.8" y="871.7" width="44.7" height="21" rx="10" fill="#92e6fb"/><text x="1423.2" y="892.7" style="font-size:39px" transform="translate(1423.2 892.7) scale(1 1.015) translate(-1423.2 -892.7)">Ant</text><rect x="1364.8" y="913.7" width="44.7" height="21" rx="10" fill="#fccaa2"/><text x="1423.2" y="937.0" style="font-size:39px" transform="translate(1423.2 937.0) scale(1 1.015) translate(-1423.2 -937.0)">MPS1</text><rect x="1364.8" y="954.8" width="44.7" height="21" rx="10" fill="#c2f7ac"/><text x="1423.2" y="982.7" style="font-size:39px" transform="translate(1423.2 982.7) scale(1 1.015) translate(-1423.2 -982.7)">MPS2</text><text x="1231.4" y="1275.0" style="font-size:40px;font-style:italic" transform="translate(1231.4 1275.0) scale(1 1.015) translate(-1231.4 -1275.0)">S. aureus</text><text x="1665.4" y="1275.0" style="font-size:40px;font-style:italic" transform="translate(1665.4 1275.0) scale(1 1.015) translate(-1665.4 -1275.0)">E. coli</text><text x="18.0" y="1407.3" style="font-size:40px" transform="translate(18.0 1407.3) scale(1 1.015) translate(-18.0 -1407.3)">f</text><text x="10.5" y="1749.0" style="font-size:40px" transform="translate(10.5 1749.0) scale(1 1.015) translate(-10.5 -1749.0)">g</text><line x1="180.4" y1="1387.7" x2="180.4" y2="1676.1" stroke="#000" stroke-width="3"/><line x1="163.4" y1="1674.6" x2="479.7" y2="1674.6" stroke="#000" stroke-width="3"/><line x1="163.4" y1="1389.2" x2="180.4" y2="1389.2" stroke="#000" stroke-width="3"/><text x="161.4" y="1399.9" text-anchor="end" style="font-size:30px" transform="translate(161.4 1399.9) scale(1 1.015) translate(-161.4 -1399.9)">80</text><line x1="163.4" y1="1460.5" x2="180.4" y2="1460.5" stroke="#000" stroke-width="3"/><text x="161.4" y="1471.2" text-anchor="end" style="font-size:30px" transform="translate(161.4 1471.2) scale(1 1.015) translate(-161.4 -1471.2)">60</text><line x1="163.4" y1="1531.9" x2="180.4" y2="1531.9" stroke="#000" stroke-width="3"/><text x="161.4" y="1542.6" text-anchor="end" style="font-size:30px" transform="translate(161.4 1542.6) scale(1 1.015) translate(-161.4 -1542.6)">40</text><line x1="163.4" y1="1603.2" x2="180.4" y2="1603.2" stroke="#000" stroke-width="3"/><text x="161.4" y="1613.9" text-anchor="end" style="font-size:30px" transform="translate(161.4 1613.9) scale(1 1.015) translate(-161.4 -1613.9)">20</text><line x1="163.4" y1="1674.6" x2="180.4" y2="1674.6" stroke="#000" stroke-width="3"/><text x="161.4" y="1685.2" text-anchor="end" style="font-size:30px" transform="translate(161.4 1685.2) scale(1 1.015) translate(-161.4 -1685.2)">0</text><line x1="226.0" y1="1674.6" x2="226.0" y2="1691.6" stroke="#000" stroke-width="3"/><line x1="295.0" y1="1674.6" x2="295.0" y2="1691.6" stroke="#000" stroke-width="3"/><line x1="363.8" y1="1674.6" x2="363.8" y2="1691.6" stroke="#000" stroke-width="3"/><line x1="433.1" y1="1674.6" x2="433.1" y2="1691.6" stroke="#000" stroke-width="3"/><line x1="226.0" y1="1627.8" x2="226.0" y2="1641.3" stroke="#8f8f8f" stroke-width="3.6"/><line x1="213.0" y1="1627.8" x2="239.0" y2="1627.8" stroke="#8f8f8f" stroke-width="3.6" stroke-linecap="round"/><line x1="213.0" y1="1641.3" x2="239.0" y2="1641.3" stroke="#8f8f8f" stroke-width="3.6" stroke-linecap="round"/><line x1="201.0" y1="1634.6" x2="251.0" y2="1634.6" stroke="#8f8f8f" stroke-width="4.2" stroke-linecap="round"/><circle cx="209.2" cy="1640.5" r="6.3" fill="none" stroke="#8f8f8f" stroke-width="3.4"/><circle cx="226.0" cy="1627.2" r="6.3" fill="none" stroke="#8f8f8f" stroke-width="3.4"/><circle cx="241.2" cy="1636.0" r="6.3" fill="none" stroke="#8f8f8f" stroke-width="3.4"/><line x1="295.0" y1="1593.0" x2="295.0" y2="1610.9" stroke="#6fcfb8" stroke-width="3.6"/><line x1="282.0" y1="1593.0" x2="308.0" y2="1593.0" stroke="#6fcfb8" stroke-width="3.6" stroke-linecap="round"/><line x1="282.0" y1="1610.9" x2="308.0" y2="1610.9" stroke="#6fcfb8" stroke-width="3.6" stroke-linecap="round"/><line x1="270.0" y1="1601.9" x2="320.0" y2="1601.9" stroke="#6fcfb8" stroke-width="4.2" stroke-linecap="round"/><circle cx="278.5" cy="1593.3" r="6.3" fill="none" stroke="#6fcfb8" stroke-width="3.4"/><circle cx="278.5" cy="1611.2" r="6.3" fill="none" stroke="#6fcfb8" stroke-width="3.4"/><circle cx="310.5" cy="1601.3" r="6.3" fill="none" stroke="#6fcfb8" stroke-width="3.4"/><line x1="363.8" y1="1522.5" x2="363.8" y2="1534.7" stroke="#3d9fe0" stroke-width="3.6"/><line x1="350.8" y1="1522.5" x2="376.8" y2="1522.5" stroke="#3d9fe0" stroke-width="3.6" stroke-linecap="round"/><line x1="350.8" y1="1534.7" x2="376.8" y2="1534.7" stroke="#3d9fe0" stroke-width="3.6" stroke-linecap="round"/><line x1="338.8" y1="1528.6" x2="388.8" y2="1528.6" stroke="#3d9fe0" stroke-width="4.2" stroke-linecap="round"/><circle cx="347.8" cy="1533.9" r="6.3" fill="none" stroke="#3d9fe0" stroke-width="3.4"/><circle cx="363.8" cy="1521.9" r="6.3" fill="none" stroke="#3d9fe0" stroke-width="3.4"/><circle cx="379.8" cy="1529.9" r="6.3" fill="none" stroke="#3d9fe0" stroke-width="3.4"/><line x1="433.1" y1="1448.9" x2="433.1" y2="1455.5" stroke="#e8503c" stroke-width="3.6"/><line x1="420.1" y1="1448.9" x2="446.1" y2="1448.9" stroke="#e8503c" stroke-width="3.6" stroke-linecap="round"/><line x1="420.1" y1="1455.5" x2="446.1" y2="1455.5" stroke="#e8503c" stroke-width="3.6" stroke-linecap="round"/><line x1="408.1" y1="1452.2" x2="458.1" y2="1452.2" stroke="#e8503c" stroke-width="4.2" stroke-linecap="round"/><circle cx="417.1" cy="1455.8" r="6.3" fill="none" stroke="#e8503c" stroke-width="3.4"/><circle cx="433.1" cy="1449.4" r="6.3" fill="none" stroke="#e8503c" stroke-width="3.4"/><circle cx="449.0" cy="1451.3" r="6.3" fill="none" stroke="#e8503c" stroke-width="3.4"/><line x1="223.3" y1="1578.4" x2="294.5" y2="1578.4" stroke="#000" stroke-width="2.6"/><text x="189.2" y="1559.8" style="font-size:29px" transform="translate(189.2 1559.8) scale(1 1.015) translate(-189.2 -1559.8)"><tspan style="font-style:italic">p</tspan> = 0.0046</text><line x1="293.2" y1="1504.6" x2="363.8" y2="1504.6" stroke="#000" stroke-width="2.6"/><text x="259.9" y="1492.6" style="font-size:29px" transform="translate(259.9 1492.6) scale(1 1.015) translate(-259.9 -1492.6)"><tspan style="font-style:italic">p</tspan> = 0.0003</text><line x1="362.5" y1="1426.8" x2="433.1" y2="1426.8" stroke="#000" stroke-width="2.6"/><text x="328.4" y="1418.0" style="font-size:29px" transform="translate(328.4 1418.0) scale(1 1.015) translate(-328.4 -1418.0)"><tspan style="font-style:italic">p</tspan> &lt; 0.0001</text><line x1="658.4" y1="1388.0" x2="658.4" y2="1676.7" stroke="#000" stroke-width="3"/><line x1="641.4" y1="1675.2" x2="959.0" y2="1675.2" stroke="#000" stroke-width="3"/><line x1="641.4" y1="1389.5" x2="658.4" y2="1389.5" stroke="#000" stroke-width="3"/><text x="639.4" y="1400.2" text-anchor="end" style="font-size:30px" transform="translate(639.4 1400.2) scale(1 1.015) translate(-639.4 -1400.2)">100</text><line x1="641.4" y1="1446.6" x2="658.4" y2="1446.6" stroke="#000" stroke-width="3"/><text x="639.4" y="1457.3" text-anchor="end" style="font-size:30px" transform="translate(639.4 1457.3) scale(1 1.015) translate(-639.4 -1457.3)">80</text><line x1="641.4" y1="1503.8" x2="658.4" y2="1503.8" stroke="#000" stroke-width="3"/><text x="639.4" y="1514.4" text-anchor="end" style="font-size:30px" transform="translate(639.4 1514.4) scale(1 1.015) translate(-639.4 -1514.4)">60</text><line x1="641.4" y1="1560.9" x2="658.4" y2="1560.9" stroke="#000" stroke-width="3"/><text x="639.4" y="1571.6" text-anchor="end" style="font-size:30px" transform="translate(639.4 1571.6) scale(1 1.015) translate(-639.4 -1571.6)">40</text><line x1="641.4" y1="1618.1" x2="658.4" y2="1618.1" stroke="#000" stroke-width="3"/><text x="639.4" y="1628.7" text-anchor="end" style="font-size:30px" transform="translate(639.4 1628.7) scale(1 1.015) translate(-639.4 -1628.7)">20</text><line x1="641.4" y1="1675.2" x2="658.4" y2="1675.2" stroke="#000" stroke-width="3"/><text x="639.4" y="1685.9" text-anchor="end" style="font-size:30px" transform="translate(639.4 1685.9) scale(1 1.015) translate(-639.4 -1685.9)">0</text><line x1="704.5" y1="1675.2" x2="704.5" y2="1692.2" stroke="#000" stroke-width="3"/><line x1="773.8" y1="1675.2" x2="773.8" y2="1692.2" stroke="#000" stroke-width="3"/><line x1="843.1" y1="1675.2" x2="843.1" y2="1692.2" stroke="#000" stroke-width="3"/><line x1="911.9" y1="1675.2" x2="911.9" y2="1692.2" stroke="#000" stroke-width="3"/><line x1="704.5" y1="1664.7" x2="704.5" y2="1670.1" stroke="#8f8f8f" stroke-width="3.6"/><line x1="691.5" y1="1664.7" x2="717.5" y2="1664.7" stroke="#8f8f8f" stroke-width="3.6" stroke-linecap="round"/><line x1="691.5" y1="1670.1" x2="717.5" y2="1670.1" stroke="#8f8f8f" stroke-width="3.6" stroke-linecap="round"/><line x1="679.5" y1="1667.4" x2="729.5" y2="1667.4" stroke="#8f8f8f" stroke-width="4.2" stroke-linecap="round"/><circle cx="688.6" cy="1669.8" r="6.3" fill="none" stroke="#8f8f8f" stroke-width="3.4"/><circle cx="704.5" cy="1664.5" r="6.3" fill="none" stroke="#8f8f8f" stroke-width="3.4"/><circle cx="721.3" cy="1668.0" r="6.3" fill="none" stroke="#8f8f8f" stroke-width="3.4"/><line x1="773.8" y1="1603.5" x2="773.8" y2="1607.9" stroke="#6fcfb8" stroke-width="3.6"/><line x1="760.8" y1="1603.5" x2="786.8" y2="1603.5" stroke="#6fcfb8" stroke-width="3.6" stroke-linecap="round"/><line x1="760.8" y1="1607.9" x2="786.8" y2="1607.9" stroke="#6fcfb8" stroke-width="3.6" stroke-linecap="round"/><line x1="748.8" y1="1605.7" x2="798.8" y2="1605.7" stroke="#6fcfb8" stroke-width="4.2" stroke-linecap="round"/><circle cx="757.9" cy="1607.2" r="6.3" fill="none" stroke="#6fcfb8" stroke-width="3.4"/><circle cx="773.8" cy="1603.2" r="6.3" fill="none" stroke="#6fcfb8" stroke-width="3.4"/><circle cx="789.8" cy="1606.7" r="6.3" fill="none" stroke="#6fcfb8" stroke-width="3.4"/><line x1="843.1" y1="1488.8" x2="843.1" y2="1512.4" stroke="#3d9fe0" stroke-width="3.6"/><line x1="830.1" y1="1488.8" x2="856.1" y2="1488.8" stroke="#3d9fe0" stroke-width="3.6" stroke-linecap="round"/><line x1="830.1" y1="1512.4" x2="856.1" y2="1512.4" stroke="#3d9fe0" stroke-width="3.6" stroke-linecap="round"/><line x1="818.1" y1="1500.6" x2="868.1" y2="1500.6" stroke="#3d9fe0" stroke-width="4.2" stroke-linecap="round"/><circle cx="827.2" cy="1491.3" r="6.3" fill="none" stroke="#3d9fe0" stroke-width="3.4"/><circle cx="859.1" cy="1496.6" r="6.3" fill="none" stroke="#3d9fe0" stroke-width="3.4"/><circle cx="843.1" cy="1513.9" r="6.3" fill="none" stroke="#3d9fe0" stroke-width="3.4"/><line x1="912.4" y1="1435.5" x2="912.4" y2="1459.1" stroke="#e8503c" stroke-width="3.6"/><line x1="899.4" y1="1435.5" x2="925.4" y2="1435.5" stroke="#e8503c" stroke-width="3.6" stroke-linecap="round"/><line x1="899.4" y1="1459.1" x2="925.4" y2="1459.1" stroke="#e8503c" stroke-width="3.6" stroke-linecap="round"/><line x1="887.4" y1="1447.3" x2="937.4" y2="1447.3" stroke="#e8503c" stroke-width="4.2" stroke-linecap="round"/><circle cx="896.4" cy="1438.0" r="6.3" fill="none" stroke="#e8503c" stroke-width="3.4"/><circle cx="928.4" cy="1443.3" r="6.3" fill="none" stroke="#e8503c" stroke-width="3.4"/><circle cx="912.4" cy="1460.6" r="6.3" fill="none" stroke="#e8503c" stroke-width="3.4"/><line x1="696.6" y1="1581.1" x2="768.5" y2="1581.1" stroke="#000" stroke-width="2.6"/><text x="670.4" y="1571.2" style="font-size:29px" transform="translate(670.4 1571.2) scale(1 1.015) translate(-670.4 -1571.2)"><tspan style="font-style:italic">p</tspan> &lt; 0.0001</text><line x1="769.8" y1="1471.8" x2="841.8" y2="1471.8" stroke="#000" stroke-width="2.6"/><text x="732.5" y="1459.3" style="font-size:29px" transform="translate(732.5 1459.3) scale(1 1.015) translate(-732.5 -1459.3)"><tspan style="font-style:italic">p</tspan> &lt; 0.0001</text><line x1="841.3" y1="1411.3" x2="912.4" y2="1411.3" stroke="#000" stroke-width="2.6"/><text x="805.8" y="1399.3" style="font-size:29px" transform="translate(805.8 1399.3) scale(1 1.015) translate(-805.8 -1399.3)"><tspan style="font-style:italic">p</tspan> = 0.0042</text><line x1="180.4" y1="1737.7" x2="180.4" y2="2025.9" stroke="#000" stroke-width="3"/><line x1="163.4" y1="2024.4" x2="479.7" y2="2024.4" stroke="#000" stroke-width="3"/><line x1="163.4" y1="1739.2" x2="180.4" y2="1739.2" stroke="#000" stroke-width="3"/><text x="161.4" y="1749.9" text-anchor="end" style="font-size:30px" transform="translate(161.4 1749.9) scale(1 1.015) translate(-161.4 -1749.9)">24</text><line x1="163.4" y1="1796.2" x2="180.4" y2="1796.2" stroke="#000" stroke-width="3"/><text x="161.4" y="1806.9" text-anchor="end" style="font-size:30px" transform="translate(161.4 1806.9) scale(1 1.015) translate(-161.4 -1806.9)">20</text><line x1="163.4" y1="1853.3" x2="180.4" y2="1853.3" stroke="#000" stroke-width="3"/><text x="161.4" y="1863.9" text-anchor="end" style="font-size:30px" transform="translate(161.4 1863.9) scale(1 1.015) translate(-161.4 -1863.9)">16</text><line x1="163.4" y1="1910.3" x2="180.4" y2="1910.3" stroke="#000" stroke-width="3"/><text x="161.4" y="1921.0" text-anchor="end" style="font-size:30px" transform="translate(161.4 1921.0) scale(1 1.015) translate(-161.4 -1921.0)">12</text><line x1="163.4" y1="1967.4" x2="180.4" y2="1967.4" stroke="#000" stroke-width="3"/><text x="161.4" y="1978.0" text-anchor="end" style="font-size:30px" transform="translate(161.4 1978.0) scale(1 1.015) translate(-161.4 -1978.0)">8</text><line x1="163.4" y1="2024.4" x2="180.4" y2="2024.4" stroke="#000" stroke-width="3"/><text x="161.4" y="2035.1" text-anchor="end" style="font-size:30px" transform="translate(161.4 2035.1) scale(1 1.015) translate(-161.4 -2035.1)">4</text><line x1="226.0" y1="2024.4" x2="226.0" y2="2041.4" stroke="#000" stroke-width="3"/><line x1="295.0" y1="2024.4" x2="295.0" y2="2041.4" stroke="#000" stroke-width="3"/><line x1="363.8" y1="2024.4" x2="363.8" y2="2041.4" stroke="#000" stroke-width="3"/><line x1="433.1" y1="2024.4" x2="433.1" y2="2041.4" stroke="#000" stroke-width="3"/><line x1="226.0" y1="1997.0" x2="226.0" y2="2011.6" stroke="#8f8f8f" stroke-width="3.6"/><line x1="213.0" y1="1997.0" x2="239.0" y2="1997.0" stroke="#8f8f8f" stroke-width="3.6" stroke-linecap="round"/><line x1="213.0" y1="2011.6" x2="239.0" y2="2011.6" stroke="#8f8f8f" stroke-width="3.6" stroke-linecap="round"/><line x1="201.0" y1="2004.3" x2="251.0" y2="2004.3" stroke="#8f8f8f" stroke-width="4.2" stroke-linecap="round"/><circle cx="209.8" cy="2011.8" r="6.3" fill="none" stroke="#8f8f8f" stroke-width="3.4"/><circle cx="226.0" cy="1997.2" r="6.3" fill="none" stroke="#8f8f8f" stroke-width="3.4"/><circle cx="242.5" cy="2003.8" r="6.3" fill="none" stroke="#8f8f8f" stroke-width="3.4"/><line x1="294.5" y1="1938.2" x2="294.5" y2="1951.4" stroke="#6fcfb8" stroke-width="3.6"/><line x1="281.5" y1="1938.2" x2="307.5" y2="1938.2" stroke="#6fcfb8" stroke-width="3.6" stroke-linecap="round"/><line x1="281.5" y1="1951.4" x2="307.5" y2="1951.4" stroke="#6fcfb8" stroke-width="3.6" stroke-linecap="round"/><line x1="269.5" y1="1944.8" x2="319.5" y2="1944.8" stroke="#6fcfb8" stroke-width="4.2" stroke-linecap="round"/><circle cx="278.5" cy="1949.2" r="6.3" fill="none" stroke="#6fcfb8" stroke-width="3.4"/><circle cx="294.5" cy="1937.2" r="6.3" fill="none" stroke="#6fcfb8" stroke-width="3.4"/><circle cx="311.8" cy="1947.9" r="6.3" fill="none" stroke="#6fcfb8" stroke-width="3.4"/><line x1="363.8" y1="1896.7" x2="363.8" y2="1909.3" stroke="#3d9fe0" stroke-width="3.6"/><line x1="350.8" y1="1896.7" x2="376.8" y2="1896.7" stroke="#3d9fe0" stroke-width="3.6" stroke-linecap="round"/><line x1="350.8" y1="1909.3" x2="376.8" y2="1909.3" stroke="#3d9fe0" stroke-width="3.6" stroke-linecap="round"/><line x1="338.8" y1="1903.0" x2="388.8" y2="1903.0" stroke="#3d9fe0" stroke-width="4.2" stroke-linecap="round"/><circle cx="347.8" cy="1907.9" r="6.3" fill="none" stroke="#3d9fe0" stroke-width="3.4"/><circle cx="363.8" cy="1895.9" r="6.3" fill="none" stroke="#3d9fe0" stroke-width="3.4"/><circle cx="381.1" cy="1905.2" r="6.3" fill="none" stroke="#3d9fe0" stroke-width="3.4"/><line x1="433.1" y1="1784.2" x2="433.1" y2="1798.8" stroke="#e8503c" stroke-width="3.6"/><line x1="420.1" y1="1784.2" x2="446.1" y2="1784.2" stroke="#e8503c" stroke-width="3.6" stroke-linecap="round"/><line x1="420.1" y1="1798.8" x2="446.1" y2="1798.8" stroke="#e8503c" stroke-width="3.6" stroke-linecap="round"/><line x1="408.1" y1="1791.5" x2="458.1" y2="1791.5" stroke="#e8503c" stroke-width="4.2" stroke-linecap="round"/><circle cx="417.1" cy="1784.0" r="6.3" fill="none" stroke="#e8503c" stroke-width="3.4"/><circle cx="417.1" cy="1798.6" r="6.3" fill="none" stroke="#e8503c" stroke-width="3.4"/><circle cx="450.4" cy="1792.0" r="6.3" fill="none" stroke="#e8503c" stroke-width="3.4"/><line x1="222.5" y1="1921.2" x2="294.5" y2="1921.2" stroke="#000" stroke-width="2.6"/><text x="189.8" y="1909.8" style="font-size:29px" transform="translate(189.8 1909.8) scale(1 1.015) translate(-189.8 -1909.8)"><tspan style="font-style:italic">p</tspan> = 0.0003</text><line x1="293.2" y1="1854.6" x2="363.8" y2="1854.6" stroke="#000" stroke-width="2.6"/><text x="260.7" y="1842.6" style="font-size:29px" transform="translate(260.7 1842.6) scale(1 1.015) translate(-260.7 -1842.6)"><tspan style="font-style:italic">p</tspan> = 0.0012</text><line x1="363.0" y1="1769.8" x2="434.4" y2="1769.8" stroke="#000" stroke-width="2.6"/><text x="327.3" y="1760.0" style="font-size:29px" transform="translate(327.3 1760.0) scale(1 1.015) translate(-327.3 -1760.0)"><tspan style="font-style:italic">p</tspan> &lt; 0.0001</text><line x1="657.4" y1="1737.7" x2="657.4" y2="2026.7" stroke="#000" stroke-width="3"/><line x1="640.4" y1="2025.2" x2="957.7" y2="2025.2" stroke="#000" stroke-width="3"/><line x1="640.4" y1="1739.2" x2="657.4" y2="1739.2" stroke="#000" stroke-width="3"/><text x="638.4" y="1749.9" text-anchor="end" style="font-size:30px" transform="translate(638.4 1749.9) scale(1 1.015) translate(-638.4 -1749.9)">20</text><line x1="640.4" y1="1803.2" x2="657.4" y2="1803.2" stroke="#000" stroke-width="3"/><text x="638.4" y="1813.9" text-anchor="end" style="font-size:30px" transform="translate(638.4 1813.9) scale(1 1.015) translate(-638.4 -1813.9)">16</text><line x1="640.4" y1="1866.6" x2="657.4" y2="1866.6" stroke="#000" stroke-width="3"/><text x="638.4" y="1877.2" text-anchor="end" style="font-size:30px" transform="translate(638.4 1877.2) scale(1 1.015) translate(-638.4 -1877.2)">12</text><line x1="640.4" y1="1929.8" x2="657.4" y2="1929.8" stroke="#000" stroke-width="3"/><text x="638.4" y="1940.5" text-anchor="end" style="font-size:30px" transform="translate(638.4 1940.5) scale(1 1.015) translate(-638.4 -1940.5)">8</text><line x1="640.4" y1="1993.2" x2="657.4" y2="1993.2" stroke="#000" stroke-width="3"/><text x="638.4" y="2003.9" text-anchor="end" style="font-size:30px" transform="translate(638.4 2003.9) scale(1 1.015) translate(-638.4 -2003.9)">4</text><line x1="703.2" y1="2025.2" x2="703.2" y2="2042.2" stroke="#000" stroke-width="3"/><line x1="772.5" y1="2025.2" x2="772.5" y2="2042.2" stroke="#000" stroke-width="3"/><line x1="841.3" y1="2025.2" x2="841.3" y2="2042.2" stroke="#000" stroke-width="3"/><line x1="910.6" y1="2025.2" x2="910.6" y2="2042.2" stroke="#000" stroke-width="3"/><line x1="703.2" y1="1998.5" x2="703.2" y2="2018.1" stroke="#8f8f8f" stroke-width="3.6"/><line x1="690.2" y1="1998.5" x2="716.2" y2="1998.5" stroke="#8f8f8f" stroke-width="3.6" stroke-linecap="round"/><line x1="690.2" y1="2018.1" x2="716.2" y2="2018.1" stroke="#8f8f8f" stroke-width="3.6" stroke-linecap="round"/><line x1="678.2" y1="2008.3" x2="728.2" y2="2008.3" stroke="#8f8f8f" stroke-width="4.2" stroke-linecap="round"/><circle cx="686.7" cy="2015.8" r="6.3" fill="none" stroke="#8f8f8f" stroke-width="3.4"/><circle cx="703.2" cy="1997.2" r="6.3" fill="none" stroke="#8f8f8f" stroke-width="3.4"/><circle cx="719.7" cy="2011.8" r="6.3" fill="none" stroke="#8f8f8f" stroke-width="3.4"/><line x1="772.5" y1="1953.9" x2="772.5" y2="1982.2" stroke="#6fcfb8" stroke-width="3.6"/><line x1="759.5" y1="1953.9" x2="785.5" y2="1953.9" stroke="#6fcfb8" stroke-width="3.6" stroke-linecap="round"/><line x1="759.5" y1="1982.2" x2="785.5" y2="1982.2" stroke="#6fcfb8" stroke-width="3.6" stroke-linecap="round"/><line x1="747.5" y1="1968.0" x2="797.5" y2="1968.0" stroke="#6fcfb8" stroke-width="4.2" stroke-linecap="round"/><circle cx="755.2" cy="1978.5" r="6.3" fill="none" stroke="#6fcfb8" stroke-width="3.4"/><circle cx="772.5" cy="1951.9" r="6.3" fill="none" stroke="#6fcfb8" stroke-width="3.4"/><circle cx="788.5" cy="1973.7" r="6.3" fill="none" stroke="#6fcfb8" stroke-width="3.4"/><line x1="841.3" y1="1911.3" x2="841.3" y2="1927.6" stroke="#3d9fe0" stroke-width="3.6"/><line x1="828.3" y1="1911.3" x2="854.3" y2="1911.3" stroke="#3d9fe0" stroke-width="3.6" stroke-linecap="round"/><line x1="828.3" y1="1927.6" x2="854.3" y2="1927.6" stroke="#3d9fe0" stroke-width="3.6" stroke-linecap="round"/><line x1="816.3" y1="1919.5" x2="866.3" y2="1919.5" stroke="#3d9fe0" stroke-width="4.2" stroke-linecap="round"/><circle cx="826.4" cy="1926.6" r="6.3" fill="none" stroke="#3d9fe0" stroke-width="3.4"/><circle cx="841.3" cy="1910.6" r="6.3" fill="none" stroke="#3d9fe0" stroke-width="3.4"/><circle cx="857.3" cy="1921.2" r="6.3" fill="none" stroke="#3d9fe0" stroke-width="3.4"/><line x1="910.6" y1="1811.8" x2="910.6" y2="1845.1" stroke="#e8503c" stroke-width="3.6"/><line x1="897.6" y1="1811.8" x2="923.6" y2="1811.8" stroke="#e8503c" stroke-width="3.6" stroke-linecap="round"/><line x1="897.6" y1="1845.1" x2="923.6" y2="1845.1" stroke="#e8503c" stroke-width="3.6" stroke-linecap="round"/><line x1="885.6" y1="1828.5" x2="935.6" y2="1828.5" stroke="#e8503c" stroke-width="4.2" stroke-linecap="round"/><circle cx="894.6" cy="1839.4" r="6.3" fill="none" stroke="#e8503c" stroke-width="3.4"/><circle cx="910.6" cy="1809.3" r="6.3" fill="none" stroke="#e8503c" stroke-width="3.4"/><circle cx="927.1" cy="1836.7" r="6.3" fill="none" stroke="#e8503c" stroke-width="3.4"/><line x1="700.0" y1="1933.2" x2="771.2" y2="1933.2" stroke="#000" stroke-width="2.6"/><text x="665.9" y="1923.9" style="font-size:29px" transform="translate(665.9 1923.9) scale(1 1.015) translate(-665.9 -1923.9)"><tspan style="font-style:italic">p</tspan> = 0.0148</text><line x1="769.8" y1="1870.6" x2="841.3" y2="1870.6" stroke="#000" stroke-width="2.6"/><text x="736.5" y="1859.9" style="font-size:29px" transform="translate(736.5 1859.9) scale(1 1.015) translate(-736.5 -1859.9)"><tspan style="font-style:italic">p</tspan> = 0.0053</text><line x1="840.0" y1="1782.6" x2="911.1" y2="1782.6" stroke="#000" stroke-width="2.6"/><text x="804.0" y="1772.0" style="font-size:29px" transform="translate(804.0 1772.0) scale(1 1.015) translate(-804.0 -1772.0)"><tspan style="font-style:italic">p</tspan> = 0.0009</text><text x="58.6" y="1534.6" text-anchor="middle" transform="rotate(-90 58.6 1534.6) translate(58.6 1534.6) scale(1 1.015) translate(-58.6 -1534.6)" style="font-size:32px">S. <tspan style="font-style:italic">aureus</tspan></text><text x="102.6" y="1531.9" text-anchor="middle" transform="rotate(-90 102.6 1531.9) translate(102.6 1531.9) scale(1 1.015) translate(-102.6 -1531.9)" style="font-size:32px">PI postive rate (%)</text><text x="532.6" y="1541.0" text-anchor="middle" transform="rotate(-90 532.6 1541.0) translate(532.6 1541.0) scale(1 1.015) translate(-532.6 -1541.0)" style="font-size:32px"><tspan style="font-style:italic">E. coli</tspan></text><text x="571.3" y="1533.0" text-anchor="middle" transform="rotate(-90 571.3 1533.0) translate(571.3 1533.0) scale(1 1.015) translate(-571.3 -1533.0)" style="font-size:32px">PI postive rate (%)</text><text x="62.6" y="1875.9" text-anchor="middle" transform="rotate(-90 62.6 1875.9) translate(62.6 1875.9) scale(1 1.015) translate(-62.6 -1875.9)" style="font-size:32px">S. <tspan style="font-style:italic">aureus</tspan></text><text x="102.6" y="1881.9" text-anchor="middle" transform="rotate(-90 102.6 1881.9) translate(102.6 1881.9) scale(1 1.015) translate(-102.6 -1881.9)" style="font-size:32px">ROS postive rate (%)</text><text x="531.3" y="1878.6" text-anchor="middle" transform="rotate(-90 531.3 1878.6) translate(531.3 1878.6) scale(1 1.015) translate(-531.3 -1878.6)" style="font-size:32px"><tspan style="font-style:italic">E. coli</tspan></text><text x="583.3" y="1882.6" text-anchor="middle" transform="rotate(-90 583.3 1882.6) translate(583.3 1882.6) scale(1 1.015) translate(-583.3 -1882.6)" style="font-size:32px">ROS postive rate (%)</text><rect x="195.0" y="2078.0" width="48.1" height="6.5" fill="#7f7f7f"/><text x="251.0" y="2093.3" style="font-size:39px" transform="translate(251.0 2093.3) scale(1 1.015) translate(-251.0 -2093.3)">Control</text><rect x="400.1" y="2079.0" width="48.1" height="6.5" fill="#63c7ab"/><text x="460.0" y="2099.2" style="font-size:39px" transform="translate(460.0 2099.2) scale(1 1.015) translate(-460.0 -2099.2)">Ant</text><rect x="552.0" y="2078.0" width="48.1" height="6.5" fill="#3a90da"/><text x="608.0" y="2093.3" style="font-size:39px" transform="translate(608.0 2093.3) scale(1 1.015) translate(-608.0 -2093.3)">MPS1</text><rect x="733.5" y="2078.0" width="48.1" height="6.5" fill="#e0453a"/><text x="789.5" y="2093.3" style="font-size:39px" transform="translate(789.5 2093.3) scale(1 1.015) translate(-789.5 -2093.3)">MPS2</text><text x="1000.7" y="1408.3" style="font-size:40px" transform="translate(1000.7 1408.3) scale(1 1.015) translate(-1000.7 -1408.3)">h</text><text x="1333.5" y="1443.2" style="font-size:39.5px" transform="translate(1333.5 1443.2) scale(1 1.015) translate(-1333.5 -1443.2)">MPS-PVP</text><text x="1042.0" y="1759.9" style="font-size:39.8px" transform="translate(1042.0 1759.9) scale(1 1.015) translate(-1042.0 -1759.9)">Intact biofilm</text><text x="1694.3" y="1759.9" style="font-size:39.8px" transform="translate(1694.3 1759.9) scale(1 1.015) translate(-1694.3 -1759.9)">Disrupted biofilm</text><text x="1800.5" y="1942.4" style="font-size:40.5px" transform="translate(1800.5 1942.4) scale(1 1.015) translate(-1800.5 -1942.4)">ROS</text><text x="1803.2" y="2010.0" style="font-size:40.5px" transform="translate(1803.2 2010.0) scale(1 1.015) translate(-1803.2 -2010.0)">Antigens</text><ellipse cx="1157" cy="1690" rx="96" ry="13" fill="#9a9a9a" filter="url(#fShadow)"/><ellipse cx="1706" cy="1685" rx="92" ry="15" fill="#9a9a9a" filter="url(#fShadow)"/><path d="M1160,1412 C1203,1412 1232,1452 1229,1500 C1227,1540 1200,1562 1190,1590 C1181,1618 1196,1648 1236,1660 C1252,1666 1248,1677 1232,1678 C1200,1680 1172,1683 1140,1681 C1110,1679 1082,1681 1066,1676 C1056,1671 1068,1661 1079,1651 C1094,1636 1100,1620 1096,1600 C1090,1570 1078,1542 1080,1503 C1083,1452 1118,1412 1160,1412 Z" fill="url(#gBio)" stroke="#c0a45a" stroke-width="1.4"/><path d="M1148,1428 C1122,1436 1099,1466 1093,1511 C1096,1513 1099,1511 1101,1505 C1109,1476 1126,1452 1151,1437 C1153,1433 1152,1428 1148,1428 Z" fill="#ffffff" opacity="0.92"/><rect x="1160.7" y="1441.0" width="25" height="10" rx="5.0" fill="url(#gRod)" stroke="#b85050" stroke-width="1.3" transform="rotate(5 1173.2 1446.0)"/><rect x="1136.8" y="1474.3" width="25" height="10" rx="5.0" fill="url(#gRod)" stroke="#b85050" stroke-width="1.3" transform="rotate(-20 1149.3 1479.3)"/><rect x="1167.5" y="1474.3" width="25" height="10" rx="5.0" fill="url(#gRod)" stroke="#b85050" stroke-width="1.3" transform="rotate(65 1180.0 1479.3)"/><rect x="1192.7" y="1466.3" width="25" height="10" rx="5.0" fill="url(#gRod)" stroke="#b85050" stroke-width="1.3" transform="rotate(-60 1205.2 1471.3)"/><rect x="1128.8" y="1503.6" width="25" height="10" rx="5.0" fill="url(#gRod)" stroke="#b85050" stroke-width="1.3" transform="rotate(-60 1141.3 1508.6)"/><rect x="1158.1" y="1499.6" width="25" height="10" rx="5.0" fill="url(#gRod)" stroke="#b85050" stroke-width="1.3" transform="rotate(40 1170.6 1504.6)"/><rect x="1095.4" y="1527.6" width="25" height="10" rx="5.0" fill="url(#gRod)" stroke="#b85050" stroke-width="1.3" transform="rotate(75 1107.9 1532.6)"/><rect x="1120.8" y="1531.6" width="25" height="10" rx="5.0" fill="url(#gRod)" stroke="#b85050" stroke-width="1.3" transform="rotate(20 1133.3 1536.6)"/><rect x="1146.1" y="1527.6" width="25" height="10" rx="5.0" fill="url(#gRod)" stroke="#b85050" stroke-width="1.3" transform="rotate(85 1158.6 1532.6)"/><rect x="1180.7" y="1522.2" width="25" height="10" rx="5.0" fill="url(#gRod)" stroke="#b85050" stroke-width="1.3" transform="rotate(-55 1193.2 1527.2)"/><rect x="1108.8" y="1558.2" width="25" height="10" rx="5.0" fill="url(#gRod)" stroke="#b85050" stroke-width="1.3" transform="rotate(-65 1121.3 1563.2)"/><rect x="1150.1" y="1552.9" width="25" height="10" rx="5.0" fill="url(#gRod)" stroke="#b85050" stroke-width="1.3" transform="rotate(-10 1162.6 1557.9)"/><rect x="1118.1" y="1582.2" width="25" height="10" rx="5.0" fill="url(#gRod)" stroke="#b85050" stroke-width="1.3" transform="rotate(40 1130.6 1587.2)"/><rect x="1146.1" y="1579.6" width="25" height="10" rx="5.0" fill="url(#gRod)" stroke="#b85050" stroke-width="1.3" transform="rotate(65 1158.6 1584.6)"/><rect x="1122.1" y="1612.9" width="25" height="10" rx="5.0" fill="url(#gRod)" stroke="#b85050" stroke-width="1.3" transform="rotate(-80 1134.6 1617.9)"/><rect x="1148.7" y="1616.9" width="25" height="10" rx="5.0" fill="url(#gRod)" stroke="#b85050" stroke-width="1.3" transform="rotate(80 1161.2 1621.9)"/><rect x="1099.4" y="1628.9" width="25" height="10" rx="5.0" fill="url(#gRod)" stroke="#b85050" stroke-width="1.3" transform="rotate(15 1111.9 1633.9)"/><rect x="1091.4" y="1650.2" width="25" height="10" rx="5.0" fill="url(#gRod)" stroke="#b85050" stroke-width="1.3" transform="rotate(25 1103.9 1655.2)"/><rect x="1134.1" y="1644.8" width="25" height="10" rx="5.0" fill="url(#gRod)" stroke="#b85050" stroke-width="1.3" transform="rotate(-5 1146.6 1649.8)"/><rect x="1172.7" y="1651.5" width="25" height="10" rx="5.0" fill="url(#gRod)" stroke="#b85050" stroke-width="1.3" transform="rotate(-25 1185.2 1656.5)"/><path d="M1361.6,1539.1 L1359.2,1541.6 L1357.8,1544.0 L1358.0,1546.2 L1359.8,1548.3 L1362.7,1550.3 L1365.5,1552.3 L1367.4,1554.3 L1367.6,1556.6 L1366.2,1559.0 L1363.8,1561.5 L1361.4,1564.0 L1360.0,1566.4 L1360.2,1568.6 L1362.0,1570.7 L1364.9,1572.7 L1367.7,1574.6" fill="none" stroke="#8c8494" stroke-width="2.0" stroke-linecap="round" stroke-linejoin="round"/><path d="M1371.0,1546.2 L1368.3,1545.2 L1366.4,1544.9 L1365.6,1545.7 L1366.1,1547.6 L1367.3,1550.2 L1368.6,1552.8 L1369.1,1554.7 L1368.3,1555.5 L1366.4,1555.2 L1363.7,1554.3 L1361.0,1553.3 L1359.1,1553.0 L1358.3,1553.8 L1358.8,1555.7 L1360.0,1558.3 L1361.3,1560.9" fill="none" stroke="#8c8494" stroke-width="2.0" stroke-linecap="round" stroke-linejoin="round"/><path d="M1401.5,1552.0 L1398.8,1553.6 L1397.1,1555.2 L1397.0,1556.9 L1398.6,1558.6 L1401.1,1560.4 L1403.7,1562.2 L1405.3,1564.0 L1405.2,1565.7 L1403.5,1567.3 L1400.8,1568.9 L1398.0,1570.4 L1396.3,1572.1 L1396.2,1573.7 L1397.8,1575.5 L1400.4,1577.3 L1402.9,1579.1" fill="none" stroke="#8c8494" stroke-width="2.0" stroke-linecap="round" stroke-linejoin="round"/><path d="M1398.0,1551.0 L1395.5,1549.8 L1393.8,1549.3 L1393.3,1549.8 L1394.0,1551.5 L1395.5,1553.8 L1397.0,1556.1 L1397.7,1557.8 L1397.2,1558.3 L1395.5,1557.8 L1393.0,1556.6 L1390.5,1555.4 L1388.8,1554.9 L1388.3,1555.5 L1389.0,1557.1 L1390.5,1559.4 L1392.0,1561.8" fill="none" stroke="#8c8494" stroke-width="2.0" stroke-linecap="round" stroke-linejoin="round"/><path d="M1436.7,1552.0 L1433.8,1552.8 L1431.9,1553.9 L1431.6,1555.3 L1432.9,1557.0 L1435.2,1559.0 L1437.5,1560.9 L1438.8,1562.6 L1438.5,1564.0 L1436.6,1565.1 L1433.8,1565.9 L1430.9,1566.8 L1429.0,1567.8 L1428.7,1569.2 L1430.0,1571.0 L1432.3,1572.9 L1434.6,1574.8" fill="none" stroke="#8c8494" stroke-width="2.0" stroke-linecap="round" stroke-linejoin="round"/><path d="M1456.6,1546.2 L1453.8,1547.0 L1452.1,1548.0 L1451.9,1549.2 L1453.4,1550.6 L1455.8,1552.1 L1458.3,1553.6 L1459.8,1555.0 L1459.6,1556.1 L1457.9,1557.1 L1455.1,1558.0 L1452.3,1558.8 L1450.6,1559.8 L1450.4,1560.9 L1451.9,1562.3 L1454.4,1563.8 L1456.8,1565.3" fill="none" stroke="#8c8494" stroke-width="2.0" stroke-linecap="round" stroke-linejoin="round"/><path d="M1466.0,1541.5 L1463.2,1541.9 L1461.4,1542.4 L1461.2,1543.4 L1462.5,1544.7 L1464.9,1546.2 L1467.3,1547.8 L1468.6,1549.1 L1468.4,1550.1 L1466.6,1550.6 L1463.8,1551.0 L1461.0,1551.4 L1459.2,1551.9 L1459.0,1552.9 L1460.4,1554.2 L1462.7,1555.8 L1465.1,1557.3" fill="none" stroke="#8c8494" stroke-width="2.0" stroke-linecap="round" stroke-linejoin="round"/><path d="M1327.6,1516.3 C1345,1512 1362,1504 1374.5,1500.4 C1392,1497 1405,1478 1422.6,1475.8 C1436,1476 1444,1500 1456,1506 C1468,1510 1490,1509 1508.2,1510.4 C1498,1520 1488,1532 1474.2,1539.1 C1455,1548 1432,1556 1415.5,1555.5 C1395,1552 1375,1546 1360.4,1538 C1348,1530 1336,1522 1327.6,1516.3 Z" fill="url(#gSheet)"/><path d="M1345,1520 C1380,1512 1420,1525 1460,1540" fill="none" stroke="#b4e6f6" stroke-width="6" opacity="0.6"/><path d="M1395,1500 C1420,1505 1440,1520 1480,1522" fill="none" stroke="#b4e6f6" stroke-width="5" opacity="0.5"/><path d="M1359.3,1520.4 L1362.6,1518.6 L1364.9,1516.4 L1365.6,1513.9 L1364.8,1510.8 L1363.0,1507.6 L1361.1,1504.3 L1360.3,1501.2 L1361.0,1498.7 L1363.3,1496.6 L1366.6,1494.7 L1369.9,1492.9 L1372.2,1490.7 L1372.9,1488.2 L1372.1,1485.2 L1370.3,1481.9 L1368.5,1478.6" fill="none" stroke="#c8b6d6" stroke-width="2.0" stroke-linecap="round" stroke-linejoin="round"/><path d="M1389.7,1506.3 L1393.0,1504.6 L1395.3,1502.5 L1396.0,1500.0 L1395.2,1497.1 L1393.4,1493.8 L1391.6,1490.6 L1390.8,1487.6 L1391.5,1485.1 L1393.8,1483.1 L1397.1,1481.4 L1400.3,1479.6 L1402.7,1477.6 L1403.4,1475.1 L1402.6,1472.1 L1400.8,1468.9 L1399.0,1465.6" fill="none" stroke="#c8b6d6" stroke-width="2.0" stroke-linecap="round" stroke-linejoin="round"/><path d="M1393.3,1535.6 L1396.6,1533.8 L1399.0,1531.8 L1399.8,1529.2 L1399.0,1526.1 L1397.3,1522.8 L1395.6,1519.4 L1394.9,1516.4 L1395.7,1513.8 L1398.0,1511.7 L1401.4,1510.0 L1404.7,1508.2 L1407.1,1506.1 L1407.9,1503.6 L1407.1,1500.5 L1405.4,1497.2 L1403.7,1493.8" fill="none" stroke="#c8b6d6" stroke-width="2.0" stroke-linecap="round" stroke-linejoin="round"/><path d="M1421.4,1506.3 L1423.0,1503.7 L1423.7,1501.5 L1423.0,1500.1 L1420.8,1499.5 L1417.7,1499.3 L1414.7,1499.2 L1412.5,1498.5 L1411.8,1497.1 L1412.5,1495.0 L1414.1,1492.4 L1415.7,1489.7 L1416.4,1487.6 L1415.7,1486.2 L1413.5,1485.6 L1410.4,1485.4 L1407.4,1485.2" fill="none" stroke="#c8b6d6" stroke-width="2.0" stroke-linecap="round" stroke-linejoin="round"/><path d="M1426.1,1518.0 L1429.2,1515.2 L1431.2,1512.3 L1431.7,1509.1 L1430.5,1505.8 L1428.3,1502.2 L1426.1,1498.7 L1424.9,1495.4 L1425.4,1492.2 L1427.4,1489.3 L1430.5,1486.5 L1433.5,1483.7 L1435.6,1480.8 L1436.0,1477.6 L1434.8,1474.3 L1432.7,1470.8 L1430.5,1467.2" fill="none" stroke="#c8b6d6" stroke-width="2.0" stroke-linecap="round" stroke-linejoin="round"/><path d="M1432.0,1535.6 L1435.3,1531.4 L1437.5,1527.0 L1438.2,1522.3 L1437.2,1517.5 L1435.3,1512.5 L1433.3,1507.5 L1432.4,1502.7 L1433.0,1498.0 L1435.3,1493.7 L1438.6,1489.4 L1441.8,1485.2 L1444.1,1480.8 L1444.8,1476.2 L1443.8,1471.3 L1441.8,1466.3 L1439.9,1461.3" fill="none" stroke="#c8b6d6" stroke-width="2.0" stroke-linecap="round" stroke-linejoin="round"/><path d="M1449.6,1525.0 L1452.9,1523.3 L1455.3,1521.3 L1456.1,1518.9 L1455.3,1515.9 L1453.6,1512.6 L1451.9,1509.3 L1451.2,1506.3 L1452.0,1503.8 L1454.3,1501.8 L1457.7,1500.1 L1461.0,1498.5 L1463.3,1496.5 L1464.2,1494.0 L1463.4,1491.0 L1461.7,1487.7 L1460.0,1484.4" fill="none" stroke="#c8b6d6" stroke-width="2.0" stroke-linecap="round" stroke-linejoin="round"/><path d="M1467.1,1518.0 L1470.4,1516.3 L1472.7,1514.4 L1473.5,1511.9 L1472.7,1509.0 L1471.0,1505.7 L1469.2,1502.5 L1468.4,1499.5 L1469.2,1497.1 L1471.6,1495.1 L1474.8,1493.4 L1478.1,1491.8 L1480.5,1489.8 L1481.3,1487.4 L1480.5,1484.4 L1478.7,1481.2 L1477.0,1477.9" fill="none" stroke="#c8b6d6" stroke-width="2.0" stroke-linecap="round" stroke-linejoin="round"/><path d="M1411.0,1510.0 L1414.0,1508.5 L1416.0,1506.8 L1416.3,1504.8 L1415.1,1502.5 L1412.9,1500.0 L1410.7,1497.5 L1409.4,1495.2 L1409.8,1493.2 L1411.8,1491.5 L1414.8,1490.0 L1417.7,1488.5 L1419.7,1486.8 L1420.1,1484.8 L1418.8,1482.5 L1416.6,1480.0 L1414.4,1477.5" fill="none" stroke="#c8b6d6" stroke-width="2.0" stroke-linecap="round" stroke-linejoin="round"/><path d="M1262,1576 Q1400,1612 1528,1597 L1516,1579 L1566,1590 L1547,1647 L1535,1628 Q1400,1660 1262,1647 Z" fill="url(#gArrow)"/><path d="M1619.6,1481.9 C1600,1490 1595,1510 1595.6,1530 C1596,1560 1595,1590 1598.3,1610 C1602,1640 1612,1655 1622.3,1663 C1630,1672 1636,1678 1643.6,1679 C1680,1676 1710,1678 1737,1676.5 C1750,1675 1760,1674 1763.5,1668.5 C1766,1660 1760,1648 1763.5,1639 C1766,1630 1770,1625 1777,1620.5 C1795,1608 1812,1598 1817,1583 C1826,1560 1828,1545 1825,1530 C1820,1508 1812,1495 1803.5,1482 C1795,1468 1785,1458 1771.5,1450 C1758,1442 1742,1434 1729,1435.3 C1718,1437 1712,1445 1713,1455 C1713,1465 1713,1470 1713,1477 C1720,1490 1733,1505 1731.5,1519 C1730,1535 1728,1548 1718,1557 C1708,1568 1700,1580 1689,1581 C1676,1582 1668,1572 1662,1562 C1654,1550 1650,1540 1646,1530 C1640,1515 1636,1500 1628,1487 C1625,1482 1622,1481 1619.6,1481.9 Z" fill="url(#gBio2)"/><path d="M1625,1488 C1612,1492 1604,1505 1601,1520 C1606,1505 1614,1496 1627,1492 Z" fill="#ffffff" opacity="0.85"/><path d="M1733,1443 C1722,1448 1718,1460 1720,1482 C1723,1465 1726,1452 1736,1446 Z" fill="#ffffff" opacity="0.85"/><path d="M1680.5,1467.1 L1697.0,1467.1 L1701.0,1469.1 L1697.0,1471.6 L1701.0,1474.6 L1698.0,1478.1 L1680.5,1478.1 A5.5,5.5 0 0 1 1680.5,1467.1 Z" fill="url(#gRod)" stroke="#b85050" stroke-width="1.3" transform="rotate(-75 1687.0 1472.6)"/><path d="M1751.7,1473.2 L1768.2,1473.2 L1772.2,1475.2 L1768.2,1477.7 L1772.2,1480.7 L1769.2,1484.2 L1751.7,1484.2 A5.5,5.5 0 0 1 1751.7,1473.2 Z" fill="url(#gRod)" stroke="#b85050" stroke-width="1.3" transform="rotate(5 1758.2 1478.7)"/><path d="M1670.4,1513.8 L1686.9,1513.8 L1690.9,1515.8 L1686.9,1518.3 L1690.9,1521.3 L1687.9,1524.8 L1670.4,1524.8 A5.5,5.5 0 0 1 1670.4,1513.8 Z" fill="url(#gRod)" stroke="#b85050" stroke-width="1.3" transform="rotate(60 1676.9 1519.3)"/><path d="M1709.0,1525.7 L1725.5,1525.7 L1729.5,1527.7 L1725.5,1530.2 L1729.5,1533.2 L1726.5,1536.7 L1709.0,1536.7 A5.5,5.5 0 0 1 1709.0,1525.7 Z" fill="url(#gRod)" stroke="#b85050" stroke-width="1.3" transform="rotate(-110 1715.5 1531.2)"/><path d="M1618.4,1532.4 L1634.9,1532.4 L1638.9,1534.4 L1634.9,1536.9 L1638.9,1539.9 L1635.9,1543.4 L1618.4,1543.4 A5.5,5.5 0 0 1 1618.4,1532.4 Z" fill="url(#gRod)" stroke="#b85050" stroke-width="1.3" transform="rotate(60 1624.9 1537.9)"/><path d="M1674.4,1546.5 L1690.9,1546.5 L1694.9,1548.5 L1690.9,1551.0 L1694.9,1554.0 L1691.9,1557.5 L1674.4,1557.5 A5.5,5.5 0 0 1 1674.4,1546.5 Z" fill="url(#gRod)" stroke="#b85050" stroke-width="1.3" transform="rotate(0 1680.9 1552.0)"/><path d="M1774.3,1539.1 L1790.8,1539.1 L1794.8,1541.1 L1790.8,1543.6 L1794.8,1546.6 L1791.8,1550.1 L1774.3,1550.1 A5.5,5.5 0 0 1 1774.3,1539.1 Z" fill="url(#gRod)" stroke="#b85050" stroke-width="1.3" transform="rotate(-115 1780.8 1544.6)"/><path d="M1743.7,1579.1 L1760.2,1579.1 L1764.2,1581.1 L1760.2,1583.6 L1764.2,1586.6 L1761.2,1590.1 L1743.7,1590.1 A5.5,5.5 0 0 1 1743.7,1579.1 Z" fill="url(#gRod)" stroke="#b85050" stroke-width="1.3" transform="rotate(35 1750.2 1584.6)"/><path d="M1637.1,1601.7 L1653.6,1601.7 L1657.6,1603.7 L1653.6,1606.2 L1657.6,1609.2 L1654.6,1612.7 L1637.1,1612.7 A5.5,5.5 0 0 1 1637.1,1601.7 Z" fill="url(#gRod)" stroke="#b85050" stroke-width="1.3" transform="rotate(-10 1643.6 1607.2)"/><path d="M1705.0,1608.4 L1721.5,1608.4 L1725.5,1610.4 L1721.5,1612.9 L1725.5,1615.9 L1722.5,1619.4 L1705.0,1619.4 A5.5,5.5 0 0 1 1705.0,1608.4 Z" fill="url(#gRod)" stroke="#b85050" stroke-width="1.3" transform="rotate(200 1711.5 1613.9)"/><path d="M1657.1,1647.0 L1673.6,1647.0 L1677.6,1649.0 L1673.6,1651.5 L1677.6,1654.5 L1674.6,1658.0 L1657.1,1658.0 A5.5,5.5 0 0 1 1657.1,1647.0 Z" fill="url(#gRod)" stroke="#b85050" stroke-width="1.3" transform="rotate(65 1663.6 1652.5)"/><circle cx="1780.8" cy="1485.9" r="8" fill="url(#gROS)"/><circle cx="1774.2" cy="1527.8" r="8" fill="url(#gROS)"/><circle cx="1749.7" cy="1560.6" r="8" fill="url(#gROS)"/><circle cx="1624.9" cy="1577.9" r="8" fill="url(#gROS)"/><circle cx="1696.9" cy="1598.7" r="8" fill="url(#gROS)"/><circle cx="1752.9" cy="1603.2" r="8" fill="url(#gROS)"/><circle cx="1708.9" cy="1633.9" r="8" fill="url(#gROS)"/><circle cx="1648.9" cy="1656.5" r="8" fill="url(#gROS)"/><rect x="1639.6" y="1639.2" width="34.6" height="27.2" fill="none" stroke="#111" stroke-width="2" stroke-dasharray="6,4"/><path d="M1639.6,1666.4 C1560,1705 1380,1800 1128.8,1878.3" fill="none" stroke="#111" stroke-width="2" stroke-dasharray="7,5"/><path d="M1671.6,1666.4 C1658,1730 1640,1840 1654.8,1943.9" fill="none" stroke="#111" stroke-width="2" stroke-dasharray="7,5"/><path d="M1124.9,2026.3 L1122.1,2018.5 L1123.3,2010.4 L1124.7,2002.2 L1122.2,1994.4" fill="none" stroke="#555" stroke-width="1.2"/><path d="M1131.1,2025.8 L1128.5,2018.0 L1129.9,2009.8 L1131.1,2001.7 L1128.3,1993.9" fill="none" stroke="#555" stroke-width="1.2"/><path d="M1142.6,2022.4 L1139.8,2014.6 L1141.0,2006.5 L1142.4,1998.3 L1139.9,1990.5" fill="none" stroke="#555" stroke-width="1.2"/><path d="M1148.8,2021.9 L1146.2,2014.1 L1147.6,2005.9 L1148.8,1997.8 L1146.0,1990.0" fill="none" stroke="#555" stroke-width="1.2"/><path d="M1160.3,2018.5 L1157.5,2010.7 L1158.7,2002.6 L1160.1,1994.4 L1157.6,1986.6" fill="none" stroke="#555" stroke-width="1.2"/><path d="M1166.5,2018.0 L1163.9,2010.2 L1165.3,2002.0 L1166.5,1993.9 L1163.7,1986.1" fill="none" stroke="#555" stroke-width="1.2"/><path d="M1178.0,2014.6 L1175.2,2006.8 L1176.4,1998.7 L1177.8,1990.5 L1175.3,1982.7" fill="none" stroke="#555" stroke-width="1.2"/><path d="M1184.2,2014.1 L1181.6,2006.3 L1183.0,1998.1 L1184.2,1990.0 L1181.4,1982.2" fill="none" stroke="#555" stroke-width="1.2"/><path d="M1195.7,2010.7 L1192.9,2002.9 L1194.1,1994.8 L1195.5,1986.6 L1193.0,1978.8" fill="none" stroke="#555" stroke-width="1.2"/><path d="M1201.9,2010.2 L1199.3,2002.4 L1200.7,1994.2 L1201.9,1986.1 L1199.1,1978.3" fill="none" stroke="#555" stroke-width="1.2"/><path d="M1213.4,2006.8 L1210.6,1999.0 L1211.8,1990.9 L1213.2,1982.7 L1210.7,1974.9" fill="none" stroke="#555" stroke-width="1.2"/><path d="M1219.6,2006.3 L1217.0,1998.5 L1218.4,1990.3 L1219.6,1982.2 L1216.8,1974.4" fill="none" stroke="#555" stroke-width="1.2"/><path d="M1231.1,2002.9 L1228.3,1995.1 L1229.5,1987.0 L1230.9,1978.8 L1228.4,1971.0" fill="none" stroke="#555" stroke-width="1.2"/><path d="M1237.3,2002.4 L1234.7,1994.6 L1236.1,1986.4 L1237.3,1978.3 L1234.5,1970.5" fill="none" stroke="#555" stroke-width="1.2"/><path d="M1248.8,1999.0 L1246.0,1991.2 L1247.2,1983.1 L1248.6,1974.9 L1246.1,1967.1" fill="none" stroke="#555" stroke-width="1.2"/><path d="M1255.0,1998.5 L1252.4,1990.7 L1253.8,1982.5 L1255.0,1974.4 L1252.2,1966.6" fill="none" stroke="#555" stroke-width="1.2"/><path d="M1266.5,1995.1 L1263.7,1987.3 L1264.9,1979.2 L1266.3,1971.0 L1263.8,1963.2" fill="none" stroke="#555" stroke-width="1.2"/><path d="M1272.7,1994.6 L1270.1,1986.8 L1271.5,1978.6 L1272.7,1970.5 L1269.9,1962.7" fill="none" stroke="#555" stroke-width="1.2"/><path d="M1284.2,1991.2 L1281.4,1983.4 L1282.6,1975.3 L1284.0,1967.1 L1281.5,1959.3" fill="none" stroke="#555" stroke-width="1.2"/><path d="M1290.4,1990.7 L1287.8,1982.9 L1289.2,1974.7 L1290.4,1966.6 L1287.6,1958.8" fill="none" stroke="#555" stroke-width="1.2"/><path d="M1301.9,1987.3 L1299.1,1979.5 L1300.3,1971.4 L1301.7,1963.2 L1299.2,1955.4" fill="none" stroke="#555" stroke-width="1.2"/><path d="M1308.1,1986.8 L1305.5,1979.0 L1306.9,1970.8 L1308.1,1962.7 L1305.3,1954.9" fill="none" stroke="#555" stroke-width="1.2"/><path d="M1319.6,1983.4 L1316.8,1975.6 L1318.0,1967.5 L1319.4,1959.3 L1316.9,1951.5" fill="none" stroke="#555" stroke-width="1.2"/><path d="M1325.8,1982.9 L1323.2,1975.1 L1324.6,1966.9 L1325.8,1958.8 L1323.0,1951.0" fill="none" stroke="#555" stroke-width="1.2"/><path d="M1235.3,1927.2 L1236.7,1935.4 L1234.1,1943.2 L1231.3,1951.0 L1232.5,1959.1" fill="none" stroke="#555" stroke-width="1.2"/><path d="M1229.1,1926.7 L1230.3,1934.8 L1227.5,1942.6 L1224.9,1950.4 L1226.4,1958.6" fill="none" stroke="#555" stroke-width="1.2"/><path d="M1255.3,1929.2 L1256.7,1937.4 L1254.1,1945.2 L1251.3,1953.0 L1252.5,1961.1" fill="none" stroke="#555" stroke-width="1.2"/><path d="M1249.1,1928.7 L1250.3,1936.8 L1247.5,1944.6 L1244.9,1952.4 L1246.4,1960.6" fill="none" stroke="#555" stroke-width="1.2"/><path d="M1275.3,1930.2 L1276.7,1938.4 L1274.1,1946.2 L1271.3,1954.0 L1272.5,1962.1" fill="none" stroke="#555" stroke-width="1.2"/><path d="M1269.1,1929.7 L1270.3,1937.8 L1267.5,1945.6 L1264.9,1953.4 L1266.4,1961.6" fill="none" stroke="#555" stroke-width="1.2"/><path d="M1295.3,1931.2 L1296.7,1939.4 L1294.1,1947.2 L1291.3,1955.0 L1292.5,1963.1" fill="none" stroke="#555" stroke-width="1.2"/><path d="M1289.1,1930.7 L1290.3,1938.8 L1287.5,1946.6 L1284.9,1954.4 L1286.4,1962.6" fill="none" stroke="#555" stroke-width="1.2"/><path d="M1314.3,1932.2 L1315.7,1940.4 L1313.1,1948.2 L1310.3,1956.0 L1311.5,1964.1" fill="none" stroke="#555" stroke-width="1.2"/><path d="M1308.1,1931.7 L1309.3,1939.8 L1306.5,1947.6 L1303.9,1955.4 L1305.4,1963.6" fill="none" stroke="#555" stroke-width="1.2"/><path d="M1217.3,1975.2 L1218.7,1983.4 L1216.1,1991.2 L1213.3,1999.0 L1214.5,2007.1" fill="none" stroke="#555" stroke-width="1.2"/><path d="M1211.1,1974.7 L1212.3,1982.8 L1209.5,1990.6 L1206.9,1998.4 L1208.4,2006.6" fill="none" stroke="#555" stroke-width="1.2"/><path d="M1197.3,1975.2 L1198.7,1983.4 L1196.1,1991.2 L1193.3,1999.0 L1194.5,2007.1" fill="none" stroke="#555" stroke-width="1.2"/><path d="M1191.1,1974.7 L1192.3,1982.8 L1189.5,1990.6 L1186.9,1998.4 L1188.4,2006.6" fill="none" stroke="#555" stroke-width="1.2"/><path d="M1177.3,1975.2 L1178.7,1983.4 L1176.1,1991.2 L1173.3,1999.0 L1174.5,2007.1" fill="none" stroke="#555" stroke-width="1.2"/><path d="M1171.1,1974.7 L1172.3,1982.8 L1169.5,1990.6 L1166.9,1998.4 L1168.4,2006.6" fill="none" stroke="#555" stroke-width="1.2"/><path d="M1157.3,1975.2 L1158.7,1983.4 L1156.1,1991.2 L1153.3,1999.0 L1154.5,2007.1" fill="none" stroke="#555" stroke-width="1.2"/><path d="M1151.1,1974.7 L1152.3,1982.8 L1149.5,1990.6 L1146.9,1998.4 L1148.4,2006.6" fill="none" stroke="#555" stroke-width="1.2"/><path d="M1137.3,1975.2 L1138.7,1983.4 L1136.1,1991.2 L1133.3,1999.0 L1134.5,2007.1" fill="none" stroke="#555" stroke-width="1.2"/><path d="M1131.1,1974.7 L1132.3,1982.8 L1129.5,1990.6 L1126.9,1998.4 L1128.4,2006.6" fill="none" stroke="#555" stroke-width="1.2"/><path d="M1441.8,1933.8 L1443.6,1942.9 L1441.4,1951.8 L1438.9,1960.7 L1440.5,1969.8" fill="none" stroke="#555" stroke-width="1.2"/><path d="M1435.6,1933.6 L1437.2,1942.6 L1434.7,1951.6 L1432.6,1960.5 L1434.3,1969.6" fill="none" stroke="#555" stroke-width="1.2"/><path d="M1466.4,1940.1 L1468.2,1949.2 L1466.0,1958.1 L1463.5,1967.0 L1465.1,1976.1" fill="none" stroke="#555" stroke-width="1.2"/><path d="M1460.2,1939.9 L1461.8,1948.9 L1459.3,1957.9 L1457.2,1966.8 L1458.9,1975.9" fill="none" stroke="#555" stroke-width="1.2"/><path d="M1487.5,1943.4 L1489.3,1952.5 L1487.1,1961.4 L1484.6,1970.3 L1486.2,1979.4" fill="none" stroke="#555" stroke-width="1.2"/><path d="M1481.3,1943.2 L1482.9,1952.2 L1480.4,1961.2 L1478.3,1970.1 L1480.0,1979.2" fill="none" stroke="#555" stroke-width="1.2"/><path d="M1508.9,1948.1 L1510.7,1957.2 L1508.5,1966.1 L1506.0,1975.0 L1507.6,1984.1" fill="none" stroke="#555" stroke-width="1.2"/><path d="M1502.7,1947.9 L1504.3,1956.9 L1501.8,1965.9 L1499.7,1974.8 L1501.4,1983.9" fill="none" stroke="#555" stroke-width="1.2"/><path d="M1529.7,1954.6 L1531.5,1963.7 L1529.3,1972.6 L1526.8,1981.5 L1528.4,1990.6" fill="none" stroke="#555" stroke-width="1.2"/><path d="M1523.5,1954.4 L1525.1,1963.4 L1522.6,1972.4 L1520.5,1981.3 L1522.2,1990.4" fill="none" stroke="#555" stroke-width="1.2"/><path d="M1549.9,1961.0 L1551.7,1970.1 L1549.5,1979.0 L1547.0,1987.9 L1548.6,1997.0" fill="none" stroke="#555" stroke-width="1.2"/><path d="M1543.7,1960.8 L1545.3,1969.8 L1542.8,1978.8 L1540.7,1987.7 L1542.4,1996.8" fill="none" stroke="#555" stroke-width="1.2"/><path d="M1570.3,1965.7 L1572.1,1974.8 L1569.9,1983.7 L1567.4,1992.6 L1569.0,2001.7" fill="none" stroke="#555" stroke-width="1.2"/><path d="M1564.1,1965.5 L1565.7,1974.5 L1563.2,1983.5 L1561.1,1992.4 L1562.8,2001.5" fill="none" stroke="#555" stroke-width="1.2"/><path d="M1592.1,1967.3 L1593.9,1976.4 L1591.7,1985.3 L1589.2,1994.2 L1590.8,2003.3" fill="none" stroke="#555" stroke-width="1.2"/><path d="M1585.9,1967.1 L1587.5,1976.1 L1585.0,1985.1 L1582.9,1994.0 L1584.6,2003.1" fill="none" stroke="#555" stroke-width="1.2"/><path d="M1613.8,1969.6 L1615.6,1978.7 L1613.4,1987.6 L1610.9,1996.5 L1612.5,2005.6" fill="none" stroke="#555" stroke-width="1.2"/><path d="M1607.6,1969.4 L1609.2,1978.4 L1606.7,1987.4 L1604.6,1996.3 L1606.3,2005.4" fill="none" stroke="#555" stroke-width="1.2"/><path d="M1635.3,1967.3 L1637.1,1976.4 L1634.9,1985.3 L1632.4,1994.2 L1634.0,2003.3" fill="none" stroke="#555" stroke-width="1.2"/><path d="M1629.1,1967.1 L1630.7,1976.1 L1628.2,1985.1 L1626.1,1994.0 L1627.8,2003.1" fill="none" stroke="#555" stroke-width="1.2"/><path d="M1437.2,1986.9 L1435.4,1978.3 L1437.6,1969.9 L1440.0,1961.5 L1438.4,1952.9" fill="none" stroke="#555" stroke-width="1.2"/><path d="M1443.4,1987.1 L1441.8,1978.6 L1444.2,1970.1 L1446.4,1961.7 L1444.6,1953.1" fill="none" stroke="#555" stroke-width="1.2"/><path d="M1458.2,1988.5 L1456.4,1979.9 L1458.6,1971.5 L1461.0,1963.1 L1459.4,1954.5" fill="none" stroke="#555" stroke-width="1.2"/><path d="M1464.4,1988.7 L1462.8,1980.2 L1465.2,1971.7 L1467.4,1963.3 L1465.6,1954.7" fill="none" stroke="#555" stroke-width="1.2"/><path d="M1479.2,1990.1 L1477.4,1981.5 L1479.6,1973.1 L1482.0,1964.7 L1480.4,1956.1" fill="none" stroke="#555" stroke-width="1.2"/><path d="M1485.4,1990.3 L1483.8,1981.8 L1486.2,1973.3 L1488.4,1964.9 L1486.6,1956.3" fill="none" stroke="#555" stroke-width="1.2"/><path d="M1500.2,1991.7 L1498.4,1983.1 L1500.6,1974.7 L1503.0,1966.3 L1501.4,1957.7" fill="none" stroke="#555" stroke-width="1.2"/><path d="M1506.4,1991.9 L1504.8,1983.4 L1507.2,1974.9 L1509.4,1966.5 L1507.6,1957.9" fill="none" stroke="#555" stroke-width="1.2"/><path d="M1521.2,1993.3 L1519.4,1984.7 L1521.6,1976.3 L1524.0,1967.9 L1522.4,1959.3" fill="none" stroke="#555" stroke-width="1.2"/><path d="M1527.4,1993.5 L1525.8,1985.0 L1528.2,1976.5 L1530.4,1968.1 L1528.6,1959.5" fill="none" stroke="#555" stroke-width="1.2"/><path d="M1542.2,1994.9 L1540.4,1986.3 L1542.6,1977.9 L1545.0,1969.5 L1543.4,1960.9" fill="none" stroke="#555" stroke-width="1.2"/><path d="M1548.4,1995.1 L1546.8,1986.6 L1549.2,1978.1 L1551.4,1969.7 L1549.6,1961.1" fill="none" stroke="#555" stroke-width="1.2"/><path d="M1563.2,1996.5 L1561.4,1987.9 L1563.6,1979.5 L1566.0,1971.1 L1564.4,1962.5" fill="none" stroke="#555" stroke-width="1.2"/><path d="M1569.4,1996.7 L1567.8,1988.2 L1570.2,1979.7 L1572.4,1971.3 L1570.6,1962.7" fill="none" stroke="#555" stroke-width="1.2"/><path d="M1584.2,1998.1 L1582.4,1989.5 L1584.6,1981.1 L1587.0,1972.7 L1585.4,1964.1" fill="none" stroke="#555" stroke-width="1.2"/><path d="M1590.4,1998.3 L1588.8,1989.8 L1591.2,1981.3 L1593.4,1972.9 L1591.6,1964.3" fill="none" stroke="#555" stroke-width="1.2"/><path d="M1605.2,1999.7 L1603.4,1991.1 L1605.6,1982.7 L1608.0,1974.3 L1606.4,1965.7" fill="none" stroke="#555" stroke-width="1.2"/><path d="M1611.4,1999.9 L1609.8,1991.4 L1612.2,1982.9 L1614.4,1974.5 L1612.6,1965.9" fill="none" stroke="#555" stroke-width="1.2"/><path d="M1626.2,2001.3 L1624.4,1992.7 L1626.6,1984.3 L1629.0,1975.9 L1627.4,1967.3" fill="none" stroke="#555" stroke-width="1.2"/><path d="M1632.4,2001.5 L1630.8,1993.0 L1633.2,1984.5 L1635.4,1976.1 L1633.6,1967.5" fill="none" stroke="#555" stroke-width="1.2"/><path d="M1647.2,2002.9 L1645.4,1994.3 L1647.6,1985.9 L1650.0,1977.5 L1648.4,1968.9" fill="none" stroke="#555" stroke-width="1.2"/><path d="M1653.4,2003.1 L1651.8,1994.6 L1654.2,1986.1 L1656.4,1977.7 L1654.6,1969.1" fill="none" stroke="#555" stroke-width="1.2"/><path d="M1342.9,1844.0 L1348.2,1849.0 L1350.1,1856.0 L1351.7,1863.1 L1356.9,1868.2" fill="none" stroke="#555" stroke-width="1.2"/><path d="M1337.5,1847.0 L1342.7,1852.2 L1344.3,1859.3 L1346.2,1866.3 L1351.5,1871.3" fill="none" stroke="#555" stroke-width="1.2"/><path d="M1331.6,1886.6 L1334.9,1893.2 L1334.3,1900.4 L1333.4,1907.6 L1336.5,1914.2" fill="none" stroke="#555" stroke-width="1.2"/><path d="M1325.5,1887.7 L1328.6,1894.3 L1327.7,1901.5 L1327.1,1908.7 L1330.4,1915.3" fill="none" stroke="#555" stroke-width="1.2"/><path d="M1399.1,1865.1 L1400.6,1872.3 L1398.1,1879.1 L1395.4,1885.9 L1396.6,1893.0" fill="none" stroke="#555" stroke-width="1.2"/><path d="M1392.9,1864.6 L1394.2,1871.7 L1391.5,1878.5 L1389.0,1885.3 L1390.5,1892.5" fill="none" stroke="#555" stroke-width="1.2"/><path d="M1377.2,1897.3 L1378.0,1904.6 L1375.0,1911.1 L1371.7,1917.7 L1372.3,1924.9" fill="none" stroke="#555" stroke-width="1.2"/><path d="M1371.1,1896.2 L1371.7,1903.4 L1368.4,1910.0 L1365.4,1916.5 L1366.2,1923.8" fill="none" stroke="#555" stroke-width="1.2"/><path d="M1442.0,1871.8 L1441.6,1879.1 L1437.5,1885.0 L1433.1,1890.9 L1432.4,1898.1" fill="none" stroke="#555" stroke-width="1.2"/><path d="M1436.2,1869.7 L1435.6,1876.9 L1431.2,1882.8 L1427.1,1888.7 L1426.6,1896.0" fill="none" stroke="#555" stroke-width="1.2"/><path d="M1482.2,1887.1 L1477.2,1892.4 L1470.2,1894.3 L1463.1,1895.9 L1458.0,1901.1" fill="none" stroke="#555" stroke-width="1.2"/><path d="M1479.2,1881.7 L1474.0,1886.9 L1466.9,1888.5 L1459.9,1890.4 L1454.9,1895.7" fill="none" stroke="#555" stroke-width="1.2"/><path d="M1438.1,1933.5 L1437.7,1940.8 L1433.6,1946.7 L1429.2,1952.6 L1428.5,1959.8" fill="none" stroke="#555" stroke-width="1.2"/><path d="M1432.3,1931.4 L1431.7,1938.6 L1427.3,1944.5 L1423.2,1950.4 L1422.7,1957.7" fill="none" stroke="#555" stroke-width="1.2"/><path d="M1387.9,1960.0 L1387.1,1952.7 L1390.1,1946.2 L1393.4,1939.6 L1392.8,1932.4" fill="none" stroke="#555" stroke-width="1.2"/><path d="M1394.0,1961.1 L1393.4,1953.9 L1396.7,1947.3 L1399.7,1940.8 L1398.9,1933.5" fill="none" stroke="#555" stroke-width="1.2"/><path d="M1351.1,1977.6 L1350.3,1970.3 L1353.3,1963.8 L1356.6,1957.2 L1356.0,1950.0" fill="none" stroke="#555" stroke-width="1.2"/><path d="M1357.2,1978.7 L1356.6,1971.5 L1359.9,1964.9 L1362.9,1958.4 L1362.1,1951.1" fill="none" stroke="#555" stroke-width="1.2"/><path d="M1431.2,1988.3 L1427.9,1981.7 L1428.5,1974.5 L1429.4,1967.3 L1426.3,1960.7" fill="none" stroke="#555" stroke-width="1.2"/><path d="M1437.3,1987.2 L1434.2,1980.6 L1435.1,1973.4 L1435.7,1966.2 L1432.4,1959.6" fill="none" stroke="#555" stroke-width="1.2"/><path d="M1327.0,2029.4 L1332.0,2024.1 L1339.0,2022.2 L1346.1,2020.6 L1351.2,2015.4" fill="none" stroke="#555" stroke-width="1.2"/><path d="M1330.0,2034.8 L1335.2,2029.6 L1342.3,2028.0 L1349.3,2026.1 L1354.3,2020.8" fill="none" stroke="#555" stroke-width="1.2"/><path d="M1379.1,2032.2 L1377.6,2025.0 L1380.1,2018.2 L1382.8,2011.4 L1381.6,2004.3" fill="none" stroke="#555" stroke-width="1.2"/><path d="M1385.3,2032.7 L1384.0,2025.6 L1386.7,2018.8 L1389.2,2012.0 L1387.7,2004.8" fill="none" stroke="#555" stroke-width="1.2"/><path d="M1423.9,2031.7 L1417.7,2027.7 L1414.7,2021.1 L1411.8,2014.4 L1405.9,2010.2" fill="none" stroke="#555" stroke-width="1.2"/><path d="M1428.6,2027.7 L1422.6,2023.6 L1419.8,2016.8 L1416.7,2010.3 L1410.6,2006.3" fill="none" stroke="#555" stroke-width="1.2"/><circle cx="1128.8" cy="2035.0" r="10" fill="url(#gHead)" stroke="#c4aa6a" stroke-width="1"/><circle cx="1146.5" cy="2031.1" r="10" fill="url(#gHead)" stroke="#c4aa6a" stroke-width="1"/><circle cx="1164.2" cy="2027.2" r="10" fill="url(#gHead)" stroke="#c4aa6a" stroke-width="1"/><circle cx="1181.9" cy="2023.3" r="10" fill="url(#gHead)" stroke="#c4aa6a" stroke-width="1"/><circle cx="1199.6" cy="2019.4" r="10" fill="url(#gHead)" stroke="#c4aa6a" stroke-width="1"/><circle cx="1217.3" cy="2015.5" r="10" fill="url(#gHead)" stroke="#c4aa6a" stroke-width="1"/><circle cx="1235.0" cy="2011.6" r="10" fill="url(#gHead)" stroke="#c4aa6a" stroke-width="1"/><circle cx="1252.7" cy="2007.7" r="10" fill="url(#gHead)" stroke="#c4aa6a" stroke-width="1"/><circle cx="1270.4" cy="2003.8" r="10" fill="url(#gHead)" stroke="#c4aa6a" stroke-width="1"/><circle cx="1288.1" cy="1999.9" r="10" fill="url(#gHead)" stroke="#c4aa6a" stroke-width="1"/><circle cx="1305.8" cy="1996.0" r="10" fill="url(#gHead)" stroke="#c4aa6a" stroke-width="1"/><circle cx="1323.5" cy="1992.1" r="10" fill="url(#gHead)" stroke="#c4aa6a" stroke-width="1"/><circle cx="1150.0" cy="1906.0" r="10" fill="url(#gHead)" stroke="#c4aa6a" stroke-width="1"/><circle cx="1170.5" cy="1907.5" r="10" fill="url(#gHead)" stroke="#c4aa6a" stroke-width="1"/><circle cx="1191.0" cy="1909.0" r="10" fill="url(#gHead)" stroke="#c4aa6a" stroke-width="1"/><circle cx="1211.5" cy="1910.5" r="10" fill="url(#gHead)" stroke="#c4aa6a" stroke-width="1"/><circle cx="1232.0" cy="1912.0" r="10" fill="url(#gHead)" stroke="#c4aa6a" stroke-width="1"/><circle cx="1252.5" cy="1913.5" r="10" fill="url(#gHead)" stroke="#c4aa6a" stroke-width="1"/><circle cx="1273.0" cy="1915.0" r="10" fill="url(#gHead)" stroke="#c4aa6a" stroke-width="1"/><circle cx="1293.5" cy="1916.5" r="10" fill="url(#gHead)" stroke="#c4aa6a" stroke-width="1"/><circle cx="1314.0" cy="1918.0" r="10" fill="url(#gHead)" stroke="#c4aa6a" stroke-width="1"/><circle cx="1132.0" cy="1922.0" r="10" fill="url(#gHead)" stroke="#c4aa6a" stroke-width="1"/><circle cx="1152.0" cy="1923.5" r="10" fill="url(#gHead)" stroke="#c4aa6a" stroke-width="1"/><circle cx="1172.0" cy="1925.0" r="10" fill="url(#gHead)" stroke="#c4aa6a" stroke-width="1"/><circle cx="1192.0" cy="1926.5" r="10" fill="url(#gHead)" stroke="#c4aa6a" stroke-width="1"/><circle cx="1212.0" cy="1928.0" r="10" fill="url(#gHead)" stroke="#c4aa6a" stroke-width="1"/><circle cx="1232.0" cy="1929.5" r="10" fill="url(#gHead)" stroke="#c4aa6a" stroke-width="1"/><circle cx="1252.0" cy="1931.0" r="10" fill="url(#gHead)" stroke="#c4aa6a" stroke-width="1"/><circle cx="1128.0" cy="1942.0" r="10" fill="url(#gHead)" stroke="#c4aa6a" stroke-width="1"/><circle cx="1148.0" cy="1943.0" r="10" fill="url(#gHead)" stroke="#c4aa6a" stroke-width="1"/><circle cx="1168.0" cy="1944.0" r="10" fill="url(#gHead)" stroke="#c4aa6a" stroke-width="1"/><circle cx="1188.0" cy="1945.0" r="10" fill="url(#gHead)" stroke="#c4aa6a" stroke-width="1"/><circle cx="1208.0" cy="1946.0" r="10" fill="url(#gHead)" stroke="#c4aa6a" stroke-width="1"/><circle cx="1228.0" cy="1947.0" r="10" fill="url(#gHead)" stroke="#c4aa6a" stroke-width="1"/><circle cx="1128.0" cy="1961.0" r="10" fill="url(#gHead)" stroke="#c4aa6a" stroke-width="1"/><circle cx="1149.0" cy="1961.0" r="10" fill="url(#gHead)" stroke="#c4aa6a" stroke-width="1"/><circle cx="1170.0" cy="1961.0" r="10" fill="url(#gHead)" stroke="#c4aa6a" stroke-width="1"/><circle cx="1191.0" cy="1961.0" r="10" fill="url(#gHead)" stroke="#c4aa6a" stroke-width="1"/><circle cx="1212.0" cy="1961.0" r="10" fill="url(#gHead)" stroke="#c4aa6a" stroke-width="1"/><circle cx="1439.0" cy="1924.7" r="10" fill="url(#gHead)" stroke="#c4aa6a" stroke-width="1"/><circle cx="1463.6" cy="1931.0" r="10" fill="url(#gHead)" stroke="#c4aa6a" stroke-width="1"/><circle cx="1484.7" cy="1934.3" r="10" fill="url(#gHead)" stroke="#c4aa6a" stroke-width="1"/><circle cx="1506.1" cy="1939.0" r="10" fill="url(#gHead)" stroke="#c4aa6a" stroke-width="1"/><circle cx="1526.9" cy="1945.5" r="10" fill="url(#gHead)" stroke="#c4aa6a" stroke-width="1"/><circle cx="1547.1" cy="1951.9" r="10" fill="url(#gHead)" stroke="#c4aa6a" stroke-width="1"/><circle cx="1567.5" cy="1956.6" r="10" fill="url(#gHead)" stroke="#c4aa6a" stroke-width="1"/><circle cx="1589.3" cy="1958.2" r="10" fill="url(#gHead)" stroke="#c4aa6a" stroke-width="1"/><circle cx="1611.0" cy="1960.5" r="10" fill="url(#gHead)" stroke="#c4aa6a" stroke-width="1"/><circle cx="1632.5" cy="1958.2" r="10" fill="url(#gHead)" stroke="#c4aa6a" stroke-width="1"/><circle cx="1440.0" cy="1996.0" r="10" fill="url(#gHead)" stroke="#c4aa6a" stroke-width="1"/><circle cx="1461.0" cy="1997.6" r="10" fill="url(#gHead)" stroke="#c4aa6a" stroke-width="1"/><circle cx="1482.0" cy="1999.2" r="10" fill="url(#gHead)" stroke="#c4aa6a" stroke-width="1"/><circle cx="1503.0" cy="2000.8" r="10" fill="url(#gHead)" stroke="#c4aa6a" stroke-width="1"/><circle cx="1524.0" cy="2002.4" r="10" fill="url(#gHead)" stroke="#c4aa6a" stroke-width="1"/><circle cx="1545.0" cy="2004.0" r="10" fill="url(#gHead)" stroke="#c4aa6a" stroke-width="1"/><circle cx="1566.0" cy="2005.6" r="10" fill="url(#gHead)" stroke="#c4aa6a" stroke-width="1"/><circle cx="1587.0" cy="2007.2" r="10" fill="url(#gHead)" stroke="#c4aa6a" stroke-width="1"/><circle cx="1608.0" cy="2008.8" r="10" fill="url(#gHead)" stroke="#c4aa6a" stroke-width="1"/><circle cx="1629.0" cy="2010.4" r="10" fill="url(#gHead)" stroke="#c4aa6a" stroke-width="1"/><circle cx="1650.0" cy="2012.0" r="10" fill="url(#gHead)" stroke="#c4aa6a" stroke-width="1"/><circle cx="1450.0" cy="2016.0" r="10" fill="url(#gHead)" stroke="#c4aa6a" stroke-width="1"/><circle cx="1471.0" cy="2017.8" r="10" fill="url(#gHead)" stroke="#c4aa6a" stroke-width="1"/><circle cx="1492.0" cy="2019.6" r="10" fill="url(#gHead)" stroke="#c4aa6a" stroke-width="1"/><circle cx="1513.0" cy="2021.4" r="10" fill="url(#gHead)" stroke="#c4aa6a" stroke-width="1"/><circle cx="1534.0" cy="2023.2" r="10" fill="url(#gHead)" stroke="#c4aa6a" stroke-width="1"/><circle cx="1555.0" cy="2025.0" r="10" fill="url(#gHead)" stroke="#c4aa6a" stroke-width="1"/><circle cx="1576.0" cy="2026.8" r="10" fill="url(#gHead)" stroke="#c4aa6a" stroke-width="1"/><circle cx="1597.0" cy="2028.6" r="10" fill="url(#gHead)" stroke="#c4aa6a" stroke-width="1"/><circle cx="1618.0" cy="2030.4" r="10" fill="url(#gHead)" stroke="#c4aa6a" stroke-width="1"/><circle cx="1639.0" cy="2032.2" r="10" fill="url(#gHead)" stroke="#c4aa6a" stroke-width="1"/><circle cx="1470.0" cy="2036.0" r="10" fill="url(#gHead)" stroke="#c4aa6a" stroke-width="1"/><circle cx="1490.0" cy="2037.8" r="10" fill="url(#gHead)" stroke="#c4aa6a" stroke-width="1"/><circle cx="1510.0" cy="2039.6" r="10" fill="url(#gHead)" stroke="#c4aa6a" stroke-width="1"/><circle cx="1530.0" cy="2041.4" r="10" fill="url(#gHead)" stroke="#c4aa6a" stroke-width="1"/><circle cx="1550.0" cy="2043.2" r="10" fill="url(#gHead)" stroke="#c4aa6a" stroke-width="1"/><circle cx="1570.0" cy="2045.0" r="10" fill="url(#gHead)" stroke="#c4aa6a" stroke-width="1"/><circle cx="1590.0" cy="2046.8" r="10" fill="url(#gHead)" stroke="#c4aa6a" stroke-width="1"/><circle cx="1610.0" cy="2048.6" r="10" fill="url(#gHead)" stroke="#c4aa6a" stroke-width="1"/><circle cx="1630.0" cy="2050.4" r="10" fill="url(#gHead)" stroke="#c4aa6a" stroke-width="1"/><circle cx="1495.0" cy="2056.0" r="10" fill="url(#gHead)" stroke="#c4aa6a" stroke-width="1"/><circle cx="1515.0" cy="2057.5" r="10" fill="url(#gHead)" stroke="#c4aa6a" stroke-width="1"/><circle cx="1535.0" cy="2059.0" r="10" fill="url(#gHead)" stroke="#c4aa6a" stroke-width="1"/><circle cx="1555.0" cy="2060.5" r="10" fill="url(#gHead)" stroke="#c4aa6a" stroke-width="1"/><circle cx="1575.0" cy="2062.0" r="10" fill="url(#gHead)" stroke="#c4aa6a" stroke-width="1"/><circle cx="1595.0" cy="2063.5" r="10" fill="url(#gHead)" stroke="#c4aa6a" stroke-width="1"/><circle cx="1615.0" cy="2065.0" r="10" fill="url(#gHead)" stroke="#c4aa6a" stroke-width="1"/><circle cx="1635.0" cy="2066.5" r="10" fill="url(#gHead)" stroke="#c4aa6a" stroke-width="1"/><circle cx="1335.7" cy="1837.7" r="10" fill="url(#gHead)" stroke="#c4aa6a" stroke-width="1"/><circle cx="1327.0" cy="1878.3" r="10" fill="url(#gHead)" stroke="#c4aa6a" stroke-width="1"/><circle cx="1396.8" cy="1855.9" r="10" fill="url(#gHead)" stroke="#c4aa6a" stroke-width="1"/><circle cx="1375.7" cy="1887.9" r="10" fill="url(#gHead)" stroke="#c4aa6a" stroke-width="1"/><circle cx="1442.2" cy="1862.3" r="10" fill="url(#gHead)" stroke="#c4aa6a" stroke-width="1"/><circle cx="1488.5" cy="1879.9" r="10" fill="url(#gHead)" stroke="#c4aa6a" stroke-width="1"/><circle cx="1438.3" cy="1924.0" r="10" fill="url(#gHead)" stroke="#c4aa6a" stroke-width="1"/><circle cx="1389.4" cy="1969.4" r="10" fill="url(#gHead)" stroke="#c4aa6a" stroke-width="1"/><circle cx="1352.6" cy="1987.0" r="10" fill="url(#gHead)" stroke="#c4aa6a" stroke-width="1"/><circle cx="1435.8" cy="1996.6" r="10" fill="url(#gHead)" stroke="#c4aa6a" stroke-width="1"/><circle cx="1320.7" cy="2036.6" r="10" fill="url(#gHead)" stroke="#c4aa6a" stroke-width="1"/><circle cx="1381.4" cy="2041.4" r="10" fill="url(#gHead)" stroke="#c4aa6a" stroke-width="1"/><circle cx="1432.0" cy="2036.6" r="10" fill="url(#gHead)" stroke="#c4aa6a" stroke-width="1"/><circle cx="1211.3" cy="1889.5" r="13" fill="url(#gROS)"/><circle cx="1326.4" cy="1955.0" r="13" fill="url(#gROS)"/><circle cx="1416.6" cy="1940.7" r="13" fill="url(#gROS)"/><circle cx="1453.4" cy="1972.6" r="13" fill="url(#gROS)"/><circle cx="1534.3" cy="1924.7" r="13" fill="url(#gROS)"/><circle cx="1288.7" cy="2030.2" r="13" fill="url(#gROS)"/><circle cx="1221.5" cy="2047.8" r="13" fill="url(#gROS)"/><circle cx="1469.4" cy="2044.6" r="13" fill="url(#gROS)"/><circle cx="1555.7" cy="2083.0" r="13" fill="url(#gROS)"/><circle cx="1776.4" cy="1930.0" r="13" fill="url(#gROS)"/><path d="M1781.8,1994.4 L1783.6,2003.0 L1781.4,2011.4 L1779.0,2019.8 L1780.6,2028.4" fill="none" stroke="#555" stroke-width="1.2"/><path d="M1775.6,1994.2 L1777.2,2002.7 L1774.8,2011.2 L1772.6,2019.6 L1774.4,2028.2" fill="none" stroke="#555" stroke-width="1.2"/><circle cx="1779.0" cy="1985.3" r="12" fill="url(#gHead)" stroke="#c4aa6a" stroke-width="1"/></svg></body></html>
